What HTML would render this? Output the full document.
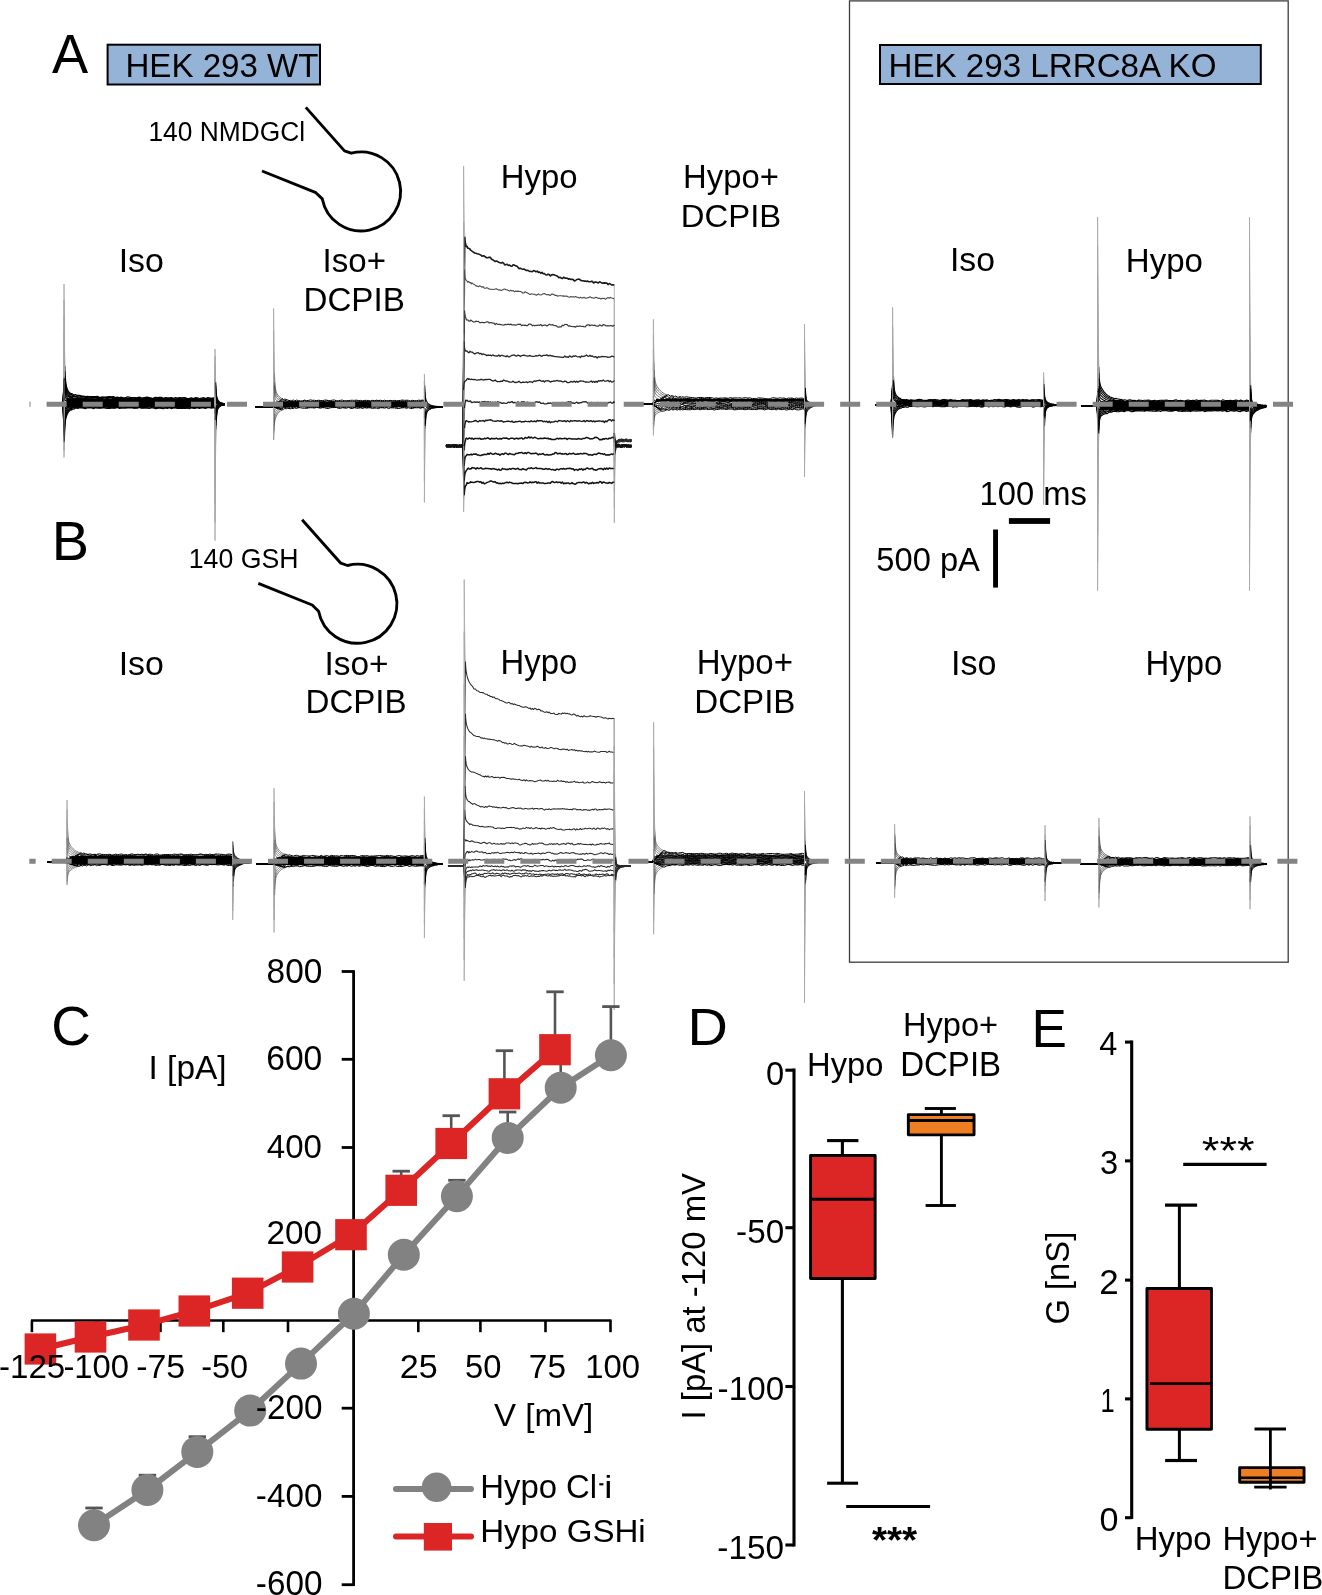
<!DOCTYPE html>
<html><head><meta charset="utf-8"><style>html,body{margin:0;padding:0;background:#fff;overflow:hidden}svg{display:block;will-change:transform}</style></head>
<body><svg width="1322" height="1595" viewBox="0 0 1322 1595" font-family="Liberation Sans, sans-serif">
<rect width="1322" height="1595" fill="#fff"/>
<rect x="849.5" y="0.9" width="438.7" height="961.3" fill="none" stroke="#3c3c3c" stroke-width="1.3"/>
<g fill="none" stroke-linejoin="round">
<rect x="66.5" y="398.5" width="148" height="9.0" fill="#000"/>
<polyline points="47.0,404.3 49.0,404.3 51.0,404.6 53.0,404.3 55.0,404.3 57.0,404.4 59.0,404.1 61.0,404.3 63.0,404.4 64.9,366.4 65.2,374.6 65.5,379.6 65.8,382.7 66.1,384.8 66.8,387.8 67.5,389.5 68.2,390.8 68.9,391.8 69.6,392.6 70.3,393.2 71.0,393.9 71.7,393.7 72.4,393.9 73.8,395.0 75.2,394.7 76.6,395.1 78.0,395.4 79.4,395.3 81.4,395.9 83.4,396.0 85.4,396.6 87.4,396.3 89.4,396.5 91.4,396.5 93.4,396.7 95.4,396.6 97.4,396.4 99.4,397.3 101.4,397.4 103.4,397.3 105.4,397.2 107.4,396.8 109.4,396.7 111.4,396.8 113.4,396.6 115.4,397.5 117.4,397.1 119.4,397.7 121.4,397.2 123.4,397.9 125.4,397.8 127.4,396.8 129.4,397.1 131.4,398.0 133.4,397.5 135.4,398.1 137.4,397.5 139.4,397.1 141.4,397.8 143.4,398.0 145.4,397.4 147.4,397.2 149.4,397.5 151.4,398.3 153.4,398.1 155.4,397.3 157.4,397.5 159.4,397.3 161.4,397.3 163.4,398.2 165.4,397.5 167.4,397.9 169.4,397.8 171.4,397.5 173.4,398.2 175.4,397.5 177.4,398.1 179.4,397.5 181.4,397.9 183.4,397.6 185.4,397.7 187.4,398.6 189.4,398.4 191.4,397.8 193.4,398.5 195.4,397.7 197.4,397.9 199.4,398.5 201.4,398.2 203.4,397.6 205.4,398.6 207.4,397.7 209.4,397.8 211.4,398.4 213.4,397.9 215.0,398.1" stroke="#000" stroke-width="1.2"/>
<polyline points="216.2,422.9 216.5,417.1 216.8,413.7 217.1,411.5 217.8,409.0 218.5,407.8 219.2,407.0 219.9,406.4 220.6,405.8 221.3,405.4 222.0,405.1 222.7,405.2 223.4,404.8 224.8,404.8" stroke="#000" stroke-width="1.2"/>
<polyline points="64.0,404.3 64.0,284.0 64.0,284.0 64.3,327.7 64.6,352.3 64.9,366.4" stroke="#a6a6a6" stroke-width="0.8"/>
<polyline points="215.0,398.1 215.0,540.6 215.0,540.6 215.3,482.9 215.6,450.9 215.9,433.0 216.2,422.9" stroke="#a6a6a6" stroke-width="0.8"/>
<polyline points="47.0,404.2 49.0,404.3 51.0,404.6 53.0,404.3 55.0,404.3 57.0,404.5 59.0,404.1 61.0,404.1 63.0,404.5 64.9,371.1 65.2,378.2 65.5,382.5 65.8,385.2 66.1,387.1 66.8,389.6 67.5,391.2 68.2,392.3 68.9,393.1 69.6,393.8 70.3,394.3 71.0,394.3 71.7,394.6 72.4,396.0 73.8,395.5 75.2,396.4 76.6,396.1 78.0,396.9 79.4,396.8 81.4,396.5 83.4,396.5 85.4,397.2 87.4,396.6 89.4,396.8 91.4,397.3 93.4,397.7 95.4,397.5 97.4,397.2 99.4,398.0 101.4,397.2 103.4,397.0 105.4,397.4 107.4,397.6 109.4,397.2 111.4,397.4 113.4,397.7 115.4,398.0 117.4,397.5 119.4,397.8 121.4,398.5 123.4,398.6 125.4,398.3 127.4,398.4 129.4,398.3 131.4,397.8 133.4,397.7 135.4,397.7 137.4,398.8 139.4,398.5 141.4,398.9 143.4,397.8 145.4,398.5 147.4,398.4 149.4,398.7 151.4,398.2 153.4,399.0 155.4,398.0 157.4,398.5 159.4,398.8 161.4,399.0 163.4,398.8 165.4,398.8 167.4,398.9 169.4,399.1 171.4,398.4 173.4,398.8 175.4,399.1 177.4,399.1 179.4,398.5 181.4,399.0 183.4,399.1 185.4,398.7 187.4,398.8 189.4,398.5 191.4,398.8 193.4,398.8 195.4,398.2 197.4,398.9 199.4,399.3 201.4,399.2 203.4,399.0 205.4,398.6 207.4,399.0 209.4,398.8 211.4,398.7 213.4,399.2 215.0,398.7" stroke="#000" stroke-width="1.2"/>
<polyline points="215.9,429.2 216.2,420.4 216.5,415.4 216.8,412.4 217.1,410.6 217.8,408.4 218.5,407.3 219.2,406.6 219.9,405.9 220.6,405.9 221.3,405.2 222.0,405.3 222.7,405.0 223.4,404.7 224.8,404.8" stroke="#000" stroke-width="1.2"/>
<polyline points="64.0,404.3 64.0,300.0 64.0,300.0 64.3,337.7 64.6,359.0 64.9,371.1" stroke="#a6a6a6" stroke-width="0.8"/>
<polyline points="215.0,398.7 215.0,522.4 215.0,522.4 215.3,472.5 215.6,444.7 215.9,429.2" stroke="#a6a6a6" stroke-width="0.8"/>
<polyline points="47.0,404.3 49.0,404.4 51.0,404.6 53.0,404.2 55.0,404.0 57.0,404.2 59.0,404.4 61.0,404.1 63.0,404.1 64.9,375.9 65.2,381.8 65.5,385.5 65.8,387.8 66.1,389.3 66.8,391.5 67.5,392.8 68.2,393.7 68.9,394.4 69.6,395.0 70.3,396.0 71.0,396.3 71.7,396.0 72.4,396.5 73.8,396.6 75.2,396.6 76.6,397.2 78.0,397.8 79.4,397.9 81.4,397.8 83.4,398.2 85.4,397.5 87.4,397.5 89.4,397.9 91.4,397.7 93.4,397.7 95.4,398.0 97.4,398.3 99.4,398.2 101.4,398.1 103.4,398.8 105.4,399.0 107.4,398.4 109.4,398.0 111.4,398.0 113.4,399.0 115.4,398.1 117.4,398.9 119.4,398.8 121.4,398.5 123.4,399.1 125.4,398.2 127.4,398.4 129.4,398.8 131.4,398.3 133.4,399.3 135.4,398.6 137.4,398.5 139.4,398.4 141.4,399.2 143.4,399.0 145.4,399.2 147.4,399.3 149.4,399.5 151.4,399.7 153.4,399.3 155.4,398.8 157.4,399.1 159.4,398.8 161.4,398.6 163.4,399.2 165.4,399.5 167.4,398.8 169.4,399.0 171.4,399.1 173.4,399.5 175.4,399.3 177.4,399.4 179.4,399.6 181.4,399.2 183.4,399.7 185.4,399.8 187.4,398.8 189.4,399.9 191.4,399.6 193.4,398.9 195.4,399.3 197.4,399.5 199.4,399.9 201.4,399.2 203.4,399.5 205.4,399.8 207.4,399.7 209.4,399.9 211.4,399.4 213.4,399.6 215.0,399.4" stroke="#000" stroke-width="1.2"/>
<polyline points="215.9,425.4 216.2,418.0 216.5,413.7 216.8,411.2 217.1,409.6 217.8,407.8 218.5,406.9 219.2,406.1 219.9,406.0 220.6,405.7 221.3,405.4 222.0,405.2 222.7,404.7 223.4,405.0 224.8,404.9" stroke="#000" stroke-width="1.2"/>
<polyline points="64.0,404.3 64.0,316.1 64.0,316.1 64.3,347.8 64.6,365.6 64.9,375.9" stroke="#a6a6a6" stroke-width="0.8"/>
<polyline points="215.0,399.4 215.0,504.3 215.0,504.3 215.3,462.0 215.6,438.5 215.9,425.4" stroke="#a6a6a6" stroke-width="0.8"/>
<polyline points="47.0,404.6 49.0,404.3 51.0,404.5 53.0,404.2 55.0,404.5 57.0,404.5 59.0,404.2 61.0,404.0 63.0,404.3 64.6,372.3 64.9,380.6 65.2,385.5 65.5,388.4 65.8,390.3 66.1,391.5 66.8,393.3 67.5,394.4 68.2,395.2 68.9,395.8 69.6,396.6 70.3,396.2 71.0,396.5 71.7,397.2 72.4,397.6 73.8,398.1 75.2,398.1 76.6,398.6 78.0,398.2 79.4,398.8 81.4,397.9 83.4,398.1 85.4,398.6 87.4,398.4 89.4,399.0 91.4,398.9 93.4,398.9 95.4,399.3 97.4,399.0 99.4,398.8 101.4,398.9 103.4,399.5 105.4,399.6 107.4,398.8 109.4,399.6 111.4,399.8 113.4,399.3 115.4,399.4 117.4,399.0 119.4,399.5 121.4,399.4 123.4,399.6 125.4,398.9 127.4,400.1 129.4,399.6 131.4,399.5 133.4,400.0 135.4,399.7 137.4,399.6 139.4,399.9 141.4,399.2 143.4,399.8 145.4,399.6 147.4,400.3 149.4,400.3 151.4,399.5 153.4,399.8 155.4,399.4 157.4,399.8 159.4,400.2 161.4,400.3 163.4,399.9 165.4,399.7 167.4,399.5 169.4,400.1 171.4,400.4 173.4,399.5 175.4,400.3 177.4,399.4 179.4,399.6 181.4,399.6 183.4,400.2 185.4,399.8 187.4,399.8 189.4,400.1 191.4,399.5 193.4,400.3 195.4,399.6 197.4,400.0 199.4,399.7 201.4,399.7 203.4,400.1 205.4,400.0 207.4,399.9 209.4,400.0 211.4,400.1 213.4,399.7 215.0,400.1" stroke="#000" stroke-width="1.2"/>
<polyline points="215.9,421.5 216.2,415.5 216.5,412.0 216.8,409.9 217.1,408.6 217.8,407.1 218.5,406.4 219.2,405.7 219.9,405.6 220.6,405.4 221.3,405.1 222.0,405.1 222.7,404.9 223.4,404.9 224.8,404.4" stroke="#000" stroke-width="1.2"/>
<polyline points="64.0,404.3 64.0,332.1 64.0,332.1 64.3,357.8 64.6,372.3" stroke="#a6a6a6" stroke-width="0.8"/>
<polyline points="215.0,400.1 215.0,486.1 215.0,486.1 215.3,451.5 215.6,432.3 215.9,421.5" stroke="#a6a6a6" stroke-width="0.8"/>
<polyline points="47.0,404.4 49.0,404.5 51.0,404.5 53.0,404.2 55.0,404.2 57.0,404.6 59.0,404.1 61.0,404.6 63.0,404.5 64.6,379.0 64.9,385.4 65.2,389.1 65.5,391.4 65.8,392.8 66.1,393.8 66.8,395.2 67.5,396.0 68.2,396.6 68.9,396.6 69.6,397.3 70.3,398.0 71.0,397.4 71.7,397.8 72.4,398.6 73.8,399.1 75.2,399.3 76.6,398.5 78.0,399.0 79.4,399.4 81.4,399.2 83.4,399.5 85.4,399.0 87.4,398.9 89.4,399.0 91.4,399.0 93.4,399.7 95.4,399.7 97.4,399.8 99.4,399.3 101.4,399.4 103.4,399.5 105.4,400.3 107.4,400.5 109.4,400.5 111.4,399.5 113.4,399.5 115.4,400.6 117.4,400.1 119.4,400.4 121.4,400.0 123.4,400.1 125.4,400.2 127.4,400.2 129.4,400.4 131.4,399.7 133.4,400.6 135.4,400.7 137.4,400.0 139.4,400.3 141.4,400.7 143.4,400.3 145.4,400.1 147.4,400.0 149.4,400.5 151.4,399.9 153.4,401.0 155.4,400.9 157.4,400.8 159.4,401.0 161.4,400.7 163.4,400.4 165.4,400.7 167.4,400.6 169.4,401.2 171.4,401.0 173.4,400.3 175.4,401.1 177.4,400.9 179.4,401.0 181.4,401.0 183.4,400.5 185.4,401.1 187.4,401.1 189.4,400.9 191.4,401.0 193.4,401.0 195.4,400.6 197.4,401.0 199.4,400.2 201.4,400.5 203.4,400.7 205.4,400.1 207.4,400.5 209.4,400.9 211.4,400.9 213.4,400.4 215.0,400.7" stroke="#000" stroke-width="1.2"/>
<polyline points="215.6,426.1 215.9,417.7 216.2,413.0 216.5,410.3 216.8,408.7 217.1,407.7 217.8,406.5 218.5,406.2 219.2,405.7 219.9,405.2 220.6,405.2 221.3,405.0 222.0,404.8 222.7,404.6 223.4,404.9 224.8,404.6" stroke="#000" stroke-width="1.2"/>
<polyline points="64.0,404.3 64.0,348.2 64.0,348.2 64.3,367.9 64.6,379.0" stroke="#a6a6a6" stroke-width="0.8"/>
<polyline points="215.0,400.7 215.0,467.9 215.0,467.9 215.3,441.0 215.6,426.1" stroke="#a6a6a6" stroke-width="0.8"/>
<polyline points="47.0,404.4 49.0,404.5 51.0,404.6 53.0,404.0 55.0,404.4 57.0,404.4 59.0,404.2 61.0,404.2 63.0,404.0 64.3,377.9 64.6,385.7 64.9,390.1 65.2,392.7 65.5,394.3 65.8,395.3 66.1,396.0 66.8,397.0 67.5,398.2 68.2,398.1 68.9,399.0 69.6,398.8 70.3,399.2 71.0,398.6 71.7,399.3 72.4,399.6 73.8,399.0 75.2,400.2 76.6,399.4 78.0,399.8 79.4,399.5 81.4,400.0 83.4,400.2 85.4,399.6 87.4,400.7 89.4,400.2 91.4,400.3 93.4,400.5 95.4,400.2 97.4,400.2 99.4,400.7 101.4,400.6 103.4,400.3 105.4,400.9 107.4,400.4 109.4,400.1 111.4,400.4 113.4,400.2 115.4,400.4 117.4,401.1 119.4,400.7 121.4,401.3 123.4,401.2 125.4,400.4 127.4,401.5 129.4,401.5 131.4,400.5 133.4,401.5 135.4,400.9 137.4,401.0 139.4,401.6 141.4,400.8 143.4,401.1 145.4,401.6 147.4,401.4 149.4,401.1 151.4,401.7 153.4,401.6 155.4,401.3 157.4,400.7 159.4,401.4 161.4,401.2 163.4,400.9 165.4,400.7 167.4,401.3 169.4,400.8 171.4,401.2 173.4,401.5 175.4,401.2 177.4,401.0 179.4,401.4 181.4,401.2 183.4,401.7 185.4,401.4 187.4,401.9 189.4,401.9 191.4,401.6 193.4,401.0 195.4,400.9 197.4,401.8 199.4,401.7 201.4,401.5 203.4,401.2 205.4,401.1 207.4,401.6 209.4,401.5 211.4,401.5 213.4,401.5 215.0,401.4" stroke="#000" stroke-width="1.2"/>
<polyline points="215.6,419.8 215.9,413.9 216.2,410.5 216.5,408.6 216.8,407.4 217.1,406.7 217.8,406.0 218.5,405.3 219.2,405.0 219.9,405.3 220.6,405.1 221.3,405.0 222.0,404.4 222.7,404.3 223.4,404.4 224.8,404.4" stroke="#000" stroke-width="1.2"/>
<polyline points="64.0,404.3 64.0,364.2 64.0,364.2 64.3,377.9" stroke="#a6a6a6" stroke-width="0.8"/>
<polyline points="215.0,401.4 215.0,449.7 215.0,449.7 215.3,430.5 215.6,419.8" stroke="#a6a6a6" stroke-width="0.8"/>
<polyline points="47.0,404.4 49.0,404.1 51.0,404.3 53.0,404.0 55.0,404.1 57.0,404.4 59.0,404.3 61.0,404.4 63.0,404.2 64.0,380.2 64.3,388.0 64.6,392.4 64.9,394.9 65.2,396.4 65.5,397.3 65.8,397.9 66.1,398.3 66.8,399.2 67.5,399.4 68.2,399.8 68.9,399.3 69.6,399.8 70.3,399.7 71.0,400.5 71.7,400.1 72.4,400.5 73.8,401.0 75.2,400.3 76.6,400.7 78.0,401.0 79.4,401.2 81.4,400.7 83.4,400.7 85.4,400.4 87.4,401.4 89.4,400.5 91.4,400.6 93.4,401.2 95.4,401.1 97.4,401.4 99.4,401.0 101.4,401.6 103.4,400.8 105.4,401.0 107.4,401.6 109.4,400.9 111.4,401.2 113.4,401.7 115.4,401.7 117.4,401.3 119.4,401.1 121.4,401.4 123.4,401.9 125.4,401.5 127.4,401.2 129.4,401.9 131.4,401.8 133.4,402.2 135.4,402.3 137.4,402.2 139.4,401.7 141.4,402.1 143.4,401.6 145.4,401.6 147.4,401.7 149.4,402.4 151.4,402.3 153.4,401.6 155.4,401.7 157.4,401.7 159.4,401.7 161.4,401.8 163.4,401.8 165.4,401.6 167.4,402.0 169.4,402.3 171.4,402.0 173.4,402.4 175.4,402.0 177.4,401.6 179.4,402.3 181.4,402.4 183.4,401.7 185.4,401.4 187.4,402.0 189.4,402.1 191.4,402.1 193.4,402.6 195.4,402.2 197.4,402.4 199.4,401.5 201.4,402.1 203.4,402.4 205.4,401.5 207.4,401.5 209.4,402.3 211.4,402.5 213.4,401.6 215.0,402.1" stroke="#000" stroke-width="1.2"/>
<polyline points="215.3,420.0 215.6,413.6 215.9,410.0 216.2,408.0 216.5,406.9 216.8,406.3 217.1,405.5 217.8,405.4 218.5,405.1 219.2,404.7 219.9,404.6 220.6,404.8 221.3,404.6 222.0,404.7 222.7,404.4 223.4,404.3 224.8,404.7" stroke="#000" stroke-width="1.2"/>
<polyline points="64.0,404.3 64.0,380.2 64.0,380.2" stroke="#a6a6a6" stroke-width="0.8"/>
<polyline points="215.0,402.1 215.0,431.6 215.0,431.6 215.3,420.0" stroke="#a6a6a6" stroke-width="0.8"/>
<polyline points="47.0,404.4 49.0,404.3 51.0,404.3 53.0,404.4 55.0,404.4 57.0,404.5 59.0,404.2 61.0,404.5 63.0,404.4 64.0,396.3 64.0,396.3 64.3,398.0 64.6,399.0 64.9,400.1 65.2,400.5 65.5,400.4 65.8,400.4 66.1,400.7 66.8,401.0 67.5,400.7 68.2,400.8 68.9,400.6 69.6,401.4 70.3,401.7 71.0,401.0 71.7,400.8 72.4,400.9 73.8,401.3 75.2,401.2 76.6,402.0 78.0,401.0 79.4,401.3 81.4,401.1 83.4,401.8 85.4,402.0 87.4,401.4 89.4,401.3 91.4,401.8 93.4,402.0 95.4,402.4 97.4,401.4 99.4,401.5 101.4,401.7 103.4,401.7 105.4,401.8 107.4,402.4 109.4,402.3 111.4,401.8 113.4,401.8 115.4,402.0 117.4,401.9 119.4,402.6 121.4,402.1 123.4,402.4 125.4,402.7 127.4,402.3 129.4,402.1 131.4,402.9 133.4,402.9 135.4,402.2 137.4,402.5 139.4,403.0 141.4,402.4 143.4,402.1 145.4,402.0 147.4,403.0 149.4,402.9 151.4,402.4 153.4,402.6 155.4,402.6 157.4,402.3 159.4,403.2 161.4,402.8 163.4,402.3 165.4,402.0 167.4,402.6 169.4,402.5 171.4,403.0 173.4,402.9 175.4,402.8 177.4,402.2 179.4,402.2 181.4,402.4 183.4,402.4 185.4,403.1 187.4,402.7 189.4,402.8 191.4,403.3 193.4,402.4 195.4,402.7 197.4,402.3 199.4,403.0 201.4,402.1 203.4,403.1 205.4,403.1 207.4,403.1 209.4,402.2 211.4,402.4 213.4,403.0 215.0,402.7" stroke="#000" stroke-width="1.2"/>
<polyline points="215.0,413.4 215.0,413.4 215.3,409.5 215.6,407.4 215.9,406.0 216.2,405.5 216.5,405.1 216.8,405.2 217.1,404.8 217.8,404.8 218.5,404.4 219.2,404.7 219.9,404.4 220.6,404.7 221.3,404.1 222.0,404.6 222.7,404.2 223.4,404.4 224.8,404.3" stroke="#000" stroke-width="1.2"/>
<polyline points="64.0,404.3 64.0,396.3" stroke="#a6a6a6" stroke-width="0.8"/>
<polyline points="215.0,402.7 215.0,413.4" stroke="#a6a6a6" stroke-width="0.8"/>
<polyline points="47.0,404.1 49.0,404.5 51.0,404.2 53.0,404.2 55.0,404.0 57.0,404.2 59.0,404.3 61.0,404.4 63.0,404.2 64.0,407.8 64.0,407.8 64.3,405.6 64.6,404.4 64.9,403.6 65.2,403.8 65.5,403.3 65.8,403.0 66.1,402.1 66.8,402.4 67.5,402.7 68.2,402.0 68.9,402.4 69.6,402.2 70.3,401.7 71.0,402.9 71.7,402.6 72.4,401.9 73.8,402.4 75.2,402.0 76.6,402.2 78.0,402.4 79.4,402.1 81.4,402.2 83.4,402.3 85.4,402.7 87.4,402.2 89.4,402.2 91.4,402.9 93.4,402.4 95.4,403.2 97.4,402.8 99.4,403.0 101.4,402.6 103.4,403.2 105.4,402.3 107.4,402.4 109.4,402.4 111.4,403.1 113.4,403.2 115.4,402.6 117.4,402.9 119.4,403.4 121.4,403.1 123.4,402.5 125.4,402.7 127.4,402.7 129.4,402.6 131.4,403.0 133.4,402.6 135.4,403.6 137.4,403.0 139.4,403.2 141.4,403.3 143.4,403.5 145.4,403.6 147.4,403.1 149.4,403.0 151.4,403.1 153.4,402.6 155.4,403.1 157.4,403.5 159.4,403.8 161.4,403.6 163.4,403.5 165.4,403.4 167.4,402.7 169.4,403.1 171.4,403.1 173.4,403.5 175.4,402.8 177.4,403.2 179.4,403.3 181.4,403.7 183.4,403.7 185.4,403.5 187.4,402.9 189.4,403.7 191.4,403.8 193.4,403.4 195.4,403.2 197.4,403.4 199.4,402.9 201.4,403.6 203.4,403.9 205.4,403.4 207.4,403.6 209.4,403.8 211.4,403.0 213.4,403.9 215.0,403.4" stroke="#000" stroke-width="1.2"/>
<polyline points="215.0,400.6 215.0,400.6 215.3,402.0 215.6,402.9 215.9,403.1 216.2,403.3 216.5,403.6 216.8,403.9 217.1,404.0 217.8,403.9 218.5,404.3 219.2,404.0 219.9,404.1 220.6,404.0 221.3,404.5 222.0,404.0 222.7,404.5 223.4,404.3 224.8,404.3" stroke="#000" stroke-width="1.2"/>
<polyline points="64.0,404.3 64.0,407.8" stroke="#a6a6a6" stroke-width="0.8"/>
<polyline points="215.0,403.4 215.0,400.6" stroke="#a6a6a6" stroke-width="0.8"/>
<polyline points="47.0,404.3 49.0,404.2 51.0,404.5 53.0,404.6 55.0,404.5 57.0,404.4 59.0,404.1 61.0,404.5 63.0,404.2 64.0,414.9 64.0,414.9 64.3,410.8 64.6,408.3 64.9,406.9 65.2,406.0 65.5,405.5 65.8,405.1 66.1,404.2 66.8,403.9 67.5,404.6 68.2,404.3 68.9,403.8 69.6,403.3 70.3,403.6 71.0,403.6 71.7,403.1 72.4,403.3 73.8,403.6 75.2,402.6 76.6,402.8 78.0,403.1 79.4,402.8 81.4,403.1 83.4,403.3 85.4,402.9 87.4,403.3 89.4,403.1 91.4,403.5 93.4,403.2 95.4,403.6 97.4,402.9 99.4,403.7 101.4,403.1 103.4,404.1 105.4,403.7 107.4,403.6 109.4,403.5 111.4,403.8 113.4,403.9 115.4,404.0 117.4,404.0 119.4,403.7 121.4,404.3 123.4,404.1 125.4,404.2 127.4,403.7 129.4,403.7 131.4,403.9 133.4,404.3 135.4,403.8 137.4,403.9 139.4,403.8 141.4,404.3 143.4,403.6 145.4,403.3 147.4,404.2 149.4,404.4 151.4,404.2 153.4,404.0 155.4,404.2 157.4,403.7 159.4,404.0 161.4,403.4 163.4,403.5 165.4,403.9 167.4,404.0 169.4,403.8 171.4,403.4 173.4,404.2 175.4,404.0 177.4,403.7 179.4,403.7 181.4,403.9 183.4,403.7 185.4,403.5 187.4,404.5 189.4,404.6 191.4,404.2 193.4,404.4 195.4,403.9 197.4,404.4 199.4,403.7 201.4,404.3 203.4,404.1 205.4,404.5 207.4,403.5 209.4,404.4 211.4,403.6 213.4,404.1 215.0,404.0" stroke="#000" stroke-width="1.2"/>
<polyline points="215.0,393.2 215.0,393.2 215.3,397.5 215.6,399.9 215.9,401.2 216.2,402.0 216.5,402.8 216.8,402.6 217.1,402.9 217.8,403.3 218.5,403.5 219.2,403.5 219.9,404.1 220.6,404.2 221.3,404.0 222.0,404.0 222.7,404.2 223.4,403.9 224.8,403.9" stroke="#000" stroke-width="1.2"/>
<polyline points="64.0,404.3 64.0,414.9" stroke="#a6a6a6" stroke-width="0.8"/>
<polyline points="215.0,404.0 215.0,393.2" stroke="#a6a6a6" stroke-width="0.8"/>
<polyline points="47.0,404.5 49.0,404.2 51.0,404.3 53.0,404.6 55.0,404.6 57.0,404.3 59.0,404.1 61.0,404.2 63.0,404.6 64.0,422.0 64.3,415.9 64.6,412.3 64.9,410.2 65.2,408.8 65.5,408.0 65.8,407.3 66.1,406.9 66.8,406.1 67.5,405.3 68.2,405.4 68.9,404.6 69.6,405.2 70.3,404.0 71.0,403.9 71.7,404.6 72.4,404.0 73.8,404.6 75.2,404.5 76.6,404.3 78.0,403.6 79.4,404.2 81.4,404.6 83.4,404.0 85.4,403.6 87.4,403.8 89.4,403.9 91.4,404.4 93.4,403.8 95.4,403.8 97.4,403.9 99.4,404.4 101.4,404.6 103.4,404.1 105.4,404.5 107.4,404.8 109.4,404.5 111.4,404.0 113.4,404.1 115.4,404.9 117.4,404.6 119.4,404.2 121.4,404.6 123.4,404.0 125.4,405.0 127.4,404.4 129.4,404.5 131.4,404.5 133.4,404.0 135.4,404.6 137.4,404.3 139.4,404.2 141.4,404.9 143.4,404.1 145.4,404.3 147.4,404.9 149.4,404.3 151.4,404.3 153.4,404.6 155.4,404.2 157.4,405.1 159.4,405.2 161.4,404.1 163.4,404.6 165.4,404.9 167.4,404.5 169.4,405.1 171.4,404.6 173.4,404.3 175.4,404.7 177.4,404.8 179.4,404.5 181.4,404.8 183.4,405.0 185.4,404.7 187.4,404.7 189.4,405.1 191.4,404.9 193.4,404.7 195.4,405.2 197.4,404.3 199.4,405.0 201.4,404.3 203.4,404.8 205.4,404.4 207.4,404.6 209.4,405.0 211.4,405.0 213.4,405.0 215.0,404.7" stroke="#000" stroke-width="1.2"/>
<polyline points="215.0,385.9 215.3,392.9 215.6,396.9 215.9,399.2 216.2,400.5 216.5,401.4 216.8,401.9 217.1,402.3 217.8,402.7 218.5,403.2 219.2,403.2 219.9,403.6 220.6,403.7 221.3,403.6 222.0,404.0 222.7,404.2 223.4,404.1 224.8,404.4" stroke="#000" stroke-width="1.2"/>
<polyline points="64.0,404.3 64.0,422.0 64.0,422.0" stroke="#a6a6a6" stroke-width="0.8"/>
<polyline points="215.0,404.7 215.0,385.9 215.0,385.9" stroke="#a6a6a6" stroke-width="0.8"/>
<polyline points="47.0,404.1 49.0,404.1 51.0,404.0 53.0,404.3 55.0,404.3 57.0,404.3 59.0,404.2 61.0,404.5 63.0,404.0 64.0,429.1 64.3,421.0 64.6,416.3 64.9,413.4 65.2,411.7 65.5,410.5 65.8,409.6 66.1,409.0 66.8,407.9 67.5,407.2 68.2,406.7 68.9,406.3 69.6,405.7 70.3,405.8 71.0,405.0 71.7,405.7 72.4,404.8 73.8,404.7 75.2,404.5 76.6,405.1 78.0,405.2 79.4,405.2 81.4,404.3 83.4,404.7 85.4,404.7 87.4,404.5 89.4,405.5 91.4,404.4 93.4,404.9 95.4,405.3 97.4,405.6 99.4,404.6 101.4,405.0 103.4,405.3 105.4,404.5 107.4,404.8 109.4,405.5 111.4,404.7 113.4,405.0 115.4,404.9 117.4,405.0 119.4,404.6 121.4,404.6 123.4,405.8 125.4,405.5 127.4,405.5 129.4,404.9 131.4,404.9 133.4,405.3 135.4,404.9 137.4,405.2 139.4,405.7 141.4,405.1 143.4,405.0 145.4,405.8 147.4,405.4 149.4,404.7 151.4,405.1 153.4,405.4 155.4,404.7 157.4,405.1 159.4,405.5 161.4,405.7 163.4,405.4 165.4,405.8 167.4,405.3 169.4,405.2 171.4,405.7 173.4,405.2 175.4,405.7 177.4,405.0 179.4,405.1 181.4,404.9 183.4,405.4 185.4,404.9 187.4,405.0 189.4,405.0 191.4,405.3 193.4,405.1 195.4,405.3 197.4,405.9 199.4,405.6 201.4,405.8 203.4,405.0 205.4,405.2 207.4,404.8 209.4,405.6 211.4,405.2 213.4,405.1 215.0,405.4" stroke="#000" stroke-width="1.2"/>
<polyline points="215.3,388.3 215.6,393.9 215.9,397.1 216.2,399.0 216.5,400.2 216.8,401.0 217.1,401.5 217.8,402.2 218.5,402.4 219.2,402.9 219.9,403.2 220.6,403.5 221.3,403.9 222.0,403.9 222.7,403.8 223.4,403.9 224.8,403.9" stroke="#000" stroke-width="1.2"/>
<polyline points="64.0,404.3 64.0,429.1 64.0,429.1" stroke="#a6a6a6" stroke-width="0.8"/>
<polyline points="215.0,405.4 215.0,378.5 215.0,378.5 215.3,388.3" stroke="#a6a6a6" stroke-width="0.8"/>
<polyline points="47.0,404.6 49.0,404.2 51.0,404.5 53.0,404.4 55.0,404.5 57.0,404.0 59.0,404.2 61.0,404.2 63.0,404.0 64.3,426.2 64.6,420.3 64.9,416.7 65.2,414.5 65.5,413.0 65.8,411.9 66.1,411.1 66.8,409.8 67.5,408.8 68.2,408.1 68.9,407.6 69.6,406.6 70.3,406.6 71.0,406.4 71.7,406.4 72.4,405.7 73.8,406.2 75.2,405.5 76.6,406.0 78.0,405.9 79.4,405.2 81.4,405.3 83.4,405.4 85.4,405.9 87.4,405.6 89.4,405.5 91.4,406.1 93.4,405.4 95.4,405.5 97.4,405.5 99.4,405.4 101.4,405.2 103.4,405.2 105.4,405.9 107.4,405.9 109.4,406.2 111.4,406.4 113.4,405.6 115.4,406.0 117.4,406.3 119.4,405.5 121.4,406.1 123.4,406.1 125.4,406.4 127.4,406.3 129.4,405.6 131.4,406.1 133.4,405.4 135.4,405.8 137.4,405.8 139.4,405.4 141.4,405.8 143.4,405.7 145.4,405.9 147.4,405.7 149.4,405.5 151.4,405.8 153.4,405.9 155.4,405.6 157.4,406.2 159.4,405.7 161.4,405.5 163.4,405.8 165.4,405.9 167.4,405.6 169.4,406.1 171.4,406.2 173.4,406.0 175.4,406.2 177.4,405.4 179.4,405.9 181.4,405.8 183.4,405.5 185.4,405.9 187.4,405.5 189.4,406.0 191.4,406.1 193.4,406.0 195.4,405.8 197.4,405.7 199.4,405.4 201.4,405.8 203.4,406.5 205.4,406.1 207.4,405.7 209.4,406.2 211.4,405.6 213.4,406.0 215.0,406.0" stroke="#000" stroke-width="1.2"/>
<polyline points="215.3,383.8 215.6,391.0 215.9,395.1 216.2,397.5 216.5,399.0 216.8,400.0 217.1,400.7 217.8,401.7 218.5,402.3 219.2,402.8 219.9,403.3 220.6,403.2 221.3,403.6 222.0,403.9 222.7,404.0 223.4,404.0 224.8,404.1" stroke="#000" stroke-width="1.2"/>
<polyline points="64.0,404.3 64.0,436.2 64.0,436.2 64.3,426.2" stroke="#a6a6a6" stroke-width="0.8"/>
<polyline points="215.0,406.0 215.0,371.1 215.0,371.1 215.3,383.8" stroke="#a6a6a6" stroke-width="0.8"/>
<polyline points="47.0,404.2 49.0,404.2 51.0,404.2 53.0,404.5 55.0,404.5 57.0,404.2 59.0,404.5 61.0,404.0 63.0,404.1 64.3,431.3 64.6,424.3 64.9,420.0 65.2,417.3 65.5,415.5 65.8,414.2 66.1,413.2 66.8,411.6 67.5,410.4 68.2,409.6 68.9,408.9 69.6,408.4 70.3,407.8 71.0,407.3 71.7,407.3 72.4,407.3 73.8,406.9 75.2,406.8 76.6,406.6 78.0,406.9 79.4,407.0 81.4,406.2 83.4,406.3 85.4,406.9 87.4,406.2 89.4,406.7 91.4,406.7 93.4,406.7 95.4,407.0 97.4,406.9 99.4,406.1 101.4,406.7 103.4,406.5 105.4,406.6 107.4,406.4 109.4,406.3 111.4,406.8 113.4,406.6 115.4,406.2 117.4,406.3 119.4,406.4 121.4,406.2 123.4,406.6 125.4,406.1 127.4,406.1 129.4,406.1 131.4,406.1 133.4,406.8 135.4,406.1 137.4,406.6 139.4,406.9 141.4,406.6 143.4,406.2 145.4,407.1 147.4,407.1 149.4,406.1 151.4,406.3 153.4,406.6 155.4,407.0 157.4,406.5 159.4,406.9 161.4,406.3 163.4,406.9 165.4,406.4 167.4,406.5 169.4,407.0 171.4,407.1 173.4,407.1 175.4,406.7 177.4,406.6 179.4,406.9 181.4,406.8 183.4,407.1 185.4,407.0 187.4,406.2 189.4,406.5 191.4,406.9 193.4,406.3 195.4,406.3 197.4,406.1 199.4,406.8 201.4,407.2 203.4,407.2 205.4,406.2 207.4,406.9 209.4,406.6 211.4,406.8 213.4,406.6 215.0,406.7" stroke="#000" stroke-width="1.2"/>
<polyline points="215.3,379.2 215.6,388.0 215.9,393.0 216.2,396.0 216.5,397.9 216.8,399.1 217.1,399.9 217.8,401.1 218.5,401.8 219.2,402.6 219.9,403.0 220.6,402.8 221.3,403.5 222.0,403.3 222.7,403.4 223.4,403.7 224.8,404.1" stroke="#000" stroke-width="1.2"/>
<polyline points="64.0,404.3 64.0,443.3 64.0,443.3 64.3,431.3" stroke="#a6a6a6" stroke-width="0.8"/>
<polyline points="215.0,406.7 215.0,363.7 215.0,363.7 215.3,379.2" stroke="#a6a6a6" stroke-width="0.8"/>
<polyline points="47.0,404.6 49.0,404.1 51.0,404.2 53.0,404.0 55.0,404.3 57.0,404.3 59.0,404.2 61.0,404.2 63.0,404.5 64.3,436.4 64.6,428.2 64.9,423.3 65.2,420.1 65.5,418.0 65.8,416.5 66.1,415.3 66.8,413.4 67.5,412.0 68.2,411.0 68.9,410.2 69.6,409.6 70.3,408.7 71.0,408.2 71.7,408.9 72.4,407.8 73.8,407.8 75.2,407.1 76.6,407.2 78.0,406.8 79.4,407.4 81.4,406.8 83.4,407.4 85.4,407.0 87.4,406.9 89.4,407.2 91.4,407.1 93.4,406.9 95.4,406.7 97.4,406.7 99.4,407.7 101.4,407.0 103.4,406.8 105.4,406.9 107.4,407.2 109.4,407.9 111.4,406.9 113.4,407.7 115.4,407.3 117.4,407.2 119.4,407.7 121.4,407.2 123.4,406.8 125.4,407.4 127.4,407.5 129.4,407.4 131.4,407.0 133.4,407.8 135.4,407.7 137.4,407.9 139.4,407.2 141.4,407.7 143.4,407.6 145.4,406.9 147.4,406.7 149.4,406.9 151.4,406.9 153.4,406.8 155.4,407.1 157.4,407.6 159.4,407.1 161.4,407.3 163.4,406.7 165.4,407.0 167.4,407.9 169.4,406.7 171.4,407.4 173.4,407.7 175.4,407.7 177.4,407.6 179.4,407.2 181.4,407.7 183.4,407.7 185.4,407.7 187.4,407.9 189.4,406.9 191.4,407.9 193.4,407.2 195.4,407.6 197.4,407.0 199.4,407.8 201.4,406.8 203.4,407.4 205.4,407.0 207.4,407.2 209.4,407.2 211.4,407.5 213.4,407.7 215.0,407.3" stroke="#000" stroke-width="1.2"/>
<polyline points="215.6,385.0 215.9,391.0 216.2,394.5 216.5,396.7 216.8,398.1 217.1,399.1 217.8,400.5 218.5,401.4 219.2,402.0 219.9,402.4 220.6,402.9 221.3,403.1 222.0,403.3 222.7,403.8 223.4,403.6 224.8,403.7" stroke="#000" stroke-width="1.2"/>
<polyline points="64.0,404.3 64.0,450.4 64.0,450.4 64.3,436.4" stroke="#a6a6a6" stroke-width="0.8"/>
<polyline points="215.0,407.3 215.0,356.4 215.0,356.4 215.3,374.7 215.6,385.0" stroke="#a6a6a6" stroke-width="0.8"/>
<polyline points="47.0,404.2 49.0,404.4 51.0,404.1 53.0,404.4 55.0,404.3 57.0,404.4 59.0,404.1 61.0,404.1 63.0,404.1 64.3,441.6 64.6,432.2 64.9,426.5 65.2,422.9 65.5,420.5 65.8,418.7 66.1,417.4 66.8,415.2 67.5,413.6 68.2,412.4 68.9,411.5 69.6,410.8 70.3,410.2 71.0,409.3 71.7,410.0 72.4,409.0 73.8,409.2 75.2,408.1 76.6,408.2 78.0,408.4 79.4,407.7 81.4,407.8 83.4,408.2 85.4,408.6 87.4,407.8 89.4,407.6 91.4,407.8 93.4,408.6 95.4,407.6 97.4,408.2 99.4,407.9 101.4,408.2 103.4,407.7 105.4,408.1 107.4,408.5 109.4,408.4 111.4,408.2 113.4,408.0 115.4,408.1 117.4,407.5 119.4,408.4 121.4,408.2 123.4,407.9 125.4,408.2 127.4,407.9 129.4,407.9 131.4,407.7 133.4,408.1 135.4,408.1 137.4,408.0 139.4,407.4 141.4,408.2 143.4,407.9 145.4,408.1 147.4,408.1 149.4,408.5 151.4,407.6 153.4,408.0 155.4,408.6 157.4,408.3 159.4,407.8 161.4,408.3 163.4,408.6 165.4,407.9 167.4,408.4 169.4,407.6 171.4,408.6 173.4,408.0 175.4,407.7 177.4,408.4 179.4,408.2 181.4,408.5 183.4,408.4 185.4,408.4 187.4,408.0 189.4,408.6 191.4,407.5 193.4,408.4 195.4,408.3 197.4,407.7 199.4,408.4 201.4,407.9 203.4,408.0 205.4,408.4 207.4,407.6 209.4,407.7 211.4,408.2 213.4,407.5 215.0,408.0" stroke="#000" stroke-width="1.2"/>
<polyline points="215.6,382.1 215.9,388.9 216.2,393.0 216.5,395.5 216.8,397.2 217.1,398.3 217.8,399.9 218.5,400.9 219.2,401.6 219.9,402.2 220.6,402.7 221.3,403.1 222.0,403.2 222.7,403.3 223.4,403.8 224.8,404.1" stroke="#000" stroke-width="1.2"/>
<polyline points="64.0,404.3 64.0,457.5 64.0,457.5 64.3,441.6" stroke="#a6a6a6" stroke-width="0.8"/>
<polyline points="215.0,408.0 215.0,349.0 215.0,349.0 215.3,370.1 215.6,382.1" stroke="#a6a6a6" stroke-width="0.8"/>
<rect x="276.1" y="401.5" width="147.79999999999995" height="5.5" fill="#000"/>
<polyline points="255.5,407.2 257.5,407.0 259.5,407.2 261.5,407.2 263.5,406.8 265.5,406.9 267.5,406.8 269.5,406.7 271.5,406.9 273.5,407.2 282.0,398.5 283.4,399.5 284.8,399.1 286.2,399.4 287.6,399.9 289.0,400.6 290.4,400.4 291.8,400.8 293.2,399.9 294.6,401.0 296.6,400.1 298.6,400.6 300.6,400.9 302.6,400.8 304.6,400.1 306.6,400.7 308.6,400.4 310.6,399.9 312.6,400.3 314.6,400.3 316.6,400.7 318.6,400.2 320.6,400.6 322.6,400.7 324.6,400.1 326.6,400.1 328.6,400.7 330.6,400.5 332.6,400.1 334.6,400.0 336.6,401.0 338.6,400.6 340.6,400.3 342.6,400.1 344.6,401.1 346.6,400.7 348.6,400.8 350.6,400.3 352.6,400.3 354.6,400.4 356.6,400.1 358.6,400.7 360.6,400.4 362.6,400.9 364.6,400.4 366.6,400.4 368.6,400.5 370.6,401.0 372.6,400.3 374.6,400.7 376.6,400.2 378.6,400.6 380.6,400.2 382.6,400.9 384.6,400.2 386.6,400.9 388.6,400.7 390.6,400.4 392.6,401.0 394.6,400.4 396.6,400.8 398.6,400.6 400.6,400.4 402.6,400.0 404.6,400.4 406.6,400.2 408.6,400.4 410.6,401.0 412.6,400.3 414.6,400.7 416.6,400.7 418.6,400.2 420.6,400.4 422.6,400.1 424.4,400.5" stroke="#000" stroke-width="1.0"/>
<polyline points="274.5,375.2 274.8,381.8 275.1,385.7 275.4,388.2 275.7,389.9 276.4,392.3 277.1,393.8 277.8,394.9 278.5,395.8 279.2,396.6 279.9,397.2 280.6,397.7 281.3,398.2 282.0,398.5" stroke="#333" stroke-width="0.7"/>
<polyline points="425.3,428.9 425.6,421.9 425.9,417.9 426.2,415.5 426.5,414.0 427.2,412.1 427.9,411.1 428.6,410.4 429.3,409.8 430.0,409.4 430.7,409.2 431.4,408.5 432.1,408.4 432.8,408.1 434.2,408.0 435.6,407.8 437.0,407.5 438.4,407.3 439.8,407.0 441.2,407.4 442.6,406.9" stroke="#000" stroke-width="1.0"/>
<polyline points="273.6,407.0 273.6,308.5 273.6,308.5 273.9,343.9 274.2,363.8 274.5,375.2" stroke="#a6a6a6" stroke-width="0.8"/>
<polyline points="424.4,400.5 424.4,502.5 424.4,502.5 424.7,463.0 425.0,441.1 425.3,428.9" stroke="#a6a6a6" stroke-width="0.8"/>
<polyline points="255.5,406.9 257.5,406.9 259.5,407.1 261.5,407.1 263.5,406.9 265.5,407.2 267.5,407.3 269.5,406.7 271.5,407.1 273.5,407.0 282.0,399.8 283.4,400.1 284.8,400.5 286.2,400.6 287.6,401.2 289.0,401.2 290.4,401.7 291.8,401.8 293.2,401.8 294.6,401.1 296.6,401.7 298.6,401.5 300.6,401.6 302.6,401.9 304.6,400.8 306.6,401.3 308.6,401.2 310.6,401.5 312.6,401.0 314.6,401.9 316.6,401.0 318.6,401.2 320.6,400.9 322.6,401.2 324.6,401.6 326.6,400.8 328.6,400.9 330.6,401.5 332.6,401.5 334.6,401.6 336.6,401.0 338.6,401.7 340.6,401.6 342.6,401.7 344.6,400.9 346.6,401.3 348.6,400.8 350.6,401.8 352.6,401.9 354.6,401.8 356.6,400.8 358.6,401.2 360.6,401.4 362.6,401.4 364.6,400.9 366.6,401.7 368.6,401.1 370.6,401.3 372.6,400.9 374.6,401.4 376.6,400.9 378.6,400.8 380.6,401.3 382.6,401.1 384.6,401.7 386.6,401.0 388.6,401.2 390.6,400.8 392.6,401.0 394.6,401.3 396.6,401.4 398.6,401.3 400.6,401.8 402.6,400.9 404.6,401.8 406.6,400.9 408.6,401.9 410.6,401.4 412.6,401.2 414.6,401.5 416.6,401.8 418.6,401.9 420.6,401.2 422.6,400.7 424.4,401.3" stroke="#000" stroke-width="1.0"/>
<polyline points="274.2,373.0 274.5,381.7 274.8,386.8 275.1,389.9 275.4,391.8 275.7,393.1 276.4,394.9 277.1,396.1 277.8,397.0 278.5,397.7 279.2,398.3 279.9,398.8 280.6,399.2 281.3,399.5 282.0,399.8" stroke="#333" stroke-width="0.7"/>
<polyline points="425.3,424.0 425.6,418.6 425.9,415.5 426.2,413.6 426.5,412.4 427.2,411.0 427.9,410.2 428.6,409.6 429.3,409.2 430.0,408.6 430.7,408.7 431.4,408.4 432.1,408.2 432.8,407.7 434.2,407.7 435.6,407.2 437.0,407.1 438.4,407.1 439.8,407.4 441.2,407.2 442.6,407.3" stroke="#000" stroke-width="1.0"/>
<polyline points="273.6,407.0 273.6,330.4 273.6,330.4 273.9,357.7 274.2,373.0" stroke="#a6a6a6" stroke-width="0.8"/>
<polyline points="424.4,401.3 424.4,481.3 424.4,481.3 424.7,450.6 425.0,433.5 425.3,424.0" stroke="#a6a6a6" stroke-width="0.8"/>
<polyline points="255.5,406.7 257.5,406.9 259.5,406.7 261.5,406.9 263.5,406.8 265.5,407.3 267.5,406.9 269.5,407.0 271.5,407.1 273.5,407.2 280.6,400.6 281.3,401.4 282.0,401.2 283.4,401.4 284.8,402.1 286.2,401.7 287.6,401.7 289.0,402.3 290.4,401.7 291.8,401.9 293.2,402.0 294.6,402.1 296.6,402.0 298.6,402.1 300.6,402.1 302.6,401.6 304.6,402.6 306.6,401.6 308.6,402.2 310.6,402.2 312.6,402.0 314.6,401.8 316.6,401.7 318.6,402.0 320.6,401.9 322.6,402.1 324.6,401.8 326.6,402.5 328.6,402.2 330.6,401.6 332.6,402.1 334.6,402.7 336.6,401.6 338.6,402.3 340.6,402.7 342.6,402.0 344.6,402.3 346.6,402.0 348.6,401.9 350.6,402.3 352.6,402.3 354.6,401.9 356.6,402.2 358.6,402.2 360.6,402.5 362.6,401.6 364.6,401.7 366.6,401.9 368.6,401.9 370.6,402.5 372.6,402.1 374.6,402.6 376.6,402.0 378.6,401.9 380.6,402.4 382.6,401.7 384.6,402.7 386.6,402.6 388.6,402.0 390.6,401.9 392.6,402.5 394.6,402.5 396.6,402.3 398.6,401.6 400.6,402.5 402.6,401.6 404.6,402.3 406.6,402.2 408.6,402.7 410.6,402.3 412.6,401.6 414.6,402.7 416.6,402.5 418.6,402.3 420.6,401.6 422.6,402.5 424.4,402.2" stroke="#000" stroke-width="1.0"/>
<polyline points="274.2,382.2 274.5,388.3 274.8,391.9 275.1,394.0 275.4,395.4 275.7,396.3 276.4,397.6 277.1,398.4 277.8,399.0 278.5,399.6 279.2,400.0 279.9,400.3 280.6,400.6" stroke="#333" stroke-width="0.7"/>
<polyline points="425.0,426.0 425.3,419.1 425.6,415.3 425.9,413.0 426.2,411.7 426.5,410.9 427.2,409.8 427.9,409.3 428.6,408.8 429.3,408.7 430.0,408.6 430.7,408.4 431.4,407.7 432.1,407.9 432.8,407.6 434.2,407.6 435.6,407.3 437.0,407.2 438.4,407.1 439.8,406.9 441.2,407.0 442.6,407.2" stroke="#000" stroke-width="1.0"/>
<polyline points="273.6,407.0 273.6,352.3 273.6,352.3 273.9,371.4 274.2,382.2" stroke="#a6a6a6" stroke-width="0.8"/>
<polyline points="424.4,402.2 424.4,460.1 424.4,460.1 424.7,438.1 425.0,426.0" stroke="#a6a6a6" stroke-width="0.8"/>
<polyline points="255.5,406.7 257.5,406.8 259.5,407.2 261.5,407.1 263.5,407.0 265.5,406.8 267.5,406.8 269.5,406.9 271.5,407.3 273.5,407.0 278.5,401.4 279.2,402.2 279.9,401.5 280.6,402.0 281.3,402.3 282.0,402.8 283.4,402.1 284.8,403.1 286.2,402.7 287.6,402.3 289.0,402.8 290.4,402.8 291.8,403.2 293.2,403.5 294.6,403.0 296.6,403.2 298.6,402.9 300.6,403.3 302.6,402.5 304.6,403.3 306.6,402.6 308.6,403.1 310.6,402.6 312.6,402.8 314.6,402.6 316.6,402.8 318.6,403.1 320.6,403.0 322.6,402.9 324.6,403.1 326.6,403.4 328.6,402.8 330.6,403.1 332.6,403.0 334.6,403.6 336.6,402.8 338.6,403.2 340.6,402.7 342.6,402.7 344.6,403.3 346.6,403.1 348.6,402.7 350.6,402.5 352.6,403.4 354.6,402.9 356.6,403.3 358.6,402.9 360.6,403.1 362.6,403.1 364.6,403.6 366.6,403.5 368.6,402.9 370.6,403.0 372.6,402.7 374.6,403.3 376.6,402.5 378.6,402.8 380.6,403.4 382.6,402.4 384.6,403.2 386.6,403.1 388.6,403.1 390.6,402.8 392.6,402.6 394.6,403.5 396.6,403.3 398.6,403.4 400.6,402.5 402.6,403.3 404.6,402.7 406.6,402.6 408.6,403.0 410.6,403.1 412.6,402.5 414.6,403.3 416.6,403.1 418.6,403.5 420.6,403.5 422.6,403.2 424.4,403.0" stroke="#000" stroke-width="1.0"/>
<polyline points="273.9,385.2 274.2,391.3 274.5,394.9 274.8,396.9 275.1,398.2 275.4,399.0 275.7,399.5 276.4,400.3 277.1,400.8 277.8,401.1 278.5,401.4" stroke="#333" stroke-width="0.7"/>
<polyline points="424.7,425.7 425.0,418.4 425.3,414.3 425.6,412.0 425.9,410.6 426.2,409.8 426.5,409.3 427.2,408.6 427.9,408.6 428.6,408.3 429.3,407.8 430.0,408.0 430.7,407.8 431.4,407.4 432.1,407.3 432.8,407.1 434.2,407.3 435.6,407.0 437.0,407.0 438.4,406.9 439.8,406.8 441.2,407.0 442.6,406.9" stroke="#000" stroke-width="1.0"/>
<polyline points="273.6,407.0 273.6,374.2 273.6,374.2 273.9,385.2" stroke="#a6a6a6" stroke-width="0.8"/>
<polyline points="424.4,403.0 424.4,438.8 424.4,438.8 424.7,425.7" stroke="#a6a6a6" stroke-width="0.8"/>
<polyline points="255.5,406.9 257.5,406.9 259.5,407.0 261.5,407.2 263.5,406.8 265.5,407.2 267.5,407.2 269.5,407.1 271.5,407.0 273.5,407.1 275.1,402.3 275.4,402.6 275.7,402.9 276.4,403.4 277.1,403.4 277.8,402.9 278.5,402.8 279.2,403.9 279.9,403.3 280.6,403.9 281.3,403.3 282.0,403.6 283.4,403.5 284.8,404.0 286.2,404.3 287.6,403.8 289.0,403.9 290.4,403.6 291.8,403.5 293.2,404.4 294.6,403.4 296.6,404.4 298.6,404.0 300.6,403.3 302.6,404.3 304.6,403.4 306.6,403.9 308.6,403.4 310.6,404.4 312.6,403.6 314.6,404.3 316.6,403.3 318.6,404.0 320.6,403.3 322.6,403.3 324.6,403.9 326.6,404.4 328.6,404.1 330.6,404.3 332.6,404.2 334.6,403.9 336.6,403.3 338.6,403.9 340.6,403.5 342.6,403.9 344.6,403.7 346.6,403.8 348.6,403.5 350.6,404.1 352.6,403.7 354.6,403.8 356.6,403.3 358.6,403.8 360.6,403.9 362.6,404.4 364.6,403.9 366.6,403.4 368.6,403.6 370.6,403.6 372.6,404.1 374.6,404.4 376.6,404.4 378.6,404.4 380.6,404.3 382.6,404.3 384.6,404.4 386.6,403.3 388.6,403.8 390.6,403.9 392.6,404.1 394.6,404.0 396.6,404.0 398.6,404.4 400.6,403.3 402.6,403.9 404.6,404.4 406.6,403.3 408.6,403.4 410.6,404.3 412.6,404.4 414.6,403.3 416.6,403.3 418.6,404.2 420.6,404.1 422.6,403.9 424.4,403.8" stroke="#000" stroke-width="1.0"/>
<polyline points="273.6,396.1 273.6,396.1 273.9,398.9 274.2,400.5 274.5,401.4 274.8,402.0 275.1,402.3" stroke="#333" stroke-width="0.7"/>
<polyline points="424.4,417.6 424.4,417.6 424.7,413.2 425.0,410.8 425.3,409.4 425.6,408.7 425.9,408.4 426.2,408.1 426.5,407.5 427.2,407.3 427.9,407.6 428.6,407.7 429.3,407.5 430.0,407.2 430.7,407.1 431.4,407.1 432.1,406.9 432.8,407.3 434.2,406.9 435.6,407.1 437.0,407.1 438.4,406.9 439.8,407.1 441.2,407.0 442.6,406.9" stroke="#000" stroke-width="1.0"/>
<polyline points="273.6,407.0 273.6,396.1" stroke="#a6a6a6" stroke-width="0.8"/>
<polyline points="424.4,403.8 424.4,417.6" stroke="#a6a6a6" stroke-width="0.8"/>
<polyline points="255.5,407.2 257.5,406.8 259.5,406.8 261.5,406.9 263.5,407.0 265.5,407.2 267.5,406.9 269.5,406.8 271.5,407.1 273.5,406.9 274.8,406.4 275.1,406.1 275.4,405.6 275.7,406.2 276.4,405.2 277.1,405.1 277.8,405.1 278.5,405.0 279.2,405.4 279.9,405.2 280.6,405.3 281.3,405.0 282.0,404.4 283.4,405.1 284.8,404.5 286.2,404.4 287.6,404.6 289.0,405.3 290.4,404.5 291.8,404.5 293.2,405.2 294.6,405.3 296.6,404.5 298.6,404.2 300.6,405.0 302.6,405.0 304.6,404.5 306.6,405.0 308.6,404.5 310.6,404.4 312.6,404.8 314.6,405.0 316.6,404.6 318.6,405.0 320.6,404.1 322.6,404.7 324.6,404.5 326.6,404.1 328.6,405.2 330.6,404.2 332.6,404.3 334.6,405.1 336.6,405.2 338.6,405.2 340.6,404.5 342.6,405.2 344.6,404.2 346.6,404.9 348.6,405.2 350.6,404.3 352.6,404.2 354.6,404.9 356.6,405.1 358.6,404.9 360.6,405.2 362.6,404.6 364.6,404.5 366.6,404.2 368.6,404.4 370.6,405.2 372.6,404.2 374.6,404.3 376.6,404.5 378.6,404.1 380.6,404.4 382.6,404.3 384.6,404.2 386.6,404.7 388.6,404.7 390.6,404.7 392.6,405.0 394.6,404.7 396.6,405.2 398.6,404.2 400.6,404.3 402.6,404.2 404.6,404.4 406.6,405.0 408.6,405.2 410.6,404.7 412.6,404.3 414.6,404.5 416.6,404.7 418.6,404.4 420.6,405.0 422.6,405.2 424.4,404.7" stroke="#000" stroke-width="1.0"/>
<polyline points="273.6,410.7 273.6,410.7 273.9,408.6 274.2,407.5 274.5,406.8 274.8,406.4" stroke="#333" stroke-width="0.7"/>
<polyline points="424.4,403.3 424.4,403.3 424.7,404.6 425.0,405.3 425.3,405.8 425.6,406.2 425.9,406.1 426.2,406.1 426.5,406.6 427.2,406.7 427.9,406.3 428.6,406.8 429.3,406.6 430.0,406.5 430.7,406.6 431.4,406.6 432.1,407.0 432.8,406.7 434.2,406.6 435.6,406.8 437.0,407.1 438.4,407.0 439.8,407.1 441.2,407.0 442.6,406.8" stroke="#000" stroke-width="1.0"/>
<polyline points="273.6,407.0 273.6,410.7" stroke="#a6a6a6" stroke-width="0.8"/>
<polyline points="424.4,404.7 424.4,403.3" stroke="#a6a6a6" stroke-width="0.8"/>
<polyline points="255.5,406.7 257.5,406.9 259.5,406.7 261.5,406.9 263.5,407.1 265.5,406.9 267.5,407.0 269.5,407.1 271.5,406.9 273.5,406.9 278.5,407.1 279.2,407.3 279.9,406.7 280.6,406.3 281.3,406.3 282.0,406.1 283.4,405.8 284.8,406.3 286.2,405.4 287.6,406.2 289.0,406.0 290.4,406.0 291.8,405.2 293.2,405.6 294.6,406.1 296.6,405.3 298.6,405.1 300.6,405.8 302.6,405.2 304.6,405.6 306.6,405.1 308.6,406.0 310.6,405.2 312.6,405.0 314.6,405.7 316.6,405.3 318.6,405.6 320.6,405.5 322.6,406.0 324.6,405.5 326.6,405.4 328.6,404.9 330.6,405.5 332.6,405.2 334.6,405.6 336.6,405.7 338.6,405.5 340.6,405.0 342.6,405.5 344.6,405.5 346.6,405.7 348.6,406.1 350.6,405.2 352.6,405.4 354.6,405.0 356.6,405.9 358.6,405.2 360.6,405.9 362.6,405.9 364.6,405.2 366.6,406.0 368.6,405.5 370.6,405.4 372.6,405.6 374.6,406.0 376.6,405.5 378.6,405.5 380.6,405.2 382.6,405.9 384.6,405.5 386.6,405.3 388.6,405.1 390.6,405.2 392.6,405.9 394.6,405.9 396.6,406.1 398.6,406.0 400.6,405.7 402.6,405.9 404.6,405.8 406.6,405.9 408.6,405.9 410.6,405.1 412.6,405.9 414.6,405.3 416.6,405.2 418.6,406.0 420.6,404.9 422.6,405.5 424.4,405.5" stroke="#000" stroke-width="1.0"/>
<polyline points="273.6,418.0 273.6,418.0 273.9,414.4 274.2,412.2 274.5,410.9 274.8,410.1 275.1,409.5 275.4,409.1 275.7,408.8 276.4,408.2 277.1,407.7 277.8,407.4 278.5,407.1" stroke="#333" stroke-width="0.7"/>
<polyline points="424.4,396.0 424.4,396.0 424.7,399.8 425.0,401.9 425.3,403.2 425.6,403.9 425.9,404.4 426.2,404.7 426.5,405.0 427.2,405.3 427.9,405.8 428.6,405.9 429.3,406.3 430.0,406.5 430.7,406.4 431.4,406.2 432.1,406.6 432.8,406.4 434.2,407.0 435.6,407.0 437.0,406.7 438.4,406.7 439.8,407.0 441.2,407.1 442.6,407.3" stroke="#000" stroke-width="1.0"/>
<polyline points="273.6,407.0 273.6,418.0" stroke="#a6a6a6" stroke-width="0.8"/>
<polyline points="424.4,405.5 424.4,396.0" stroke="#a6a6a6" stroke-width="0.8"/>
<polyline points="255.5,407.1 257.5,406.8 259.5,407.1 261.5,406.7 263.5,407.2 265.5,407.2 267.5,407.2 269.5,407.2 271.5,407.0 273.5,407.3 280.6,407.9 281.3,407.8 282.0,407.4 283.4,407.0 284.8,406.7 286.2,406.1 287.6,406.2 289.0,406.9 290.4,406.1 291.8,406.6 293.2,406.7 294.6,406.6 296.6,406.4 298.6,406.1 300.6,406.1 302.6,406.0 304.6,406.5 306.6,406.6 308.6,406.9 310.6,406.1 312.6,406.8 314.6,406.8 316.6,406.1 318.6,406.9 320.6,406.5 322.6,406.9 324.6,406.7 326.6,406.1 328.6,406.1 330.6,406.4 332.6,406.3 334.6,405.8 336.6,406.8 338.6,406.4 340.6,406.3 342.6,406.6 344.6,406.0 346.6,406.0 348.6,406.4 350.6,406.0 352.6,406.1 354.6,405.8 356.6,405.8 358.6,406.2 360.6,406.4 362.6,406.9 364.6,406.5 366.6,406.2 368.6,406.2 370.6,406.0 372.6,406.3 374.6,406.9 376.6,405.9 378.6,406.3 380.6,406.6 382.6,406.6 384.6,406.4 386.6,406.5 388.6,406.9 390.6,406.8 392.6,406.0 394.6,406.4 396.6,406.9 398.6,406.4 400.6,406.0 402.6,406.7 404.6,405.8 406.6,405.9 408.6,406.4 410.6,406.1 412.6,406.6 414.6,406.6 416.6,406.1 418.6,406.7 420.6,406.5 422.6,406.6 424.4,406.3" stroke="#000" stroke-width="1.0"/>
<polyline points="273.6,425.3 273.9,420.1 274.2,417.0 274.5,415.1 274.8,413.8 275.1,412.9 275.4,412.3 275.7,411.7 276.4,410.8 277.1,410.0 277.8,409.4 278.5,408.9 279.2,408.5 279.9,408.2 280.6,407.9" stroke="#333" stroke-width="0.7"/>
<polyline points="424.4,388.7 424.7,394.9 425.0,398.5 425.3,400.6 425.6,401.9 425.9,402.7 426.2,403.2 426.5,403.7 427.2,404.3 427.9,404.8 428.6,405.1 429.3,405.4 430.0,405.4 430.7,405.9 431.4,406.3 432.1,406.5 432.8,406.1 434.2,406.3 435.6,406.5 437.0,406.9 438.4,406.8 439.8,406.7 441.2,406.9 442.6,407.0" stroke="#000" stroke-width="1.0"/>
<polyline points="273.6,407.0 273.6,425.3 273.6,425.3" stroke="#a6a6a6" stroke-width="0.8"/>
<polyline points="424.4,406.3 424.4,388.7 424.4,388.7" stroke="#a6a6a6" stroke-width="0.8"/>
<polyline points="255.5,407.1 257.5,406.9 259.5,407.1 261.5,407.1 263.5,407.1 265.5,406.7 267.5,407.1 269.5,406.8 271.5,406.7 273.5,407.0 282.0,408.7 283.4,407.7 284.8,407.4 286.2,407.6 287.6,407.5 289.0,407.0 290.4,407.9 291.8,407.7 293.2,407.2 294.6,407.3 296.6,407.0 298.6,407.8 300.6,406.7 302.6,406.9 304.6,406.8 306.6,407.6 308.6,407.2 310.6,407.1 312.6,407.0 314.6,407.6 316.6,406.9 318.6,407.5 320.6,407.4 322.6,407.1 324.6,407.0 326.6,407.1 328.6,407.1 330.6,406.9 332.6,407.3 334.6,407.1 336.6,406.9 338.6,407.5 340.6,407.1 342.6,407.1 344.6,407.6 346.6,407.1 348.6,407.0 350.6,407.6 352.6,407.7 354.6,407.5 356.6,407.0 358.6,407.4 360.6,407.5 362.6,406.9 364.6,407.4 366.6,407.7 368.6,407.4 370.6,407.4 372.6,407.1 374.6,407.4 376.6,406.8 378.6,407.5 380.6,407.2 382.6,407.7 384.6,407.0 386.6,407.4 388.6,406.6 390.6,407.1 392.6,407.5 394.6,406.9 396.6,407.3 398.6,406.8 400.6,407.0 402.6,407.8 404.6,406.8 406.6,407.7 408.6,406.6 410.6,407.3 412.6,407.6 414.6,407.6 416.6,407.0 418.6,407.3 420.6,407.4 422.6,407.5 424.4,407.2" stroke="#000" stroke-width="1.0"/>
<polyline points="273.6,432.7 273.9,425.9 274.2,421.8 274.5,419.3 274.8,417.6 275.1,416.4 275.4,415.5 275.7,414.7 276.4,413.4 277.1,412.4 277.8,411.5 278.5,410.8 279.2,410.2 279.9,409.7 280.6,409.3 281.3,409.0 282.0,408.7" stroke="#333" stroke-width="0.7"/>
<polyline points="424.4,381.3 424.7,390.1 425.0,395.1 425.3,398.0 425.6,399.8 425.9,401.0 426.2,401.7 426.5,402.3 427.2,403.2 427.9,403.9 428.6,404.4 429.3,404.8 430.0,405.3 430.7,405.5 431.4,405.6 432.1,406.0 432.8,406.1 434.2,406.4 435.6,406.8 437.0,406.5 438.4,406.9 439.8,406.7 441.2,407.0 442.6,407.2" stroke="#000" stroke-width="1.0"/>
<polyline points="273.6,407.0 273.6,432.7 273.6,432.7" stroke="#a6a6a6" stroke-width="0.8"/>
<polyline points="424.4,407.2 424.4,381.3 424.4,381.3" stroke="#a6a6a6" stroke-width="0.8"/>
<polyline points="255.5,406.9 257.5,407.0 259.5,407.0 261.5,407.0 263.5,406.8 265.5,407.1 267.5,407.2 269.5,407.1 271.5,406.9 273.5,407.2 282.0,410.0 283.4,409.3 284.8,408.5 286.2,408.8 287.6,408.4 289.0,408.4 290.4,408.8 291.8,408.3 293.2,408.7 294.6,407.9 296.6,408.4 298.6,407.5 300.6,407.8 302.6,408.2 304.6,408.2 306.6,408.4 308.6,407.9 310.6,407.7 312.6,407.8 314.6,408.0 316.6,407.4 318.6,407.8 320.6,408.2 322.6,407.6 324.6,407.8 326.6,408.4 328.6,408.5 330.6,407.7 332.6,407.6 334.6,407.5 336.6,407.5 338.6,408.4 340.6,408.3 342.6,407.7 344.6,408.0 346.6,408.2 348.6,407.4 350.6,408.4 352.6,408.4 354.6,407.7 356.6,408.2 358.6,408.2 360.6,407.8 362.6,408.5 364.6,407.7 366.6,408.0 368.6,407.8 370.6,407.9 372.6,408.4 374.6,408.1 376.6,408.1 378.6,408.6 380.6,407.7 382.6,407.7 384.6,408.1 386.6,407.6 388.6,408.6 390.6,407.8 392.6,407.9 394.6,407.9 396.6,408.4 398.6,408.5 400.6,408.2 402.6,407.6 404.6,407.8 406.6,408.2 408.6,407.7 410.6,408.5 412.6,408.4 414.6,407.7 416.6,407.8 418.6,407.7 420.6,408.3 422.6,407.5 424.4,408.0" stroke="#000" stroke-width="1.0"/>
<polyline points="273.6,440.0 273.9,431.6 274.2,426.6 274.5,423.4 274.8,421.3 275.1,419.8 275.4,418.6 275.7,417.7 276.4,416.0 277.1,414.7 277.8,413.6 278.5,412.7 279.2,411.9 279.9,411.3 280.6,410.8 281.3,410.3 282.0,410.0" stroke="#333" stroke-width="0.7"/>
<polyline points="424.7,385.3 425.0,391.7 425.3,395.5 425.6,397.8 425.9,399.2 426.2,400.2 426.5,401.0 427.2,402.1 427.9,403.0 428.6,403.6 429.3,404.2 430.0,404.6 430.7,405.1 431.4,405.1 432.1,405.8 432.8,405.9 434.2,406.2 435.6,406.2 437.0,406.3 438.4,406.6 439.8,407.1 441.2,406.9 442.6,407.1" stroke="#000" stroke-width="1.0"/>
<polyline points="273.6,407.0 273.6,440.0 273.6,440.0" stroke="#a6a6a6" stroke-width="0.8"/>
<polyline points="424.4,408.0 424.4,374.0 424.4,374.0 424.7,385.3" stroke="#a6a6a6" stroke-width="0.8"/>
<polyline points="446.0,444.9 447.2,445.0 448.4,444.8 449.6,446.5 450.8,445.2 452.0,445.4 453.2,446.4 454.4,446.5 455.6,445.5 456.8,445.9 458.0,445.5 459.2,446.2 460.4,445.6 461.6,445.6 462.8,445.3 464.8,237.0 465.1,240.8 465.4,243.1 465.7,244.6 466.4,246.6 467.1,246.4 467.8,248.3 468.5,248.2 469.2,248.7 469.9,248.8 470.6,250.3 471.3,250.5 472.0,251.1 473.4,252.2 474.8,253.0 476.0,253.2 477.2,253.7 478.4,254.0 479.6,254.4 480.8,255.0 482.0,256.2 483.2,255.8 484.4,256.1 485.6,257.0 486.8,257.8 488.0,257.6 489.2,257.2 490.4,257.4 491.6,259.2 492.8,259.8 494.0,260.7 495.2,261.5 496.4,261.1 497.6,261.6 498.8,262.3 500.0,262.7 501.2,263.1 502.4,262.4 503.6,263.2 504.8,264.9 506.0,264.5 507.2,264.4 508.4,265.5 509.6,265.1 510.8,266.0 512.0,266.2 513.2,264.8 514.4,265.1 515.6,265.9 516.8,266.0 518.0,267.4 519.2,268.6 520.4,268.3 521.6,268.9 522.8,269.3 524.0,269.0 525.2,269.8 526.4,270.5 527.6,270.2 528.8,270.9 530.0,271.4 531.2,271.5 532.4,271.6 533.6,270.6 534.8,271.0 536.0,271.8 537.2,271.1 538.4,272.4 539.6,272.0 540.8,273.3 542.0,272.4 543.2,273.7 544.4,273.5 545.6,274.7 546.8,275.0 548.0,274.2 549.2,274.5 550.4,275.9 551.6,274.9 552.8,274.6 554.0,274.7 555.2,275.3 556.4,275.7 557.6,276.2 558.8,277.7 560.0,277.3 561.2,278.0 562.4,278.6 563.6,277.2 564.8,278.1 566.0,278.1 567.2,278.2 568.4,279.2 569.6,278.7 570.8,279.4 572.0,279.3 573.2,279.6 574.4,280.9 575.6,280.5 576.8,279.5 578.0,279.3 579.2,279.1 580.4,280.0 581.6,280.7 582.8,280.7 584.0,281.1 585.2,281.1 586.4,281.5 587.6,281.0 588.8,281.8 590.0,281.8 591.2,281.4 592.4,281.4 593.6,283.0 594.8,282.1 596.0,282.0 597.2,282.4 598.4,282.9 599.6,281.7 600.8,282.4 602.0,283.1 603.2,283.1 604.4,282.9 605.6,283.1 606.8,283.1 608.0,284.6 609.2,283.6 610.4,284.0 611.6,285.0 612.8,284.7 614.0,284.9 614.3,284.5" stroke="#1a1a1a" stroke-width="1.6"/>
<polyline points="615.5,450.2 615.8,446.6 616.1,444.6 616.4,443.3 617.1,442.6 617.8,442.0 618.5,439.9 619.2,441.8 619.9,439.9 620.6,439.8 621.3,439.4 622.0,439.4 622.7,441.6 624.1,440.2 625.5,439.4 626.7,439.3 627.9,441.4 629.1,440.8 630.3,441.6 631.5,439.3" stroke="#1a1a1a" stroke-width="1.6"/>
<polyline points="463.6,446.0 463.6,166.0 463.6,166.0 463.9,200.4 464.2,219.7 464.5,230.7 464.8,237.0" stroke="#a6a6a6" stroke-width="0.8"/>
<polyline points="614.3,284.5 614.3,522.8 614.3,522.8 614.6,487.2 614.9,467.4 615.2,456.4 615.5,450.2" stroke="#a6a6a6" stroke-width="0.8"/>
<polyline points="446.0,445.0 447.2,445.4 448.4,445.2 449.6,445.0 450.8,445.2 452.0,446.4 453.2,445.1 454.4,445.1 455.6,446.1 456.8,445.7 458.0,445.1 459.2,446.2 460.4,446.0 461.6,445.7 462.8,445.9 464.5,269.4 464.8,274.1 465.1,276.9 465.4,278.6 465.7,279.7 466.4,280.2 467.1,281.2 467.8,282.3 468.5,281.4 469.2,282.0 469.9,282.8 470.6,282.6 471.3,283.9 472.0,282.9 473.4,284.1 474.8,284.8 476.0,285.9 477.2,286.1 478.4,286.7 479.6,285.8 480.8,286.4 482.0,287.3 483.2,286.5 484.4,288.2 485.6,288.1 486.8,287.7 488.0,288.3 489.2,289.1 490.4,289.2 491.6,289.2 492.8,289.5 494.0,289.3 495.2,289.1 496.4,288.7 497.6,289.5 498.8,290.1 500.0,289.8 501.2,290.6 502.4,290.1 503.6,289.3 504.8,289.1 506.0,289.7 507.2,289.7 508.4,290.6 509.6,291.0 510.8,290.1 512.0,291.0 513.2,290.5 514.4,291.8 515.6,291.0 516.8,291.4 518.0,291.1 519.2,291.4 520.4,291.5 521.6,292.0 522.8,293.2 524.0,292.7 525.2,291.8 526.4,292.4 527.6,293.1 528.8,293.8 530.0,294.4 531.2,293.9 532.4,294.0 533.6,294.3 534.8,294.4 536.0,295.1 537.2,294.9 538.4,293.9 539.6,294.8 540.8,295.0 542.0,294.5 543.2,293.7 544.4,293.5 545.6,294.2 546.8,294.8 548.0,294.6 549.2,294.9 550.4,295.4 551.6,294.1 552.8,294.0 554.0,294.7 555.2,295.4 556.4,295.3 557.6,296.2 558.8,295.8 560.0,295.8 561.2,295.7 562.4,296.1 563.6,295.9 564.8,296.2 566.0,296.0 567.2,296.2 568.4,297.0 569.6,297.3 570.8,296.5 572.0,296.9 573.2,296.9 574.4,297.0 575.6,296.6 576.8,297.3 578.0,297.3 579.2,298.1 580.4,297.3 581.6,298.0 582.8,297.9 584.0,297.3 585.2,298.1 586.4,298.2 587.6,297.8 588.8,297.6 590.0,296.7 591.2,297.6 592.4,297.7 593.6,298.2 594.8,297.9 596.0,297.3 597.2,297.8 598.4,298.5 599.6,298.1 600.8,299.0 602.0,298.3 603.2,298.5 604.4,298.3 605.6,299.3 606.8,298.2 608.0,297.5 609.2,298.3 610.4,297.4 611.6,297.9 612.8,298.3 614.0,298.7 614.3,299.0" stroke="#4a4a4a" stroke-width="1.1"/>
<polyline points="615.2,453.4 615.5,448.3 615.8,445.5 616.1,443.8 616.4,442.8 617.1,441.5 617.8,440.7 618.5,440.6 619.2,441.8 619.9,440.0 620.6,439.4 621.3,441.6 622.0,440.5 622.7,439.6 624.1,439.6 625.5,441.5 626.7,441.2 627.9,439.4 629.1,441.0 630.3,439.8 631.5,440.4" stroke="#4a4a4a" stroke-width="1.1"/>
<polyline points="463.6,446.0 463.6,222.0 463.6,222.0 463.9,247.2 464.2,261.4 464.5,269.4" stroke="#a6a6a6" stroke-width="0.8"/>
<polyline points="614.3,299.0 614.3,507.4 614.3,507.4 614.6,478.4 614.9,462.4 615.2,453.4" stroke="#a6a6a6" stroke-width="0.8"/>
<polyline points="446.0,446.3 447.2,444.8 448.4,447.1 449.6,445.6 450.8,445.1 452.0,446.7 453.2,445.0 454.4,444.8 455.6,446.4 456.8,445.9 458.0,447.0 459.2,446.8 460.4,445.2 461.6,444.8 462.8,446.3 464.5,310.4 464.8,313.6 465.1,315.5 465.4,316.7 465.7,317.5 466.4,320.0 467.1,320.0 467.8,319.8 468.5,320.7 469.2,321.2 469.9,321.1 470.6,320.1 471.3,320.4 472.0,321.1 473.4,321.9 474.8,322.0 476.0,321.2 477.2,321.5 478.4,321.4 479.6,322.6 480.8,322.7 482.0,322.2 483.2,322.7 484.4,322.7 485.6,322.3 486.8,321.8 488.0,321.9 489.2,323.0 490.4,322.6 491.6,322.7 492.8,323.1 494.0,323.1 495.2,324.7 496.4,323.4 497.6,324.4 498.8,324.3 500.0,324.4 501.2,324.7 502.4,325.0 503.6,325.2 504.8,324.4 506.0,324.7 507.2,324.3 508.4,324.2 509.6,324.6 510.8,324.1 512.0,325.0 513.2,324.9 514.4,324.8 515.6,325.1 516.8,324.8 518.0,324.3 519.2,324.4 520.4,324.2 521.6,325.7 522.8,325.0 524.0,325.3 525.2,325.1 526.4,325.6 527.6,325.7 528.8,324.2 530.0,324.2 531.2,324.4 532.4,325.8 533.6,325.3 534.8,325.8 536.0,325.3 537.2,325.4 538.4,325.0 539.6,325.5 540.8,324.4 542.0,325.9 543.2,325.3 544.4,325.2 545.6,325.1 546.8,325.9 548.0,325.4 549.2,324.2 550.4,324.8 551.6,324.8 552.8,324.7 554.0,325.5 555.2,325.7 556.4,325.9 557.6,327.0 558.8,327.1 560.0,326.8 561.2,326.8 562.4,325.2 563.6,325.6 564.8,324.4 566.0,324.5 567.2,324.7 568.4,326.2 569.6,325.7 570.8,326.4 572.0,326.5 573.2,326.6 574.4,326.6 575.6,327.1 576.8,326.0 578.0,326.5 579.2,326.2 580.4,326.2 581.6,326.5 582.8,326.4 584.0,326.7 585.2,326.8 586.4,325.4 587.6,324.9 588.8,324.8 590.0,325.8 591.2,325.1 592.4,325.2 593.6,325.5 594.8,325.2 596.0,326.0 597.2,326.1 598.4,326.1 599.6,324.8 600.8,325.6 602.0,326.0 603.2,324.6 604.4,324.8 605.6,325.7 606.8,325.8 608.0,325.6 609.2,326.0 610.4,325.6 611.6,325.7 612.8,326.3 614.0,325.3 614.3,326.0" stroke="#3a3a3a" stroke-width="1.2"/>
<polyline points="615.2,450.4 615.5,446.5 615.8,444.3 616.1,443.0 616.4,441.3 617.1,440.6 617.8,441.1 618.5,441.1 619.2,439.5 619.9,441.9 620.6,441.5 621.3,440.3 622.0,439.7 622.7,441.4 624.1,441.8 625.5,439.7 626.7,441.2 627.9,441.3 629.1,441.6 630.3,439.7 631.5,439.5" stroke="#3a3a3a" stroke-width="1.2"/>
<polyline points="463.6,446.0 463.6,278.0 463.6,278.0 463.9,295.2 464.2,304.9 464.5,310.4" stroke="#a6a6a6" stroke-width="0.8"/>
<polyline points="614.3,326.0 614.3,492.1 614.3,492.1 614.6,469.7 614.9,457.3 615.2,450.4" stroke="#a6a6a6" stroke-width="0.8"/>
<polyline points="446.0,445.1 447.2,445.3 448.4,447.0 449.6,447.1 450.8,445.9 452.0,445.0 453.2,445.6 454.4,445.3 455.6,446.4 456.8,446.6 458.0,446.7 459.2,445.8 460.4,445.9 461.6,445.9 462.8,445.7 463.9,341.2 464.2,345.3 464.5,347.7 464.8,349.1 465.1,350.0 465.4,350.7 465.7,351.0 466.4,350.9 467.1,351.2 467.8,351.9 468.5,352.7 469.2,352.6 469.9,351.2 470.6,351.9 471.3,352.1 472.0,352.0 473.4,353.1 474.8,353.9 476.0,353.2 477.2,352.8 478.4,352.7 479.6,353.9 480.8,353.3 482.0,354.6 483.2,353.8 484.4,354.4 485.6,354.8 486.8,355.6 488.0,355.0 489.2,355.3 490.4,355.2 491.6,355.8 492.8,354.9 494.0,355.7 495.2,355.9 496.4,356.0 497.6,356.1 498.8,355.0 500.0,356.4 501.2,355.3 502.4,355.3 503.6,355.8 504.8,356.1 506.0,356.8 507.2,355.7 508.4,356.8 509.6,356.8 510.8,356.0 512.0,355.4 513.2,355.1 514.4,355.0 515.6,355.9 516.8,356.0 518.0,355.1 519.2,355.6 520.4,356.6 521.6,355.6 522.8,355.3 524.0,355.2 525.2,355.7 526.4,355.8 527.6,356.2 528.8,355.8 530.0,355.5 531.2,356.1 532.4,356.4 533.6,356.3 534.8,356.2 536.0,355.7 537.2,356.0 538.4,355.5 539.6,355.2 540.8,355.8 542.0,356.3 543.2,355.3 544.4,355.3 545.6,355.4 546.8,354.7 548.0,355.8 549.2,355.5 550.4,355.4 551.6,356.0 552.8,355.8 554.0,356.4 555.2,356.7 556.4,356.7 557.6,356.9 558.8,356.9 560.0,357.2 561.2,357.1 562.4,357.4 563.6,357.3 564.8,355.9 566.0,357.0 567.2,356.8 568.4,357.3 569.6,355.9 570.8,356.6 572.0,357.2 573.2,355.8 574.4,356.4 575.6,355.7 576.8,356.5 578.0,357.0 579.2,356.5 580.4,357.5 581.6,356.0 582.8,356.5 584.0,356.4 585.2,355.9 586.4,355.0 587.6,356.1 588.8,356.3 590.0,355.3 591.2,356.4 592.4,355.9 593.6,356.9 594.8,357.0 596.0,356.7 597.2,358.0 598.4,356.7 599.6,357.2 600.8,356.8 602.0,356.5 603.2,356.7 604.4,356.7 605.6,356.7 606.8,356.8 608.0,357.3 609.2,357.1 610.4,357.1 611.6,356.2 612.8,356.4 614.0,356.9 614.3,356.5" stroke="#262626" stroke-width="1.3"/>
<polyline points="614.9,452.3 615.2,447.4 615.5,444.7 615.8,443.1 616.1,442.6 616.4,442.0 617.1,440.7 617.8,442.1 618.5,440.3 619.2,439.4 619.9,439.6 620.6,439.8 621.3,441.2 622.0,441.4 622.7,439.3 624.1,439.8 625.5,439.8 626.7,441.2 627.9,441.5 629.1,439.9 630.3,439.5 631.5,441.7" stroke="#262626" stroke-width="1.3"/>
<polyline points="463.6,446.0 463.6,334.0 463.6,334.0 463.9,341.2" stroke="#a6a6a6" stroke-width="0.8"/>
<polyline points="614.3,356.5 614.3,476.7 614.3,476.7 614.6,461.0 614.9,452.3" stroke="#a6a6a6" stroke-width="0.8"/>
<polyline points="446.0,447.2 447.2,446.6 448.4,445.9 449.6,446.6 450.8,446.7 452.0,446.0 453.2,445.4 454.4,446.1 455.6,446.4 456.8,445.5 458.0,446.4 459.2,445.1 460.4,447.2 461.6,445.2 462.8,445.3 463.6,390.0 463.9,385.4 464.2,382.8 464.5,381.4 464.8,381.9 465.1,381.0 465.4,380.9 465.7,380.7 466.4,380.3 467.1,378.8 467.8,378.5 468.5,379.4 469.2,378.8 469.9,379.3 470.6,379.5 471.3,379.2 472.0,379.3 473.4,379.7 474.8,379.5 476.0,379.9 477.2,380.2 478.4,379.9 479.6,379.9 480.8,379.4 482.0,379.5 483.2,380.0 484.4,379.9 485.6,379.3 486.8,379.7 488.0,379.4 489.2,379.3 490.4,379.4 491.6,380.4 492.8,381.0 494.0,380.8 495.2,380.0 496.4,381.2 497.6,381.6 498.8,381.7 500.0,381.5 501.2,381.2 502.4,381.3 503.6,380.0 504.8,380.6 506.0,381.2 507.2,381.0 508.4,381.6 509.6,382.2 510.8,382.2 512.0,381.8 513.2,381.2 514.4,382.4 515.6,382.5 516.8,382.4 518.0,381.9 519.2,381.3 520.4,382.5 521.6,382.7 522.8,382.0 524.0,382.3 525.2,382.1 526.4,381.8 527.6,382.6 528.8,382.0 530.0,381.6 531.2,381.8 532.4,382.5 533.6,381.3 534.8,380.8 536.0,381.3 537.2,380.6 538.4,380.6 539.6,380.1 540.8,380.9 542.0,381.4 543.2,380.8 544.4,382.0 545.6,380.8 546.8,380.9 548.0,380.7 549.2,381.2 550.4,382.1 551.6,381.4 552.8,381.3 554.0,380.8 555.2,381.1 556.4,380.7 557.6,380.5 558.8,381.2 560.0,381.0 561.2,381.1 562.4,381.8 563.6,381.9 564.8,381.1 566.0,381.3 567.2,382.5 568.4,382.7 569.6,382.4 570.8,381.4 572.0,382.0 573.2,381.9 574.4,381.1 575.6,382.4 576.8,381.2 578.0,382.3 579.2,381.3 580.4,380.8 581.6,381.2 582.8,381.2 584.0,381.5 585.2,382.0 586.4,381.9 587.6,382.1 588.8,382.1 590.0,381.8 591.2,381.0 592.4,382.2 593.6,381.3 594.8,382.4 596.0,381.3 597.2,382.3 598.4,380.6 599.6,381.2 600.8,380.7 602.0,381.1 603.2,379.9 604.4,381.1 605.6,381.1 606.8,380.8 608.0,380.3 609.2,381.7 610.4,380.8 611.6,382.2 612.8,381.8 614.0,380.9 614.3,381.5" stroke="#222" stroke-width="1.3"/>
<polyline points="614.6,454.7 614.9,451.0 615.2,449.0 615.5,448.4 615.8,447.7 616.1,446.3 616.4,447.3 617.1,446.5 617.8,446.0 618.5,446.2 619.2,445.5 619.9,445.5 620.6,447.1 621.3,445.6 622.0,446.7 622.7,445.7 624.1,445.2 625.5,444.7 626.7,447.2 627.9,446.7 629.1,447.3 630.3,446.2 631.5,444.9" stroke="#222" stroke-width="1.3"/>
<polyline points="463.6,446.0 463.6,390.0 463.6,390.0" stroke="#a6a6a6" stroke-width="0.8"/>
<polyline points="614.3,381.5 614.3,461.4 614.3,461.4 614.6,454.7" stroke="#a6a6a6" stroke-width="0.8"/>
<polyline points="446.0,445.1 447.2,444.8 448.4,446.3 449.6,446.3 450.8,447.2 452.0,445.5 453.2,445.3 454.4,445.3 455.6,445.1 456.8,444.8 458.0,446.0 459.2,445.8 460.4,445.7 461.6,447.2 462.8,445.5 464.5,408.1 464.8,404.8 465.1,403.0 465.4,401.8 465.7,400.1 466.4,400.8 467.1,400.1 467.8,401.1 468.5,401.5 469.2,401.5 469.9,401.0 470.6,401.0 471.3,402.4 472.0,402.5 473.4,402.2 474.8,401.8 476.0,402.4 477.2,401.9 478.4,402.3 479.6,402.0 480.8,403.2 482.0,401.7 483.2,401.9 484.4,401.5 485.6,401.8 486.8,402.4 488.0,401.6 489.2,402.5 490.4,401.8 491.6,403.0 492.8,402.1 494.0,402.9 495.2,402.0 496.4,402.8 497.6,401.6 498.8,402.5 500.0,402.4 501.2,403.0 502.4,403.3 503.6,402.8 504.8,403.1 506.0,403.3 507.2,403.1 508.4,402.1 509.6,402.7 510.8,402.1 512.0,401.5 513.2,402.8 514.4,402.5 515.6,402.6 516.8,402.9 518.0,401.8 519.2,402.9 520.4,403.3 521.6,401.7 522.8,401.8 524.0,401.7 525.2,402.8 526.4,402.5 527.6,402.1 528.8,403.2 530.0,402.5 531.2,403.1 532.4,402.9 533.6,402.9 534.8,402.8 536.0,401.7 537.2,401.8 538.4,402.4 539.6,401.8 540.8,403.3 542.0,403.4 543.2,403.0 544.4,403.9 545.6,403.9 546.8,403.9 548.0,403.0 549.2,403.3 550.4,402.9 551.6,403.5 552.8,404.3 554.0,403.2 555.2,403.4 556.4,404.3 557.6,404.0 558.8,404.3 560.0,404.4 561.2,403.6 562.4,402.4 563.6,403.1 564.8,403.3 566.0,402.5 567.2,402.5 568.4,401.7 569.6,402.2 570.8,401.7 572.0,403.0 573.2,403.0 574.4,403.3 575.6,402.8 576.8,402.1 578.0,403.3 579.2,403.0 580.4,402.7 581.6,402.6 582.8,401.8 584.0,401.8 585.2,401.6 586.4,401.9 587.6,403.1 588.8,402.9 590.0,403.4 591.2,402.4 592.4,402.6 593.6,403.6 594.8,403.2 596.0,403.4 597.2,402.5 598.4,402.7 599.6,403.1 600.8,403.9 602.0,403.7 603.2,403.3 604.4,403.1 605.6,403.9 606.8,404.2 608.0,402.8 609.2,402.5 610.4,402.0 611.6,403.1 612.8,403.0 614.0,401.7 614.3,403.0" stroke="#222" stroke-width="1.3"/>
<polyline points="614.3,446.0 614.3,444.7 614.6,446.2 614.9,445.3 615.2,446.3 615.5,447.1 615.8,446.6 616.1,445.4 616.4,446.3 617.1,445.5 617.8,446.7 618.5,445.4 619.2,447.0 619.9,446.5 620.6,447.0 621.3,445.6 622.0,447.2 622.7,446.2 624.1,445.4 625.5,446.4 626.7,445.5 627.9,445.0 629.1,444.8 630.3,446.3 631.5,445.3" stroke="#222" stroke-width="1.3"/>
<polyline points="463.6,446.0 463.6,446.0 463.6,446.0 463.9,425.5 464.2,414.3 464.5,408.1" stroke="#a6a6a6" stroke-width="0.8"/>
<polyline points="614.3,403.0 614.3,446.0" stroke="#a6a6a6" stroke-width="0.8"/>
<polyline points="446.0,445.0 447.2,446.7 448.4,445.1 449.6,446.7 450.8,445.4 452.0,445.6 453.2,447.1 454.4,446.9 455.6,446.9 456.8,447.2 458.0,446.3 459.2,447.1 460.4,446.3 461.6,446.2 462.8,445.5 464.5,428.1 464.8,425.2 465.1,423.6 465.4,422.6 465.7,421.3 466.4,420.6 467.1,421.1 467.8,421.3 468.5,422.1 469.2,421.7 469.9,421.8 470.6,421.9 471.3,421.9 472.0,421.6 473.4,421.4 474.8,420.7 476.0,420.5 477.2,421.6 478.4,421.7 479.6,420.6 480.8,421.0 482.0,420.9 483.2,420.5 484.4,421.5 485.6,420.3 486.8,420.5 488.0,420.2 489.2,420.1 490.4,419.8 491.6,420.1 492.8,421.0 494.0,421.1 495.2,421.2 496.4,421.2 497.6,420.7 498.8,420.9 500.0,421.3 501.2,420.6 502.4,421.3 503.6,422.1 504.8,421.6 506.0,421.6 507.2,421.2 508.4,421.3 509.6,421.4 510.8,421.9 512.0,421.0 513.2,422.2 514.4,422.2 515.6,421.5 516.8,421.8 518.0,421.6 519.2,421.2 520.4,421.2 521.6,422.1 522.8,421.7 524.0,421.8 525.2,421.1 526.4,421.4 527.6,421.6 528.8,421.5 530.0,421.8 531.2,420.7 532.4,421.6 533.6,421.5 534.8,421.0 536.0,421.8 537.2,420.5 538.4,421.0 539.6,420.7 540.8,420.6 542.0,420.8 543.2,421.8 544.4,421.2 545.6,421.8 546.8,421.2 548.0,422.5 549.2,421.2 550.4,422.7 551.6,421.9 552.8,422.1 554.0,421.8 555.2,421.2 556.4,421.4 557.6,421.8 558.8,420.4 560.0,420.8 561.2,420.9 562.4,421.3 563.6,421.0 564.8,420.7 566.0,421.7 567.2,420.7 568.4,421.2 569.6,421.8 570.8,420.5 572.0,421.2 573.2,420.9 574.4,420.7 575.6,420.8 576.8,421.0 578.0,421.2 579.2,420.6 580.4,421.1 581.6,421.4 582.8,421.4 584.0,420.5 585.2,421.7 586.4,420.7 587.6,420.6 588.8,421.4 590.0,421.0 591.2,420.8 592.4,421.8 593.6,420.9 594.8,421.9 596.0,421.2 597.2,421.2 598.4,421.0 599.6,420.9 600.8,421.1 602.0,421.6 603.2,420.9 604.4,422.5 605.6,420.9 606.8,421.8 608.0,420.5 609.2,419.6 610.4,419.7 611.6,420.9 612.8,419.8 614.0,420.3 614.3,421.0" stroke="#1a1a1a" stroke-width="1.4"/>
<polyline points="614.3,443.4 614.3,443.4 614.6,443.0 614.9,443.6 615.2,444.6 615.5,445.3 615.8,446.7 616.1,446.0 616.4,446.6 617.1,446.0 617.8,446.9 618.5,446.3 619.2,445.2 619.9,445.6 620.6,445.9 621.3,445.0 622.0,447.1 622.7,445.9 624.1,445.2 625.5,446.0 626.7,446.8 627.9,445.4 629.1,446.2 630.3,444.9 631.5,445.3" stroke="#1a1a1a" stroke-width="1.4"/>
<polyline points="463.6,446.0 463.6,459.2 463.6,459.2 463.9,442.5 464.2,433.2 464.5,428.1" stroke="#a6a6a6" stroke-width="0.8"/>
<polyline points="614.3,421.0 614.3,443.4" stroke="#a6a6a6" stroke-width="0.8"/>
<polyline points="446.0,445.2 447.2,446.0 448.4,446.5 449.6,445.3 450.8,446.5 452.0,446.2 453.2,446.7 454.4,447.3 455.6,445.6 456.8,447.3 458.0,445.9 459.2,446.0 460.4,445.2 461.6,444.9 462.8,446.4 464.2,450.1 464.5,445.6 464.8,443.0 465.1,441.5 465.4,440.6 465.7,439.2 466.4,438.1 467.1,438.7 467.8,439.1 468.5,438.4 469.2,438.1 469.9,438.2 470.6,438.6 471.3,438.9 472.0,438.1 473.4,439.3 474.8,438.5 476.0,438.5 477.2,438.4 478.4,438.8 479.6,438.2 480.8,439.2 482.0,439.0 483.2,439.1 484.4,438.3 485.6,438.8 486.8,438.2 488.0,437.8 489.2,438.7 490.4,439.2 491.6,438.3 492.8,438.7 494.0,438.6 495.2,438.7 496.4,438.1 497.6,438.9 498.8,439.0 500.0,438.5 501.2,439.2 502.4,438.4 503.6,437.9 504.8,438.2 506.0,438.1 507.2,438.3 508.4,439.0 509.6,438.9 510.8,438.2 512.0,438.3 513.2,438.3 514.4,439.2 515.6,438.5 516.8,438.1 518.0,439.0 519.2,438.3 520.4,438.4 521.6,437.8 522.8,438.9 524.0,438.7 525.2,437.5 526.4,438.1 527.6,437.9 528.8,436.9 530.0,438.0 531.2,437.1 532.4,438.0 533.6,438.0 534.8,437.2 536.0,437.9 537.2,438.4 538.4,438.7 539.6,438.5 540.8,438.2 542.0,438.6 543.2,438.5 544.4,438.0 545.6,438.2 546.8,438.4 548.0,438.2 549.2,439.1 550.4,438.7 551.6,439.6 552.8,439.5 554.0,439.6 555.2,439.5 556.4,438.7 557.6,438.3 558.8,439.0 560.0,438.2 561.2,438.7 562.4,438.8 563.6,438.6 564.8,438.3 566.0,438.4 567.2,439.4 568.4,438.5 569.6,438.6 570.8,438.7 572.0,438.9 573.2,439.0 574.4,438.9 575.6,438.9 576.8,439.3 578.0,438.6 579.2,438.8 580.4,439.1 581.6,439.2 582.8,438.4 584.0,438.4 585.2,438.2 586.4,437.4 587.6,437.8 588.8,438.2 590.0,439.0 591.2,438.8 592.4,438.8 593.6,438.4 594.8,437.4 596.0,437.3 597.2,437.7 598.4,438.5 599.6,439.8 600.8,439.5 602.0,439.7 603.2,438.7 604.4,439.2 605.6,438.4 606.8,438.8 608.0,439.1 609.2,438.1 610.4,438.5 611.6,437.7 612.8,437.3 614.0,438.0 614.3,438.5" stroke="#111" stroke-width="1.5"/>
<polyline points="614.3,440.8 614.3,440.8 614.6,442.5 614.9,443.6 615.2,444.5 615.5,445.2 615.8,444.7 616.1,446.3 616.4,445.9 617.1,445.7 617.8,446.6 618.5,444.9 619.2,445.3 619.9,446.0 620.6,446.2 621.3,447.1 622.0,446.4 622.7,444.8 624.1,447.1 625.5,445.9 626.7,445.2 627.9,446.7 629.1,446.3 630.3,446.9 631.5,446.1" stroke="#111" stroke-width="1.5"/>
<polyline points="463.6,446.0 463.6,472.4 463.6,472.4 463.9,458.1 464.2,450.1" stroke="#a6a6a6" stroke-width="0.8"/>
<polyline points="614.3,438.5 614.3,440.8" stroke="#a6a6a6" stroke-width="0.8"/>
<polyline points="446.0,445.4 447.2,445.9 448.4,445.9 449.6,445.6 450.8,446.2 452.0,445.1 453.2,445.4 454.4,445.0 455.6,444.8 456.8,446.1 458.0,446.6 459.2,445.7 460.4,447.0 461.6,446.3 462.8,446.4 464.2,465.6 464.5,461.5 464.8,459.1 465.1,457.6 465.4,456.7 465.7,456.1 466.4,455.7 467.1,454.5 467.8,454.8 468.5,454.8 469.2,454.7 469.9,454.9 470.6,454.4 471.3,454.1 472.0,455.0 473.4,454.0 474.8,454.2 476.0,453.9 477.2,454.9 478.4,454.9 479.6,455.4 480.8,455.6 482.0,454.8 483.2,455.0 484.4,454.2 485.6,454.5 486.8,454.6 488.0,453.3 489.2,454.3 490.4,453.0 491.6,453.7 492.8,454.3 494.0,454.0 495.2,453.3 496.4,453.6 497.6,454.3 498.8,454.1 500.0,455.1 501.2,454.1 502.4,453.7 503.6,454.5 504.8,453.3 506.0,453.2 507.2,454.0 508.4,454.6 509.6,453.4 510.8,453.9 512.0,454.2 513.2,454.6 514.4,454.7 515.6,453.6 516.8,453.4 518.0,453.3 519.2,452.8 520.4,452.8 521.6,452.4 522.8,453.2 524.0,453.6 525.2,452.7 526.4,453.6 527.6,452.5 528.8,452.6 530.0,453.2 531.2,453.7 532.4,453.4 533.6,453.5 534.8,453.4 536.0,453.0 537.2,453.9 538.4,454.8 539.6,453.9 540.8,454.4 542.0,453.9 543.2,453.6 544.4,454.8 545.6,454.9 546.8,454.5 548.0,455.0 549.2,455.0 550.4,454.8 551.6,454.7 552.8,454.0 554.0,454.0 555.2,452.6 556.4,452.8 557.6,453.9 558.8,453.5 560.0,453.2 561.2,453.9 562.4,453.7 563.6,454.1 564.8,453.7 566.0,453.6 567.2,454.6 568.4,454.2 569.6,453.3 570.8,453.9 572.0,453.8 573.2,453.1 574.4,453.9 575.6,454.2 576.8,454.2 578.0,453.7 579.2,454.1 580.4,453.4 581.6,453.8 582.8,454.0 584.0,453.2 585.2,453.6 586.4,453.6 587.6,454.2 588.8,455.1 590.0,454.6 591.2,454.9 592.4,455.2 593.6,454.3 594.8,454.3 596.0,454.6 597.2,453.8 598.4,453.1 599.6,453.3 600.8,453.7 602.0,453.7 603.2,454.4 604.4,453.8 605.6,455.0 606.8,455.0 608.0,454.8 609.2,454.9 610.4,454.6 611.6,453.9 612.8,454.5 614.0,453.7 614.3,454.0" stroke="#111" stroke-width="1.5"/>
<polyline points="614.3,438.2 614.3,438.2 614.6,440.8 614.9,442.4 615.2,443.4 615.5,444.0 615.8,443.2 616.1,445.0 616.4,445.8 617.1,445.7 617.8,444.7 618.5,446.8 619.2,444.9 619.9,445.8 620.6,445.8 621.3,445.0 622.0,445.3 622.7,445.1 624.1,445.1 625.5,444.8 626.7,446.4 627.9,446.4 629.1,445.4 630.3,447.2 631.5,445.8" stroke="#111" stroke-width="1.5"/>
<polyline points="463.6,446.0 463.6,485.6 463.6,485.6 463.9,472.8 464.2,465.6" stroke="#a6a6a6" stroke-width="0.8"/>
<polyline points="614.3,454.0 614.3,438.2" stroke="#a6a6a6" stroke-width="0.8"/>
<polyline points="446.0,445.9 447.2,447.1 448.4,446.4 449.6,445.9 450.8,446.6 452.0,446.6 453.2,445.5 454.4,444.9 455.6,446.6 456.8,446.6 458.0,446.3 459.2,445.0 460.4,446.6 461.6,445.2 462.8,446.8 464.2,480.8 464.5,476.9 464.8,474.6 465.1,473.2 465.4,472.2 465.7,471.6 466.4,470.4 467.1,469.5 467.8,468.5 468.5,468.1 469.2,469.1 469.9,469.0 470.6,468.8 471.3,468.8 472.0,467.6 473.4,467.9 474.8,468.1 476.0,469.1 477.2,467.7 478.4,468.6 479.6,468.5 480.8,467.7 482.0,468.7 483.2,468.9 484.4,468.8 485.6,468.3 486.8,468.5 488.0,468.4 489.2,468.7 490.4,468.7 491.6,469.2 492.8,468.6 494.0,468.8 495.2,469.2 496.4,469.3 497.6,470.0 498.8,469.1 500.0,470.2 501.2,470.0 502.4,468.4 503.6,469.1 504.8,468.9 506.0,469.5 507.2,469.2 508.4,469.4 509.6,468.6 510.8,469.3 512.0,468.6 513.2,468.6 514.4,468.7 515.6,469.3 516.8,468.7 518.0,468.3 519.2,469.5 520.4,469.6 521.6,469.7 522.8,468.7 524.0,469.2 525.2,469.6 526.4,469.9 527.6,468.6 528.8,468.1 530.0,468.5 531.2,467.7 532.4,468.5 533.6,468.4 534.8,468.2 536.0,467.6 537.2,468.6 538.4,468.5 539.6,468.6 540.8,468.5 542.0,468.8 543.2,469.2 544.4,469.3 545.6,468.6 546.8,468.7 548.0,469.5 549.2,468.7 550.4,469.4 551.6,469.8 552.8,469.4 554.0,470.1 555.2,470.3 556.4,469.3 557.6,469.2 558.8,469.8 560.0,469.0 561.2,468.6 562.4,469.2 563.6,468.5 564.8,469.1 566.0,469.0 567.2,468.4 568.4,468.5 569.6,468.3 570.8,468.5 572.0,469.0 573.2,468.7 574.4,470.4 575.6,469.5 576.8,469.6 578.0,470.4 579.2,468.9 580.4,469.5 581.6,468.7 582.8,470.1 584.0,469.1 585.2,469.5 586.4,468.3 587.6,468.0 588.8,468.9 590.0,468.9 591.2,468.6 592.4,468.3 593.6,469.8 594.8,469.8 596.0,470.2 597.2,469.7 598.4,468.9 599.6,468.7 600.8,468.5 602.0,468.8 603.2,469.7 604.4,468.2 605.6,469.2 606.8,468.0 608.0,469.2 609.2,467.9 610.4,468.5 611.6,468.4 612.8,468.5 614.0,468.4 614.3,469.0" stroke="#111" stroke-width="1.5"/>
<polyline points="614.3,435.6 614.6,439.1 614.9,441.2 615.2,442.5 615.5,443.3 615.8,443.9 616.1,444.8 616.4,444.2 617.1,445.3 617.8,446.2 618.5,444.4 619.2,445.5 619.9,445.4 620.6,447.0 621.3,446.2 622.0,445.1 622.7,445.8 624.1,444.7 625.5,446.0 626.7,444.9 627.9,445.1 629.1,446.0 630.3,446.1 631.5,445.3" stroke="#111" stroke-width="1.5"/>
<polyline points="463.6,446.0 463.6,498.8 463.6,498.8 463.9,487.4 464.2,480.8" stroke="#a6a6a6" stroke-width="0.8"/>
<polyline points="614.3,469.0 614.3,435.6 614.3,435.6" stroke="#a6a6a6" stroke-width="0.8"/>
<polyline points="446.0,446.2 447.2,445.5 448.4,446.5 449.6,444.8 450.8,446.9 452.0,445.9 453.2,445.1 454.4,445.5 455.6,446.3 456.8,444.9 458.0,447.1 459.2,445.3 460.4,445.8 461.6,444.9 462.8,445.9 464.2,495.0 464.5,491.2 464.8,488.9 465.1,487.4 465.4,486.4 465.7,485.7 466.4,484.7 467.1,482.6 467.8,483.2 468.5,483.2 469.2,482.9 469.9,482.8 470.6,481.7 471.3,482.3 472.0,482.3 473.4,482.4 474.8,482.3 476.0,481.8 477.2,481.5 478.4,481.4 479.6,482.2 480.8,481.6 482.0,483.3 483.2,482.3 484.4,483.9 485.6,483.3 486.8,482.5 488.0,482.1 489.2,481.6 490.4,481.0 491.6,481.0 492.8,481.8 494.0,482.0 495.2,481.7 496.4,483.1 497.6,482.8 498.8,483.6 500.0,483.2 501.2,483.8 502.4,483.1 503.6,483.6 504.8,482.9 506.0,482.5 507.2,482.2 508.4,483.0 509.6,482.1 510.8,482.6 512.0,482.9 513.2,483.6 514.4,483.5 515.6,483.5 516.8,483.5 518.0,483.8 519.2,483.3 520.4,483.3 521.6,483.0 522.8,483.6 524.0,482.5 525.2,482.2 526.4,482.4 527.6,483.0 528.8,482.8 530.0,481.8 531.2,482.7 532.4,482.2 533.6,482.5 534.8,482.0 536.0,481.6 537.2,483.2 538.4,482.0 539.6,483.1 540.8,483.1 542.0,482.9 543.2,482.9 544.4,483.6 545.6,483.4 546.8,483.2 548.0,482.9 549.2,483.0 550.4,483.2 551.6,481.8 552.8,481.6 554.0,482.4 555.2,482.4 556.4,481.8 557.6,482.5 558.8,482.3 560.0,482.2 561.2,483.1 562.4,482.0 563.6,483.8 564.8,483.0 566.0,483.5 567.2,482.9 568.4,482.9 569.6,483.8 570.8,483.6 572.0,482.6 573.2,483.6 574.4,483.9 575.6,484.2 576.8,483.0 578.0,482.6 579.2,482.6 580.4,482.6 581.6,482.7 582.8,482.3 584.0,482.1 585.2,483.1 586.4,482.3 587.6,483.0 588.8,483.9 590.0,483.0 591.2,483.6 592.4,482.2 593.6,483.4 594.8,483.1 596.0,483.0 597.2,482.5 598.4,483.1 599.6,481.6 600.8,481.7 602.0,483.2 603.2,482.1 604.4,482.3 605.6,482.9 606.8,483.1 608.0,483.3 609.2,482.4 610.4,482.7 611.6,483.4 612.8,482.3 614.0,482.2 614.3,482.6" stroke="#111" stroke-width="1.5"/>
<polyline points="614.3,433.0 614.6,437.4 614.9,440.0 615.2,441.6 615.5,442.6 615.8,443.3 616.1,443.8 616.4,443.7 617.1,444.6 617.8,444.7 618.5,444.6 619.2,444.5 619.9,446.1 620.6,447.0 621.3,446.2 622.0,447.0 622.7,445.0 624.1,446.3 625.5,445.6 626.7,446.9 627.9,446.3 629.1,446.3 630.3,447.1 631.5,447.2" stroke="#111" stroke-width="1.5"/>
<polyline points="463.6,446.0 463.6,512.0 463.6,512.0 463.9,501.2 464.2,495.0" stroke="#a6a6a6" stroke-width="0.8"/>
<polyline points="614.3,482.6 614.3,433.0 614.3,433.0" stroke="#a6a6a6" stroke-width="0.8"/>
<rect x="655.9" y="399" width="148.10000000000002" height="2.5" fill="#000"/>
<polyline points="640.0,403.8 642.0,404.0 644.0,403.8 646.0,404.0 648.0,403.8 650.0,404.1 652.0,403.9 667.4,395.0 668.8,394.8 670.2,396.2 671.6,395.6 673.0,396.0 674.4,396.5 675.8,396.1 677.2,397.1 678.6,397.2 680.0,396.5 681.4,397.2 682.8,396.7 684.2,397.3 686.2,396.8 688.2,397.1 690.2,397.4 692.2,397.6 694.2,397.8 696.2,398.1 698.2,397.5 700.2,397.5 702.2,397.4 704.2,398.1 706.2,397.7 708.2,397.5 710.2,397.5 712.2,397.8 714.2,398.4 716.2,397.9 718.2,398.4 720.2,398.0 722.2,398.2 724.2,397.8 726.2,398.0 728.2,398.4 730.2,397.6 732.2,398.1 734.2,397.9 736.2,397.9 738.2,398.0 740.2,397.9 742.2,398.3 744.2,397.7 746.2,397.9 748.2,398.0 750.2,397.9 752.2,398.7 754.2,398.5 756.2,398.8 758.2,397.9 760.2,398.0 762.2,398.1 764.2,398.4 766.2,398.8 768.2,398.8 770.2,398.8 772.2,397.8 774.2,397.8 776.2,398.2 778.2,398.3 780.2,397.8 782.2,398.2 784.2,398.0 786.2,398.9 788.2,398.1 790.2,398.2 792.2,398.0 794.2,398.8 796.2,398.0 798.2,398.4 800.2,398.1 802.2,398.1 804.2,399.0 804.5,398.4" stroke="#000" stroke-width="1.0"/>
<polyline points="654.0,362.1 654.3,370.9 654.6,376.0 654.9,379.2 655.2,381.2 655.5,382.6 656.2,384.7 656.9,386.1 657.6,387.3 658.3,388.3 659.0,389.2 659.7,390.1 660.4,390.8 661.1,391.4 661.8,392.0 663.2,393.0 664.6,393.8 666.0,394.5 667.4,395.0" stroke="#333" stroke-width="0.7"/>
<polyline points="805.4,423.6 805.7,418.5 806.0,415.5 806.3,413.7 806.6,412.5 807.3,411.0 808.0,410.1 808.7,409.4 809.4,408.8 810.1,408.2 810.8,407.8 811.5,407.4 812.2,407.0 812.9,406.7 814.3,406.1 815.7,405.8 817.1,405.5 818.5,405.0 819.9,405.1 821.3,404.9 822.7,404.6" stroke="#000" stroke-width="1.0"/>
<polyline points="653.4,404.0 653.4,319.4 653.4,319.4 653.7,346.7 654.0,362.1" stroke="#a6a6a6" stroke-width="0.8"/>
<polyline points="804.5,398.4 804.5,477.0 804.5,477.0 804.8,448.4 805.1,432.5 805.4,423.6" stroke="#a6a6a6" stroke-width="0.8"/>
<polyline points="640.0,403.8 642.0,403.7 644.0,404.0 646.0,404.0 648.0,404.2 650.0,404.3 652.0,404.2 666.0,396.0 667.4,396.2 668.8,397.4 670.2,397.2 671.6,396.8 673.0,397.2 674.4,398.3 675.8,398.2 677.2,398.3 678.6,398.3 680.0,397.6 681.4,398.8 682.8,398.1 684.2,398.7 686.2,398.5 688.2,398.5 690.2,398.6 692.2,399.1 694.2,399.1 696.2,398.6 698.2,399.2 700.2,398.4 702.2,398.6 704.2,398.6 706.2,398.3 708.2,398.8 710.2,398.4 712.2,399.5 714.2,399.4 716.2,399.0 718.2,398.5 720.2,398.8 722.2,399.4 724.2,398.9 726.2,398.6 728.2,399.1 730.2,399.3 732.2,398.7 734.2,399.1 736.2,399.3 738.2,399.5 740.2,399.1 742.2,399.8 744.2,399.0 746.2,399.6 748.2,398.8 750.2,399.8 752.2,399.4 754.2,398.9 756.2,399.7 758.2,399.8 760.2,398.9 762.2,399.8 764.2,399.9 766.2,399.2 768.2,399.7 770.2,399.6 772.2,399.5 774.2,399.3 776.2,399.2 778.2,399.8 780.2,399.7 782.2,399.9 784.2,398.9 786.2,399.5 788.2,399.7 790.2,399.1 792.2,398.9 794.2,399.9 796.2,399.8 798.2,399.7 800.2,399.2 802.2,399.4 804.2,399.8 804.5,399.4" stroke="#000" stroke-width="1.0"/>
<polyline points="654.0,369.6 654.3,376.7 654.6,380.9 654.9,383.5 655.2,385.1 655.5,386.2 656.2,388.0 656.9,389.2 657.6,390.1 658.3,391.0 659.0,391.7 659.7,392.4 660.4,393.0 661.1,393.5 661.8,394.0 663.2,394.8 664.6,395.5 666.0,396.0" stroke="#333" stroke-width="0.7"/>
<polyline points="805.1,427.3 805.4,420.0 805.7,415.9 806.0,413.4 806.3,411.9 806.6,411.0 807.3,409.7 808.0,409.0 808.7,408.4 809.4,407.9 810.1,407.5 810.8,407.1 811.5,406.8 812.2,406.4 812.9,406.2 814.3,405.5 815.7,405.5 817.1,405.2 818.5,404.8 819.9,405.0 821.3,404.6 822.7,404.7" stroke="#000" stroke-width="1.0"/>
<polyline points="653.4,404.0 653.4,334.8 653.4,334.8 653.7,357.0 654.0,369.6" stroke="#a6a6a6" stroke-width="0.8"/>
<polyline points="804.5,399.4 804.5,463.7 804.5,463.7 804.8,440.3 805.1,427.3" stroke="#a6a6a6" stroke-width="0.8"/>
<polyline points="640.0,403.8 642.0,403.9 644.0,403.9 646.0,404.0 648.0,404.2 650.0,404.3 652.0,404.2 664.6,397.2 666.0,398.0 667.4,398.5 668.8,398.5 670.2,398.7 671.6,398.2 673.0,398.7 674.4,398.9 675.8,398.6 677.2,399.6 678.6,399.1 680.0,399.0 681.4,398.9 682.8,399.5 684.2,399.3 686.2,400.1 688.2,399.8 690.2,399.6 692.2,399.3 694.2,399.2 696.2,400.0 698.2,400.0 700.2,399.9 702.2,399.9 704.2,399.8 706.2,400.4 708.2,399.4 710.2,399.7 712.2,400.4 714.2,399.8 716.2,399.9 718.2,400.0 720.2,399.9 722.2,400.4 724.2,399.7 726.2,400.2 728.2,400.4 730.2,400.0 732.2,400.5 734.2,400.1 736.2,400.4 738.2,399.8 740.2,400.0 742.2,400.4 744.2,400.4 746.2,400.3 748.2,399.8 750.2,400.4 752.2,400.8 754.2,400.1 756.2,400.0 758.2,400.5 760.2,400.0 762.2,399.9 764.2,399.9 766.2,400.5 768.2,400.8 770.2,400.7 772.2,400.5 774.2,400.8 776.2,400.8 778.2,400.1 780.2,400.3 782.2,401.0 784.2,401.0 786.2,400.6 788.2,400.6 790.2,400.2 792.2,399.9 794.2,400.2 796.2,400.1 798.2,400.6 800.2,400.6 802.2,400.6 804.2,400.9 804.5,400.5" stroke="#000" stroke-width="1.0"/>
<polyline points="654.0,377.0 654.3,382.6 654.6,385.8 654.9,387.8 655.2,389.1 655.5,389.9 656.2,391.3 656.9,392.2 657.6,393.0 658.3,393.6 659.0,394.2 659.7,394.7 660.4,395.2 661.1,395.6 661.8,396.0 663.2,396.7 664.6,397.2" stroke="#333" stroke-width="0.7"/>
<polyline points="805.1,422.1 805.4,416.5 805.7,413.2 806.0,411.3 806.3,410.2 806.6,409.4 807.3,408.5 808.0,407.9 808.7,407.4 809.4,407.0 810.1,406.7 810.8,406.4 811.5,406.1 812.2,405.6 812.9,405.5 814.3,405.1 815.7,405.0 817.1,405.1 818.5,404.6 819.9,404.7 821.3,404.2 822.7,404.2" stroke="#000" stroke-width="1.0"/>
<polyline points="653.4,404.0 653.4,350.2 653.4,350.2 653.7,367.4 654.0,377.0" stroke="#a6a6a6" stroke-width="0.8"/>
<polyline points="804.5,400.5 804.5,450.5 804.5,450.5 804.8,432.3 805.1,422.1" stroke="#a6a6a6" stroke-width="0.8"/>
<polyline points="640.0,404.2 642.0,403.9 644.0,404.1 646.0,404.1 648.0,404.1 650.0,403.7 652.0,403.9 663.2,398.5 664.6,399.4 666.0,399.0 667.4,399.2 668.8,400.2 670.2,399.9 671.6,400.2 673.0,400.1 674.4,400.3 675.8,400.1 677.2,400.1 678.6,400.2 680.0,400.1 681.4,400.8 682.8,400.1 684.2,400.2 686.2,400.7 688.2,401.3 690.2,401.1 692.2,401.0 694.2,401.1 696.2,400.5 698.2,400.9 700.2,400.4 702.2,401.0 704.2,400.4 706.2,400.6 708.2,400.6 710.2,400.9 712.2,401.1 714.2,400.8 716.2,400.6 718.2,400.7 720.2,401.7 722.2,401.8 724.2,401.7 726.2,400.8 728.2,400.9 730.2,401.7 732.2,400.7 734.2,400.8 736.2,401.4 738.2,401.8 740.2,401.8 742.2,401.7 744.2,401.1 746.2,401.6 748.2,401.9 750.2,401.8 752.2,401.9 754.2,401.7 756.2,401.7 758.2,401.6 760.2,401.3 762.2,401.5 764.2,401.9 766.2,401.5 768.2,400.8 770.2,401.3 772.2,401.9 774.2,401.7 776.2,401.4 778.2,401.9 780.2,401.7 782.2,401.1 784.2,401.7 786.2,401.9 788.2,400.8 790.2,402.0 792.2,401.4 794.2,401.9 796.2,400.9 798.2,401.2 800.2,401.2 802.2,401.1 804.2,401.6 804.5,401.5" stroke="#000" stroke-width="1.0"/>
<polyline points="653.7,377.7 654.0,384.5 654.3,388.4 654.6,390.7 654.9,392.1 655.2,393.0 655.5,393.6 656.2,394.6 656.9,395.2 657.6,395.8 658.3,396.3 659.0,396.7 659.7,397.1 660.4,397.4 661.1,397.7 661.8,398.0 663.2,398.5" stroke="#333" stroke-width="0.7"/>
<polyline points="804.8,424.2 805.1,417.0 805.4,412.9 805.7,410.6 806.0,409.2 806.3,408.4 806.6,407.9 807.3,407.2 808.0,406.8 808.7,406.4 809.4,406.2 810.1,406.1 810.8,405.8 811.5,405.8 812.2,405.1 812.9,405.1 814.3,404.9 815.7,404.9 817.1,404.7 818.5,404.8 819.9,404.6 821.3,404.3 822.7,404.4" stroke="#000" stroke-width="1.0"/>
<polyline points="653.4,404.0 653.4,365.5 653.4,365.5 653.7,377.7" stroke="#a6a6a6" stroke-width="0.8"/>
<polyline points="804.5,401.5 804.5,437.2 804.5,437.2 804.8,424.2" stroke="#a6a6a6" stroke-width="0.8"/>
<polyline points="640.0,404.2 642.0,404.0 644.0,404.1 646.0,404.2 648.0,404.2 650.0,403.8 652.0,403.7 660.4,399.6 661.1,400.1 661.8,400.4 663.2,399.9 664.6,401.0 666.0,401.0 667.4,400.5 668.8,400.6 670.2,401.3 671.6,401.4 673.0,400.9 674.4,401.9 675.8,401.1 677.2,401.9 678.6,402.1 680.0,401.2 681.4,401.9 682.8,401.8 684.2,402.2 686.2,401.7 688.2,401.7 690.2,401.5 692.2,402.3 694.2,401.7 696.2,402.4 698.2,401.4 700.2,402.5 702.2,401.5 704.2,402.3 706.2,402.6 708.2,401.9 710.2,402.2 712.2,402.0 714.2,401.6 716.2,402.6 718.2,402.2 720.2,402.6 722.2,401.7 724.2,401.8 726.2,401.9 728.2,402.6 730.2,401.7 732.2,401.7 734.2,402.1 736.2,402.2 738.2,402.7 740.2,402.7 742.2,402.0 744.2,402.6 746.2,402.2 748.2,402.7 750.2,402.6 752.2,401.8 754.2,402.3 756.2,402.3 758.2,402.3 760.2,402.5 762.2,402.6 764.2,402.3 766.2,402.4 768.2,402.8 770.2,402.6 772.2,402.1 774.2,402.0 776.2,402.2 778.2,403.0 780.2,402.3 782.2,402.9 784.2,403.0 786.2,402.7 788.2,402.3 790.2,402.7 792.2,402.5 794.2,403.0 796.2,402.5 798.2,402.6 800.2,402.7 802.2,402.6 804.2,402.1 804.5,402.5" stroke="#000" stroke-width="1.0"/>
<polyline points="653.4,380.9 653.7,388.0 654.0,392.0 654.3,394.2 654.6,395.6 654.9,396.4 655.2,396.9 655.5,397.3 656.2,397.9 656.9,398.3 657.6,398.6 658.3,398.9 659.0,399.2 659.7,399.4 660.4,399.6" stroke="#333" stroke-width="0.7"/>
<polyline points="804.5,423.9 804.8,416.1 805.1,411.8 805.4,409.3 805.7,408.0 806.0,407.1 806.3,406.6 806.6,406.3 807.3,406.0 808.0,405.6 808.7,405.6 809.4,405.5 810.1,405.0 810.8,405.0 811.5,404.8 812.2,405.1 812.9,404.7 814.3,404.5 815.7,404.7 817.1,404.5 818.5,404.5 819.9,404.2 821.3,404.0 822.7,404.1" stroke="#000" stroke-width="1.0"/>
<polyline points="653.4,404.0 653.4,380.9 653.4,380.9" stroke="#a6a6a6" stroke-width="0.8"/>
<polyline points="804.5,402.5 804.5,423.9 804.5,423.9" stroke="#a6a6a6" stroke-width="0.8"/>
<polyline points="640.0,403.8 642.0,403.9 644.0,404.0 646.0,404.0 648.0,404.3 650.0,404.0 652.0,403.8 654.6,400.5 654.9,400.3 655.2,401.1 655.5,401.0 656.2,401.1 656.9,401.3 657.6,401.4 658.3,401.8 659.0,401.8 659.7,401.2 660.4,401.8 661.1,401.6 661.8,402.1 663.2,402.1 664.6,402.5 666.0,402.9 667.4,402.7 668.8,402.6 670.2,402.5 671.6,402.1 673.0,402.9 674.4,402.3 675.8,402.5 677.2,402.8 678.6,402.5 680.0,403.2 681.4,402.9 682.8,403.4 684.2,402.3 686.2,402.8 688.2,402.7 690.2,403.0 692.2,403.2 694.2,403.1 696.2,403.6 698.2,403.0 700.2,402.9 702.2,403.4 704.2,403.2 706.2,402.9 708.2,403.7 710.2,402.8 712.2,402.7 714.2,403.2 716.2,403.7 718.2,403.7 720.2,403.6 722.2,403.4 724.2,403.3 726.2,403.0 728.2,402.9 730.2,403.2 732.2,403.7 734.2,403.4 736.2,403.9 738.2,403.7 740.2,403.4 742.2,403.5 744.2,403.3 746.2,403.9 748.2,403.8 750.2,403.0 752.2,403.9 754.2,403.6 756.2,403.2 758.2,403.7 760.2,403.3 762.2,403.6 764.2,403.4 766.2,403.6 768.2,403.9 770.2,403.9 772.2,403.4 774.2,403.3 776.2,403.7 778.2,403.6 780.2,403.0 782.2,403.5 784.2,403.2 786.2,403.6 788.2,403.1 790.2,403.2 792.2,403.2 794.2,403.2 796.2,403.5 798.2,403.9 800.2,403.6 802.2,403.6 804.2,403.8 804.5,403.5" stroke="#000" stroke-width="1.0"/>
<polyline points="653.4,396.3 653.4,396.3 653.7,398.3 654.0,399.4 654.3,400.1 654.6,400.5" stroke="#333" stroke-width="0.7"/>
<polyline points="804.5,410.6 804.5,410.6 804.8,408.0 805.1,406.6 805.4,405.7 805.7,405.3 806.0,405.1 806.3,404.7 806.6,404.9 807.3,404.9 808.0,404.8 808.7,404.2 809.4,404.7 810.1,404.2 810.8,404.1 811.5,404.4 812.2,404.2 812.9,404.0 814.3,404.3 815.7,404.2 817.1,404.1 818.5,404.1 819.9,404.1 821.3,404.2 822.7,404.2" stroke="#000" stroke-width="1.0"/>
<polyline points="653.4,404.0 653.4,396.3" stroke="#a6a6a6" stroke-width="0.8"/>
<polyline points="804.5,403.5 804.5,410.6" stroke="#a6a6a6" stroke-width="0.8"/>
<polyline points="640.0,404.1 642.0,404.2 644.0,404.0 646.0,404.1 648.0,403.8 650.0,403.7 652.0,404.0 653.7,405.5 654.0,405.0 654.3,404.1 654.6,404.7 654.9,403.8 655.2,404.0 655.5,403.9 656.2,404.4 656.9,403.4 657.6,403.5 658.3,403.9 659.0,403.6 659.7,403.6 660.4,403.3 661.1,404.2 661.8,403.7 663.2,403.8 664.6,403.4 666.0,404.3 667.4,403.3 668.8,404.0 670.2,403.3 671.6,403.8 673.0,403.6 674.4,404.4 675.8,403.8 677.2,404.3 678.6,403.3 680.0,403.6 681.4,404.5 682.8,403.8 684.2,403.4 686.2,403.7 688.2,403.9 690.2,404.1 692.2,403.9 694.2,403.9 696.2,404.1 698.2,404.1 700.2,403.8 702.2,404.2 704.2,404.3 706.2,404.3 708.2,404.5 710.2,404.2 712.2,403.9 714.2,404.8 716.2,403.8 718.2,404.0 720.2,404.2 722.2,404.2 724.2,404.0 726.2,404.7 728.2,404.1 730.2,404.4 732.2,404.5 734.2,403.9 736.2,404.3 738.2,403.9 740.2,404.4 742.2,404.7 744.2,404.8 746.2,404.9 748.2,403.9 750.2,404.3 752.2,404.6 754.2,404.3 756.2,404.9 758.2,404.4 760.2,404.9 762.2,403.9 764.2,404.3 766.2,404.7 768.2,404.8 770.2,404.4 772.2,404.9 774.2,404.8 776.2,404.3 778.2,404.7 780.2,404.5 782.2,404.0 784.2,404.9 786.2,404.9 788.2,404.9 790.2,404.1 792.2,404.8 794.2,403.9 796.2,404.5 798.2,404.2 800.2,404.5 802.2,404.3 804.2,404.5 804.5,404.5" stroke="#000" stroke-width="1.0"/>
<polyline points="653.4,406.9 653.4,406.9 653.7,405.5" stroke="#333" stroke-width="0.7"/>
<polyline points="804.5,396.7 804.5,396.7 804.8,399.9 805.1,401.6 805.4,402.5 805.7,403.2 806.0,403.5 806.3,403.4 806.6,403.4 807.3,403.6 808.0,403.7 808.7,403.8 809.4,403.8 810.1,404.0 810.8,404.2 811.5,403.7 812.2,403.8 812.9,403.9 814.3,403.6 815.7,404.0 817.1,403.7 818.5,404.0 819.9,404.0 821.3,403.9 822.7,404.3" stroke="#000" stroke-width="1.0"/>
<polyline points="653.4,404.0 653.4,406.9" stroke="#a6a6a6" stroke-width="0.8"/>
<polyline points="804.5,404.5 804.5,396.7" stroke="#a6a6a6" stroke-width="0.8"/>
<polyline points="640.0,403.9 642.0,403.7 644.0,403.8 646.0,403.8 648.0,404.1 650.0,404.1 652.0,403.9 655.2,406.2 655.5,406.5 656.2,405.5 656.9,405.4 657.6,405.7 658.3,405.6 659.0,405.8 659.7,405.2 660.4,405.8 661.1,405.4 661.8,405.5 663.2,405.3 664.6,404.8 666.0,405.1 667.4,405.6 668.8,404.4 670.2,404.8 671.6,404.8 673.0,404.7 674.4,405.3 675.8,405.2 677.2,404.6 678.6,405.3 680.0,405.5 681.4,404.5 682.8,404.5 684.2,405.2 686.2,405.6 688.2,405.2 690.2,405.1 692.2,405.0 694.2,405.3 696.2,405.7 698.2,405.3 700.2,405.5 702.2,405.2 704.2,405.7 706.2,405.6 708.2,405.3 710.2,405.0 712.2,405.1 714.2,405.9 716.2,405.5 718.2,404.8 720.2,405.4 722.2,405.3 724.2,405.5 726.2,405.1 728.2,405.8 730.2,405.3 732.2,405.8 734.2,405.1 736.2,405.9 738.2,405.4 740.2,405.5 742.2,405.3 744.2,405.9 746.2,405.5 748.2,405.5 750.2,405.3 752.2,405.4 754.2,405.2 756.2,405.4 758.2,405.2 760.2,404.9 762.2,405.3 764.2,404.9 766.2,405.6 768.2,405.0 770.2,405.9 772.2,405.2 774.2,405.2 776.2,405.5 778.2,405.2 780.2,405.7 782.2,405.2 784.2,406.0 786.2,404.9 788.2,404.9 790.2,405.9 792.2,405.7 794.2,405.2 796.2,405.6 798.2,405.3 800.2,405.5 802.2,405.2 804.2,405.5 804.5,405.5" stroke="#000" stroke-width="1.0"/>
<polyline points="653.4,412.6 653.4,412.6 653.7,409.7 654.0,408.2 654.3,407.3 654.6,406.7 654.9,406.4 655.2,406.2" stroke="#333" stroke-width="0.7"/>
<polyline points="804.8,391.6 805.1,396.7 805.4,399.6 805.7,401.2 806.0,402.2 806.3,402.8 806.6,402.7 807.3,403.2 808.0,403.4 808.7,403.7 809.4,403.5 810.1,403.8 810.8,403.9 811.5,403.6 812.2,403.6 812.9,404.0 814.3,403.8 815.7,403.8 817.1,404.0 818.5,404.0 819.9,403.9 821.3,404.0 822.7,403.8" stroke="#000" stroke-width="1.0"/>
<polyline points="653.4,404.0 653.4,412.6" stroke="#a6a6a6" stroke-width="0.8"/>
<polyline points="804.5,405.5 804.5,382.2 804.5,382.2 804.8,391.6" stroke="#a6a6a6" stroke-width="0.8"/>
<polyline points="640.0,403.9 642.0,403.7 644.0,404.1 646.0,404.2 648.0,404.1 650.0,404.3 652.0,404.2 657.6,407.5 658.3,406.8 659.0,406.9 659.7,407.5 660.4,406.4 661.1,407.3 661.8,407.1 663.2,406.2 664.6,406.1 666.0,406.7 667.4,406.5 668.8,405.7 670.2,406.3 671.6,405.8 673.0,406.6 674.4,406.2 675.8,405.6 677.2,406.1 678.6,405.6 680.0,406.7 681.4,406.7 682.8,406.5 684.2,405.6 686.2,406.7 688.2,405.9 690.2,406.4 692.2,406.6 694.2,406.3 696.2,405.8 698.2,406.0 700.2,406.6 702.2,405.8 704.2,406.2 706.2,406.8 708.2,406.2 710.2,405.9 712.2,406.5 714.2,406.2 716.2,406.7 718.2,406.2 720.2,406.8 722.2,406.8 724.2,406.0 726.2,406.4 728.2,406.3 730.2,405.9 732.2,406.9 734.2,406.2 736.2,406.5 738.2,405.9 740.2,407.0 742.2,407.0 744.2,406.7 746.2,406.0 748.2,406.6 750.2,406.4 752.2,406.4 754.2,406.1 756.2,406.0 758.2,406.9 760.2,406.6 762.2,406.8 764.2,406.7 766.2,406.3 768.2,406.5 770.2,406.2 772.2,406.7 774.2,406.4 776.2,406.8 778.2,406.2 780.2,406.3 782.2,406.0 784.2,405.9 786.2,406.1 788.2,405.9 790.2,406.4 792.2,406.3 794.2,406.9 796.2,405.9 798.2,407.1 800.2,406.0 802.2,406.9 804.2,406.3 804.5,406.5" stroke="#000" stroke-width="1.0"/>
<polyline points="653.4,418.3 653.4,418.3 653.7,413.9 654.0,411.5 654.3,410.1 654.6,409.3 654.9,408.8 655.2,408.5 655.5,408.2 656.2,407.9 656.9,407.7 657.6,407.5" stroke="#333" stroke-width="0.7"/>
<polyline points="805.1,391.9 805.4,396.7 805.7,399.3 806.0,400.8 806.3,401.6 806.6,402.0 807.3,402.7 808.0,402.8 808.7,402.8 809.4,402.9 810.1,403.4 810.8,403.5 811.5,403.7 812.2,403.3 812.9,403.7 814.3,403.5 815.7,403.7 817.1,403.6 818.5,403.8 819.9,404.1 821.3,403.7 822.7,403.9" stroke="#000" stroke-width="1.0"/>
<polyline points="653.4,404.0 653.4,418.3" stroke="#a6a6a6" stroke-width="0.8"/>
<polyline points="804.5,406.5 804.5,367.6 804.5,367.6 804.8,383.3 805.1,391.9" stroke="#a6a6a6" stroke-width="0.8"/>
<polyline points="640.0,404.2 642.0,404.0 644.0,404.2 646.0,404.0 648.0,403.9 650.0,404.1 652.0,404.1 659.7,408.7 660.4,408.4 661.1,409.0 661.8,407.7 663.2,408.4 664.6,408.1 666.0,408.0 667.4,407.6 668.8,407.8 670.2,406.9 671.6,407.6 673.0,407.8 674.4,407.3 675.8,407.6 677.2,407.6 678.6,407.3 680.0,407.6 681.4,407.3 682.8,406.9 684.2,407.3 686.2,407.6 688.2,406.9 690.2,407.3 692.2,407.7 694.2,406.8 696.2,407.8 698.2,407.2 700.2,407.2 702.2,407.6 704.2,407.5 706.2,407.1 708.2,407.0 710.2,407.3 712.2,407.9 714.2,408.0 716.2,407.7 718.2,407.6 720.2,407.6 722.2,407.9 724.2,407.0 726.2,407.0 728.2,407.8 730.2,406.9 732.2,407.5 734.2,407.3 736.2,407.9 738.2,407.6 740.2,407.1 742.2,406.9 744.2,407.4 746.2,407.5 748.2,407.4 750.2,407.6 752.2,406.9 754.2,407.3 756.2,407.9 758.2,407.2 760.2,407.1 762.2,407.1 764.2,408.0 766.2,407.9 768.2,407.4 770.2,407.3 772.2,407.3 774.2,407.9 776.2,408.0 778.2,408.0 780.2,407.9 782.2,407.7 784.2,407.0 786.2,408.0 788.2,407.1 790.2,407.8 792.2,407.3 794.2,406.9 796.2,407.7 798.2,407.2 800.2,408.0 802.2,407.1 804.2,407.7 804.5,407.5" stroke="#000" stroke-width="1.0"/>
<polyline points="653.4,424.0 653.7,418.1 654.0,414.8 654.3,413.0 654.6,411.8 654.9,411.2 655.2,410.7 655.5,410.4 656.2,409.9 656.9,409.6 657.6,409.3 658.3,409.1 659.0,408.9 659.7,408.7" stroke="#333" stroke-width="0.7"/>
<polyline points="805.1,387.1 805.4,393.7 805.7,397.4 806.0,399.5 806.3,400.7 806.6,401.4 807.3,402.1 808.0,402.2 808.7,402.5 809.4,402.7 810.1,403.1 810.8,403.2 811.5,403.4 812.2,403.1 812.9,403.2 814.3,403.4 815.7,403.5 817.1,403.5 818.5,403.9 819.9,403.5 821.3,403.9 822.7,403.7" stroke="#000" stroke-width="1.0"/>
<polyline points="653.4,404.0 653.4,424.0 653.4,424.0" stroke="#a6a6a6" stroke-width="0.8"/>
<polyline points="804.5,407.5 804.5,353.1 804.5,353.1 804.8,375.0 805.1,387.1" stroke="#a6a6a6" stroke-width="0.8"/>
<polyline points="640.0,403.9 642.0,403.9 644.0,404.0 646.0,404.3 648.0,404.1 650.0,404.0 652.0,404.3 661.1,409.9 661.8,409.4 663.2,409.1 664.6,409.4 666.0,409.4 667.4,409.2 668.8,408.8 670.2,409.0 671.6,408.4 673.0,409.1 674.4,408.8 675.8,408.9 677.2,408.5 678.6,409.0 680.0,408.4 681.4,409.0 682.8,408.4 684.2,409.0 686.2,408.2 688.2,408.4 690.2,408.5 692.2,408.5 694.2,408.8 696.2,408.8 698.2,408.0 700.2,408.7 702.2,408.5 704.2,408.3 706.2,408.0 708.2,408.9 710.2,409.0 712.2,408.7 714.2,408.5 716.2,408.0 718.2,408.2 720.2,408.3 722.2,408.0 724.2,408.3 726.2,408.3 728.2,408.4 730.2,407.9 732.2,408.0 734.2,409.0 736.2,408.5 738.2,408.2 740.2,408.4 742.2,408.3 744.2,408.5 746.2,408.1 748.2,408.8 750.2,409.0 752.2,408.6 754.2,409.0 756.2,408.9 758.2,408.5 760.2,408.5 762.2,408.7 764.2,408.3 766.2,408.0 768.2,408.4 770.2,408.9 772.2,408.7 774.2,407.9 776.2,408.9 778.2,407.9 780.2,408.5 782.2,408.1 784.2,408.3 786.2,408.2 788.2,408.6 790.2,408.7 792.2,409.0 794.2,408.5 796.2,408.0 798.2,407.9 800.2,408.0 802.2,408.0 804.2,408.1 804.5,408.5" stroke="#000" stroke-width="1.0"/>
<polyline points="653.4,429.7 653.7,422.3 654.0,418.2 654.3,415.8 654.6,414.4 654.9,413.5 655.2,413.0 655.5,412.6 656.2,411.9 656.9,411.5 657.6,411.1 658.3,410.8 659.0,410.6 659.7,410.3 660.4,410.1 661.1,409.9" stroke="#333" stroke-width="0.7"/>
<polyline points="805.4,390.8 805.7,395.6 806.0,398.2 806.3,399.8 806.6,400.6 807.3,401.6 808.0,401.9 808.7,402.1 809.4,402.7 810.1,402.6 810.8,402.8 811.5,403.1 812.2,402.9 812.9,403.2 814.3,403.1 815.7,403.5 817.1,403.8 818.5,403.7 819.9,403.6 821.3,403.9 822.7,403.8" stroke="#000" stroke-width="1.0"/>
<polyline points="653.4,404.0 653.4,429.7 653.4,429.7" stroke="#a6a6a6" stroke-width="0.8"/>
<polyline points="804.5,408.5 804.5,338.5 804.5,338.5 804.8,366.7 805.1,382.2 805.4,390.8" stroke="#a6a6a6" stroke-width="0.8"/>
<polyline points="640.0,404.0 642.0,404.1 644.0,404.1 646.0,404.2 648.0,404.3 650.0,404.3 652.0,404.2 661.8,411.2 663.2,411.1 664.6,410.9 666.0,410.0 667.4,409.8 668.8,410.4 670.2,409.8 671.6,409.3 673.0,410.1 674.4,409.3 675.8,409.4 677.2,410.1 678.6,409.2 680.0,410.0 681.4,409.3 682.8,409.9 684.2,409.4 686.2,409.6 688.2,409.7 690.2,409.8 692.2,409.2 694.2,409.7 696.2,409.1 698.2,409.2 700.2,409.8 702.2,409.1 704.2,409.4 706.2,409.0 708.2,409.6 710.2,409.1 712.2,409.3 714.2,410.1 716.2,409.4 718.2,409.5 720.2,408.9 722.2,409.2 724.2,409.0 726.2,409.6 728.2,409.1 730.2,409.1 732.2,409.1 734.2,409.8 736.2,409.7 738.2,409.3 740.2,409.3 742.2,409.2 744.2,409.6 746.2,409.6 748.2,409.1 750.2,409.1 752.2,409.7 754.2,409.2 756.2,409.7 758.2,409.1 760.2,409.0 762.2,409.0 764.2,409.9 766.2,409.5 768.2,408.9 770.2,409.3 772.2,409.7 774.2,409.2 776.2,409.9 778.2,408.9 780.2,409.5 782.2,409.6 784.2,409.1 786.2,410.1 788.2,409.6 790.2,409.1 792.2,409.8 794.2,408.9 796.2,409.7 798.2,409.9 800.2,409.7 802.2,408.9 804.2,409.0 804.5,409.5" stroke="#000" stroke-width="1.0"/>
<polyline points="653.7,426.5 654.0,421.5 654.3,418.6 654.6,416.9 654.9,415.9 655.2,415.2 655.5,414.7 656.2,414.0 656.9,413.4 657.6,413.0 658.3,412.6 659.0,412.3 659.7,411.9 660.4,411.7 661.1,411.4 661.8,411.2" stroke="#333" stroke-width="0.7"/>
<polyline points="805.4,387.9 805.7,393.7 806.0,397.0 806.3,398.8 806.6,399.9 807.3,401.1 808.0,401.6 808.7,401.9 809.4,402.3 810.1,402.6 810.8,402.4 811.5,402.9 812.2,403.0 812.9,402.7 814.3,403.4 815.7,403.1 817.1,403.4 818.5,403.4 819.9,403.5 821.3,403.7 822.7,403.5" stroke="#000" stroke-width="1.0"/>
<polyline points="653.4,404.0 653.4,435.4 653.4,435.4 653.7,426.5" stroke="#a6a6a6" stroke-width="0.8"/>
<polyline points="804.5,409.5 804.5,324.0 804.5,324.0 804.8,358.4 805.1,377.4 805.4,387.9" stroke="#a6a6a6" stroke-width="0.8"/>
<rect x="895.1" y="400.5" width="147.9999999999999" height="4.0" fill="#000"/>
<polyline points="875.0,405.3 877.0,404.8 879.0,405.1 881.0,404.9 883.0,405.3 885.0,405.0 887.0,405.0 889.0,405.2 891.0,405.0 893.5,376.2 893.8,382.9 894.1,387.0 894.4,389.5 894.7,391.1 895.4,393.4 896.1,394.8 896.8,395.8 897.5,396.5 898.2,397.2 898.9,397.7 899.6,398.3 900.3,398.2 901.0,399.3 902.4,399.7 903.8,399.6 905.2,399.9 906.6,399.5 908.0,400.2 909.4,400.3 910.8,399.9 912.8,400.0 914.8,400.2 916.8,399.7 918.8,399.4 920.8,399.6 922.8,400.0 924.8,400.2 926.8,400.4 928.8,399.7 930.8,399.6 932.8,399.9 934.8,399.6 936.8,399.7 938.8,400.0 940.8,400.2 942.8,399.5 944.8,399.6 946.8,400.0 948.8,400.0 950.8,399.6 952.8,400.2 954.8,400.1 956.8,400.6 958.8,400.5 960.8,400.2 962.8,399.5 964.8,400.0 966.8,399.7 968.8,399.7 970.8,399.5 972.8,400.2 974.8,400.2 976.8,399.7 978.8,399.7 980.8,400.6 982.8,400.1 984.8,400.2 986.8,399.7 988.8,400.5 990.8,400.3 992.8,400.0 994.8,399.5 996.8,399.9 998.8,399.4 1000.8,399.7 1002.8,400.3 1004.8,399.5 1006.8,399.6 1008.8,399.8 1010.8,400.6 1012.8,399.6 1014.8,399.9 1016.8,400.0 1018.8,399.5 1020.8,400.1 1022.8,399.5 1024.8,399.8 1026.8,399.8 1028.8,400.6 1030.8,399.9 1032.8,399.8 1034.8,399.8 1036.8,399.8 1038.8,399.6 1040.8,399.8 1042.8,400.2 1043.6,400.0" stroke="#000" stroke-width="1.1"/>
<polyline points="1044.5,426.6 1044.8,419.2 1045.1,415.0 1045.4,412.5 1045.7,411.0 1046.4,409.1 1047.1,408.2 1047.8,407.6 1048.5,407.1 1049.2,406.6 1049.9,406.2 1050.6,405.9 1051.3,406.1 1052.0,405.6 1053.4,405.4 1054.8,405.6 1056.2,405.5 1057.6,405.2 1059.0,404.8 1060.4,405.3 1061.8,405.2" stroke="#000" stroke-width="1.1"/>
<polyline points="892.6,405.0 892.6,307.3 892.6,307.3 892.9,344.0 893.2,364.5 893.5,376.2" stroke="#a6a6a6" stroke-width="0.8"/>
<polyline points="1043.6,400.0 1043.6,504.7 1043.6,504.7 1043.9,462.8 1044.2,439.6 1044.5,426.6" stroke="#a6a6a6" stroke-width="0.8"/>
<polyline points="875.0,404.7 877.0,404.9 879.0,405.2 881.0,405.0 883.0,404.8 885.0,405.3 887.0,404.8 889.0,404.8 891.0,405.1 893.5,381.6 893.8,387.0 894.1,390.2 894.4,392.2 894.7,393.6 895.4,395.4 896.1,396.5 896.8,397.3 897.5,397.9 898.2,398.4 898.9,399.0 899.6,398.6 900.3,399.9 901.0,399.4 902.4,399.8 903.8,400.5 905.2,400.4 906.6,400.6 908.0,400.0 909.4,400.7 910.8,400.2 912.8,401.0 914.8,401.0 916.8,400.8 918.8,400.8 920.8,401.2 922.8,401.0 924.8,400.9 926.8,400.5 928.8,400.1 930.8,401.2 932.8,400.1 934.8,400.1 936.8,400.8 938.8,401.2 940.8,400.6 942.8,400.3 944.8,400.1 946.8,400.2 948.8,400.5 950.8,400.5 952.8,400.4 954.8,401.1 956.8,401.2 958.8,401.2 960.8,400.3 962.8,400.9 964.8,400.2 966.8,400.6 968.8,400.7 970.8,400.4 972.8,401.0 974.8,400.3 976.8,401.0 978.8,401.0 980.8,400.8 982.8,400.1 984.8,400.2 986.8,401.0 988.8,401.2 990.8,400.3 992.8,400.8 994.8,401.0 996.8,401.1 998.8,400.2 1000.8,400.3 1002.8,400.1 1004.8,400.9 1006.8,400.5 1008.8,400.9 1010.8,400.2 1012.8,400.8 1014.8,400.4 1016.8,400.6 1018.8,400.8 1020.8,401.2 1022.8,400.3 1024.8,401.0 1026.8,400.1 1028.8,400.3 1030.8,400.9 1032.8,400.1 1034.8,401.1 1036.8,401.1 1038.8,400.3 1040.8,400.9 1042.8,400.8 1043.6,400.6" stroke="#000" stroke-width="1.1"/>
<polyline points="1044.5,422.3 1044.8,416.4 1045.1,413.0 1045.4,411.0 1045.7,409.8 1046.4,408.3 1047.1,407.5 1047.8,407.0 1048.5,406.9 1049.2,406.4 1049.9,406.0 1050.6,406.1 1051.3,405.6 1052.0,405.9 1053.4,405.3 1054.8,405.2 1056.2,405.4 1057.6,405.3 1059.0,404.9 1060.4,405.2 1061.8,405.3" stroke="#000" stroke-width="1.1"/>
<polyline points="892.6,405.0 892.6,326.8 892.6,326.8 892.9,356.0 893.2,372.4 893.5,381.6" stroke="#a6a6a6" stroke-width="0.8"/>
<polyline points="1043.6,400.6 1043.6,484.8 1043.6,484.8 1043.9,451.3 1044.2,432.7 1044.5,422.3" stroke="#a6a6a6" stroke-width="0.8"/>
<polyline points="875.0,404.9 877.0,405.0 879.0,405.1 881.0,405.1 883.0,404.9 885.0,404.9 887.0,404.8 889.0,405.1 891.0,404.9 893.2,380.2 893.5,387.1 893.8,391.1 894.1,393.5 894.4,395.0 894.7,396.0 895.4,397.4 896.1,398.2 896.8,398.8 897.5,399.2 898.2,399.3 898.9,400.5 899.6,400.5 900.3,399.8 901.0,399.9 902.4,400.9 903.8,400.9 905.2,401.1 906.6,401.6 908.0,401.6 909.4,400.8 910.8,401.8 912.8,401.2 914.8,401.2 916.8,400.9 918.8,401.0 920.8,400.9 922.8,401.0 924.8,401.4 926.8,401.0 928.8,401.0 930.8,400.8 932.8,400.8 934.8,401.8 936.8,401.2 938.8,401.2 940.8,400.9 942.8,401.9 944.8,400.7 946.8,401.6 948.8,400.8 950.8,401.0 952.8,401.3 954.8,401.2 956.8,401.5 958.8,401.4 960.8,401.5 962.8,400.8 964.8,401.1 966.8,401.0 968.8,401.3 970.8,401.2 972.8,400.8 974.8,400.9 976.8,400.8 978.8,400.8 980.8,401.5 982.8,401.9 984.8,401.4 986.8,400.9 988.8,401.4 990.8,401.3 992.8,401.0 994.8,401.7 996.8,401.0 998.8,401.1 1000.8,400.8 1002.8,401.0 1004.8,401.8 1006.8,401.3 1008.8,401.6 1010.8,401.3 1012.8,401.0 1014.8,401.1 1016.8,401.3 1018.8,401.1 1020.8,401.3 1022.8,400.7 1024.8,401.2 1026.8,400.8 1028.8,401.3 1030.8,401.3 1032.8,401.8 1034.8,401.7 1036.8,401.8 1038.8,401.2 1040.8,401.1 1042.8,401.7 1043.6,401.3" stroke="#000" stroke-width="1.1"/>
<polyline points="1044.2,425.7 1044.5,418.0 1044.8,413.5 1045.1,411.0 1045.4,409.5 1045.7,408.6 1046.4,407.5 1047.1,406.7 1047.8,406.5 1048.5,406.0 1049.2,406.2 1049.9,406.0 1050.6,405.9 1051.3,405.4 1052.0,405.7 1053.4,405.4 1054.8,405.2 1056.2,405.1 1057.6,405.3 1059.0,405.0 1060.4,405.3 1061.8,405.3" stroke="#000" stroke-width="1.1"/>
<polyline points="892.6,405.0 892.6,346.4 892.6,346.4 892.9,368.1 893.2,380.2" stroke="#a6a6a6" stroke-width="0.8"/>
<polyline points="1043.6,401.3 1043.6,464.8 1043.6,464.8 1043.9,439.7 1044.2,425.7" stroke="#a6a6a6" stroke-width="0.8"/>
<polyline points="875.0,404.9 877.0,405.0 879.0,405.0 881.0,405.2 883.0,405.2 885.0,404.9 887.0,404.9 889.0,404.9 891.0,405.1 892.9,380.1 893.2,388.1 893.5,392.6 893.8,395.2 894.1,396.8 894.4,397.8 894.7,398.4 895.4,399.3 896.1,399.9 896.8,400.6 897.5,400.2 898.2,401.3 898.9,401.6 899.6,401.3 900.3,401.7 901.0,401.1 902.4,401.2 903.8,401.4 905.2,401.8 906.6,402.3 908.0,401.7 909.4,402.4 910.8,402.3 912.8,401.4 914.8,401.4 916.8,402.5 918.8,401.9 920.8,402.3 922.8,402.4 924.8,401.7 926.8,401.4 928.8,402.4 930.8,402.5 932.8,401.8 934.8,402.1 936.8,401.4 938.8,402.5 940.8,402.1 942.8,402.5 944.8,402.2 946.8,401.8 948.8,401.6 950.8,402.0 952.8,402.4 954.8,402.0 956.8,402.0 958.8,401.6 960.8,401.5 962.8,401.6 964.8,401.7 966.8,401.9 968.8,402.5 970.8,401.7 972.8,401.6 974.8,402.2 976.8,402.5 978.8,401.6 980.8,401.7 982.8,401.8 984.8,401.4 986.8,401.5 988.8,402.0 990.8,401.6 992.8,401.6 994.8,402.3 996.8,401.9 998.8,402.0 1000.8,402.1 1002.8,402.2 1004.8,402.5 1006.8,402.5 1008.8,401.5 1010.8,402.2 1012.8,401.4 1014.8,401.5 1016.8,401.7 1018.8,401.5 1020.8,401.5 1022.8,401.6 1024.8,402.3 1026.8,402.3 1028.8,402.0 1030.8,402.0 1032.8,402.2 1034.8,402.1 1036.8,401.4 1038.8,401.9 1040.8,401.6 1042.8,401.9 1043.6,401.9" stroke="#000" stroke-width="1.1"/>
<polyline points="1044.2,418.8 1044.5,413.6 1044.8,410.7 1045.1,409.0 1045.4,408.0 1045.7,407.4 1046.4,406.9 1047.1,406.1 1047.8,405.9 1048.5,405.9 1049.2,405.8 1049.9,405.4 1050.6,405.4 1051.3,405.4 1052.0,405.6 1053.4,404.9 1054.8,405.4 1056.2,405.1 1057.6,405.3 1059.0,405.0 1060.4,405.1 1061.8,404.7" stroke="#000" stroke-width="1.1"/>
<polyline points="892.6,405.0 892.6,365.9 892.6,365.9 892.9,380.1" stroke="#a6a6a6" stroke-width="0.8"/>
<polyline points="1043.6,401.9 1043.6,444.9 1043.6,444.9 1043.9,428.1 1044.2,418.8" stroke="#a6a6a6" stroke-width="0.8"/>
<polyline points="875.0,404.8 877.0,405.1 879.0,404.9 881.0,405.0 883.0,405.3 885.0,405.0 887.0,405.1 889.0,405.0 891.0,404.9 892.6,385.5 892.9,392.2 893.2,395.9 893.5,398.1 893.8,399.3 894.1,400.1 894.4,400.5 894.7,400.8 895.4,400.8 896.1,402.1 896.8,401.8 897.5,401.7 898.2,402.1 898.9,402.2 899.6,402.1 900.3,402.7 901.0,402.3 902.4,402.9 903.8,402.8 905.2,402.8 906.6,402.1 908.0,402.8 909.4,403.2 910.8,403.0 912.8,402.0 914.8,402.3 916.8,402.0 918.8,402.8 920.8,403.1 922.8,402.8 924.8,402.8 926.8,402.7 928.8,402.9 930.8,402.7 932.8,403.0 934.8,402.2 936.8,402.6 938.8,402.8 940.8,402.1 942.8,402.7 944.8,403.1 946.8,402.1 948.8,402.9 950.8,402.9 952.8,403.1 954.8,403.2 956.8,402.8 958.8,402.7 960.8,402.6 962.8,402.5 964.8,402.7 966.8,402.4 968.8,403.0 970.8,402.7 972.8,402.5 974.8,402.6 976.8,402.9 978.8,403.0 980.8,403.0 982.8,402.9 984.8,402.3 986.8,402.0 988.8,402.1 990.8,402.1 992.8,402.6 994.8,402.1 996.8,402.6 998.8,402.9 1000.8,402.5 1002.8,403.0 1004.8,402.4 1006.8,402.6 1008.8,402.3 1010.8,402.2 1012.8,402.7 1014.8,402.1 1016.8,402.2 1018.8,402.3 1020.8,402.9 1022.8,403.2 1024.8,402.3 1026.8,402.3 1028.8,403.2 1030.8,402.7 1032.8,403.0 1034.8,403.2 1036.8,402.8 1038.8,402.3 1040.8,403.2 1042.8,403.1 1043.6,402.6" stroke="#000" stroke-width="1.1"/>
<polyline points="1043.9,416.6 1044.2,411.9 1044.5,409.3 1044.8,407.8 1045.1,407.0 1045.4,406.2 1045.7,406.5 1046.4,405.9 1047.1,405.5 1047.8,405.5 1048.5,405.3 1049.2,405.5 1049.9,405.2 1050.6,405.0 1051.3,405.4 1052.0,405.1 1053.4,404.9 1054.8,405.2 1056.2,404.8 1057.6,405.1 1059.0,405.0 1060.4,404.8 1061.8,405.3" stroke="#000" stroke-width="1.1"/>
<polyline points="892.6,405.0 892.6,385.5 892.6,385.5" stroke="#a6a6a6" stroke-width="0.8"/>
<polyline points="1043.6,402.6 1043.6,424.9 1043.6,424.9 1043.9,416.6" stroke="#a6a6a6" stroke-width="0.8"/>
<polyline points="875.0,405.1 877.0,404.7 879.0,405.2 881.0,405.1 883.0,405.2 885.0,405.2 887.0,404.8 889.0,404.9 891.0,404.8 892.6,405.0 892.6,405.4 892.9,404.8 893.2,403.9 893.5,403.7 893.8,404.0 894.1,403.4 894.4,403.2 894.7,403.0 895.4,403.8 896.1,402.8 896.8,402.9 897.5,403.7 898.2,402.7 898.9,402.9 899.6,403.3 900.3,402.9 901.0,403.1 902.4,402.7 903.8,403.5 905.2,402.7 906.6,403.0 908.0,402.8 909.4,403.5 910.8,402.9 912.8,403.3 914.8,402.7 916.8,403.3 918.8,403.1 920.8,403.7 922.8,402.9 924.8,403.0 926.8,403.7 928.8,402.7 930.8,403.2 932.8,403.2 934.8,403.0 936.8,402.9 938.8,403.2 940.8,402.7 942.8,402.7 944.8,403.0 946.8,403.1 948.8,403.0 950.8,403.5 952.8,403.1 954.8,403.4 956.8,403.4 958.8,403.5 960.8,403.8 962.8,403.3 964.8,403.5 966.8,403.3 968.8,402.7 970.8,403.7 972.8,403.3 974.8,402.7 976.8,403.5 978.8,403.3 980.8,403.8 982.8,403.2 984.8,403.2 986.8,403.7 988.8,403.8 990.8,403.6 992.8,403.2 994.8,403.2 996.8,403.5 998.8,403.7 1000.8,403.2 1002.8,403.5 1004.8,403.3 1006.8,403.3 1008.8,402.9 1010.8,403.0 1012.8,403.0 1014.8,403.8 1016.8,402.7 1018.8,402.9 1020.8,402.9 1022.8,403.6 1024.8,403.5 1026.8,403.0 1028.8,402.8 1030.8,403.5 1032.8,403.5 1034.8,403.4 1036.8,403.5 1038.8,403.4 1040.8,402.7 1042.8,403.6 1043.6,403.2" stroke="#000" stroke-width="1.1"/>
<polyline points="1043.6,405.0 1043.6,405.2 1043.9,404.8 1044.2,404.9 1044.5,405.3 1044.8,405.3 1045.1,405.2 1045.4,405.2 1045.7,404.8 1046.4,405.2 1047.1,405.2 1047.8,404.8 1048.5,405.2 1049.2,405.2 1049.9,405.2 1050.6,405.2 1051.3,404.8 1052.0,404.8 1053.4,405.2 1054.8,404.8 1056.2,404.9 1057.6,405.2 1059.0,405.2 1060.4,404.9 1061.8,404.9" stroke="#000" stroke-width="1.1"/>
<polyline points="892.6,405.0 892.6,405.0" stroke="#a6a6a6" stroke-width="0.8"/>
<polyline points="1043.6,403.2 1043.6,405.0" stroke="#a6a6a6" stroke-width="0.8"/>
<polyline points="875.0,405.1 877.0,405.3 879.0,405.1 881.0,404.9 883.0,404.8 885.0,404.8 887.0,405.1 889.0,405.1 891.0,404.8 892.6,411.4 892.6,411.4 892.9,409.0 893.2,407.7 893.5,406.8 893.8,406.3 894.1,406.0 894.4,405.7 894.7,405.7 895.4,405.6 896.1,405.5 896.8,404.9 897.5,404.2 898.2,404.9 898.9,404.3 899.6,404.8 900.3,404.7 901.0,403.7 902.4,403.5 903.8,403.5 905.2,404.2 906.6,403.9 908.0,404.1 909.4,403.7 910.8,404.0 912.8,403.4 914.8,403.6 916.8,404.2 918.8,403.6 920.8,403.4 922.8,404.1 924.8,404.5 926.8,404.4 928.8,404.4 930.8,404.2 932.8,403.3 934.8,403.5 936.8,404.0 938.8,403.9 940.8,404.3 942.8,403.3 944.8,404.1 946.8,403.4 948.8,404.2 950.8,403.4 952.8,403.9 954.8,404.2 956.8,404.5 958.8,404.3 960.8,404.2 962.8,403.7 964.8,404.1 966.8,403.9 968.8,403.9 970.8,404.0 972.8,403.8 974.8,403.8 976.8,404.2 978.8,404.1 980.8,404.5 982.8,404.4 984.8,404.3 986.8,403.4 988.8,403.9 990.8,403.9 992.8,404.2 994.8,404.4 996.8,403.5 998.8,403.3 1000.8,404.3 1002.8,404.5 1004.8,403.7 1006.8,404.0 1008.8,403.8 1010.8,403.8 1012.8,404.1 1014.8,404.1 1016.8,404.4 1018.8,403.7 1020.8,403.9 1022.8,403.8 1024.8,404.5 1026.8,403.9 1028.8,404.4 1030.8,404.5 1032.8,403.3 1034.8,404.2 1036.8,403.4 1038.8,403.9 1040.8,404.1 1042.8,403.4 1043.6,403.9" stroke="#000" stroke-width="1.1"/>
<polyline points="1043.6,398.5 1043.6,398.5 1043.9,400.8 1044.2,402.1 1044.5,402.9 1044.8,403.4 1045.1,403.8 1045.4,403.8 1045.7,404.0 1046.4,404.2 1047.1,404.2 1047.8,404.3 1048.5,404.9 1049.2,404.7 1049.9,404.7 1050.6,405.0 1051.3,405.0 1052.0,405.0 1053.4,404.8 1054.8,405.0 1056.2,404.8 1057.6,404.7 1059.0,405.2 1060.4,404.7 1061.8,404.9" stroke="#000" stroke-width="1.1"/>
<polyline points="892.6,405.0 892.6,411.4" stroke="#a6a6a6" stroke-width="0.8"/>
<polyline points="1043.6,403.9 1043.6,398.5" stroke="#a6a6a6" stroke-width="0.8"/>
<polyline points="875.0,405.2 877.0,404.9 879.0,405.2 881.0,404.7 883.0,404.8 885.0,405.0 887.0,405.1 889.0,405.2 891.0,405.2 892.6,417.8 892.6,417.8 892.9,413.9 893.2,411.6 893.5,410.1 893.8,409.2 894.1,408.6 894.4,408.1 894.7,407.7 895.4,407.1 896.1,406.6 896.8,406.1 897.5,406.5 898.2,406.0 898.9,404.9 899.6,405.4 900.3,404.8 901.0,404.8 902.4,405.2 903.8,404.4 905.2,404.5 906.6,404.1 908.0,404.4 909.4,404.4 910.8,404.1 912.8,404.1 914.8,404.4 916.8,404.1 918.8,405.1 920.8,404.3 922.8,404.4 924.8,404.0 926.8,404.9 928.8,404.2 930.8,404.0 932.8,404.4 934.8,405.0 936.8,405.1 938.8,404.5 940.8,404.6 942.8,404.0 944.8,405.0 946.8,404.9 948.8,404.2 950.8,405.0 952.8,404.1 954.8,404.5 956.8,404.3 958.8,404.6 960.8,404.3 962.8,404.6 964.8,404.3 966.8,404.0 968.8,404.1 970.8,404.9 972.8,404.5 974.8,404.6 976.8,404.7 978.8,404.3 980.8,404.2 982.8,404.4 984.8,404.9 986.8,404.8 988.8,404.5 990.8,404.7 992.8,404.3 994.8,405.1 996.8,404.7 998.8,404.9 1000.8,404.4 1002.8,404.6 1004.8,404.8 1006.8,404.6 1008.8,404.9 1010.8,404.3 1012.8,404.9 1014.8,404.3 1016.8,404.6 1018.8,404.1 1020.8,404.4 1022.8,405.0 1024.8,404.0 1026.8,404.2 1028.8,404.6 1030.8,404.7 1032.8,404.8 1034.8,404.8 1036.8,404.8 1038.8,404.7 1040.8,404.1 1042.8,404.6 1043.6,404.6" stroke="#000" stroke-width="1.1"/>
<polyline points="1043.6,392.0 1043.6,392.0 1043.9,396.6 1044.2,399.3 1044.5,400.8 1044.8,401.7 1045.1,402.3 1045.4,402.7 1045.7,402.9 1046.4,403.2 1047.1,403.8 1047.8,404.3 1048.5,404.2 1049.2,404.5 1049.9,404.5 1050.6,404.3 1051.3,404.7 1052.0,405.0 1053.4,404.9 1054.8,404.7 1056.2,405.2 1057.6,405.0 1059.0,405.2 1060.4,405.2 1061.8,405.0" stroke="#000" stroke-width="1.1"/>
<polyline points="892.6,405.0 892.6,417.8" stroke="#a6a6a6" stroke-width="0.8"/>
<polyline points="1043.6,404.6 1043.6,392.0" stroke="#a6a6a6" stroke-width="0.8"/>
<polyline points="875.0,405.0 877.0,405.0 879.0,404.9 881.0,405.2 883.0,404.8 885.0,405.3 887.0,404.9 889.0,405.0 891.0,405.1 892.6,424.2 892.9,418.7 893.2,415.5 893.5,413.4 893.8,412.1 894.1,411.2 894.4,410.5 894.7,410.0 895.4,409.0 896.1,408.3 896.8,407.7 897.5,407.3 898.2,406.4 898.9,406.9 899.6,406.7 900.3,405.8 901.0,405.9 902.4,405.2 903.8,405.7 905.2,405.7 906.6,404.8 908.0,405.4 909.4,405.7 910.8,404.9 912.8,405.7 914.8,404.9 916.8,404.6 918.8,404.7 920.8,405.5 922.8,404.8 924.8,405.6 926.8,405.1 928.8,404.7 930.8,405.6 932.8,405.0 934.8,404.8 936.8,404.6 938.8,405.0 940.8,405.2 942.8,405.2 944.8,405.3 946.8,404.7 948.8,404.6 950.8,405.7 952.8,405.1 954.8,405.5 956.8,405.7 958.8,405.3 960.8,405.5 962.8,404.9 964.8,404.9 966.8,405.2 968.8,405.8 970.8,405.8 972.8,404.9 974.8,405.4 976.8,404.9 978.8,405.0 980.8,404.9 982.8,405.8 984.8,405.1 986.8,405.2 988.8,404.7 990.8,405.6 992.8,404.7 994.8,405.6 996.8,404.9 998.8,404.9 1000.8,404.7 1002.8,405.0 1004.8,405.7 1006.8,405.0 1008.8,405.0 1010.8,405.5 1012.8,404.9 1014.8,405.5 1016.8,405.8 1018.8,405.6 1020.8,404.6 1022.8,405.5 1024.8,405.5 1026.8,405.6 1028.8,405.3 1030.8,404.7 1032.8,405.4 1034.8,405.3 1036.8,405.2 1038.8,405.5 1040.8,404.8 1042.8,405.1 1043.6,405.2" stroke="#000" stroke-width="1.1"/>
<polyline points="1043.6,385.5 1043.9,392.4 1044.2,396.4 1044.5,398.7 1044.8,400.1 1045.1,401.0 1045.4,401.6 1045.7,402.0 1046.4,402.7 1047.1,403.2 1047.8,403.7 1048.5,404.1 1049.2,404.2 1049.9,404.0 1050.6,404.3 1051.3,404.5 1052.0,404.5 1053.4,404.4 1054.8,404.7 1056.2,405.1 1057.6,404.8 1059.0,405.2 1060.4,405.2 1061.8,405.0" stroke="#000" stroke-width="1.1"/>
<polyline points="892.6,405.0 892.6,424.2 892.6,424.2" stroke="#a6a6a6" stroke-width="0.8"/>
<polyline points="1043.6,405.2 1043.6,385.5 1043.6,385.5" stroke="#a6a6a6" stroke-width="0.8"/>
<polyline points="875.0,405.3 877.0,405.3 879.0,404.7 881.0,405.1 883.0,405.3 885.0,404.9 887.0,404.9 889.0,404.8 891.0,405.2 892.6,430.6 892.9,423.6 893.2,419.4 893.5,416.8 893.8,415.0 894.1,413.8 894.4,412.9 894.7,412.2 895.4,410.9 896.1,410.0 896.8,409.2 897.5,408.6 898.2,408.1 898.9,407.9 899.6,406.8 900.3,407.1 901.0,406.5 902.4,406.4 903.8,406.0 905.2,405.8 906.6,406.0 908.0,405.5 909.4,405.6 910.8,406.2 912.8,405.4 914.8,406.3 916.8,405.8 918.8,405.5 920.8,406.2 922.8,405.7 924.8,405.7 926.8,405.3 928.8,405.5 930.8,406.4 932.8,405.8 934.8,405.8 936.8,406.0 938.8,405.4 940.8,405.4 942.8,406.3 944.8,406.0 946.8,405.6 948.8,406.3 950.8,405.6 952.8,405.8 954.8,406.2 956.8,406.3 958.8,405.6 960.8,406.4 962.8,405.5 964.8,405.6 966.8,405.9 968.8,405.9 970.8,405.9 972.8,405.8 974.8,406.2 976.8,405.6 978.8,405.8 980.8,406.1 982.8,406.3 984.8,405.6 986.8,405.7 988.8,405.8 990.8,405.6 992.8,405.9 994.8,406.4 996.8,405.5 998.8,406.2 1000.8,406.3 1002.8,405.8 1004.8,405.7 1006.8,405.4 1008.8,405.9 1010.8,406.3 1012.8,405.7 1014.8,405.6 1016.8,406.2 1018.8,405.4 1020.8,405.9 1022.8,406.2 1024.8,405.9 1026.8,405.6 1028.8,406.0 1030.8,405.7 1032.8,406.1 1034.8,406.2 1036.8,406.2 1038.8,406.2 1040.8,405.4 1042.8,405.6 1043.6,405.9" stroke="#000" stroke-width="1.1"/>
<polyline points="1043.9,388.3 1044.2,393.5 1044.5,396.6 1044.8,398.5 1045.1,399.7 1045.4,400.5 1045.7,401.0 1046.4,401.9 1047.1,402.5 1047.8,403.0 1048.5,403.4 1049.2,403.7 1049.9,404.1 1050.6,404.1 1051.3,404.0 1052.0,404.1 1053.4,404.3 1054.8,404.7 1056.2,404.7 1057.6,404.6 1059.0,405.2 1060.4,404.7 1061.8,404.9" stroke="#000" stroke-width="1.1"/>
<polyline points="892.6,405.0 892.6,430.6 892.6,430.6" stroke="#a6a6a6" stroke-width="0.8"/>
<polyline points="1043.6,405.9 1043.6,379.0 1043.6,379.0 1043.9,388.3" stroke="#a6a6a6" stroke-width="0.8"/>
<polyline points="875.0,405.2 877.0,405.1 879.0,404.8 881.0,405.3 883.0,405.0 885.0,405.2 887.0,405.0 889.0,405.1 891.0,405.3 892.6,437.0 892.9,428.4 893.2,423.3 893.5,420.1 893.8,417.9 894.1,416.4 894.4,415.3 894.7,414.4 895.4,412.9 896.1,411.7 896.8,410.7 897.5,410.0 898.2,409.3 898.9,408.8 899.6,408.6 900.3,408.1 901.0,408.3 902.4,407.1 903.8,407.4 905.2,406.8 906.6,407.3 908.0,407.2 909.4,406.2 910.8,406.4 912.8,406.5 914.8,406.5 916.8,406.6 918.8,406.7 920.8,406.1 922.8,406.7 924.8,406.9 926.8,406.4 928.8,406.2 930.8,406.2 932.8,406.6 934.8,406.0 936.8,406.2 938.8,406.3 940.8,406.7 942.8,406.8 944.8,406.6 946.8,406.1 948.8,406.3 950.8,406.0 952.8,407.1 954.8,406.5 956.8,406.9 958.8,406.2 960.8,406.2 962.8,406.1 964.8,406.4 966.8,406.7 968.8,406.6 970.8,406.3 972.8,406.1 974.8,406.2 976.8,406.8 978.8,406.1 980.8,407.1 982.8,406.9 984.8,406.1 986.8,405.9 988.8,406.9 990.8,406.0 992.8,406.7 994.8,406.5 996.8,406.4 998.8,406.6 1000.8,405.9 1002.8,406.8 1004.8,406.9 1006.8,405.9 1008.8,406.2 1010.8,406.9 1012.8,406.1 1014.8,406.1 1016.8,406.9 1018.8,407.1 1020.8,407.1 1022.8,406.1 1024.8,406.1 1026.8,405.9 1028.8,406.0 1030.8,406.3 1032.8,407.1 1034.8,406.8 1036.8,406.1 1038.8,406.4 1040.8,406.6 1042.8,406.1 1043.6,406.5" stroke="#000" stroke-width="1.1"/>
<polyline points="1043.9,384.1 1044.2,390.7 1044.5,394.5 1044.8,396.9 1045.1,398.3 1045.4,399.3 1045.7,400.0 1046.4,401.1 1047.1,401.9 1047.8,402.5 1048.5,402.9 1049.2,403.0 1049.9,403.4 1050.6,403.7 1051.3,403.8 1052.0,404.5 1053.4,404.8 1054.8,404.6 1056.2,404.7 1057.6,404.9 1059.0,405.1 1060.4,404.9 1061.8,405.2" stroke="#000" stroke-width="1.1"/>
<polyline points="892.6,405.0 892.6,437.0 892.6,437.0" stroke="#a6a6a6" stroke-width="0.8"/>
<polyline points="1043.6,406.5 1043.6,372.5 1043.6,372.5 1043.9,384.1" stroke="#a6a6a6" stroke-width="0.8"/>
<rect x="1100.1" y="401.2" width="148.9000000000001" height="8.800000000000011" fill="#000"/>
<polyline points="1081.0,406.3 1083.0,405.9 1085.0,406.0 1087.0,406.3 1089.0,405.9 1091.0,406.3 1093.0,406.0 1095.0,406.1 1097.0,405.8 1098.8,367.3 1099.1,374.7 1099.4,379.1 1099.7,381.8 1100.4,385.2 1101.1,387.0 1101.8,388.4 1102.5,389.6 1103.2,390.6 1103.9,391.6 1104.6,392.4 1105.3,393.2 1106.0,393.9 1107.4,395.1 1108.8,396.1 1110.2,396.9 1111.6,397.5 1113.0,398.1 1114.4,398.8 1115.8,398.4 1117.2,398.8 1118.6,399.0 1120.0,399.6 1121.4,399.4 1122.8,400.4 1124.2,399.7 1125.6,400.0 1127.0,400.5 1128.4,400.0 1129.8,399.8 1131.2,400.0 1132.6,400.6 1134.6,400.2 1136.6,401.0 1138.6,400.0 1140.6,400.2 1142.6,400.5 1144.6,400.3 1146.6,400.2 1148.6,400.0 1150.6,400.5 1152.6,400.8 1154.6,400.3 1156.6,401.1 1158.6,400.6 1160.6,400.3 1162.6,400.3 1164.6,400.2 1166.6,400.0 1168.6,400.5 1170.6,400.5 1172.6,400.9 1174.6,400.0 1176.6,399.9 1178.6,401.0 1180.6,400.3 1182.6,400.8 1184.6,401.0 1186.6,400.2 1188.6,400.1 1190.6,400.8 1192.6,400.3 1194.6,400.5 1196.6,399.9 1198.6,400.6 1200.6,400.4 1202.6,400.2 1204.6,400.1 1206.6,401.0 1208.6,401.0 1210.6,400.3 1212.6,400.3 1214.6,400.3 1216.6,400.3 1218.6,400.4 1220.6,401.1 1222.6,399.9 1224.6,400.3 1226.6,400.6 1228.6,400.6 1230.6,400.3 1232.6,400.8 1234.6,400.4 1236.6,400.1 1238.6,401.0 1240.6,400.1 1242.6,400.7 1244.6,401.0 1246.6,400.1 1248.6,400.8 1249.5,400.5" stroke="#000" stroke-width="1.1"/>
<polyline points="1250.7,432.7 1251.0,425.2 1251.3,420.9 1251.6,418.4 1252.3,415.5 1253.0,414.2 1253.7,413.3 1254.4,412.6 1255.1,411.9 1255.8,411.4 1256.5,410.9 1257.2,410.4 1257.9,410.0 1259.3,409.3 1260.7,408.7 1262.1,408.2 1263.5,408.0 1264.9,407.4 1266.3,407.4" stroke="#000" stroke-width="1.1"/>
<polyline points="1097.6,406.0 1097.6,217.0 1097.6,217.0 1097.9,290.8 1098.2,331.7 1098.5,354.5 1098.8,367.3" stroke="#a6a6a6" stroke-width="0.8"/>
<polyline points="1249.5,400.5 1249.5,590.7 1249.5,590.7 1249.8,512.8 1250.1,469.8 1250.4,446.0 1250.7,432.7" stroke="#a6a6a6" stroke-width="0.8"/>
<polyline points="1081.0,405.8 1083.0,406.0 1085.0,406.3 1087.0,406.0 1089.0,406.2 1091.0,405.9 1093.0,406.1 1095.0,406.0 1097.0,406.1 1098.8,373.2 1099.1,379.5 1099.4,383.2 1099.7,385.5 1100.4,388.3 1101.1,389.9 1101.8,391.1 1102.5,392.1 1103.2,392.9 1103.9,393.7 1104.6,394.5 1105.3,395.1 1106.0,395.7 1107.4,396.7 1108.8,397.5 1110.2,398.2 1111.6,398.8 1113.0,399.2 1114.4,400.0 1115.8,400.5 1117.2,400.4 1118.6,400.4 1120.0,400.6 1121.4,400.3 1122.8,400.2 1124.2,401.4 1125.6,401.5 1127.0,401.4 1128.4,400.7 1129.8,401.3 1131.2,400.8 1132.6,401.0 1134.6,401.6 1136.6,401.8 1138.6,400.7 1140.6,401.6 1142.6,401.5 1144.6,401.5 1146.6,400.9 1148.6,401.1 1150.6,401.6 1152.6,400.9 1154.6,400.9 1156.6,401.3 1158.6,400.9 1160.6,401.0 1162.6,400.9 1164.6,401.0 1166.6,400.8 1168.6,401.2 1170.6,401.1 1172.6,400.9 1174.6,400.9 1176.6,401.2 1178.6,400.8 1180.6,401.1 1182.6,400.8 1184.6,401.6 1186.6,400.9 1188.6,401.3 1190.6,400.9 1192.6,401.5 1194.6,401.9 1196.6,401.6 1198.6,400.8 1200.6,400.9 1202.6,400.9 1204.6,401.8 1206.6,400.8 1208.6,401.6 1210.6,401.6 1212.6,401.7 1214.6,401.2 1216.6,401.2 1218.6,401.1 1220.6,401.5 1222.6,401.3 1224.6,401.6 1226.6,401.2 1228.6,401.7 1230.6,401.4 1232.6,401.0 1234.6,401.2 1236.6,401.0 1238.6,401.8 1240.6,400.8 1242.6,401.2 1244.6,401.2 1246.6,401.4 1248.6,400.8 1249.5,401.3" stroke="#000" stroke-width="1.1"/>
<polyline points="1250.7,428.6 1251.0,422.2 1251.3,418.6 1251.6,416.5 1252.3,414.0 1253.0,412.9 1253.7,412.2 1254.4,411.6 1255.1,411.0 1255.8,410.5 1256.5,410.1 1257.2,409.7 1257.9,409.4 1259.3,408.8 1260.7,408.3 1262.1,407.9 1263.5,407.3 1264.9,407.1 1266.3,406.9" stroke="#000" stroke-width="1.1"/>
<polyline points="1097.6,406.0 1097.6,246.1 1097.6,246.1 1097.9,308.5 1098.2,343.1 1098.5,362.4 1098.8,373.2" stroke="#a6a6a6" stroke-width="0.8"/>
<polyline points="1249.5,401.3 1249.5,562.3 1249.5,562.3 1249.8,496.3 1250.1,460.0 1250.4,439.8 1250.7,428.6" stroke="#a6a6a6" stroke-width="0.8"/>
<polyline points="1081.0,405.7 1083.0,406.3 1085.0,405.7 1087.0,406.2 1089.0,406.1 1091.0,406.3 1093.0,406.1 1095.0,406.0 1097.0,406.0 1098.8,379.1 1099.1,384.3 1099.4,387.3 1099.7,389.2 1100.4,391.5 1101.1,392.8 1101.8,393.7 1102.5,394.5 1103.2,395.3 1103.9,395.9 1104.6,396.5 1105.3,397.0 1106.0,397.5 1107.4,398.4 1108.8,399.0 1110.2,399.6 1111.6,400.1 1113.0,400.4 1114.4,400.2 1115.8,401.2 1117.2,401.1 1118.6,400.9 1120.0,401.9 1121.4,401.3 1122.8,401.3 1124.2,401.8 1125.6,401.5 1127.0,401.7 1128.4,401.9 1129.8,402.5 1131.2,402.1 1132.6,401.9 1134.6,402.4 1136.6,402.6 1138.6,402.6 1140.6,401.5 1142.6,402.5 1144.6,402.4 1146.6,402.4 1148.6,402.4 1150.6,402.3 1152.6,401.8 1154.6,402.6 1156.6,402.5 1158.6,401.8 1160.6,402.2 1162.6,401.7 1164.6,401.8 1166.6,402.3 1168.6,401.7 1170.6,401.5 1172.6,402.3 1174.6,402.3 1176.6,402.6 1178.6,401.5 1180.6,401.9 1182.6,401.7 1184.6,402.6 1186.6,402.5 1188.6,401.7 1190.6,402.1 1192.6,402.3 1194.6,402.3 1196.6,402.1 1198.6,402.2 1200.6,401.8 1202.6,401.6 1204.6,401.7 1206.6,402.1 1208.6,401.7 1210.6,402.6 1212.6,401.9 1214.6,401.5 1216.6,402.3 1218.6,402.3 1220.6,402.4 1222.6,402.1 1224.6,402.6 1226.6,402.3 1228.6,402.6 1230.6,402.5 1232.6,401.8 1234.6,402.0 1236.6,401.8 1238.6,402.3 1240.6,402.0 1242.6,402.1 1244.6,402.0 1246.6,401.7 1248.6,402.2 1249.5,402.1" stroke="#000" stroke-width="1.1"/>
<polyline points="1250.7,424.5 1251.0,419.3 1251.3,416.3 1251.6,414.6 1252.3,412.6 1253.0,411.7 1253.7,411.0 1254.4,410.5 1255.1,410.1 1255.8,409.7 1256.5,409.4 1257.2,409.0 1257.9,408.8 1259.3,408.3 1260.7,408.0 1262.1,407.4 1263.5,407.0 1264.9,407.1 1266.3,406.9" stroke="#000" stroke-width="1.1"/>
<polyline points="1097.6,406.0 1097.6,275.2 1097.6,275.2 1097.9,326.2 1098.2,354.5 1098.5,370.3 1098.8,379.1" stroke="#a6a6a6" stroke-width="0.8"/>
<polyline points="1249.5,402.1 1249.5,533.9 1249.5,533.9 1249.8,479.9 1250.1,450.1 1250.4,433.7 1250.7,424.5" stroke="#a6a6a6" stroke-width="0.8"/>
<polyline points="1081.0,406.0 1083.0,406.2 1085.0,406.3 1087.0,406.2 1089.0,406.1 1091.0,406.3 1093.0,406.0 1095.0,406.0 1097.0,405.8 1098.5,378.2 1098.8,385.1 1099.1,389.0 1099.4,391.4 1099.7,392.8 1100.4,394.7 1101.1,395.7 1101.8,396.4 1102.5,397.0 1103.2,397.6 1103.9,398.1 1104.6,398.6 1105.3,399.0 1106.0,399.4 1107.4,400.0 1108.8,400.5 1110.2,400.5 1111.6,400.9 1113.0,401.0 1114.4,401.5 1115.8,402.6 1117.2,402.7 1118.6,401.9 1120.0,401.8 1121.4,402.1 1122.8,403.0 1124.2,402.4 1125.6,402.8 1127.0,402.6 1128.4,402.7 1129.8,403.0 1131.2,403.4 1132.6,402.3 1134.6,402.8 1136.6,403.1 1138.6,403.2 1140.6,403.1 1142.6,402.6 1144.6,402.3 1146.6,402.6 1148.6,403.0 1150.6,403.4 1152.6,403.0 1154.6,403.0 1156.6,402.8 1158.6,403.2 1160.6,403.5 1162.6,402.9 1164.6,403.1 1166.6,403.0 1168.6,402.6 1170.6,403.4 1172.6,402.4 1174.6,402.8 1176.6,403.4 1178.6,403.0 1180.6,402.8 1182.6,402.6 1184.6,402.8 1186.6,403.2 1188.6,403.1 1190.6,403.1 1192.6,403.5 1194.6,402.8 1196.6,402.7 1198.6,403.1 1200.6,403.4 1202.6,403.2 1204.6,403.4 1206.6,403.3 1208.6,402.3 1210.6,403.1 1212.6,402.6 1214.6,403.1 1216.6,403.3 1218.6,403.3 1220.6,402.6 1222.6,402.8 1224.6,402.5 1226.6,403.3 1228.6,403.2 1230.6,403.0 1232.6,403.0 1234.6,403.2 1236.6,402.9 1238.6,402.5 1240.6,403.5 1242.6,403.3 1244.6,402.9 1246.6,403.0 1248.6,402.6 1249.5,402.9" stroke="#000" stroke-width="1.1"/>
<polyline points="1250.4,427.5 1250.7,420.4 1251.0,416.3 1251.3,414.0 1251.6,412.7 1252.3,411.1 1253.0,410.4 1253.7,409.9 1254.4,409.5 1255.1,409.2 1255.8,408.9 1256.5,408.6 1257.2,408.4 1257.9,408.1 1259.3,407.6 1260.7,407.2 1262.1,407.3 1263.5,407.1 1264.9,406.6 1266.3,406.5" stroke="#000" stroke-width="1.1"/>
<polyline points="1097.6,406.0 1097.6,304.2 1097.6,304.2 1097.9,343.9 1098.2,365.9 1098.5,378.2" stroke="#a6a6a6" stroke-width="0.8"/>
<polyline points="1249.5,402.9 1249.5,505.5 1249.5,505.5 1249.8,463.5 1250.1,440.3 1250.4,427.5" stroke="#a6a6a6" stroke-width="0.8"/>
<polyline points="1081.0,406.0 1083.0,405.9 1085.0,406.2 1087.0,405.8 1089.0,405.9 1091.0,405.9 1093.0,406.2 1095.0,406.1 1097.0,405.8 1098.5,386.0 1098.8,391.0 1099.1,393.8 1099.4,395.5 1099.7,396.5 1100.4,397.8 1101.1,398.5 1101.8,399.1 1102.5,399.5 1103.2,399.9 1103.9,400.3 1104.6,400.6 1105.3,400.9 1106.0,401.2 1107.4,401.6 1108.8,402.1 1110.2,402.5 1111.6,402.7 1113.0,403.3 1114.4,403.5 1115.8,403.3 1117.2,403.2 1118.6,402.9 1120.0,403.4 1121.4,403.4 1122.8,403.7 1124.2,403.5 1125.6,403.3 1127.0,403.2 1128.4,403.9 1129.8,403.7 1131.2,404.0 1132.6,403.3 1134.6,403.6 1136.6,403.2 1138.6,403.3 1140.6,403.5 1142.6,403.4 1144.6,404.3 1146.6,403.2 1148.6,403.7 1150.6,403.2 1152.6,404.2 1154.6,403.3 1156.6,404.2 1158.6,403.5 1160.6,403.6 1162.6,403.2 1164.6,403.9 1166.6,403.2 1168.6,403.9 1170.6,403.8 1172.6,403.5 1174.6,403.9 1176.6,404.0 1178.6,403.2 1180.6,404.2 1182.6,404.2 1184.6,404.1 1186.6,404.2 1188.6,403.5 1190.6,403.3 1192.6,403.6 1194.6,404.2 1196.6,403.9 1198.6,403.3 1200.6,404.0 1202.6,404.1 1204.6,403.7 1206.6,403.9 1208.6,404.2 1210.6,403.6 1212.6,404.1 1214.6,403.8 1216.6,404.1 1218.6,404.1 1220.6,403.3 1222.6,403.4 1224.6,403.8 1226.6,403.5 1228.6,403.5 1230.6,403.1 1232.6,403.7 1234.6,404.3 1236.6,403.6 1238.6,403.4 1240.6,403.6 1242.6,403.9 1244.6,403.2 1246.6,403.3 1248.6,403.8 1249.5,403.7" stroke="#000" stroke-width="1.1"/>
<polyline points="1250.4,421.4 1250.7,416.3 1251.0,413.4 1251.3,411.7 1251.6,410.8 1252.3,409.6 1253.0,409.1 1253.7,408.8 1254.4,408.5 1255.1,408.3 1255.8,408.1 1256.5,407.8 1257.2,407.8 1257.9,407.3 1259.3,407.0 1260.7,407.3 1262.1,407.0 1263.5,406.8 1264.9,406.6 1266.3,406.3" stroke="#000" stroke-width="1.1"/>
<polyline points="1097.6,406.0 1097.6,333.3 1097.6,333.3 1097.9,361.6 1098.2,377.3 1098.5,386.0" stroke="#a6a6a6" stroke-width="0.8"/>
<polyline points="1249.5,403.7 1249.5,477.0 1249.5,477.0 1249.8,447.1 1250.1,430.5 1250.4,421.4" stroke="#a6a6a6" stroke-width="0.8"/>
<polyline points="1081.0,405.8 1083.0,406.0 1085.0,406.1 1087.0,406.0 1089.0,406.0 1091.0,405.7 1093.0,406.3 1095.0,405.8 1097.0,405.9 1098.2,388.7 1098.5,393.9 1098.8,396.9 1099.1,398.6 1099.4,399.6 1099.7,400.2 1100.4,401.0 1101.1,401.4 1101.8,401.7 1102.5,402.0 1103.2,402.3 1103.9,402.5 1104.6,403.1 1105.3,403.2 1106.0,403.4 1107.4,403.1 1108.8,403.3 1110.2,404.2 1111.6,403.3 1113.0,403.9 1114.4,403.9 1115.8,404.5 1117.2,404.5 1118.6,404.9 1120.0,404.9 1121.4,404.5 1122.8,404.9 1124.2,404.5 1125.6,404.1 1127.0,404.5 1128.4,404.2 1129.8,405.0 1131.2,404.9 1132.6,404.0 1134.6,404.7 1136.6,404.7 1138.6,404.8 1140.6,404.1 1142.6,404.6 1144.6,404.1 1146.6,404.4 1148.6,404.4 1150.6,404.4 1152.6,404.4 1154.6,404.6 1156.6,404.1 1158.6,404.6 1160.6,404.0 1162.6,404.8 1164.6,404.0 1166.6,404.5 1168.6,403.9 1170.6,404.9 1172.6,405.1 1174.6,404.8 1176.6,404.5 1178.6,404.5 1180.6,404.8 1182.6,404.0 1184.6,404.4 1186.6,404.5 1188.6,404.1 1190.6,404.5 1192.6,404.4 1194.6,404.1 1196.6,404.6 1198.6,404.5 1200.6,404.1 1202.6,404.6 1204.6,404.2 1206.6,404.6 1208.6,404.3 1210.6,404.8 1212.6,404.7 1214.6,403.9 1216.6,404.3 1218.6,404.8 1220.6,404.3 1222.6,404.9 1224.6,405.0 1226.6,405.0 1228.6,404.8 1230.6,404.4 1232.6,404.5 1234.6,404.0 1236.6,404.3 1238.6,404.3 1240.6,404.9 1242.6,404.9 1244.6,404.7 1246.6,404.9 1248.6,404.5 1249.5,404.5" stroke="#000" stroke-width="1.1"/>
<polyline points="1250.1,420.7 1250.4,415.2 1250.7,412.2 1251.0,410.4 1251.3,409.4 1251.6,408.9 1252.3,408.2 1253.0,408.0 1253.7,407.6 1254.4,407.2 1255.1,407.4 1255.8,407.5 1256.5,407.1 1257.2,407.3 1257.9,406.8 1259.3,406.6 1260.7,406.4 1262.1,406.5 1263.5,406.3 1264.9,406.1 1266.3,406.2" stroke="#000" stroke-width="1.1"/>
<polyline points="1097.6,406.0 1097.6,362.4 1097.6,362.4 1097.9,379.3 1098.2,388.7" stroke="#a6a6a6" stroke-width="0.8"/>
<polyline points="1249.5,404.5 1249.5,448.6 1249.5,448.6 1249.8,430.6 1250.1,420.7" stroke="#a6a6a6" stroke-width="0.8"/>
<polyline points="1081.0,406.3 1083.0,406.2 1085.0,406.0 1087.0,405.8 1089.0,406.0 1091.0,405.9 1093.0,406.1 1095.0,405.9 1097.0,406.1 1097.6,391.5 1097.9,397.0 1098.2,400.1 1098.5,401.8 1098.8,402.8 1099.1,403.5 1099.4,404.2 1099.7,404.3 1100.4,404.1 1101.1,404.3 1101.8,404.8 1102.5,404.6 1103.2,404.1 1103.9,404.5 1104.6,404.3 1105.3,405.0 1106.0,405.2 1107.4,405.1 1108.8,404.5 1110.2,405.0 1111.6,404.5 1113.0,405.4 1114.4,405.5 1115.8,404.9 1117.2,405.5 1118.6,404.7 1120.0,404.9 1121.4,405.8 1122.8,405.0 1124.2,405.5 1125.6,405.8 1127.0,405.6 1128.4,405.3 1129.8,405.2 1131.2,405.2 1132.6,404.9 1134.6,405.7 1136.6,405.4 1138.6,405.7 1140.6,405.3 1142.6,405.0 1144.6,405.1 1146.6,404.9 1148.6,405.6 1150.6,405.3 1152.6,405.2 1154.6,405.9 1156.6,405.2 1158.6,405.2 1160.6,405.0 1162.6,405.1 1164.6,405.0 1166.6,405.4 1168.6,405.2 1170.6,405.3 1172.6,405.7 1174.6,405.2 1176.6,405.5 1178.6,405.4 1180.6,405.9 1182.6,405.5 1184.6,405.9 1186.6,405.2 1188.6,405.0 1190.6,405.0 1192.6,405.7 1194.6,404.9 1196.6,405.1 1198.6,405.8 1200.6,404.8 1202.6,405.6 1204.6,405.2 1206.6,405.0 1208.6,405.9 1210.6,405.8 1212.6,405.0 1214.6,404.9 1216.6,405.4 1218.6,404.8 1220.6,405.9 1222.6,405.1 1224.6,405.1 1226.6,404.8 1228.6,405.3 1230.6,405.4 1232.6,404.9 1234.6,405.6 1236.6,405.4 1238.6,405.7 1240.6,405.8 1242.6,405.8 1244.6,405.3 1246.6,405.2 1248.6,405.5 1249.5,405.3" stroke="#000" stroke-width="1.1"/>
<polyline points="1249.5,420.2 1249.8,414.2 1250.1,410.9 1250.4,409.1 1250.7,408.1 1251.0,407.4 1251.3,407.1 1251.6,406.8 1252.3,406.5 1253.0,406.4 1253.7,406.6 1254.4,406.8 1255.1,406.7 1255.8,406.3 1256.5,406.2 1257.2,406.1 1257.9,406.1 1259.3,406.4 1260.7,406.1 1262.1,406.1 1263.5,406.0 1264.9,406.2 1266.3,405.9" stroke="#000" stroke-width="1.1"/>
<polyline points="1097.6,406.0 1097.6,391.5 1097.6,391.5" stroke="#a6a6a6" stroke-width="0.8"/>
<polyline points="1249.5,405.3 1249.5,420.2 1249.5,420.2" stroke="#a6a6a6" stroke-width="0.8"/>
<polyline points="1081.0,406.3 1083.0,405.7 1085.0,406.3 1087.0,405.9 1089.0,406.0 1091.0,406.0 1093.0,405.8 1095.0,406.2 1097.0,406.0 1097.6,420.2 1097.9,414.1 1098.2,410.8 1098.5,408.9 1098.8,408.3 1099.1,406.9 1099.4,406.8 1099.7,406.5 1100.4,406.6 1101.1,406.3 1101.8,407.0 1102.5,406.1 1103.2,406.3 1103.9,406.3 1104.6,406.2 1105.3,406.6 1106.0,406.3 1107.4,406.7 1108.8,406.1 1110.2,406.7 1111.6,406.6 1113.0,406.1 1114.4,406.7 1115.8,406.7 1117.2,405.9 1118.6,406.2 1120.0,406.6 1121.4,405.8 1122.8,406.6 1124.2,405.9 1125.6,406.5 1127.0,406.0 1128.4,406.7 1129.8,406.6 1131.2,406.0 1132.6,405.6 1134.6,406.3 1136.6,406.2 1138.6,405.9 1140.6,406.7 1142.6,406.1 1144.6,406.2 1146.6,405.8 1148.6,406.4 1150.6,406.2 1152.6,405.7 1154.6,406.7 1156.6,405.9 1158.6,405.7 1160.6,406.4 1162.6,406.1 1164.6,406.5 1166.6,406.1 1168.6,406.2 1170.6,406.4 1172.6,406.6 1174.6,405.8 1176.6,405.7 1178.6,406.1 1180.6,405.7 1182.6,406.5 1184.6,406.0 1186.6,406.0 1188.6,405.7 1190.6,405.9 1192.6,406.0 1194.6,405.9 1196.6,405.8 1198.6,405.9 1200.6,406.4 1202.6,405.7 1204.6,406.2 1206.6,406.3 1208.6,405.6 1210.6,406.5 1212.6,406.5 1214.6,405.8 1216.6,405.6 1218.6,405.6 1220.6,406.6 1222.6,405.6 1224.6,406.3 1226.6,406.3 1228.6,406.3 1230.6,406.1 1232.6,406.1 1234.6,406.1 1236.6,406.5 1238.6,405.7 1240.6,405.9 1242.6,406.1 1244.6,406.1 1246.6,406.3 1248.6,406.0 1249.5,406.2" stroke="#000" stroke-width="1.1"/>
<polyline points="1249.5,391.5 1249.8,397.9 1250.1,401.4 1250.4,403.3 1250.7,404.7 1251.0,404.8 1251.3,405.6 1251.6,405.2 1252.3,405.9 1253.0,405.5 1253.7,405.7 1254.4,405.8 1255.1,406.1 1255.8,405.6 1256.5,405.9 1257.2,406.1 1257.9,405.9 1259.3,406.0 1260.7,406.2 1262.1,406.1 1263.5,405.8 1264.9,405.9 1266.3,406.0" stroke="#000" stroke-width="1.1"/>
<polyline points="1097.6,406.0 1097.6,420.2 1097.6,420.2" stroke="#a6a6a6" stroke-width="0.8"/>
<polyline points="1249.5,406.2 1249.5,391.5 1249.5,391.5" stroke="#a6a6a6" stroke-width="0.8"/>
<polyline points="1081.0,406.2 1083.0,406.3 1085.0,406.2 1087.0,406.2 1089.0,406.1 1091.0,406.1 1093.0,406.2 1095.0,406.2 1097.0,405.8 1098.2,420.6 1098.5,415.2 1098.8,412.1 1099.1,410.4 1099.4,409.5 1099.7,409.3 1100.4,408.1 1101.1,408.4 1101.8,408.4 1102.5,408.5 1103.2,407.9 1103.9,407.8 1104.6,407.2 1105.3,408.0 1106.0,407.2 1107.4,407.0 1108.8,407.8 1110.2,407.3 1111.6,407.2 1113.0,406.8 1114.4,407.6 1115.8,407.3 1117.2,407.5 1118.6,406.9 1120.0,407.0 1121.4,407.0 1122.8,406.5 1124.2,406.4 1125.6,407.1 1127.0,406.8 1128.4,407.4 1129.8,407.3 1131.2,407.2 1132.6,407.1 1134.6,406.7 1136.6,407.1 1138.6,407.2 1140.6,406.7 1142.6,406.9 1144.6,406.4 1146.6,407.2 1148.6,406.9 1150.6,406.6 1152.6,407.2 1154.6,407.3 1156.6,406.6 1158.6,406.4 1160.6,407.1 1162.6,407.5 1164.6,406.5 1166.6,407.3 1168.6,407.1 1170.6,407.2 1172.6,406.4 1174.6,406.8 1176.6,406.4 1178.6,407.5 1180.6,407.5 1182.6,407.2 1184.6,407.1 1186.6,407.3 1188.6,406.5 1190.6,407.5 1192.6,406.8 1194.6,406.9 1196.6,406.4 1198.6,406.5 1200.6,407.5 1202.6,406.6 1204.6,407.0 1206.6,407.2 1208.6,407.2 1210.6,406.9 1212.6,407.2 1214.6,407.4 1216.6,406.6 1218.6,406.8 1220.6,407.1 1222.6,407.2 1224.6,407.0 1226.6,406.4 1228.6,406.7 1230.6,406.8 1232.6,407.4 1234.6,407.1 1236.6,406.7 1238.6,407.0 1240.6,406.7 1242.6,407.5 1244.6,407.2 1246.6,407.4 1248.6,406.8 1249.5,407.0" stroke="#000" stroke-width="1.1"/>
<polyline points="1250.1,392.2 1250.4,398.0 1250.7,401.2 1251.0,403.0 1251.3,404.0 1251.6,404.3 1252.3,405.3 1253.0,405.1 1253.7,405.6 1254.4,405.6 1255.1,405.7 1255.8,405.6 1256.5,405.7 1257.2,405.3 1257.9,405.5 1259.3,405.5 1260.7,405.5 1262.1,405.8 1263.5,405.6 1264.9,405.9 1266.3,405.7" stroke="#000" stroke-width="1.1"/>
<polyline points="1097.6,406.0 1097.6,448.6 1097.6,448.6 1097.9,430.6 1098.2,420.6" stroke="#a6a6a6" stroke-width="0.8"/>
<polyline points="1249.5,407.0 1249.5,362.4 1249.5,362.4 1249.8,381.6 1250.1,392.2" stroke="#a6a6a6" stroke-width="0.8"/>
<polyline points="1081.0,405.8 1083.0,406.2 1085.0,406.3 1087.0,406.1 1089.0,406.1 1091.0,405.8 1093.0,406.0 1095.0,406.2 1097.0,405.7 1098.5,421.4 1098.8,416.4 1099.1,413.5 1099.4,412.0 1099.7,411.0 1100.4,410.1 1101.1,409.5 1101.8,410.1 1102.5,409.1 1103.2,409.4 1103.9,408.9 1104.6,409.2 1105.3,408.3 1106.0,409.3 1107.4,408.2 1108.8,408.7 1110.2,408.1 1111.6,407.6 1113.0,408.2 1114.4,407.6 1115.8,408.3 1117.2,407.6 1118.6,407.4 1120.0,407.9 1121.4,408.0 1122.8,408.0 1124.2,408.1 1125.6,407.3 1127.0,408.3 1128.4,408.2 1129.8,408.1 1131.2,407.2 1132.6,407.5 1134.6,407.4 1136.6,408.2 1138.6,407.5 1140.6,407.7 1142.6,407.4 1144.6,408.1 1146.6,407.3 1148.6,407.7 1150.6,408.1 1152.6,407.6 1154.6,407.4 1156.6,407.8 1158.6,407.4 1160.6,408.0 1162.6,408.1 1164.6,407.5 1166.6,407.2 1168.6,407.6 1170.6,407.2 1172.6,408.2 1174.6,408.3 1176.6,407.9 1178.6,407.8 1180.6,407.9 1182.6,407.6 1184.6,407.8 1186.6,407.9 1188.6,408.2 1190.6,407.5 1192.6,407.3 1194.6,407.7 1196.6,407.2 1198.6,407.5 1200.6,407.8 1202.6,408.2 1204.6,407.9 1206.6,408.4 1208.6,408.1 1210.6,408.4 1212.6,408.2 1214.6,407.6 1216.6,407.4 1218.6,408.0 1220.6,408.1 1222.6,407.7 1224.6,408.2 1226.6,407.9 1228.6,408.2 1230.6,407.2 1232.6,408.2 1234.6,408.2 1236.6,407.4 1238.6,408.2 1240.6,407.5 1242.6,408.2 1244.6,408.2 1246.6,408.2 1248.6,407.3 1249.5,407.8" stroke="#000" stroke-width="1.1"/>
<polyline points="1250.4,392.7 1250.7,398.0 1251.0,401.0 1251.3,402.6 1251.6,403.6 1252.3,404.3 1253.0,404.8 1253.7,404.8 1254.4,405.0 1255.1,405.4 1255.8,405.5 1256.5,405.1 1257.2,405.2 1257.9,405.6 1259.3,405.6 1260.7,405.3 1262.1,406.0 1263.5,405.6 1264.9,405.5 1266.3,406.1" stroke="#000" stroke-width="1.1"/>
<polyline points="1097.6,406.0 1097.6,477.0 1097.6,477.0 1097.9,447.0 1098.2,430.5 1098.5,421.4" stroke="#a6a6a6" stroke-width="0.8"/>
<polyline points="1249.5,407.8 1249.5,333.3 1249.5,333.3 1249.8,365.4 1250.1,383.0 1250.4,392.7" stroke="#a6a6a6" stroke-width="0.8"/>
<polyline points="1081.0,406.2 1083.0,405.8 1085.0,406.0 1087.0,406.3 1089.0,406.3 1091.0,406.2 1093.0,406.2 1095.0,406.3 1097.0,405.9 1098.5,427.7 1098.8,420.6 1099.1,416.7 1099.4,414.4 1099.7,413.2 1100.4,411.8 1101.1,411.3 1101.8,411.0 1102.5,410.7 1103.2,411.0 1103.9,410.0 1104.6,410.0 1105.3,410.0 1106.0,409.3 1107.4,409.4 1108.8,409.9 1110.2,409.9 1111.6,409.1 1113.0,409.1 1114.4,408.5 1115.8,408.9 1117.2,409.4 1118.6,408.6 1120.0,408.9 1121.4,409.1 1122.8,408.6 1124.2,408.6 1125.6,408.9 1127.0,408.3 1128.4,408.4 1129.8,408.3 1131.2,408.1 1132.6,408.3 1134.6,409.0 1136.6,408.9 1138.6,408.5 1140.6,408.1 1142.6,408.6 1144.6,408.3 1146.6,408.7 1148.6,409.0 1150.6,408.4 1152.6,408.4 1154.6,409.0 1156.6,409.0 1158.6,408.8 1160.6,408.4 1162.6,409.1 1164.6,408.1 1166.6,409.2 1168.6,408.8 1170.6,408.1 1172.6,408.2 1174.6,408.9 1176.6,409.1 1178.6,408.1 1180.6,408.7 1182.6,409.0 1184.6,408.8 1186.6,409.1 1188.6,409.0 1190.6,408.2 1192.6,408.1 1194.6,409.0 1196.6,408.3 1198.6,409.0 1200.6,409.1 1202.6,408.4 1204.6,408.9 1206.6,408.2 1208.6,408.6 1210.6,408.1 1212.6,408.7 1214.6,408.1 1216.6,408.5 1218.6,408.0 1220.6,409.2 1222.6,408.7 1224.6,408.4 1226.6,408.2 1228.6,408.9 1230.6,408.6 1232.6,408.7 1234.6,408.0 1236.6,408.4 1238.6,408.5 1240.6,409.0 1242.6,408.2 1244.6,408.0 1246.6,408.6 1248.6,408.2 1249.5,408.6" stroke="#000" stroke-width="1.1"/>
<polyline points="1250.4,387.3 1250.7,394.8 1251.0,399.0 1251.3,401.3 1251.6,402.6 1252.3,403.9 1253.0,404.1 1253.7,404.3 1254.4,404.7 1255.1,404.8 1255.8,404.8 1256.5,405.2 1257.2,404.9 1257.9,405.1 1259.3,405.4 1260.7,405.3 1262.1,405.9 1263.5,405.6 1264.9,405.7 1266.3,406.0" stroke="#000" stroke-width="1.1"/>
<polyline points="1097.6,406.0 1097.6,505.5 1097.6,505.5 1097.9,463.5 1098.2,440.4 1098.5,427.7" stroke="#a6a6a6" stroke-width="0.8"/>
<polyline points="1249.5,408.6 1249.5,304.2 1249.5,304.2 1249.8,349.1 1250.1,373.8 1250.4,387.3" stroke="#a6a6a6" stroke-width="0.8"/>
<polyline points="1081.0,406.0 1083.0,405.8 1085.0,406.0 1087.0,406.3 1089.0,406.2 1091.0,405.9 1093.0,405.7 1095.0,406.3 1097.0,405.9 1098.8,424.8 1099.1,419.8 1099.4,416.9 1099.7,415.3 1100.4,413.5 1101.1,412.9 1101.8,412.5 1102.5,412.1 1103.2,411.9 1103.9,411.6 1104.6,411.4 1105.3,411.4 1106.0,410.8 1107.4,411.1 1108.8,411.0 1110.2,410.3 1111.6,410.4 1113.0,409.5 1114.4,410.0 1115.8,410.0 1117.2,410.2 1118.6,409.1 1120.0,409.2 1121.4,409.9 1122.8,409.7 1124.2,409.4 1125.6,410.1 1127.0,409.0 1128.4,409.9 1129.8,409.0 1131.2,409.1 1132.6,409.6 1134.6,408.9 1136.6,409.7 1138.6,409.2 1140.6,409.8 1142.6,409.5 1144.6,409.1 1146.6,409.7 1148.6,409.9 1150.6,409.7 1152.6,408.9 1154.6,409.3 1156.6,408.9 1158.6,409.3 1160.6,409.1 1162.6,409.4 1164.6,409.8 1166.6,409.7 1168.6,409.7 1170.6,408.9 1172.6,409.4 1174.6,409.3 1176.6,409.7 1178.6,409.8 1180.6,408.8 1182.6,409.8 1184.6,409.2 1186.6,408.8 1188.6,409.5 1190.6,409.4 1192.6,409.9 1194.6,409.7 1196.6,409.3 1198.6,409.7 1200.6,409.9 1202.6,409.4 1204.6,409.2 1206.6,409.6 1208.6,409.8 1210.6,409.6 1212.6,409.5 1214.6,409.0 1216.6,409.7 1218.6,409.5 1220.6,409.7 1222.6,409.3 1224.6,408.8 1226.6,409.1 1228.6,409.5 1230.6,409.0 1232.6,409.2 1234.6,409.3 1236.6,409.0 1238.6,409.1 1240.6,409.3 1242.6,409.9 1244.6,409.6 1246.6,408.9 1248.6,409.3 1249.5,409.4" stroke="#000" stroke-width="1.1"/>
<polyline points="1250.7,391.6 1251.0,397.0 1251.3,399.9 1251.6,401.6 1252.3,403.3 1253.0,403.9 1253.7,404.3 1254.4,404.0 1255.1,404.6 1255.8,404.8 1256.5,404.6 1257.2,404.6 1257.9,404.9 1259.3,405.1 1260.7,405.4 1262.1,405.2 1263.5,405.4 1264.9,405.8 1266.3,405.4" stroke="#000" stroke-width="1.1"/>
<polyline points="1097.6,406.0 1097.6,533.9 1097.6,533.9 1097.9,480.0 1098.2,450.3 1098.5,433.9 1098.8,424.8" stroke="#a6a6a6" stroke-width="0.8"/>
<polyline points="1249.5,409.4 1249.5,275.2 1249.5,275.2 1249.8,332.8 1250.1,364.5 1250.4,382.0 1250.7,391.6" stroke="#a6a6a6" stroke-width="0.8"/>
<polyline points="1081.0,406.1 1083.0,405.9 1085.0,405.9 1087.0,405.9 1089.0,405.9 1091.0,406.2 1093.0,406.2 1095.0,406.0 1097.0,406.1 1098.8,429.1 1099.1,422.9 1099.4,419.4 1099.7,417.4 1100.4,415.3 1101.1,414.4 1101.8,413.9 1102.5,413.6 1103.2,413.2 1103.9,412.9 1104.6,412.7 1105.3,412.4 1106.0,412.2 1107.4,411.7 1108.8,411.7 1110.2,411.8 1111.6,410.6 1113.0,411.0 1114.4,410.8 1115.8,410.6 1117.2,410.2 1118.6,410.5 1120.0,410.0 1121.4,410.6 1122.8,410.1 1124.2,410.8 1125.6,410.0 1127.0,409.9 1128.4,409.9 1129.8,410.5 1131.2,410.7 1132.6,410.7 1134.6,410.2 1136.6,410.4 1138.6,410.0 1140.6,410.2 1142.6,409.7 1144.6,410.6 1146.6,410.1 1148.6,410.2 1150.6,409.7 1152.6,410.2 1154.6,409.8 1156.6,410.8 1158.6,409.7 1160.6,410.0 1162.6,409.7 1164.6,409.8 1166.6,410.2 1168.6,409.7 1170.6,410.4 1172.6,410.3 1174.6,410.5 1176.6,410.0 1178.6,410.4 1180.6,410.0 1182.6,410.4 1184.6,410.8 1186.6,409.8 1188.6,410.4 1190.6,410.5 1192.6,409.9 1194.6,409.7 1196.6,410.2 1198.6,410.2 1200.6,410.3 1202.6,410.5 1204.6,410.0 1206.6,410.6 1208.6,410.4 1210.6,409.9 1212.6,409.9 1214.6,410.1 1216.6,410.6 1218.6,410.6 1220.6,410.2 1222.6,410.2 1224.6,410.2 1226.6,410.5 1228.6,409.6 1230.6,410.4 1232.6,410.2 1234.6,410.3 1236.6,410.6 1238.6,409.7 1240.6,410.2 1242.6,410.7 1244.6,409.9 1246.6,410.3 1248.6,409.9 1249.5,410.2" stroke="#000" stroke-width="1.1"/>
<polyline points="1250.7,388.4 1251.0,395.0 1251.3,398.6 1251.6,400.7 1252.3,402.7 1253.0,403.4 1253.7,403.7 1254.4,404.0 1255.1,404.3 1255.8,404.4 1256.5,404.3 1257.2,404.4 1257.9,404.7 1259.3,405.0 1260.7,405.4 1262.1,405.6 1263.5,405.5 1264.9,405.3 1266.3,405.6" stroke="#000" stroke-width="1.1"/>
<polyline points="1097.6,406.0 1097.6,562.3 1097.6,562.3 1097.9,496.4 1098.2,460.2 1098.5,440.2 1098.8,429.1" stroke="#a6a6a6" stroke-width="0.8"/>
<polyline points="1249.5,410.2 1249.5,246.1 1249.5,246.1 1249.8,316.6 1250.1,355.3 1250.4,376.7 1250.7,388.4" stroke="#a6a6a6" stroke-width="0.8"/>
<polyline points="1081.0,406.3 1083.0,405.7 1085.0,406.0 1087.0,405.9 1089.0,406.1 1091.0,405.8 1093.0,405.7 1095.0,405.8 1097.0,406.0 1098.8,433.3 1099.1,426.0 1099.4,421.9 1099.7,419.5 1100.4,417.0 1101.1,416.0 1101.8,415.4 1102.5,415.0 1103.2,414.6 1103.9,414.3 1104.6,413.9 1105.3,413.7 1106.0,413.4 1107.4,413.6 1108.8,412.3 1110.2,412.1 1111.6,412.2 1113.0,411.4 1114.4,411.3 1115.8,411.4 1117.2,411.7 1118.6,411.8 1120.0,411.4 1121.4,411.0 1122.8,411.3 1124.2,411.8 1125.6,411.0 1127.0,410.7 1128.4,410.5 1129.8,411.0 1131.2,411.6 1132.6,411.6 1134.6,411.3 1136.6,410.7 1138.6,410.9 1140.6,410.7 1142.6,410.9 1144.6,411.3 1146.6,410.4 1148.6,411.0 1150.6,410.7 1152.6,411.1 1154.6,411.3 1156.6,411.3 1158.6,410.8 1160.6,411.5 1162.6,410.4 1164.6,410.8 1166.6,410.6 1168.6,411.2 1170.6,411.0 1172.6,411.1 1174.6,410.5 1176.6,410.5 1178.6,411.3 1180.6,411.2 1182.6,411.5 1184.6,410.9 1186.6,411.1 1188.6,410.9 1190.6,411.5 1192.6,410.8 1194.6,411.0 1196.6,411.3 1198.6,410.8 1200.6,410.9 1202.6,410.5 1204.6,411.6 1206.6,411.0 1208.6,411.0 1210.6,410.6 1212.6,410.9 1214.6,410.8 1216.6,410.6 1218.6,410.8 1220.6,410.8 1222.6,411.2 1224.6,410.5 1226.6,411.6 1228.6,411.4 1230.6,410.4 1232.6,410.9 1234.6,411.3 1236.6,410.4 1238.6,411.5 1240.6,411.6 1242.6,410.5 1244.6,410.8 1246.6,411.6 1248.6,410.7 1249.5,411.0" stroke="#000" stroke-width="1.1"/>
<polyline points="1250.7,385.2 1251.0,393.0 1251.3,397.3 1251.6,399.7 1252.3,402.1 1253.0,402.9 1253.7,403.3 1254.4,403.6 1255.1,403.8 1255.8,404.2 1256.5,404.4 1257.2,404.1 1257.9,404.5 1259.3,404.7 1260.7,405.2 1262.1,405.0 1263.5,405.5 1264.9,405.2 1266.3,405.6" stroke="#000" stroke-width="1.1"/>
<polyline points="1097.6,406.0 1097.6,590.7 1097.6,590.7 1097.9,512.9 1098.2,470.1 1098.5,446.4 1098.8,433.3" stroke="#a6a6a6" stroke-width="0.8"/>
<polyline points="1249.5,411.0 1249.5,217.0 1249.5,217.0 1249.8,300.3 1250.1,346.1 1250.4,371.3 1250.7,385.2" stroke="#a6a6a6" stroke-width="0.8"/>
<rect x="69.5" y="856" width="162.7" height="8.5" fill="#000"/>
<polyline points="47.0,862.3 49.0,862.6 51.0,862.6 53.0,862.5 55.0,862.4 57.0,862.2 59.0,862.4 61.0,862.3 63.0,862.4 65.0,862.6 81.0,852.9 82.4,853.5 83.8,853.1 85.2,853.8 86.6,853.9 88.0,854.5 89.4,853.9 90.8,854.1 92.2,854.5 93.6,854.4 95.0,854.3 96.4,854.5 97.8,854.1 99.8,853.9 101.8,854.4 103.8,854.5 105.8,854.8 107.8,854.4 109.8,854.3 111.8,855.0 113.8,855.0 115.8,854.1 117.8,854.9 119.8,854.3 121.8,854.0 123.8,854.9 125.8,854.5 127.8,855.0 129.8,854.4 131.8,853.9 133.8,854.4 135.8,854.7 137.8,854.2 139.8,854.7 141.8,854.2 143.8,854.7 145.8,853.9 147.8,854.7 149.8,854.1 151.8,854.4 153.8,855.1 155.8,854.0 157.8,854.0 159.8,855.1 161.8,854.9 163.8,854.6 165.8,854.5 167.8,854.5 169.8,854.7 171.8,854.9 173.8,854.1 175.8,854.3 177.8,854.5 179.8,854.1 181.8,854.0 183.8,854.7 185.8,855.1 187.8,854.9 189.8,854.3 191.8,854.3 193.8,855.1 195.8,854.9 197.8,854.6 199.8,854.0 201.8,854.1 203.8,854.8 205.8,854.3 207.8,854.7 209.8,854.1 211.8,854.7 213.8,854.5 215.8,854.0 217.8,854.1 219.8,854.2 221.8,854.4 223.8,854.5 225.8,855.0 227.8,854.1 229.8,854.1 231.8,854.5 232.7,854.5" stroke="#000" stroke-width="1.0"/>
<polyline points="67.6,828.4 67.9,834.4 68.2,837.9 68.5,840.1 68.8,841.6 69.1,842.6 69.8,844.3 70.5,845.5 71.2,846.5 71.9,847.4 72.6,848.2 73.3,848.9 74.0,849.5 74.7,850.1 75.4,850.6 76.8,851.4 78.2,852.0 79.6,852.5 81.0,852.9" stroke="#555" stroke-width="0.7"/>
<polyline points="233.3,885.4 233.6,878.5 233.9,874.5 234.2,872.2 234.5,870.7 234.8,869.8 235.5,868.5 236.2,867.7 236.9,867.1 237.6,866.5 238.3,866.1 239.0,865.7 239.7,865.3 240.4,865.0 241.1,864.7 242.5,864.0 243.9,863.5 245.3,863.5 246.7,863.2 248.1,863.1 249.5,862.9 250.9,862.5" stroke="#000" stroke-width="1.0"/>
<polyline points="67.0,862.3 67.0,800.0 67.0,800.0 67.3,818.2 67.6,828.4" stroke="#a6a6a6" stroke-width="0.8"/>
<polyline points="232.7,854.5 232.7,919.8 232.7,919.8 233.0,897.7 233.3,885.4" stroke="#a6a6a6" stroke-width="0.8"/>
<polyline points="47.0,862.3 49.0,862.1 51.0,862.0 53.0,862.5 55.0,862.5 57.0,862.6 59.0,862.4 61.0,862.4 63.0,862.3 65.0,862.3 79.6,853.6 81.0,853.8 82.4,854.7 83.8,854.4 85.2,855.2 86.6,854.6 88.0,854.6 89.4,855.1 90.8,855.3 92.2,855.1 93.6,854.8 95.0,854.7 96.4,855.4 97.8,854.8 99.8,855.7 101.8,855.2 103.8,855.5 105.8,855.0 107.8,855.8 109.8,855.0 111.8,855.9 113.8,854.8 115.8,855.6 117.8,855.1 119.8,855.8 121.8,855.4 123.8,855.6 125.8,855.4 127.8,855.6 129.8,855.0 131.8,855.2 133.8,855.5 135.8,854.8 137.8,855.1 139.8,854.9 141.8,854.9 143.8,855.0 145.8,854.7 147.8,855.4 149.8,855.2 151.8,855.6 153.8,855.9 155.8,855.4 157.8,855.5 159.8,855.8 161.8,855.9 163.8,855.2 165.8,855.7 167.8,855.2 169.8,855.3 171.8,855.0 173.8,855.6 175.8,855.0 177.8,855.1 179.8,855.2 181.8,854.7 183.8,855.7 185.8,854.7 187.8,854.9 189.8,855.8 191.8,855.6 193.8,854.7 195.8,855.0 197.8,855.2 199.8,854.7 201.8,855.0 203.8,855.1 205.8,855.9 207.8,854.8 209.8,855.5 211.8,855.0 213.8,855.5 215.8,854.7 217.8,855.6 219.8,855.8 221.8,854.8 223.8,855.9 225.8,855.7 227.8,855.1 229.8,855.3 231.8,854.7 232.7,855.3" stroke="#000" stroke-width="1.0"/>
<polyline points="67.3,824.8 67.6,833.4 67.9,838.3 68.2,841.3 68.5,843.2 68.8,844.4 69.1,845.3 69.8,846.7 70.5,847.7 71.2,848.6 71.9,849.3 72.6,850.0 73.3,850.6 74.0,851.1 74.7,851.6 75.4,852.0 76.8,852.7 78.2,853.2 79.6,853.6" stroke="#555" stroke-width="0.7"/>
<polyline points="233.3,881.9 233.6,876.0 233.9,872.6 234.2,870.6 234.5,869.4 234.8,868.6 235.5,867.5 236.2,866.9 236.9,866.3 237.6,865.9 238.3,865.5 239.0,865.1 239.7,864.8 240.4,864.6 241.1,864.3 242.5,863.7 243.9,863.3 245.3,863.2 246.7,862.9 248.1,862.7 249.5,862.5 250.9,862.5" stroke="#000" stroke-width="1.0"/>
<polyline points="67.0,862.3 67.0,809.6 67.0,809.6 67.3,824.8" stroke="#a6a6a6" stroke-width="0.8"/>
<polyline points="232.7,855.3 232.7,911.0 232.7,911.0 233.0,892.3 233.3,881.9" stroke="#a6a6a6" stroke-width="0.8"/>
<polyline points="47.0,862.0 49.0,862.1 51.0,862.5 53.0,862.3 55.0,862.1 57.0,862.5 59.0,862.1 61.0,862.1 63.0,862.0 65.0,862.5 78.2,854.4 79.6,854.7 81.0,855.1 82.4,855.3 83.8,855.9 85.2,856.1 86.6,856.1 88.0,855.8 89.4,856.1 90.8,855.6 92.2,856.4 93.6,856.0 95.0,855.4 96.4,855.8 97.8,856.6 99.8,855.8 101.8,855.6 103.8,856.7 105.8,856.0 107.8,856.2 109.8,855.9 111.8,855.8 113.8,855.9 115.8,856.6 117.8,856.1 119.8,856.4 121.8,856.3 123.8,855.8 125.8,856.6 127.8,856.6 129.8,855.7 131.8,855.6 133.8,856.4 135.8,855.7 137.8,856.6 139.8,856.1 141.8,856.1 143.8,855.8 145.8,856.2 147.8,855.9 149.8,855.5 151.8,856.2 153.8,856.6 155.8,856.3 157.8,856.1 159.8,856.5 161.8,855.6 163.8,855.8 165.8,856.0 167.8,855.5 169.8,855.6 171.8,856.5 173.8,856.1 175.8,856.3 177.8,855.7 179.8,856.6 181.8,856.6 183.8,855.9 185.8,855.8 187.8,855.9 189.8,855.9 191.8,856.0 193.8,856.3 195.8,856.4 197.8,856.6 199.8,856.3 201.8,856.5 203.8,856.3 205.8,855.6 207.8,855.7 209.8,855.8 211.8,855.6 213.8,855.8 215.8,856.3 217.8,856.4 219.8,856.1 221.8,856.2 223.8,856.3 225.8,856.3 227.8,856.0 229.8,856.0 231.8,856.1 232.7,856.1" stroke="#000" stroke-width="1.0"/>
<polyline points="67.3,831.4 67.6,838.3 67.9,842.3 68.2,844.7 68.5,846.2 68.8,847.2 69.1,847.9 69.8,849.1 70.5,849.9 71.2,850.6 71.9,851.2 72.6,851.8 73.3,852.2 74.0,852.7 74.7,853.0 75.4,853.4 76.8,854.0 78.2,854.4" stroke="#555" stroke-width="0.7"/>
<polyline points="233.0,886.8 233.3,878.3 233.6,873.5 233.9,870.7 234.2,869.1 234.5,868.1 234.8,867.5 235.5,866.6 236.2,866.0 236.9,865.6 237.6,865.2 238.3,864.9 239.0,864.6 239.7,864.4 240.4,864.2 241.1,863.7 242.5,863.6 243.9,863.3 245.3,863.3 246.7,862.8 248.1,863.1 249.5,862.8 250.9,862.7" stroke="#000" stroke-width="1.0"/>
<polyline points="67.0,862.3 67.0,819.2 67.0,819.2 67.3,831.4" stroke="#a6a6a6" stroke-width="0.8"/>
<polyline points="232.7,856.1 232.7,902.1 232.7,902.1 233.0,886.8" stroke="#a6a6a6" stroke-width="0.8"/>
<polyline points="47.0,862.3 49.0,862.1 51.0,862.2 53.0,862.2 55.0,862.3 57.0,862.0 59.0,862.0 61.0,862.6 63.0,862.0 65.0,862.2 76.8,855.2 78.2,855.5 79.6,856.5 81.0,855.9 82.4,856.0 83.8,856.4 85.2,856.7 86.6,857.0 88.0,856.9 89.4,856.2 90.8,857.2 92.2,857.3 93.6,856.3 95.0,857.2 96.4,857.4 97.8,857.3 99.8,857.4 101.8,856.7 103.8,857.1 105.8,857.2 107.8,857.3 109.8,857.0 111.8,857.4 113.8,857.1 115.8,856.8 117.8,857.5 119.8,856.8 121.8,856.4 123.8,857.4 125.8,856.8 127.8,857.3 129.8,857.4 131.8,857.3 133.8,857.2 135.8,856.7 137.8,856.9 139.8,856.8 141.8,857.3 143.8,856.7 145.8,856.9 147.8,857.3 149.8,856.5 151.8,857.3 153.8,857.0 155.8,857.1 157.8,857.1 159.8,856.6 161.8,857.4 163.8,857.1 165.8,856.8 167.8,856.5 169.8,856.6 171.8,856.4 173.8,856.7 175.8,856.5 177.8,856.4 179.8,856.4 181.8,856.4 183.8,856.6 185.8,856.4 187.8,856.7 189.8,856.5 191.8,856.5 193.8,857.0 195.8,856.8 197.8,857.1 199.8,856.6 201.8,857.1 203.8,856.7 205.8,856.8 207.8,856.6 209.8,856.4 211.8,857.5 213.8,856.6 215.8,856.3 217.8,857.1 219.8,856.4 221.8,856.4 223.8,856.6 225.8,856.6 227.8,856.8 229.8,856.7 231.8,856.7 232.7,856.9" stroke="#000" stroke-width="1.0"/>
<polyline points="67.3,838.0 67.6,843.2 67.9,846.3 68.2,848.1 68.5,849.2 68.8,850.0 69.1,850.6 69.8,851.4 70.5,852.1 71.2,852.6 71.9,853.1 72.6,853.5 73.3,853.9 74.0,854.2 74.7,854.5 75.4,854.8 76.8,855.2" stroke="#555" stroke-width="0.7"/>
<polyline points="233.0,881.4 233.3,874.7 233.6,871.0 233.9,868.9 234.2,867.6 234.5,866.8 234.8,866.3 235.5,865.6 236.2,865.2 236.9,864.9 237.6,864.6 238.3,864.3 239.0,864.3 239.7,863.8 240.4,864.0 241.1,863.7 242.5,863.5 243.9,863.1 245.3,862.8 246.7,862.8 248.1,863.0 249.5,862.4 250.9,862.7" stroke="#000" stroke-width="1.0"/>
<polyline points="67.0,862.3 67.0,828.8 67.0,828.8 67.3,838.0" stroke="#a6a6a6" stroke-width="0.8"/>
<polyline points="232.7,856.9 232.7,893.3 232.7,893.3 233.0,881.4" stroke="#a6a6a6" stroke-width="0.8"/>
<polyline points="47.0,862.5 49.0,862.3 51.0,862.1 53.0,862.6 55.0,862.2 57.0,862.6 59.0,862.3 61.0,862.1 63.0,862.3 65.0,862.2 75.4,856.2 76.8,856.3 78.2,857.2 79.6,857.5 81.0,857.2 82.4,857.4 83.8,857.6 85.2,857.4 86.6,857.8 88.0,857.7 89.4,858.2 90.8,858.0 92.2,858.1 93.6,857.1 95.0,857.6 96.4,857.3 97.8,857.5 99.8,857.2 101.8,858.2 103.8,857.7 105.8,857.8 107.8,858.1 109.8,858.0 111.8,858.2 113.8,857.2 115.8,857.3 117.8,857.7 119.8,857.8 121.8,858.3 123.8,857.6 125.8,857.3 127.8,857.4 129.8,857.3 131.8,858.0 133.8,857.8 135.8,857.4 137.8,858.0 139.8,857.6 141.8,857.4 143.8,857.2 145.8,858.1 147.8,858.1 149.8,858.0 151.8,858.3 153.8,858.3 155.8,857.1 157.8,857.3 159.8,857.7 161.8,857.8 163.8,857.6 165.8,857.4 167.8,857.4 169.8,858.3 171.8,857.7 173.8,857.6 175.8,858.0 177.8,858.0 179.8,858.1 181.8,858.1 183.8,857.5 185.8,857.4 187.8,857.7 189.8,858.0 191.8,857.5 193.8,858.2 195.8,857.3 197.8,857.4 199.8,857.6 201.8,857.3 203.8,857.3 205.8,857.5 207.8,857.1 209.8,857.9 211.8,857.8 213.8,857.3 215.8,858.0 217.8,857.6 219.8,857.8 221.8,858.2 223.8,857.7 225.8,857.3 227.8,857.5 229.8,857.3 231.8,858.2 232.7,857.7" stroke="#000" stroke-width="1.0"/>
<polyline points="67.0,838.3 67.3,844.6 67.6,848.2 67.9,850.2 68.2,851.5 68.5,852.3 68.8,852.8 69.1,853.2 69.8,853.8 70.5,854.3 71.2,854.7 71.9,855.0 72.6,855.3 73.3,855.6 74.0,855.8 74.7,856.0 75.4,856.2" stroke="#555" stroke-width="0.7"/>
<polyline points="233.0,875.9 233.3,871.2 233.6,868.5 233.9,867.0 234.2,866.1 234.5,865.5 234.8,865.2 235.5,864.7 236.2,864.4 236.9,864.0 237.6,863.7 238.3,863.7 239.0,863.5 239.7,863.6 240.4,863.0 241.1,863.0 242.5,862.9 243.9,862.6 245.3,862.8 246.7,862.9 248.1,862.8 249.5,862.6 250.9,862.2" stroke="#000" stroke-width="1.0"/>
<polyline points="67.0,862.3 67.0,838.3 67.0,838.3" stroke="#a6a6a6" stroke-width="0.8"/>
<polyline points="232.7,857.7 232.7,884.4 232.7,884.4 233.0,875.9" stroke="#a6a6a6" stroke-width="0.8"/>
<polyline points="47.0,862.4 49.0,862.1 51.0,862.3 53.0,862.4 55.0,862.6 57.0,862.3 59.0,862.2 61.0,862.1 63.0,862.5 65.0,862.2 71.9,856.9 72.6,856.9 73.3,857.3 74.0,857.6 74.7,857.6 75.4,857.0 76.8,858.2 78.2,858.2 79.6,858.5 81.0,858.4 82.4,858.4 83.8,858.0 85.2,858.2 86.6,858.9 88.0,858.2 89.4,858.9 90.8,858.2 92.2,858.4 93.6,859.1 95.0,858.7 96.4,858.5 97.8,857.9 99.8,858.4 101.8,858.1 103.8,858.6 105.8,859.1 107.8,858.2 109.8,859.1 111.8,859.0 113.8,858.1 115.8,859.0 117.8,858.8 119.8,858.1 121.8,858.1 123.8,858.7 125.8,859.0 127.8,858.3 129.8,858.9 131.8,858.7 133.8,858.1 135.8,858.8 137.8,858.3 139.8,858.1 141.8,858.5 143.8,858.0 145.8,859.0 147.8,858.0 149.8,859.1 151.8,859.1 153.8,859.0 155.8,858.7 157.8,859.1 159.8,858.0 161.8,858.4 163.8,858.5 165.8,858.1 167.8,858.8 169.8,858.9 171.8,858.5 173.8,858.0 175.8,858.3 177.8,859.0 179.8,859.1 181.8,858.4 183.8,858.0 185.8,859.0 187.8,858.8 189.8,858.0 191.8,858.5 193.8,858.4 195.8,859.1 197.8,858.6 199.8,859.1 201.8,858.4 203.8,858.4 205.8,858.6 207.8,858.0 209.8,858.4 211.8,858.3 213.8,858.2 215.8,858.9 217.8,858.6 219.8,858.8 221.8,858.7 223.8,858.2 225.8,858.3 227.8,858.2 229.8,858.7 231.8,858.3 232.7,858.5" stroke="#000" stroke-width="1.0"/>
<polyline points="67.0,847.9 67.0,847.9 67.3,851.2 67.6,853.1 67.9,854.2 68.2,854.9 68.5,855.3 68.8,855.6 69.1,855.8 69.8,856.2 70.5,856.5 71.2,856.7 71.9,856.9" stroke="#555" stroke-width="0.7"/>
<polyline points="232.7,875.6 233.0,870.5 233.3,867.6 233.6,866.0 233.9,865.1 234.2,864.6 234.5,864.0 234.8,864.2 235.5,863.5 236.2,863.8 236.9,863.3 237.6,863.4 238.3,863.5 239.0,862.9 239.7,863.2 240.4,862.8 241.1,862.9 242.5,862.7 243.9,862.7 245.3,862.7 246.7,862.7 248.1,862.4 249.5,862.6 250.9,862.6" stroke="#000" stroke-width="1.0"/>
<polyline points="67.0,862.3 67.0,847.9" stroke="#a6a6a6" stroke-width="0.8"/>
<polyline points="232.7,858.5 232.7,875.6 232.7,875.6" stroke="#a6a6a6" stroke-width="0.8"/>
<polyline points="47.0,862.3 49.0,862.3 51.0,862.3 53.0,862.1 55.0,862.4 57.0,862.2 59.0,862.2 61.0,862.6 63.0,862.2 65.0,862.2 67.0,857.5 67.3,858.2 67.6,858.4 67.9,858.8 68.2,858.1 68.5,858.3 68.8,858.3 69.1,858.3 69.8,858.6 70.5,859.2 71.2,859.3 71.9,858.6 72.6,859.2 73.3,858.7 74.0,859.0 74.7,858.6 75.4,858.8 76.8,859.5 78.2,859.5 79.6,859.2 81.0,859.7 82.4,858.8 83.8,859.0 85.2,859.5 86.6,858.9 88.0,859.3 89.4,859.2 90.8,858.9 92.2,859.1 93.6,859.0 95.0,859.4 96.4,859.1 97.8,859.4 99.8,859.1 101.8,859.6 103.8,859.8 105.8,859.5 107.8,859.7 109.8,859.3 111.8,858.8 113.8,859.8 115.8,859.0 117.8,858.8 119.8,859.6 121.8,858.9 123.8,859.4 125.8,859.3 127.8,858.8 129.8,859.3 131.8,858.9 133.8,859.6 135.8,859.8 137.8,859.2 139.8,859.4 141.8,859.2 143.8,859.5 145.8,859.9 147.8,859.0 149.8,859.5 151.8,858.8 153.8,859.8 155.8,858.8 157.8,859.3 159.8,859.2 161.8,859.4 163.8,859.0 165.8,859.0 167.8,859.4 169.8,859.7 171.8,859.9 173.8,859.2 175.8,859.0 177.8,859.1 179.8,858.9 181.8,859.8 183.8,859.7 185.8,858.9 187.8,859.8 189.8,859.3 191.8,859.5 193.8,859.5 195.8,859.6 197.8,859.0 199.8,859.2 201.8,859.4 203.8,859.5 205.8,859.6 207.8,859.0 209.8,859.0 211.8,859.6 213.8,859.3 215.8,859.9 217.8,859.9 219.8,859.9 221.8,859.9 223.8,859.8 225.8,859.7 227.8,858.8 229.8,859.7 231.8,859.8 232.7,859.3" stroke="#000" stroke-width="1.0"/>
<polyline points="67.0,857.5 67.0,857.5" stroke="#555" stroke-width="0.7"/>
<polyline points="232.7,866.7 232.7,866.7 233.0,865.0 233.3,863.9 233.6,863.3 233.9,863.5 234.2,862.9 234.5,862.7 234.8,862.8 235.5,862.7 236.2,862.6 236.9,862.5 237.6,862.6 238.3,862.8 239.0,862.3 239.7,862.5 240.4,862.8 241.1,862.7 242.5,862.2 243.9,862.5 245.3,862.2 246.7,862.2 248.1,862.6 249.5,862.6 250.9,862.6" stroke="#000" stroke-width="1.0"/>
<polyline points="67.0,862.3 67.0,857.5" stroke="#a6a6a6" stroke-width="0.8"/>
<polyline points="232.7,859.3 232.7,866.7" stroke="#a6a6a6" stroke-width="0.8"/>
<polyline points="47.0,862.0 49.0,862.0 51.0,862.2 53.0,862.2 55.0,862.1 57.0,862.5 59.0,862.3 61.0,862.6 63.0,862.0 65.0,862.3 67.6,862.1 67.9,861.2 68.2,862.0 68.5,861.7 68.8,860.7 69.1,860.9 69.8,861.5 70.5,861.0 71.2,860.6 71.9,860.8 72.6,860.6 73.3,861.0 74.0,860.0 74.7,860.6 75.4,861.0 76.8,859.8 78.2,860.1 79.6,860.2 81.0,860.4 82.4,860.6 83.8,860.3 85.2,859.7 86.6,860.7 88.0,859.8 89.4,860.6 90.8,859.7 92.2,859.7 93.6,860.4 95.0,860.0 96.4,860.6 97.8,859.6 99.8,859.7 101.8,859.7 103.8,860.1 105.8,859.8 107.8,859.8 109.8,860.1 111.8,860.5 113.8,860.5 115.8,860.0 117.8,860.0 119.8,859.9 121.8,860.4 123.8,860.0 125.8,860.4 127.8,859.7 129.8,859.8 131.8,860.2 133.8,859.6 135.8,860.6 137.8,860.6 139.8,860.1 141.8,859.7 143.8,860.0 145.8,860.0 147.8,860.0 149.8,860.1 151.8,859.7 153.8,859.6 155.8,859.6 157.8,859.7 159.8,859.8 161.8,860.1 163.8,859.7 165.8,859.7 167.8,860.3 169.8,860.2 171.8,859.9 173.8,860.4 175.8,860.2 177.8,859.8 179.8,860.6 181.8,860.2 183.8,859.7 185.8,860.2 187.8,859.6 189.8,859.9 191.8,860.6 193.8,860.0 195.8,860.2 197.8,859.6 199.8,860.1 201.8,860.6 203.8,860.6 205.8,860.1 207.8,860.7 209.8,860.7 211.8,859.7 213.8,860.5 215.8,859.9 217.8,860.3 219.8,860.1 221.8,859.8 223.8,859.8 225.8,860.7 227.8,860.6 229.8,860.0 231.8,860.5 232.7,860.2" stroke="#000" stroke-width="1.0"/>
<polyline points="67.0,864.0 67.0,864.0 67.3,862.8 67.6,862.1" stroke="#555" stroke-width="0.7"/>
<polyline points="232.7,860.7 232.7,860.8 233.0,861.1 233.3,861.6 233.6,861.7 233.9,861.5 234.2,861.9 234.5,861.6 234.8,861.6 235.5,862.1 236.2,862.1 236.9,861.8 237.6,862.0 238.3,861.8 239.0,862.2 239.7,861.8 240.4,862.4 241.1,862.4 242.5,862.1 243.9,862.4 245.3,862.2 246.7,862.3 248.1,862.5 249.5,862.0 250.9,862.0" stroke="#000" stroke-width="1.0"/>
<polyline points="67.0,862.3 67.0,864.0" stroke="#a6a6a6" stroke-width="0.8"/>
<polyline points="232.7,860.2 232.7,860.7" stroke="#a6a6a6" stroke-width="0.8"/>
<polyline points="47.0,862.2 49.0,862.3 51.0,862.4 53.0,862.1 55.0,862.0 57.0,862.0 59.0,862.0 61.0,862.1 63.0,862.6 65.0,862.3 71.2,862.6 71.9,862.1 72.6,861.9 73.3,862.0 74.0,861.7 74.7,861.5 75.4,861.7 76.8,861.5 78.2,862.0 79.6,861.3 81.0,860.7 82.4,860.7 83.8,861.4 85.2,861.2 86.6,861.2 88.0,861.6 89.4,860.8 90.8,860.6 92.2,860.9 93.6,861.5 95.0,861.5 96.4,861.1 97.8,861.3 99.8,860.7 101.8,860.9 103.8,860.6 105.8,861.1 107.8,861.3 109.8,861.0 111.8,861.4 113.8,860.7 115.8,861.3 117.8,861.2 119.8,861.4 121.8,861.0 123.8,860.7 125.8,860.8 127.8,861.2 129.8,860.7 131.8,861.5 133.8,861.2 135.8,861.6 137.8,860.9 139.8,861.0 141.8,861.3 143.8,861.5 145.8,860.5 147.8,861.4 149.8,861.5 151.8,860.8 153.8,860.8 155.8,860.5 157.8,861.2 159.8,860.9 161.8,860.8 163.8,860.6 165.8,861.4 167.8,860.4 169.8,861.5 171.8,860.5 173.8,860.9 175.8,860.7 177.8,860.4 179.8,860.4 181.8,860.5 183.8,860.4 185.8,860.7 187.8,860.7 189.8,861.0 191.8,861.5 193.8,861.0 195.8,861.4 197.8,860.9 199.8,861.4 201.8,860.6 203.8,860.8 205.8,860.6 207.8,860.8 209.8,861.0 211.8,861.5 213.8,861.3 215.8,860.8 217.8,860.7 219.8,861.2 221.8,861.1 223.8,861.5 225.8,861.5 227.8,860.4 229.8,861.4 231.8,860.5 232.7,861.0" stroke="#000" stroke-width="1.0"/>
<polyline points="67.0,867.5 67.0,867.5 67.3,865.9 67.6,864.9 67.9,864.3 68.2,863.9 68.5,863.7 68.8,863.5 69.1,863.3 69.8,863.0 70.5,862.8 71.2,862.6" stroke="#555" stroke-width="0.7"/>
<polyline points="232.7,857.5 232.7,857.5 233.0,858.8 233.3,859.5 233.6,860.0 233.9,860.3 234.2,860.3 234.5,860.5 234.8,860.5 235.5,860.8 236.2,860.9 236.9,861.2 237.6,861.2 238.3,861.4 239.0,861.8 239.7,861.3 240.4,861.4 241.1,861.5 242.5,861.7 243.9,862.2 245.3,862.2 246.7,862.1 248.1,862.4 249.5,861.9 250.9,861.9" stroke="#000" stroke-width="1.0"/>
<polyline points="67.0,862.3 67.0,867.5" stroke="#a6a6a6" stroke-width="0.8"/>
<polyline points="232.7,861.0 232.7,857.5" stroke="#a6a6a6" stroke-width="0.8"/>
<polyline points="47.0,862.1 49.0,862.5 51.0,862.5 53.0,862.2 55.0,862.5 57.0,862.2 59.0,862.4 61.0,862.5 63.0,862.5 65.0,862.3 73.3,863.4 74.0,863.0 74.7,862.6 75.4,862.8 76.8,863.2 78.2,863.1 79.6,862.8 81.0,862.5 82.4,861.5 83.8,862.0 85.2,862.6 86.6,862.0 88.0,862.1 89.4,862.0 90.8,861.9 92.2,862.0 93.6,861.8 95.0,861.7 96.4,862.3 97.8,861.7 99.8,861.9 101.8,862.3 103.8,861.5 105.8,861.3 107.8,861.2 109.8,861.3 111.8,861.4 113.8,861.8 115.8,861.2 117.8,862.3 119.8,861.9 121.8,861.9 123.8,862.3 125.8,861.5 127.8,861.7 129.8,862.3 131.8,862.3 133.8,862.1 135.8,861.5 137.8,862.2 139.8,861.2 141.8,861.3 143.8,861.8 145.8,861.2 147.8,861.3 149.8,862.3 151.8,861.6 153.8,861.3 155.8,862.2 157.8,861.4 159.8,862.2 161.8,861.6 163.8,861.5 165.8,862.2 167.8,861.4 169.8,862.3 171.8,861.3 173.8,861.2 175.8,861.3 177.8,862.3 179.8,861.5 181.8,861.5 183.8,861.6 185.8,861.2 187.8,861.9 189.8,861.7 191.8,862.2 193.8,862.2 195.8,861.8 197.8,861.9 199.8,862.3 201.8,861.6 203.8,862.3 205.8,861.8 207.8,861.3 209.8,861.4 211.8,862.1 213.8,862.4 215.8,861.2 217.8,861.3 219.8,862.1 221.8,862.2 223.8,861.3 225.8,861.6 227.8,861.9 229.8,861.9 231.8,861.7 232.7,861.8" stroke="#000" stroke-width="1.0"/>
<polyline points="67.0,871.0 67.0,871.0 67.3,868.7 67.6,867.3 67.9,866.5 68.2,865.9 68.5,865.6 68.8,865.3 69.1,865.1 69.8,864.7 70.5,864.3 71.2,864.1 71.9,863.8 72.6,863.6 73.3,863.4" stroke="#555" stroke-width="0.7"/>
<polyline points="232.7,854.3 232.7,854.3 233.0,856.4 233.3,857.7 233.6,858.4 233.9,858.9 234.2,859.2 234.5,859.4 234.8,859.6 235.5,860.0 236.2,860.2 236.9,860.5 237.6,860.9 238.3,861.1 239.0,860.9 239.7,861.4 240.4,861.1 241.1,861.3 242.5,861.5 243.9,861.9 245.3,861.6 246.7,862.2 248.1,862.2 249.5,862.1 250.9,862.1" stroke="#000" stroke-width="1.0"/>
<polyline points="67.0,862.3 67.0,871.0" stroke="#a6a6a6" stroke-width="0.8"/>
<polyline points="232.7,861.8 232.7,854.3" stroke="#a6a6a6" stroke-width="0.8"/>
<polyline points="47.0,862.5 49.0,862.5 51.0,862.4 53.0,862.0 55.0,862.3 57.0,862.2 59.0,862.3 61.0,862.5 63.0,862.1 65.0,862.6 74.7,864.2 75.4,863.9 76.8,864.0 78.2,863.7 79.6,863.6 81.0,863.5 82.4,862.7 83.8,863.1 85.2,862.7 86.6,863.4 88.0,862.3 89.4,862.2 90.8,862.2 92.2,862.1 93.6,862.2 95.0,862.5 96.4,862.7 97.8,862.6 99.8,862.1 101.8,862.1 103.8,862.0 105.8,862.7 107.8,862.3 109.8,862.6 111.8,862.4 113.8,863.0 115.8,862.5 117.8,862.2 119.8,862.9 121.8,862.6 123.8,862.7 125.8,863.1 127.8,862.1 129.8,862.4 131.8,862.4 133.8,862.3 135.8,862.0 137.8,862.4 139.8,862.9 141.8,863.2 143.8,863.0 145.8,863.0 147.8,862.2 149.8,862.0 151.8,862.7 153.8,863.1 155.8,862.0 157.8,862.5 159.8,862.4 161.8,862.9 163.8,862.9 165.8,862.9 167.8,862.9 169.8,862.0 171.8,862.8 173.8,863.0 175.8,862.4 177.8,862.0 179.8,863.0 181.8,863.1 183.8,862.0 185.8,862.6 187.8,862.3 189.8,862.8 191.8,862.6 193.8,863.0 195.8,863.0 197.8,862.2 199.8,862.7 201.8,862.2 203.8,862.1 205.8,862.8 207.8,862.5 209.8,863.1 211.8,863.1 213.8,863.0 215.8,862.5 217.8,862.1 219.8,862.4 221.8,862.0 223.8,862.6 225.8,862.9 227.8,862.0 229.8,863.1 231.8,862.0 232.7,862.6" stroke="#000" stroke-width="1.0"/>
<polyline points="67.0,874.4 67.0,874.4 67.3,871.5 67.6,869.7 67.9,868.7 68.2,868.0 68.5,867.5 68.8,867.1 69.1,866.8 69.8,866.3 70.5,865.9 71.2,865.5 71.9,865.2 72.6,864.9 73.3,864.6 74.0,864.4 74.7,864.2" stroke="#555" stroke-width="0.7"/>
<polyline points="232.7,851.2 232.7,851.2 233.0,854.1 233.3,855.8 233.6,856.9 233.9,857.5 234.2,858.0 234.5,858.3 234.8,858.6 235.5,859.0 236.2,859.4 236.9,859.7 237.6,860.0 238.3,860.3 239.0,860.8 239.7,860.6 240.4,860.7 241.1,861.3 242.5,861.3 243.9,861.5 245.3,861.9 246.7,862.1 248.1,861.6 249.5,862.1 250.9,861.8" stroke="#000" stroke-width="1.0"/>
<polyline points="67.0,862.3 67.0,874.4" stroke="#a6a6a6" stroke-width="0.8"/>
<polyline points="232.7,862.6 232.7,851.2" stroke="#a6a6a6" stroke-width="0.8"/>
<polyline points="47.0,862.3 49.0,862.2 51.0,862.5 53.0,862.4 55.0,862.4 57.0,862.5 59.0,862.3 61.0,862.2 63.0,862.0 65.0,862.2 75.4,865.2 76.8,865.1 78.2,863.9 79.6,864.0 81.0,864.7 82.4,863.8 83.8,864.4 85.2,864.0 86.6,863.3 88.0,863.3 89.4,863.9 90.8,863.8 92.2,863.2 93.6,863.5 95.0,863.7 96.4,863.6 97.8,863.8 99.8,863.3 101.8,863.9 103.8,863.6 105.8,863.5 107.8,864.0 109.8,863.5 111.8,863.4 113.8,862.8 115.8,862.9 117.8,863.9 119.8,863.4 121.8,863.2 123.8,863.0 125.8,863.0 127.8,863.3 129.8,863.4 131.8,863.6 133.8,863.0 135.8,863.0 137.8,863.2 139.8,862.9 141.8,863.5 143.8,863.8 145.8,863.9 147.8,863.5 149.8,863.1 151.8,863.9 153.8,863.5 155.8,863.8 157.8,863.0 159.8,862.9 161.8,862.9 163.8,862.8 165.8,863.4 167.8,863.4 169.8,863.8 171.8,863.6 173.8,863.4 175.8,862.8 177.8,863.9 179.8,863.3 181.8,862.8 183.8,863.5 185.8,863.9 187.8,862.9 189.8,863.6 191.8,863.5 193.8,862.8 195.8,863.1 197.8,862.9 199.8,863.3 201.8,863.4 203.8,863.1 205.8,863.6 207.8,863.8 209.8,862.8 211.8,863.2 213.8,863.1 215.8,863.4 217.8,863.2 219.8,863.6 221.8,863.3 223.8,863.0 225.8,863.7 227.8,863.1 229.8,863.3 231.8,863.7 232.7,863.4" stroke="#000" stroke-width="1.0"/>
<polyline points="67.0,877.9 67.0,877.9 67.3,874.3 67.6,872.1 67.9,870.8 68.2,870.0 68.5,869.4 68.8,869.0 69.1,868.6 69.8,868.0 70.5,867.4 71.2,867.0 71.9,866.6 72.6,866.2 73.3,865.9 74.0,865.6 74.7,865.4 75.4,865.2" stroke="#555" stroke-width="0.7"/>
<polyline points="232.7,848.0 232.7,848.0 233.0,851.8 233.3,854.0 233.6,855.3 233.9,856.2 234.2,856.7 234.5,857.2 234.8,857.5 235.5,858.1 236.2,858.6 236.9,859.0 237.6,859.4 238.3,859.7 239.0,860.0 239.7,860.2 240.4,860.4 241.1,860.4 242.5,861.0 243.9,861.0 245.3,861.5 246.7,861.4 248.1,861.6 249.5,862.1 250.9,862.0" stroke="#000" stroke-width="1.0"/>
<polyline points="67.0,862.3 67.0,877.9" stroke="#a6a6a6" stroke-width="0.8"/>
<polyline points="232.7,863.4 232.7,848.0" stroke="#a6a6a6" stroke-width="0.8"/>
<polyline points="47.0,862.3 49.0,862.5 51.0,862.1 53.0,862.2 55.0,862.2 57.0,862.5 59.0,862.2 61.0,862.0 63.0,862.2 65.0,862.0 76.8,865.9 78.2,865.1 79.6,865.1 81.0,865.5 82.4,864.7 83.8,864.8 85.2,864.6 86.6,864.5 88.0,864.8 89.4,864.0 90.8,863.9 92.2,864.0 93.6,864.1 95.0,864.0 96.4,863.9 97.8,863.9 99.8,864.4 101.8,864.1 103.8,864.4 105.8,863.8 107.8,864.0 109.8,863.8 111.8,864.6 113.8,863.9 115.8,864.0 117.8,863.7 119.8,864.3 121.8,863.9 123.8,864.4 125.8,864.1 127.8,864.3 129.8,864.2 131.8,864.7 133.8,863.9 135.8,864.6 137.8,863.8 139.8,864.3 141.8,864.4 143.8,863.6 145.8,864.0 147.8,864.1 149.8,863.8 151.8,864.5 153.8,863.7 155.8,864.1 157.8,863.8 159.8,864.4 161.8,864.4 163.8,864.5 165.8,864.2 167.8,864.3 169.8,864.7 171.8,864.1 173.8,864.7 175.8,863.9 177.8,864.1 179.8,864.7 181.8,863.7 183.8,864.1 185.8,864.5 187.8,864.3 189.8,863.6 191.8,864.0 193.8,864.6 195.8,864.1 197.8,864.0 199.8,863.9 201.8,864.5 203.8,863.6 205.8,864.5 207.8,863.9 209.8,864.2 211.8,864.6 213.8,864.6 215.8,864.5 217.8,863.8 219.8,863.8 221.8,864.6 223.8,864.3 225.8,863.9 227.8,864.1 229.8,864.1 231.8,864.6 232.7,864.2" stroke="#000" stroke-width="1.0"/>
<polyline points="67.0,881.3 67.0,881.3 67.3,877.1 67.6,874.5 67.9,873.0 68.2,872.0 68.5,871.3 68.8,870.8 69.1,870.4 69.8,869.6 70.5,869.0 71.2,868.5 71.9,868.0 72.6,867.6 73.3,867.2 74.0,866.9 74.7,866.6 75.4,866.3 76.8,865.9" stroke="#555" stroke-width="0.7"/>
<polyline points="232.7,844.8 232.7,844.8 233.0,849.4 233.3,852.1 233.6,853.8 233.9,854.8 234.2,855.5 234.5,856.0 234.8,856.4 235.5,857.2 236.2,857.8 236.9,858.3 237.6,858.7 238.3,859.1 239.0,859.5 239.7,859.8 240.4,860.0 241.1,860.3 242.5,860.9 243.9,861.0 245.3,861.5 246.7,861.7 248.1,861.5 249.5,861.6 250.9,861.9" stroke="#000" stroke-width="1.0"/>
<polyline points="67.0,862.3 67.0,881.3" stroke="#a6a6a6" stroke-width="0.8"/>
<polyline points="232.7,864.2 232.7,844.8" stroke="#a6a6a6" stroke-width="0.8"/>
<polyline points="47.0,862.0 49.0,862.4 51.0,862.2 53.0,862.2 55.0,862.5 57.0,862.1 59.0,862.1 61.0,862.5 63.0,862.0 65.0,862.5 78.2,866.5 79.6,866.3 81.0,865.4 82.4,866.1 83.8,865.3 85.2,865.3 86.6,865.9 88.0,864.8 89.4,865.0 90.8,865.7 92.2,865.1 93.6,865.2 95.0,864.5 96.4,865.7 97.8,865.2 99.8,865.5 101.8,864.6 103.8,864.6 105.8,864.7 107.8,865.3 109.8,864.5 111.8,865.5 113.8,865.5 115.8,864.8 117.8,864.9 119.8,865.1 121.8,865.1 123.8,864.6 125.8,864.9 127.8,864.5 129.8,865.6 131.8,864.7 133.8,865.4 135.8,865.0 137.8,865.0 139.8,864.9 141.8,865.4 143.8,864.9 145.8,864.6 147.8,864.9 149.8,864.5 151.8,864.8 153.8,864.7 155.8,865.5 157.8,865.0 159.8,865.3 161.8,864.4 163.8,864.8 165.8,865.4 167.8,865.1 169.8,865.6 171.8,864.9 173.8,865.4 175.8,864.6 177.8,865.1 179.8,865.0 181.8,864.9 183.8,865.5 185.8,865.5 187.8,865.1 189.8,865.5 191.8,864.8 193.8,864.8 195.8,865.6 197.8,864.8 199.8,865.6 201.8,864.5 203.8,864.8 205.8,865.2 207.8,865.4 209.8,864.4 211.8,864.6 213.8,864.4 215.8,864.6 217.8,865.0 219.8,864.7 221.8,864.5 223.8,865.2 225.8,864.6 227.8,865.6 229.8,865.4 231.8,865.5 232.7,865.0" stroke="#000" stroke-width="1.0"/>
<polyline points="67.0,884.8 67.0,884.8 67.3,879.9 67.6,876.9 67.9,875.2 68.2,874.0 68.5,873.2 68.8,872.6 69.1,872.1 69.8,871.2 70.5,870.5 71.2,869.9 71.9,869.4 72.6,868.9 73.3,868.5 74.0,868.1 74.7,867.7 75.4,867.4 76.8,866.9 78.2,866.5" stroke="#555" stroke-width="0.7"/>
<polyline points="232.7,841.6 233.0,847.1 233.3,850.3 233.6,852.2 233.9,853.4 234.2,854.3 234.5,854.9 234.8,855.4 235.5,856.2 236.2,856.9 236.9,857.5 237.6,858.1 238.3,858.5 239.0,858.9 239.7,859.3 240.4,859.6 241.1,859.9 242.5,860.7 243.9,861.1 245.3,861.4 246.7,861.2 248.1,861.3 249.5,861.5 250.9,861.5" stroke="#000" stroke-width="1.0"/>
<polyline points="67.0,862.3 67.0,884.8" stroke="#a6a6a6" stroke-width="0.8"/>
<polyline points="232.7,865.0 232.7,841.6 232.7,841.6" stroke="#a6a6a6" stroke-width="0.8"/>
<rect x="276.5" y="857" width="147.39999999999998" height="8" fill="#000"/>
<polyline points="256.0,863.9 258.0,864.0 260.0,864.1 262.0,863.9 264.0,863.8 266.0,863.9 268.0,864.1 270.0,864.1 272.0,863.7 285.2,854.3 286.6,854.6 288.0,855.3 289.4,854.9 290.8,855.3 292.2,855.9 293.6,856.1 295.0,855.5 296.4,855.3 297.8,855.5 299.2,856.2 301.2,856.2 303.2,855.5 305.2,855.8 307.2,855.9 309.2,856.0 311.2,855.8 313.2,855.4 315.2,855.9 317.2,856.1 319.2,856.5 321.2,855.4 323.2,856.4 325.2,855.9 327.2,855.6 329.2,856.4 331.2,855.4 333.2,855.7 335.2,855.9 337.2,855.8 339.2,856.3 341.2,855.4 343.2,856.0 345.2,855.5 347.2,855.4 349.2,855.7 351.2,855.5 353.2,855.5 355.2,855.8 357.2,856.6 359.2,856.6 361.2,855.7 363.2,855.7 365.2,855.9 367.2,855.6 369.2,856.3 371.2,856.0 373.2,856.1 375.2,855.9 377.2,855.7 379.2,855.6 381.2,855.6 383.2,855.9 385.2,856.0 387.2,855.4 389.2,855.9 391.2,855.7 393.2,856.2 395.2,856.5 397.2,855.9 399.2,855.5 401.2,856.1 403.2,856.1 405.2,855.9 407.2,856.1 409.2,856.4 411.2,855.7 413.2,855.8 415.2,856.3 417.2,855.5 419.2,856.2 421.2,855.6 423.2,855.7 424.4,856.0" stroke="#000" stroke-width="1.0"/>
<polyline points="274.6,826.2 274.9,834.1 275.2,838.7 275.5,841.6 275.8,843.4 276.1,844.7 276.8,846.7 277.5,848.0 278.2,849.1 278.9,850.0 279.6,850.8 280.3,851.5 281.0,852.1 281.7,852.6 282.4,853.0 283.8,853.7 285.2,854.3" stroke="#555" stroke-width="0.7"/>
<polyline points="425.3,882.7 425.6,877.4 425.9,874.3 426.2,872.5 426.5,871.3 427.2,869.7 427.9,868.8 428.6,868.2 429.3,867.6 430.0,867.1 430.7,866.7 431.4,866.4 432.1,866.1 432.8,866.0 434.2,865.5 435.6,865.0 437.0,864.9 438.4,864.4 439.8,864.5 441.2,864.4 442.6,864.5" stroke="#000" stroke-width="1.0"/>
<polyline points="274.0,864.0 274.0,788.3 274.0,788.3 274.3,812.6 274.6,826.2" stroke="#a6a6a6" stroke-width="0.8"/>
<polyline points="424.4,856.0 424.4,938.0 424.4,938.0 424.7,908.4 425.0,891.9 425.3,882.7" stroke="#a6a6a6" stroke-width="0.8"/>
<polyline points="256.0,864.2 258.0,864.0 260.0,863.8 262.0,863.8 264.0,864.3 266.0,863.8 268.0,863.9 270.0,864.0 272.0,863.7 283.8,855.1 285.2,856.0 286.6,856.1 288.0,856.5 289.4,856.3 290.8,856.7 292.2,856.0 293.6,857.0 295.0,857.1 296.4,856.8 297.8,857.0 299.2,856.5 301.2,856.6 303.2,856.7 305.2,857.2 307.2,857.4 309.2,856.5 311.2,857.4 313.2,857.1 315.2,856.5 317.2,857.3 319.2,856.7 321.2,856.3 323.2,856.8 325.2,856.4 327.2,857.4 329.2,856.5 331.2,856.6 333.2,856.4 335.2,856.9 337.2,856.9 339.2,856.6 341.2,857.2 343.2,857.4 345.2,856.5 347.2,856.6 349.2,856.5 351.2,856.8 353.2,856.8 355.2,856.7 357.2,857.0 359.2,857.4 361.2,857.0 363.2,856.5 365.2,856.9 367.2,857.0 369.2,856.9 371.2,856.6 373.2,856.8 375.2,856.7 377.2,857.0 379.2,857.5 381.2,856.8 383.2,856.7 385.2,856.4 387.2,856.5 389.2,856.6 391.2,857.0 393.2,857.1 395.2,856.8 397.2,857.3 399.2,857.5 401.2,856.7 403.2,857.3 405.2,856.9 407.2,856.6 409.2,856.5 411.2,856.9 413.2,857.1 415.2,856.8 417.2,857.1 419.2,857.2 421.2,856.4 423.2,856.8 424.4,856.9" stroke="#000" stroke-width="1.0"/>
<polyline points="274.6,832.7 274.9,839.1 275.2,842.8 275.5,845.1 275.8,846.6 276.1,847.7 276.8,849.3 277.5,850.4 278.2,851.2 278.9,852.0 279.6,852.6 280.3,853.2 281.0,853.7 281.7,854.1 282.4,854.5 283.8,855.1" stroke="#555" stroke-width="0.7"/>
<polyline points="425.0,886.8 425.3,879.3 425.6,875.0 425.9,872.4 426.2,870.9 426.5,870.0 427.2,868.7 427.9,867.9 428.6,867.4 429.3,867.0 430.0,866.6 430.7,866.2 431.4,866.0 432.1,865.9 432.8,865.2 434.2,865.2 435.6,864.7 437.0,864.9 438.4,864.5 439.8,864.6 441.2,864.5 442.6,864.2" stroke="#000" stroke-width="1.0"/>
<polyline points="274.0,864.0 274.0,802.1 274.0,802.1 274.3,821.7 274.6,832.7" stroke="#a6a6a6" stroke-width="0.8"/>
<polyline points="424.4,856.9 424.4,924.5 424.4,924.5 424.7,900.3 425.0,886.8" stroke="#a6a6a6" stroke-width="0.8"/>
<polyline points="256.0,863.9 258.0,863.9 260.0,863.9 262.0,863.8 264.0,864.3 266.0,864.2 268.0,864.1 270.0,863.8 272.0,864.3 282.4,855.9 283.8,856.4 285.2,856.9 286.6,856.7 288.0,857.7 289.4,856.8 290.8,857.4 292.2,857.5 293.6,858.2 295.0,857.7 296.4,857.8 297.8,857.7 299.2,858.0 301.2,857.2 303.2,858.2 305.2,858.3 307.2,857.8 309.2,857.8 311.2,857.8 313.2,857.9 315.2,858.2 317.2,858.1 319.2,857.6 321.2,857.5 323.2,858.3 325.2,857.4 327.2,858.1 329.2,857.9 331.2,857.5 333.2,857.5 335.2,857.4 337.2,857.9 339.2,857.9 341.2,857.3 343.2,857.9 345.2,857.4 347.2,858.4 349.2,858.2 351.2,857.5 353.2,858.0 355.2,857.7 357.2,857.4 359.2,858.0 361.2,858.4 363.2,858.1 365.2,858.4 367.2,858.0 369.2,858.2 371.2,857.4 373.2,857.3 375.2,857.4 377.2,858.1 379.2,858.3 381.2,857.4 383.2,857.8 385.2,858.3 387.2,858.0 389.2,857.7 391.2,858.3 393.2,858.2 395.2,857.3 397.2,857.9 399.2,857.8 401.2,857.9 403.2,857.9 405.2,858.2 407.2,858.2 409.2,857.3 411.2,858.3 413.2,857.8 415.2,858.1 417.2,857.5 419.2,857.7 421.2,857.7 423.2,858.4 424.4,857.8" stroke="#000" stroke-width="1.0"/>
<polyline points="274.3,830.8 274.6,839.2 274.9,844.1 275.2,846.9 275.5,848.7 275.8,849.8 276.1,850.7 276.8,851.9 277.5,852.7 278.2,853.4 278.9,854.0 279.6,854.5 280.3,854.9 281.0,855.3 281.7,855.6 282.4,855.9" stroke="#555" stroke-width="0.7"/>
<polyline points="425.0,881.8 425.3,875.9 425.6,872.5 425.9,870.6 426.2,869.4 426.5,868.6 427.2,867.6 427.9,867.1 428.6,866.6 429.3,866.3 430.0,866.3 430.7,865.9 431.4,865.4 432.1,865.3 432.8,865.0 434.2,865.0 435.6,864.7 437.0,864.6 438.4,864.3 439.8,864.0 441.2,864.1 442.6,864.0" stroke="#000" stroke-width="1.0"/>
<polyline points="274.0,864.0 274.0,815.8 274.0,815.8 274.3,830.8" stroke="#a6a6a6" stroke-width="0.8"/>
<polyline points="424.4,857.8 424.4,911.1 424.4,911.1 424.7,892.2 425.0,881.8" stroke="#a6a6a6" stroke-width="0.8"/>
<polyline points="256.0,863.9 258.0,863.9 260.0,863.9 262.0,864.2 264.0,863.7 266.0,863.9 268.0,864.0 270.0,863.9 272.0,864.1 281.7,857.2 282.4,857.7 283.8,857.5 285.2,858.2 286.6,857.9 288.0,858.2 289.4,858.8 290.8,858.0 292.2,858.6 293.6,858.6 295.0,858.9 296.4,858.3 297.8,858.9 299.2,858.7 301.2,859.1 303.2,859.2 305.2,859.1 307.2,858.8 309.2,858.5 311.2,859.1 313.2,858.6 315.2,858.5 317.2,858.5 319.2,859.2 321.2,858.3 323.2,859.2 325.2,858.9 327.2,859.0 329.2,858.9 331.2,859.1 333.2,858.2 335.2,858.7 337.2,859.0 339.2,858.5 341.2,859.2 343.2,858.3 345.2,858.6 347.2,858.3 349.2,858.9 351.2,859.1 353.2,858.3 355.2,859.2 357.2,858.7 359.2,859.2 361.2,858.8 363.2,859.0 365.2,858.5 367.2,858.6 369.2,858.6 371.2,859.2 373.2,858.4 375.2,859.0 377.2,859.0 379.2,859.2 381.2,859.1 383.2,858.8 385.2,858.2 387.2,859.3 389.2,859.2 391.2,858.9 393.2,858.5 395.2,858.2 397.2,858.8 399.2,859.2 401.2,858.4 403.2,858.3 405.2,858.5 407.2,859.2 409.2,859.1 411.2,859.3 413.2,858.9 415.2,858.8 417.2,858.8 419.2,858.8 421.2,858.7 423.2,859.2 424.4,858.7" stroke="#000" stroke-width="1.0"/>
<polyline points="274.3,839.9 274.6,845.7 274.9,849.0 275.2,851.0 275.5,852.3 275.8,853.1 276.1,853.6 276.8,854.5 277.5,855.1 278.2,855.6 278.9,856.0 279.6,856.4 280.3,856.7 281.0,856.9 281.7,857.2" stroke="#555" stroke-width="0.7"/>
<polyline points="424.7,884.2 425.0,876.7 425.3,872.5 425.6,870.1 425.9,868.7 426.2,867.8 426.5,867.3 427.2,866.6 427.9,866.2 428.6,865.7 429.3,865.8 430.0,865.4 430.7,865.4 431.4,865.3 432.1,864.8 432.8,864.5 434.2,864.8 435.6,864.2 437.0,864.4 438.4,864.1 439.8,864.1 441.2,864.2 442.6,864.3" stroke="#000" stroke-width="1.0"/>
<polyline points="274.0,864.0 274.0,829.6 274.0,829.6 274.3,839.9" stroke="#a6a6a6" stroke-width="0.8"/>
<polyline points="424.4,858.7 424.4,897.6 424.4,897.6 424.7,884.2" stroke="#a6a6a6" stroke-width="0.8"/>
<polyline points="256.0,864.2 258.0,863.9 260.0,864.2 262.0,864.1 264.0,864.2 266.0,864.1 268.0,863.7 270.0,864.2 272.0,864.0 278.9,858.0 279.6,858.3 280.3,858.7 281.0,859.1 281.7,858.6 282.4,858.8 283.8,859.1 285.2,859.0 286.6,858.8 288.0,859.8 289.4,859.1 290.8,859.0 292.2,859.0 293.6,859.8 295.0,859.5 296.4,859.8 297.8,859.7 299.2,859.8 301.2,860.0 303.2,859.0 305.2,859.4 307.2,859.3 309.2,859.5 311.2,859.1 313.2,860.1 315.2,859.4 317.2,859.8 319.2,859.1 321.2,859.8 323.2,859.8 325.2,859.1 327.2,859.1 329.2,859.6 331.2,859.9 333.2,859.2 335.2,859.6 337.2,859.1 339.2,859.7 341.2,860.2 343.2,859.2 345.2,859.7 347.2,859.6 349.2,859.1 351.2,859.2 353.2,859.8 355.2,859.5 357.2,859.7 359.2,859.3 361.2,859.4 363.2,859.2 365.2,859.9 367.2,860.1 369.2,860.1 371.2,859.4 373.2,859.2 375.2,860.2 377.2,860.2 379.2,859.5 381.2,859.9 383.2,859.8 385.2,860.2 387.2,859.9 389.2,859.1 391.2,859.6 393.2,859.1 395.2,860.0 397.2,859.9 399.2,859.2 401.2,859.6 403.2,860.0 405.2,859.5 407.2,859.7 409.2,859.1 411.2,859.7 413.2,859.1 415.2,860.2 417.2,860.1 419.2,859.6 421.2,860.2 423.2,859.3 424.4,859.6" stroke="#000" stroke-width="1.0"/>
<polyline points="274.0,843.4 274.3,849.0 274.6,852.2 274.9,854.0 275.2,855.1 275.5,855.8 275.8,856.3 276.1,856.6 276.8,857.1 277.5,857.5 278.2,857.7 278.9,858.0" stroke="#555" stroke-width="0.7"/>
<polyline points="424.4,884.2 424.7,876.1 425.0,871.6 425.3,869.1 425.6,867.7 425.9,866.8 426.2,866.3 426.5,866.3 427.2,865.7 427.9,865.3 428.6,865.4 429.3,865.2 430.0,865.0 430.7,864.6 431.4,864.4 432.1,864.8 432.8,864.5 434.2,864.4 435.6,864.2 437.0,864.3 438.4,864.0 439.8,864.3 441.2,864.2 442.6,864.3" stroke="#000" stroke-width="1.0"/>
<polyline points="274.0,864.0 274.0,843.4 274.0,843.4" stroke="#a6a6a6" stroke-width="0.8"/>
<polyline points="424.4,859.6 424.4,884.2 424.4,884.2" stroke="#a6a6a6" stroke-width="0.8"/>
<polyline points="256.0,864.0 258.0,864.1 260.0,863.9 262.0,863.7 264.0,863.9 266.0,863.9 268.0,863.8 270.0,864.0 272.0,864.0 274.9,859.0 275.2,858.7 275.5,858.8 275.8,859.4 276.1,859.7 276.8,859.2 277.5,859.5 278.2,859.7 278.9,860.0 279.6,859.6 280.3,860.6 281.0,859.9 281.7,860.6 282.4,860.5 283.8,860.7 285.2,860.5 286.6,860.4 288.0,860.5 289.4,860.1 290.8,860.9 292.2,860.0 293.6,860.6 295.0,860.5 296.4,860.9 297.8,860.5 299.2,860.6 301.2,860.8 303.2,860.3 305.2,861.1 307.2,860.9 309.2,860.2 311.2,860.7 313.2,860.2 315.2,860.2 317.2,861.1 319.2,861.0 321.2,860.2 323.2,860.2 325.2,861.1 327.2,860.7 329.2,860.5 331.2,860.7 333.2,860.2 335.2,860.6 337.2,861.1 339.2,860.3 341.2,860.3 343.2,860.7 345.2,860.8 347.2,860.8 349.2,860.7 351.2,860.5 353.2,861.0 355.2,861.0 357.2,860.1 359.2,860.1 361.2,860.2 363.2,861.1 365.2,860.3 367.2,861.0 369.2,860.2 371.2,860.2 373.2,860.3 375.2,860.0 377.2,860.9 379.2,860.7 381.2,860.2 383.2,860.4 385.2,860.7 387.2,861.0 389.2,860.7 391.2,860.6 393.2,860.1 395.2,860.7 397.2,861.0 399.2,861.0 401.2,860.3 403.2,860.1 405.2,860.2 407.2,861.1 409.2,860.8 411.2,861.1 413.2,860.7 415.2,860.2 417.2,860.6 419.2,860.8 421.2,860.6 423.2,861.1 424.4,860.5" stroke="#000" stroke-width="1.0"/>
<polyline points="274.0,857.1 274.0,857.1 274.3,858.1 274.6,858.7 274.9,859.0" stroke="#555" stroke-width="0.7"/>
<polyline points="424.4,870.7 424.4,870.7 424.7,868.0 425.0,866.5 425.3,865.5 425.6,865.2 425.9,865.2 426.2,864.7 426.5,864.6 427.2,864.7 427.9,864.3 428.6,864.5 429.3,864.4 430.0,864.5 430.7,864.3 431.4,864.1 432.1,864.5 432.8,864.2 434.2,863.8 435.6,864.0 437.0,864.3 438.4,863.8 439.8,863.8 441.2,864.1 442.6,864.1" stroke="#000" stroke-width="1.0"/>
<polyline points="274.0,864.0 274.0,857.1" stroke="#a6a6a6" stroke-width="0.8"/>
<polyline points="424.4,860.5 424.4,870.7" stroke="#a6a6a6" stroke-width="0.8"/>
<polyline points="256.0,864.1 258.0,863.8 260.0,864.1 262.0,864.3 264.0,863.9 266.0,864.3 268.0,863.8 270.0,863.9 272.0,863.9 275.2,863.3 275.5,863.2 275.8,862.8 276.1,862.1 276.8,862.8 277.5,861.6 278.2,862.5 278.9,862.0 279.6,862.2 280.3,861.9 281.0,862.3 281.7,862.3 282.4,861.3 283.8,862.0 285.2,861.7 286.6,861.0 288.0,861.3 289.4,861.1 290.8,861.0 292.2,861.2 293.6,861.0 295.0,861.2 296.4,861.4 297.8,861.4 299.2,861.7 301.2,861.5 303.2,862.0 305.2,861.0 307.2,861.4 309.2,862.0 311.2,861.2 313.2,861.0 315.2,861.5 317.2,861.6 319.2,861.5 321.2,861.1 323.2,861.9 325.2,861.6 327.2,861.6 329.2,861.0 331.2,861.8 333.2,861.7 335.2,861.9 337.2,861.2 339.2,861.0 341.2,861.8 343.2,861.7 345.2,861.1 347.2,861.6 349.2,861.2 351.2,861.1 353.2,861.9 355.2,861.6 357.2,861.7 359.2,861.1 361.2,860.9 363.2,861.8 365.2,861.6 367.2,862.0 369.2,861.2 371.2,862.0 373.2,861.1 375.2,861.3 377.2,861.8 379.2,861.7 381.2,861.1 383.2,861.5 385.2,861.6 387.2,861.0 389.2,861.8 391.2,861.9 393.2,861.2 395.2,861.1 397.2,860.9 399.2,861.6 401.2,861.1 403.2,861.8 405.2,861.3 407.2,861.7 409.2,861.4 411.2,861.6 413.2,861.2 415.2,861.0 417.2,861.1 419.2,861.4 421.2,861.1 423.2,861.9 424.4,861.5" stroke="#000" stroke-width="1.0"/>
<polyline points="274.0,870.2 274.0,870.2 274.3,866.8 274.6,864.9 274.9,863.9 275.2,863.3" stroke="#555" stroke-width="0.7"/>
<polyline points="424.4,857.9 424.4,857.9 424.7,860.3 425.0,861.6 425.3,862.7 425.6,863.0 425.9,863.2 426.2,863.0 426.5,863.4 427.2,863.2 427.9,863.4 428.6,863.6 429.3,863.9 430.0,863.8 430.7,863.5 431.4,863.8 432.1,863.9 432.8,863.9 434.2,864.1 435.6,864.2 437.0,864.2 438.4,863.7 439.8,864.2 441.2,864.2 442.6,864.2" stroke="#000" stroke-width="1.0"/>
<polyline points="274.0,864.0 274.0,870.2" stroke="#a6a6a6" stroke-width="0.8"/>
<polyline points="424.4,861.5 424.4,857.9" stroke="#a6a6a6" stroke-width="0.8"/>
<polyline points="256.0,863.7 258.0,864.1 260.0,863.9 262.0,864.2 264.0,863.8 266.0,864.0 268.0,864.0 270.0,864.0 272.0,864.3 278.9,864.0 279.6,863.4 280.3,863.6 281.0,863.9 281.7,863.6 282.4,862.6 283.8,863.4 285.2,862.4 286.6,863.1 288.0,863.1 289.4,862.4 290.8,862.3 292.2,862.1 293.6,862.8 295.0,862.9 296.4,862.7 297.8,862.9 299.2,862.2 301.2,861.9 303.2,862.7 305.2,862.4 307.2,862.2 309.2,862.7 311.2,862.4 313.2,862.4 315.2,862.6 317.2,862.0 319.2,862.6 321.2,861.8 323.2,861.9 325.2,862.1 327.2,862.5 329.2,862.3 331.2,862.6 333.2,861.9 335.2,862.7 337.2,862.5 339.2,862.4 341.2,862.2 343.2,862.1 345.2,862.9 347.2,861.9 349.2,863.0 351.2,862.2 353.2,862.1 355.2,862.7 357.2,862.2 359.2,861.9 361.2,862.2 363.2,862.1 365.2,862.2 367.2,862.2 369.2,862.4 371.2,861.8 373.2,861.8 375.2,862.9 377.2,862.9 379.2,862.3 381.2,862.1 383.2,862.1 385.2,861.9 387.2,862.2 389.2,862.8 391.2,862.9 393.2,862.1 395.2,862.3 397.2,862.0 399.2,862.5 401.2,862.3 403.2,862.3 405.2,862.6 407.2,862.7 409.2,861.8 411.2,862.8 413.2,862.9 415.2,862.7 417.2,862.6 419.2,862.0 421.2,862.9 423.2,862.5 424.4,862.4" stroke="#000" stroke-width="1.0"/>
<polyline points="274.0,882.7 274.3,875.2 274.6,871.0 274.9,868.6 275.2,867.2 275.5,866.4 275.8,865.8 276.1,865.5 276.8,864.9 277.5,864.5 278.2,864.3 278.9,864.0" stroke="#555" stroke-width="0.7"/>
<polyline points="424.4,845.6 424.7,852.9 425.0,856.9 425.3,859.2 425.6,860.5 425.9,861.3 426.2,861.7 426.5,862.1 427.2,862.3 427.9,862.8 428.6,862.7 429.3,863.3 430.0,863.4 430.7,863.4 431.4,863.5 432.1,863.7 432.8,863.6 434.2,863.4 435.6,863.9 437.0,863.6 438.4,864.0 439.8,863.8 441.2,864.2 442.6,864.1" stroke="#000" stroke-width="1.0"/>
<polyline points="274.0,864.0 274.0,882.7 274.0,882.7" stroke="#a6a6a6" stroke-width="0.8"/>
<polyline points="424.4,862.4 424.4,845.6 424.4,845.6" stroke="#a6a6a6" stroke-width="0.8"/>
<polyline points="256.0,864.2 258.0,864.2 260.0,863.8 262.0,864.2 264.0,864.2 266.0,864.2 268.0,864.2 270.0,864.2 272.0,864.2 281.7,864.8 282.4,864.6 283.8,864.8 285.2,863.9 286.6,864.2 288.0,864.0 289.4,863.2 290.8,863.1 292.2,863.9 293.6,863.6 295.0,863.1 296.4,863.7 297.8,863.3 299.2,863.5 301.2,863.3 303.2,863.8 305.2,863.7 307.2,862.8 309.2,863.6 311.2,863.3 313.2,862.7 315.2,863.1 317.2,863.7 319.2,863.2 321.2,862.9 323.2,863.3 325.2,862.8 327.2,862.8 329.2,863.0 331.2,862.7 333.2,863.2 335.2,863.6 337.2,863.6 339.2,863.5 341.2,863.7 343.2,863.9 345.2,863.1 347.2,863.4 349.2,863.5 351.2,862.9 353.2,863.5 355.2,863.2 357.2,862.9 359.2,863.1 361.2,863.8 363.2,863.2 365.2,863.4 367.2,863.5 369.2,863.0 371.2,862.9 373.2,863.8 375.2,862.7 377.2,863.1 379.2,863.8 381.2,863.3 383.2,863.5 385.2,863.3 387.2,863.4 389.2,862.8 391.2,863.6 393.2,863.0 395.2,863.5 397.2,863.8 399.2,862.8 401.2,863.6 403.2,862.7 405.2,862.8 407.2,863.4 409.2,863.6 411.2,863.4 413.2,862.9 415.2,863.7 417.2,863.0 419.2,863.2 421.2,863.8 423.2,863.2 424.4,863.3" stroke="#000" stroke-width="1.0"/>
<polyline points="274.3,883.6 274.6,877.1 274.9,873.4 275.2,871.2 275.5,869.9 275.8,869.0 276.1,868.4 276.8,867.5 277.5,866.9 278.2,866.4 278.9,866.0 279.6,865.6 280.3,865.3 281.0,865.1 281.7,864.8" stroke="#555" stroke-width="0.7"/>
<polyline points="424.7,845.5 425.0,852.2 425.3,856.0 425.6,858.2 425.9,859.5 426.2,860.2 426.5,860.7 427.2,861.4 427.9,861.8 428.6,862.0 429.3,862.2 430.0,862.4 430.7,863.0 431.4,862.8 432.1,862.8 432.8,862.9 434.2,863.5 435.6,863.6 437.0,863.7 438.4,863.6 439.8,863.9 441.2,864.1 442.6,864.2" stroke="#000" stroke-width="1.0"/>
<polyline points="274.0,864.0 274.0,895.1 274.0,895.1 274.3,883.6" stroke="#a6a6a6" stroke-width="0.8"/>
<polyline points="424.4,863.3 424.4,833.4 424.4,833.4 424.7,845.5" stroke="#a6a6a6" stroke-width="0.8"/>
<polyline points="256.0,863.9 258.0,864.1 260.0,863.9 262.0,864.0 264.0,863.9 266.0,863.8 268.0,864.2 270.0,863.8 272.0,863.7 282.4,866.1 283.8,865.3 285.2,865.0 286.6,864.5 288.0,864.9 289.4,864.4 290.8,864.4 292.2,864.5 293.6,864.9 295.0,863.9 296.4,864.1 297.8,864.1 299.2,864.3 301.2,864.3 303.2,863.7 305.2,864.5 307.2,863.7 309.2,864.7 311.2,864.1 313.2,864.0 315.2,864.1 317.2,864.2 319.2,864.2 321.2,864.2 323.2,863.9 325.2,864.2 327.2,864.5 329.2,864.2 331.2,864.5 333.2,864.5 335.2,864.1 337.2,864.3 339.2,864.5 341.2,864.0 343.2,864.5 345.2,864.6 347.2,864.1 349.2,863.6 351.2,863.9 353.2,864.4 355.2,864.6 357.2,864.4 359.2,864.4 361.2,864.3 363.2,864.1 365.2,864.5 367.2,864.6 369.2,864.7 371.2,864.6 373.2,864.3 375.2,864.3 377.2,864.0 379.2,864.4 381.2,864.4 383.2,864.7 385.2,864.1 387.2,864.0 389.2,864.2 391.2,864.2 393.2,863.7 395.2,864.4 397.2,864.1 399.2,864.3 401.2,864.5 403.2,863.7 405.2,864.7 407.2,864.7 409.2,864.7 411.2,863.9 413.2,864.4 415.2,864.5 417.2,863.7 419.2,863.7 421.2,864.7 423.2,864.6 424.4,864.2" stroke="#000" stroke-width="1.0"/>
<polyline points="274.3,892.0 274.6,883.2 274.9,878.2 275.2,875.2 275.5,873.4 275.8,872.2 276.1,871.4 276.8,870.1 277.5,869.3 278.2,868.6 278.9,868.0 279.6,867.5 280.3,867.1 281.0,866.7 281.7,866.4 282.4,866.1" stroke="#555" stroke-width="0.7"/>
<polyline points="425.0,847.5 425.3,852.8 425.6,855.9 425.9,857.6 426.2,858.7 426.5,859.4 427.2,860.4 427.9,860.9 428.6,861.4 429.3,861.7 430.0,862.3 430.7,862.3 431.4,862.5 432.1,862.7 432.8,863.1 434.2,863.0 435.6,863.1 437.0,863.7 438.4,863.3 439.8,863.8 441.2,863.7 442.6,864.0" stroke="#000" stroke-width="1.0"/>
<polyline points="274.0,864.0 274.0,907.5 274.0,907.5 274.3,892.0" stroke="#a6a6a6" stroke-width="0.8"/>
<polyline points="424.4,864.2 424.4,821.1 424.4,821.1 424.7,838.1 425.0,847.5" stroke="#a6a6a6" stroke-width="0.8"/>
<polyline points="256.0,864.2 258.0,863.8 260.0,864.0 262.0,864.0 264.0,863.7 266.0,864.2 268.0,864.0 270.0,863.9 272.0,863.9 283.8,866.9 285.2,866.1 286.6,866.6 288.0,866.4 289.4,866.1 290.8,865.1 292.2,865.9 293.6,864.9 295.0,865.1 296.4,865.6 297.8,865.4 299.2,864.7 301.2,864.7 303.2,865.2 305.2,865.6 307.2,865.2 309.2,864.9 311.2,864.8 313.2,865.3 315.2,865.2 317.2,865.2 319.2,865.1 321.2,865.2 323.2,865.4 325.2,864.9 327.2,865.0 329.2,865.1 331.2,865.0 333.2,865.3 335.2,865.0 337.2,865.1 339.2,865.1 341.2,865.7 343.2,864.7 345.2,865.0 347.2,865.4 349.2,865.4 351.2,864.5 353.2,865.1 355.2,865.3 357.2,864.5 359.2,865.5 361.2,864.8 363.2,865.5 365.2,865.6 367.2,865.1 369.2,865.2 371.2,865.2 373.2,865.3 375.2,864.8 377.2,865.5 379.2,865.0 381.2,865.5 383.2,865.4 385.2,865.0 387.2,865.5 389.2,865.1 391.2,865.0 393.2,864.5 395.2,864.7 397.2,864.6 399.2,865.2 401.2,865.4 403.2,864.5 405.2,865.7 407.2,865.2 409.2,864.6 411.2,865.1 413.2,865.0 415.2,864.8 417.2,865.6 419.2,865.7 421.2,865.5 423.2,865.6 424.4,865.1" stroke="#000" stroke-width="1.0"/>
<polyline points="274.6,889.3 274.9,882.9 275.2,879.2 275.5,876.9 275.8,875.4 276.1,874.3 276.8,872.7 277.5,871.6 278.2,870.8 278.9,870.0 279.6,869.4 280.3,868.8 281.0,868.3 281.7,867.9 282.4,867.5 283.8,866.9" stroke="#555" stroke-width="0.7"/>
<polyline points="425.0,842.8 425.3,849.6 425.6,853.5 425.9,855.8 426.2,857.2 426.5,858.1 427.2,859.3 427.9,860.1 428.6,860.6 429.3,861.0 430.0,861.4 430.7,861.8 431.4,862.2 432.1,862.1 432.8,862.3 434.2,862.7 435.6,863.2 437.0,863.6 438.4,863.7 439.8,863.5 441.2,863.7 442.6,863.5" stroke="#000" stroke-width="1.0"/>
<polyline points="274.0,864.0 274.0,920.0 274.0,920.0 274.3,900.3 274.6,889.3" stroke="#a6a6a6" stroke-width="0.8"/>
<polyline points="424.4,865.1 424.4,808.9 424.4,808.9 424.7,830.6 425.0,842.8" stroke="#a6a6a6" stroke-width="0.8"/>
<polyline points="256.0,863.9 258.0,864.1 260.0,863.8 262.0,863.8 264.0,863.9 266.0,864.1 268.0,863.7 270.0,864.0 272.0,863.9 285.2,867.7 286.6,866.8 288.0,866.5 289.4,866.9 290.8,866.4 292.2,866.3 293.6,866.6 295.0,865.9 296.4,866.0 297.8,865.9 299.2,866.7 301.2,866.5 303.2,866.0 305.2,865.6 307.2,866.3 309.2,866.2 311.2,866.5 313.2,866.3 315.2,866.0 317.2,865.5 319.2,865.8 321.2,865.7 323.2,866.2 325.2,866.3 327.2,866.5 329.2,865.4 331.2,865.9 333.2,866.1 335.2,866.3 337.2,866.3 339.2,865.6 341.2,865.6 343.2,866.4 345.2,865.9 347.2,866.1 349.2,865.4 351.2,866.4 353.2,865.8 355.2,866.2 357.2,865.5 359.2,866.3 361.2,865.7 363.2,865.6 365.2,865.9 367.2,866.6 369.2,866.1 371.2,865.4 373.2,865.5 375.2,866.4 377.2,866.0 379.2,865.9 381.2,866.5 383.2,866.5 385.2,866.6 387.2,865.5 389.2,865.8 391.2,866.5 393.2,866.3 395.2,865.7 397.2,866.4 399.2,866.5 401.2,866.5 403.2,866.3 405.2,865.5 407.2,865.5 409.2,866.5 411.2,865.9 413.2,865.8 415.2,866.3 417.2,866.1 419.2,865.8 421.2,865.9 423.2,865.9 424.4,866.0" stroke="#000" stroke-width="1.0"/>
<polyline points="274.6,895.4 274.9,887.7 275.2,883.2 275.5,880.4 275.8,878.5 276.1,877.3 276.8,875.3 277.5,874.0 278.2,872.9 278.9,872.0 279.6,871.2 280.3,870.5 281.0,869.9 281.7,869.4 282.4,869.0 283.8,868.3 285.2,867.7" stroke="#555" stroke-width="0.7"/>
<polyline points="425.0,838.1 425.3,846.4 425.6,851.2 425.9,854.0 426.2,855.7 426.5,856.8 427.2,858.3 427.9,859.2 428.6,859.8 429.3,860.4 430.0,860.9 430.7,861.3 431.4,861.6 432.1,861.9 432.8,862.5 434.2,862.4 435.6,863.0 437.0,863.2 438.4,863.6 439.8,863.7 441.2,863.8 442.6,863.7" stroke="#000" stroke-width="1.0"/>
<polyline points="274.0,864.0 274.0,932.4 274.0,932.4 274.3,908.7 274.6,895.4" stroke="#a6a6a6" stroke-width="0.8"/>
<polyline points="424.4,866.0 424.4,796.6 424.4,796.6 424.7,823.2 425.0,838.1" stroke="#a6a6a6" stroke-width="0.8"/>
<polyline points="448.0,865.9 449.2,865.8 450.4,866.3 451.6,865.7 452.8,866.2 454.0,865.7 455.2,865.8 456.4,865.8 457.6,866.3 458.8,866.1 460.0,866.0 461.2,866.3 462.4,865.7 463.6,866.2 465.4,661.6 465.7,666.6 466.0,669.8 466.3,672.2 467.0,675.8 467.7,678.3 468.4,680.2 469.1,681.7 469.8,683.0 470.5,684.1 471.2,685.1 471.9,685.7 472.6,686.6 474.0,688.9 475.4,689.0 476.8,690.8 478.2,690.9 479.6,692.2 480.8,692.4 482.0,692.6 483.2,692.6 484.4,693.6 485.6,694.2 486.8,694.2 488.0,695.4 489.2,695.5 490.4,696.5 491.6,696.5 492.8,697.5 494.0,696.9 495.2,698.2 496.4,698.7 497.6,698.8 498.8,699.4 500.0,700.2 501.2,700.6 502.4,701.1 503.6,701.4 504.8,702.3 506.0,702.9 507.2,703.1 508.4,702.4 509.6,702.6 510.8,704.0 512.0,703.5 513.2,704.4 514.4,704.0 515.6,704.5 516.8,705.1 518.0,705.4 519.2,705.4 520.4,706.2 521.6,706.8 522.8,707.3 524.0,707.3 525.2,706.7 526.4,707.1 527.6,707.6 528.8,708.4 530.0,707.9 531.2,709.4 532.4,708.5 533.6,709.5 534.8,708.3 536.0,708.8 537.2,709.8 538.4,709.3 539.6,709.4 540.8,710.9 542.0,710.7 543.2,711.4 544.4,712.3 545.6,712.2 546.8,711.7 548.0,712.7 549.2,712.0 550.4,713.4 551.6,713.4 552.8,713.5 554.0,713.1 555.2,714.3 556.4,714.5 557.6,714.5 558.8,713.4 560.0,713.8 561.2,714.1 562.4,713.0 563.6,713.5 564.8,712.9 566.0,713.8 567.2,713.3 568.4,713.9 569.6,713.8 570.8,714.7 572.0,715.0 573.2,714.1 574.4,714.3 575.6,715.0 576.8,716.1 578.0,715.3 579.2,716.3 580.4,716.8 581.6,716.3 582.8,717.0 584.0,715.7 585.2,716.5 586.4,716.8 587.6,716.7 588.8,716.5 590.0,715.8 591.2,716.1 592.4,716.3 593.6,716.4 594.8,716.5 596.0,717.2 597.2,716.5 598.4,716.5 599.6,716.8 600.8,717.0 602.0,717.2 603.2,718.2 604.4,717.9 605.6,717.7 606.8,718.4 608.0,719.0 609.2,718.3 610.4,718.5 611.6,718.8 612.8,718.2 614.0,718.9 614.2,718.2" stroke="#2a2a2a" stroke-width="1.05"/>
<polyline points="615.7,880.5 616.0,876.8 616.3,874.5 617.0,871.7 617.7,870.2 618.4,869.3 619.1,868.6 619.8,868.0 620.5,867.4 621.2,867.3 621.9,867.1 622.6,867.1 624.0,866.7 625.4,866.3 626.8,866.4 628.2,866.2 629.6,865.9 630.8,865.7" stroke="#2a2a2a" stroke-width="1.05"/>
<polyline points="464.2,866.0 464.2,579.6 464.2,579.6 464.5,618.6 464.8,640.9 465.1,653.8 465.4,661.6" stroke="#a6a6a6" stroke-width="0.8"/>
<polyline points="614.2,718.2 614.2,1010.0 614.2,1010.0 614.5,949.7 614.8,916.2 615.1,897.4 615.4,886.7 615.7,880.5" stroke="#a6a6a6" stroke-width="0.8"/>
<polyline points="448.0,866.3 449.2,865.9 450.4,866.0 451.6,865.8 452.8,866.3 454.0,866.3 455.2,865.7 456.4,866.0 457.6,865.7 458.8,865.9 460.0,865.9 461.2,866.3 462.4,866.3 463.6,865.8 465.4,713.7 465.7,718.4 466.0,721.4 466.3,723.5 467.0,726.5 467.7,728.4 468.4,729.8 469.1,731.0 469.8,731.9 470.5,732.7 471.2,732.8 471.9,733.5 472.6,734.4 474.0,735.5 475.4,735.9 476.8,736.6 478.2,736.5 479.6,736.8 480.8,737.9 482.0,737.8 483.2,738.6 484.4,738.1 485.6,738.7 486.8,738.7 488.0,739.2 489.2,739.0 490.4,739.5 491.6,739.5 492.8,739.7 494.0,739.8 495.2,740.3 496.4,740.6 497.6,741.2 498.8,740.4 500.0,740.8 501.2,741.4 502.4,742.6 503.6,742.5 504.8,743.2 506.0,742.8 507.2,743.9 508.4,743.9 509.6,743.3 510.8,743.7 512.0,744.4 513.2,744.2 514.4,743.4 515.6,744.2 516.8,744.8 518.0,745.3 519.2,745.7 520.4,746.0 521.6,745.8 522.8,745.9 524.0,745.3 525.2,745.6 526.4,745.9 527.6,746.1 528.8,746.4 530.0,747.3 531.2,746.2 532.4,747.0 533.6,747.1 534.8,747.1 536.0,747.0 537.2,746.3 538.4,746.8 539.6,747.6 540.8,747.6 542.0,747.0 543.2,748.1 544.4,748.2 545.6,747.5 546.8,748.4 548.0,748.5 549.2,748.2 550.4,747.6 551.6,747.5 552.8,748.1 554.0,748.9 555.2,748.3 556.4,748.2 557.6,748.5 558.8,749.3 560.0,749.5 561.2,749.8 562.4,749.1 563.6,749.1 564.8,749.3 566.0,749.8 567.2,749.2 568.4,750.5 569.6,750.0 570.8,749.8 572.0,749.4 573.2,750.3 574.4,749.6 575.6,750.8 576.8,750.3 578.0,751.1 579.2,750.6 580.4,751.0 581.6,750.7 582.8,751.2 584.0,751.4 585.2,751.8 586.4,751.3 587.6,752.0 588.8,751.4 590.0,752.1 591.2,751.8 592.4,751.9 593.6,751.4 594.8,751.1 596.0,751.7 597.2,752.1 598.4,752.2 599.6,752.2 600.8,751.4 602.0,751.4 603.2,751.6 604.4,751.4 605.6,751.4 606.8,752.4 608.0,752.0 609.2,751.3 610.4,752.1 611.6,751.9 612.8,752.2 614.0,752.6 614.2,752.4" stroke="#2a2a2a" stroke-width="1.05"/>
<polyline points="615.4,882.9 615.7,877.9 616.0,874.9 616.3,873.0 617.0,870.6 617.7,869.5 618.4,868.7 619.1,868.1 619.8,867.4 620.5,867.5 621.2,867.0 621.9,866.5 622.6,866.6 624.0,866.6 625.4,866.1 626.8,866.3 628.2,865.8 629.6,866.2 630.8,866.1" stroke="#2a2a2a" stroke-width="1.05"/>
<polyline points="464.2,866.0 464.2,631.7 464.2,631.7 464.5,671.1 464.8,693.4 465.1,706.2 465.4,713.7" stroke="#a6a6a6" stroke-width="0.8"/>
<polyline points="614.2,752.4 614.2,983.8 614.2,983.8 614.5,934.5 614.8,907.1 615.1,891.7 615.4,882.9" stroke="#a6a6a6" stroke-width="0.8"/>
<polyline points="448.0,865.7 449.2,865.8 450.4,865.7 451.6,866.2 452.8,866.1 454.0,866.1 455.2,865.7 456.4,865.8 457.6,866.3 458.8,865.7 460.0,865.8 461.2,866.1 462.4,866.0 463.6,866.0 465.4,756.1 465.7,760.1 466.0,762.7 466.3,764.4 467.0,766.8 467.7,768.3 468.4,769.4 469.1,770.3 469.8,771.0 470.5,771.4 471.2,771.9 471.9,772.0 472.6,771.9 474.0,772.2 475.4,772.9 476.8,773.4 478.2,774.2 479.6,774.7 480.8,775.3 482.0,776.2 483.2,776.2 484.4,777.0 485.6,776.0 486.8,777.0 488.0,775.9 489.2,777.3 490.4,777.0 491.6,776.6 492.8,776.8 494.0,777.8 495.2,777.3 496.4,777.5 497.6,777.3 498.8,777.3 500.0,778.3 501.2,777.2 502.4,777.5 503.6,777.2 504.8,777.5 506.0,778.2 507.2,778.5 508.4,778.5 509.6,778.8 510.8,779.1 512.0,779.1 513.2,778.8 514.4,779.3 515.6,779.2 516.8,779.6 518.0,779.8 519.2,779.1 520.4,780.1 521.6,780.2 522.8,780.6 524.0,779.6 525.2,781.0 526.4,779.9 527.6,780.7 528.8,780.9 530.0,780.4 531.2,780.7 532.4,780.8 533.6,781.3 534.8,781.7 536.0,781.4 537.2,781.1 538.4,780.4 539.6,780.3 540.8,780.1 542.0,781.0 543.2,780.9 544.4,781.0 545.6,780.3 546.8,781.2 548.0,780.2 549.2,781.3 550.4,781.2 551.6,781.2 552.8,781.5 554.0,781.0 555.2,781.3 556.4,781.5 557.6,780.2 558.8,781.0 560.0,781.2 561.2,780.7 562.4,781.5 563.6,781.2 564.8,781.5 566.0,782.3 567.2,781.6 568.4,782.5 569.6,782.3 570.8,782.1 572.0,782.1 573.2,781.9 574.4,781.2 575.6,782.3 576.8,782.1 578.0,782.2 579.2,782.8 580.4,782.6 581.6,782.3 582.8,781.9 584.0,783.0 585.2,783.0 586.4,782.7 587.6,781.8 588.8,782.8 590.0,782.9 591.2,782.1 592.4,781.6 593.6,782.1 594.8,782.5 596.0,782.4 597.2,782.7 598.4,782.3 599.6,781.7 600.8,782.2 602.0,782.7 603.2,782.2 604.4,782.4 605.6,783.1 606.8,782.3 608.0,782.2 609.2,782.0 610.4,783.0 611.6,783.0 612.8,783.0 614.0,782.2 614.2,782.5" stroke="#2a2a2a" stroke-width="1.05"/>
<polyline points="615.4,879.2 615.7,875.2 616.0,872.9 616.3,871.4 617.0,869.6 617.7,868.7 618.4,868.1 619.1,867.3 619.8,867.4 620.5,867.1 621.2,867.0 621.9,866.8 622.6,866.5 624.0,866.4 625.4,866.5 626.8,865.8 628.2,866.2 629.6,866.1 630.8,866.0" stroke="#2a2a2a" stroke-width="1.05"/>
<polyline points="464.2,866.0 464.2,683.7 464.2,683.7 464.5,718.6 464.8,738.3 465.1,749.6 465.4,756.1" stroke="#a6a6a6" stroke-width="0.8"/>
<polyline points="614.2,782.5 614.2,957.6 614.2,957.6 614.5,919.3 614.8,897.9 615.1,886.0 615.4,879.2" stroke="#a6a6a6" stroke-width="0.8"/>
<polyline points="448.0,866.1 449.2,865.9 450.4,865.7 451.6,866.2 452.8,866.3 454.0,866.0 455.2,866.3 456.4,866.2 457.6,866.0 458.8,866.3 460.0,865.9 461.2,865.9 462.4,866.0 463.6,866.0 465.1,786.3 465.4,791.4 465.7,794.4 466.0,796.3 466.3,797.6 467.0,799.4 467.7,800.5 468.4,801.4 469.1,801.4 469.8,802.2 470.5,802.4 471.2,803.5 471.9,803.5 472.6,804.4 474.0,803.6 475.4,804.1 476.8,805.0 478.2,805.4 479.6,806.3 480.8,807.0 482.0,806.4 483.2,807.1 484.4,807.4 485.6,806.5 486.8,807.2 488.0,806.5 489.2,805.9 490.4,806.3 491.6,806.4 492.8,807.2 494.0,806.8 495.2,807.4 496.4,807.0 497.6,807.8 498.8,807.4 500.0,807.7 501.2,807.9 502.4,807.4 503.6,807.3 504.8,807.8 506.0,807.4 507.2,808.3 508.4,808.7 509.6,808.6 510.8,808.1 512.0,807.8 513.2,807.6 514.4,808.0 515.6,808.4 516.8,808.6 518.0,808.1 519.2,808.2 520.4,808.1 521.6,808.5 522.8,809.1 524.0,809.0 525.2,808.4 526.4,808.6 527.6,809.0 528.8,809.0 530.0,808.7 531.2,808.8 532.4,808.1 533.6,809.3 534.8,808.5 536.0,808.4 537.2,808.6 538.4,809.1 539.6,808.9 540.8,808.4 542.0,808.4 543.2,809.4 544.4,810.1 545.6,809.2 546.8,809.3 548.0,809.6 549.2,808.8 550.4,809.7 551.6,809.2 552.8,808.9 554.0,808.8 555.2,809.1 556.4,809.0 557.6,808.8 558.8,809.1 560.0,808.8 561.2,809.0 562.4,808.6 563.6,808.9 564.8,808.8 566.0,809.4 567.2,809.1 568.4,809.4 569.6,809.6 570.8,809.2 572.0,809.9 573.2,808.7 574.4,809.1 575.6,808.9 576.8,809.9 578.0,809.6 579.2,809.8 580.4,809.4 581.6,809.9 582.8,810.3 584.0,809.5 585.2,809.7 586.4,809.6 587.6,810.2 588.8,809.9 590.0,810.4 591.2,809.7 592.4,809.3 593.6,810.0 594.8,809.0 596.0,809.0 597.2,810.4 598.4,809.7 599.6,809.6 600.8,809.8 602.0,809.6 603.2,809.6 604.4,809.1 605.6,809.1 606.8,809.4 608.0,809.0 609.2,808.9 610.4,809.2 611.6,809.5 612.8,810.1 614.0,809.2 614.2,809.5" stroke="#2a2a2a" stroke-width="1.05"/>
<polyline points="615.1,880.3 615.4,875.4 615.7,872.6 616.0,870.9 616.3,869.9 617.0,868.6 617.7,868.0 618.4,867.3 619.1,867.4 619.8,867.1 620.5,866.7 621.2,866.4 621.9,866.2 622.6,866.3 624.0,866.0 625.4,866.4 626.8,866.0 628.2,866.4 629.6,866.3 630.8,866.1" stroke="#2a2a2a" stroke-width="1.05"/>
<polyline points="464.2,866.0 464.2,735.8 464.2,735.8 464.5,762.6 464.8,777.7 465.1,786.3" stroke="#a6a6a6" stroke-width="0.8"/>
<polyline points="614.2,809.5 614.2,931.5 614.2,931.5 614.5,904.1 614.8,888.8 615.1,880.3" stroke="#a6a6a6" stroke-width="0.8"/>
<polyline points="448.0,865.7 449.2,866.2 450.4,865.9 451.6,866.3 452.8,866.1 454.0,866.1 455.2,866.0 456.4,865.7 457.6,865.7 458.8,865.9 460.0,865.8 461.2,865.7 462.4,866.2 463.6,866.0 464.8,809.9 465.1,814.4 465.4,817.1 465.7,818.8 466.0,819.9 466.3,820.6 467.0,821.7 467.7,822.4 468.4,823.2 469.1,823.6 469.8,824.6 470.5,824.0 471.2,824.3 471.9,824.3 472.6,825.3 474.0,825.3 475.4,825.5 476.8,825.7 478.2,825.7 479.6,826.6 480.8,826.8 482.0,826.3 483.2,826.7 484.4,827.1 485.6,826.9 486.8,827.1 488.0,826.4 489.2,826.8 490.4,826.7 491.6,827.0 492.8,826.9 494.0,828.0 495.2,828.4 496.4,828.4 497.6,827.9 498.8,828.1 500.0,828.0 501.2,828.6 502.4,828.1 503.6,828.5 504.8,828.4 506.0,827.8 507.2,827.4 508.4,827.6 509.6,827.4 510.8,827.2 512.0,827.7 513.2,827.5 514.4,827.6 515.6,828.4 516.8,828.0 518.0,828.3 519.2,829.2 520.4,828.8 521.6,828.9 522.8,828.1 524.0,828.3 525.2,828.4 526.4,827.4 527.6,828.1 528.8,827.7 530.0,828.5 531.2,827.6 532.4,828.4 533.6,828.7 534.8,828.2 536.0,827.5 537.2,827.9 538.4,828.6 539.6,828.2 540.8,829.0 542.0,828.0 543.2,828.6 544.4,828.4 545.6,829.2 546.8,828.9 548.0,828.1 549.2,828.8 550.4,827.6 551.6,828.4 552.8,827.7 554.0,827.6 555.2,828.6 556.4,828.9 557.6,829.3 558.8,829.5 560.0,829.3 561.2,829.1 562.4,830.0 563.6,830.0 564.8,830.1 566.0,829.4 567.2,829.6 568.4,829.4 569.6,829.2 570.8,829.7 572.0,829.8 573.2,829.0 574.4,828.8 575.6,830.1 576.8,828.9 578.0,829.7 579.2,829.6 580.4,828.5 581.6,829.6 582.8,829.0 584.0,829.1 585.2,828.1 586.4,828.7 587.6,828.7 588.8,828.3 590.0,828.3 591.2,828.8 592.4,829.2 593.6,828.0 594.8,828.9 596.0,829.4 597.2,828.1 598.4,828.2 599.6,829.0 600.8,828.9 602.0,828.0 603.2,828.6 604.4,827.9 605.6,828.6 606.8,829.3 608.0,828.5 609.2,829.7 610.4,829.1 611.6,829.0 612.8,828.7 614.0,829.0 614.2,829.0" stroke="#2a2a2a" stroke-width="1.05"/>
<polyline points="614.8,879.7 615.1,874.6 615.4,871.6 615.7,870.0 616.0,869.0 616.3,868.3 617.0,867.2 617.7,867.2 618.4,867.1 619.1,866.6 619.8,866.7 620.5,866.1 621.2,866.3 621.9,866.5 622.6,866.3 624.0,866.0 625.4,865.9 626.8,866.2 628.2,866.3 629.6,866.0 630.8,866.3" stroke="#2a2a2a" stroke-width="1.05"/>
<polyline points="464.2,866.0 464.2,787.9 464.2,787.9 464.5,801.9 464.8,809.9" stroke="#a6a6a6" stroke-width="0.8"/>
<polyline points="614.2,829.0 614.2,905.3 614.2,905.3 614.5,888.8 614.8,879.7" stroke="#a6a6a6" stroke-width="0.8"/>
<polyline points="448.0,865.9 449.2,865.7 450.4,865.8 451.6,866.1 452.8,866.1 454.0,866.2 455.2,865.8 456.4,866.3 457.6,866.1 458.8,866.2 460.0,866.2 461.2,865.8 462.4,865.7 463.6,866.0 464.2,840.0 464.2,839.8 464.5,840.8 464.8,840.8 465.1,840.8 465.4,840.0 465.7,839.8 466.0,841.0 466.3,840.1 467.0,840.6 467.7,840.6 468.4,841.1 469.1,841.4 469.8,841.8 470.5,841.5 471.2,840.8 471.9,841.2 472.6,841.0 474.0,842.1 475.4,842.3 476.8,842.3 478.2,842.4 479.6,843.0 480.8,843.5 482.0,843.0 483.2,842.6 484.4,842.3 485.6,843.0 486.8,843.8 488.0,843.1 489.2,842.8 490.4,842.8 491.6,843.9 492.8,843.9 494.0,843.3 495.2,843.9 496.4,843.9 497.6,843.8 498.8,844.3 500.0,844.0 501.2,843.5 502.4,844.3 503.6,843.7 504.8,844.2 506.0,843.0 507.2,842.9 508.4,842.9 509.6,843.1 510.8,843.7 512.0,842.8 513.2,843.6 514.4,843.0 515.6,843.0 516.8,843.3 518.0,843.6 519.2,844.7 520.4,844.9 521.6,844.5 522.8,843.9 524.0,843.8 525.2,843.2 526.4,843.4 527.6,844.3 528.8,844.6 530.0,845.1 531.2,844.5 532.4,843.3 533.6,844.4 534.8,843.8 536.0,844.0 537.2,843.9 538.4,843.5 539.6,842.9 540.8,843.2 542.0,843.1 543.2,843.5 544.4,844.6 545.6,844.8 546.8,844.7 548.0,844.7 549.2,843.8 550.4,844.2 551.6,843.6 552.8,844.5 554.0,843.7 555.2,844.2 556.4,843.7 557.6,843.6 558.8,844.7 560.0,844.7 561.2,843.8 562.4,843.9 563.6,843.4 564.8,843.9 566.0,844.4 567.2,843.2 568.4,843.0 569.6,843.5 570.8,844.2 572.0,843.2 573.2,844.8 574.4,844.8 575.6,844.5 576.8,844.3 578.0,843.4 579.2,844.2 580.4,843.4 581.6,843.9 582.8,844.2 584.0,844.5 585.2,844.3 586.4,844.5 587.6,844.7 588.8,844.5 590.0,844.2 591.2,845.0 592.4,844.0 593.6,844.7 594.8,844.9 596.0,845.0 597.2,844.2 598.4,844.4 599.6,844.0 600.8,843.6 602.0,844.1 603.2,844.0 604.4,844.3 605.6,843.5 606.8,843.7 608.0,843.6 609.2,842.9 610.4,844.3 611.6,844.3 612.8,844.5 614.0,844.1 614.2,844.0" stroke="#2a2a2a" stroke-width="1.05"/>
<polyline points="614.5,873.6 614.8,870.6 615.1,868.9 615.4,867.7 615.7,867.0 616.0,866.8 616.3,866.6 617.0,866.5 617.7,866.4 618.4,866.6 619.1,866.5 619.8,866.3 620.5,866.1 621.2,866.4 621.9,866.4 622.6,866.2 624.0,866.1 625.4,865.8 626.8,865.8 628.2,866.3 629.6,866.1 630.8,865.9" stroke="#2a2a2a" stroke-width="1.05"/>
<polyline points="464.2,866.0 464.2,840.0" stroke="#a6a6a6" stroke-width="0.8"/>
<polyline points="614.2,844.0 614.2,879.1 614.2,879.1 614.5,873.6" stroke="#a6a6a6" stroke-width="0.8"/>
<polyline points="448.0,866.2 449.2,865.7 450.4,865.7 451.6,866.0 452.8,866.3 454.0,866.0 455.2,866.3 456.4,865.8 457.6,865.8 458.8,865.8 460.0,865.9 461.2,866.3 462.4,866.0 463.6,865.8 464.8,858.9 465.1,855.5 465.4,853.7 465.7,853.6 466.0,853.3 466.3,852.6 467.0,851.5 467.7,851.6 468.4,852.9 469.1,851.6 469.8,852.4 470.5,852.4 471.2,851.9 471.9,851.4 472.6,851.9 474.0,852.2 475.4,851.2 476.8,851.0 478.2,851.7 479.6,852.3 480.8,851.9 482.0,851.7 483.2,852.9 484.4,852.4 485.6,852.6 486.8,853.7 488.0,853.5 489.2,853.2 490.4,853.8 491.6,852.8 492.8,852.7 494.0,853.2 495.2,852.5 496.4,852.9 497.6,852.1 498.8,852.9 500.0,853.5 501.2,853.5 502.4,852.9 503.6,852.9 504.8,852.9 506.0,852.6 507.2,852.2 508.4,852.4 509.6,853.0 510.8,852.6 512.0,852.3 513.2,852.8 514.4,851.8 515.6,852.4 516.8,852.5 518.0,852.8 519.2,852.4 520.4,853.5 521.6,852.6 522.8,853.3 524.0,853.5 525.2,852.4 526.4,852.8 527.6,853.4 528.8,853.8 530.0,853.7 531.2,853.0 532.4,854.2 533.6,853.7 534.8,853.4 536.0,853.4 537.2,853.2 538.4,852.9 539.6,853.4 540.8,854.0 542.0,853.2 543.2,853.1 544.4,853.4 545.6,853.3 546.8,852.4 548.0,852.3 549.2,852.3 550.4,852.6 551.6,853.4 552.8,853.1 554.0,854.1 555.2,853.8 556.4,854.2 557.6,853.9 558.8,853.6 560.0,852.7 561.2,852.5 562.4,853.3 563.6,853.2 564.8,852.9 566.0,852.4 567.2,853.0 568.4,853.0 569.6,853.6 570.8,853.1 572.0,852.8 573.2,852.6 574.4,853.0 575.6,853.7 576.8,853.8 578.0,854.0 579.2,854.2 580.4,853.9 581.6,854.2 582.8,853.5 584.0,854.1 585.2,854.1 586.4,853.3 587.6,854.0 588.8,853.7 590.0,853.3 591.2,853.5 592.4,853.8 593.6,854.2 594.8,854.7 596.0,854.4 597.2,854.0 598.4,853.8 599.6,853.4 600.8,852.8 602.0,853.1 603.2,853.8 604.4,852.8 605.6,852.9 606.8,853.2 608.0,853.8 609.2,854.5 610.4,853.7 611.6,854.4 612.8,854.2 614.0,854.6 614.2,853.4" stroke="#2a2a2a" stroke-width="1.05"/>
<polyline points="614.5,858.6 614.8,861.9 615.1,863.7 615.4,864.8 615.7,865.3 616.0,865.4 616.3,865.8 617.0,865.7 617.7,866.1 618.4,866.1 619.1,865.9 619.8,865.9 620.5,866.1 621.2,865.9 621.9,865.9 622.6,865.9 624.0,866.2 625.4,866.3 626.8,865.7 628.2,866.1 629.6,865.9 630.8,865.8" stroke="#2a2a2a" stroke-width="1.05"/>
<polyline points="464.2,866.0 464.2,876.4 464.2,876.4 464.5,865.1 464.8,858.9" stroke="#a6a6a6" stroke-width="0.8"/>
<polyline points="614.2,853.4 614.2,852.6 614.2,852.6 614.5,858.6" stroke="#a6a6a6" stroke-width="0.8"/>
<polyline points="448.0,865.8 449.2,866.3 450.4,866.2 451.6,866.3 452.8,865.7 454.0,865.7 455.2,866.0 456.4,866.3 457.6,865.7 458.8,865.8 460.0,866.1 461.2,865.8 462.4,865.9 463.6,865.8 464.8,871.8 465.1,866.8 465.4,864.0 465.7,862.5 466.0,861.5 466.3,861.7 467.0,860.3 467.7,860.8 468.4,860.8 469.1,859.6 469.8,860.8 470.5,860.2 471.2,860.1 471.9,860.0 472.6,859.7 474.0,860.1 475.4,859.1 476.8,859.9 478.2,859.6 479.6,859.5 480.8,860.1 482.0,860.0 483.2,859.9 484.4,859.4 485.6,859.5 486.8,859.3 488.0,859.6 489.2,860.0 490.4,859.8 491.6,859.4 492.8,859.2 494.0,859.6 495.2,859.2 496.4,860.0 497.6,859.8 498.8,859.1 500.0,859.9 501.2,860.1 502.4,858.9 503.6,858.9 504.8,859.3 506.0,859.0 507.2,859.4 508.4,860.3 509.6,860.0 510.8,860.7 512.0,860.5 513.2,860.0 514.4,859.5 515.6,860.2 516.8,859.8 518.0,858.8 519.2,859.6 520.4,858.7 521.6,858.7 522.8,859.8 524.0,859.4 525.2,859.5 526.4,860.0 527.6,859.5 528.8,859.6 530.0,860.7 531.2,859.6 532.4,859.9 533.6,860.2 534.8,859.3 536.0,859.6 537.2,859.5 538.4,859.5 539.6,859.9 540.8,859.6 542.0,860.0 543.2,859.2 544.4,859.9 545.6,859.6 546.8,859.3 548.0,859.5 549.2,860.3 550.4,861.1 551.6,861.2 552.8,860.1 554.0,861.1 555.2,859.8 556.4,860.7 557.6,860.0 558.8,859.8 560.0,860.8 561.2,860.5 562.4,860.9 563.6,859.9 564.8,859.7 566.0,860.7 567.2,859.5 568.4,860.2 569.6,859.4 570.8,859.2 572.0,859.9 573.2,859.4 574.4,860.6 575.6,859.4 576.8,860.1 578.0,859.0 579.2,859.4 580.4,859.1 581.6,859.1 582.8,859.5 584.0,860.6 585.2,860.5 586.4,860.4 587.6,859.7 588.8,860.0 590.0,860.3 591.2,859.9 592.4,859.2 593.6,859.3 594.8,859.6 596.0,860.3 597.2,860.4 598.4,859.7 599.6,861.1 600.8,860.3 602.0,860.1 603.2,860.8 604.4,860.0 605.6,860.8 606.8,859.6 608.0,860.4 609.2,860.4 610.4,860.6 611.6,860.5 612.8,859.9 614.0,860.8 614.2,860.0" stroke="#2a2a2a" stroke-width="1.05"/>
<polyline points="615.1,859.0 615.4,862.0 615.7,863.6 616.0,864.4 616.3,864.9 617.0,865.9 617.7,865.4 618.4,865.5 619.1,866.1 619.8,865.9 620.5,866.0 621.2,866.0 621.9,866.0 622.6,865.8 624.0,866.0 625.4,866.2 626.8,865.8 628.2,865.8 629.6,865.7 630.8,866.0" stroke="#2a2a2a" stroke-width="1.05"/>
<polyline points="464.2,866.0 464.2,897.3 464.2,897.3 464.5,880.9 464.8,871.8" stroke="#a6a6a6" stroke-width="0.8"/>
<polyline points="614.2,860.0 614.2,825.9 614.2,825.9 614.5,843.8 614.8,853.6 615.1,859.0" stroke="#a6a6a6" stroke-width="0.8"/>
<polyline points="448.0,865.8 449.2,865.8 450.4,866.3 451.6,866.2 452.8,865.9 454.0,866.3 455.2,866.0 456.4,866.0 457.6,865.8 458.8,865.9 460.0,866.3 461.2,865.7 462.4,865.7 463.6,866.2 465.1,876.0 465.4,872.2 465.7,870.0 466.0,868.8 466.3,868.1 467.0,867.3 467.7,867.1 468.4,867.5 469.1,867.0 469.8,867.1 470.5,867.5 471.2,867.2 471.9,866.9 472.6,867.3 474.0,867.0 475.4,867.0 476.8,867.0 478.2,867.2 479.6,866.1 480.8,866.1 482.0,866.7 483.2,865.4 484.4,866.1 485.6,866.0 486.8,865.5 488.0,866.2 489.2,866.0 490.4,866.5 491.6,865.6 492.8,866.4 494.0,866.6 495.2,866.0 496.4,866.7 497.6,865.9 498.8,866.9 500.0,866.9 501.2,866.0 502.4,866.8 503.6,866.4 504.8,867.3 506.0,866.9 507.2,866.7 508.4,867.2 509.6,866.0 510.8,866.1 512.0,866.1 513.2,865.7 514.4,865.9 515.6,867.0 516.8,866.6 518.0,866.4 519.2,866.7 520.4,867.2 521.6,866.7 522.8,865.9 524.0,865.7 525.2,865.8 526.4,866.3 527.6,865.6 528.8,866.1 530.0,866.6 531.2,866.4 532.4,866.8 533.6,866.1 534.8,865.1 536.0,865.8 537.2,866.2 538.4,865.9 539.6,865.8 540.8,865.4 542.0,865.4 543.2,865.6 544.4,866.6 545.6,866.0 546.8,866.1 548.0,866.3 549.2,866.8 550.4,866.5 551.6,866.3 552.8,866.1 554.0,867.1 555.2,866.2 556.4,866.8 557.6,866.5 558.8,866.5 560.0,867.0 561.2,866.1 562.4,866.5 563.6,866.7 564.8,865.7 566.0,865.6 567.2,866.2 568.4,866.4 569.6,866.0 570.8,865.6 572.0,865.5 573.2,865.6 574.4,866.0 575.6,866.4 576.8,866.6 578.0,866.8 579.2,866.0 580.4,866.5 581.6,866.8 582.8,866.5 584.0,865.6 585.2,866.3 586.4,866.3 587.6,865.6 588.8,866.1 590.0,865.8 591.2,866.7 592.4,867.0 593.6,866.7 594.8,867.4 596.0,867.0 597.2,866.8 598.4,865.9 599.6,866.7 600.8,865.6 602.0,866.1 603.2,866.6 604.4,866.4 605.6,867.1 606.8,867.4 608.0,866.2 609.2,867.1 610.4,866.1 611.6,865.6 612.8,865.5 614.0,865.4 614.2,866.4" stroke="#2a2a2a" stroke-width="1.05"/>
<polyline points="615.1,854.3 615.4,859.3 615.7,862.1 616.0,863.6 616.3,864.5 617.0,865.6 617.7,865.9 618.4,866.1 619.1,865.9 619.8,865.7 620.5,866.1 621.2,865.8 621.9,866.0 622.6,865.7 624.0,866.0 625.4,866.1 626.8,865.6 628.2,866.0 629.6,866.1 630.8,865.7" stroke="#2a2a2a" stroke-width="1.05"/>
<polyline points="464.2,866.0 464.2,918.2 464.2,918.2 464.5,895.5 464.8,882.9 465.1,876.0" stroke="#a6a6a6" stroke-width="0.8"/>
<polyline points="614.2,866.4 614.2,799.2 614.2,799.2 614.5,828.9 614.8,845.3 615.1,854.3" stroke="#a6a6a6" stroke-width="0.8"/>
<polyline points="448.0,866.1 449.2,866.2 450.4,865.8 451.6,865.8 452.8,866.1 454.0,866.3 455.2,865.8 456.4,866.2 457.6,865.7 458.8,866.1 460.0,865.9 461.2,866.3 462.4,866.2 463.6,865.8 465.1,883.3 465.4,878.2 465.7,875.3 466.0,873.7 466.3,872.8 467.0,871.6 467.7,871.4 468.4,870.9 469.1,871.2 469.8,870.6 470.5,870.2 471.2,870.9 471.9,870.3 472.6,869.7 474.0,870.5 475.4,870.1 476.8,869.8 478.2,870.4 479.6,870.2 480.8,870.2 482.0,870.1 483.2,870.0 484.4,870.4 485.6,870.6 486.8,870.7 488.0,871.1 489.2,871.2 490.4,870.5 491.6,869.9 492.8,870.0 494.0,869.6 495.2,870.5 496.4,869.9 497.6,870.2 498.8,870.3 500.0,870.1 501.2,870.7 502.4,870.0 503.6,869.8 504.8,870.5 506.0,870.3 507.2,869.8 508.4,870.7 509.6,870.7 510.8,871.0 512.0,870.2 513.2,871.2 514.4,871.0 515.6,870.1 516.8,870.1 518.0,870.0 519.2,870.0 520.4,870.0 521.6,870.8 522.8,869.5 524.0,870.2 525.2,869.7 526.4,870.9 527.6,870.4 528.8,871.3 530.0,870.5 531.2,871.7 532.4,870.4 533.6,870.4 534.8,871.3 536.0,871.0 537.2,871.2 538.4,871.5 539.6,870.7 540.8,871.0 542.0,870.6 543.2,870.6 544.4,870.8 545.6,870.9 546.8,871.2 548.0,870.8 549.2,870.3 550.4,870.7 551.6,870.7 552.8,870.0 554.0,870.1 555.2,870.6 556.4,870.3 557.6,870.6 558.8,869.9 560.0,869.8 561.2,870.3 562.4,870.2 563.6,870.2 564.8,869.2 566.0,870.3 567.2,870.3 568.4,869.8 569.6,869.9 570.8,870.0 572.0,870.2 573.2,870.9 574.4,871.0 575.6,871.1 576.8,871.4 578.0,871.6 579.2,870.6 580.4,870.6 581.6,871.3 582.8,869.8 584.0,870.0 585.2,869.2 586.4,869.5 587.6,870.1 588.8,871.0 590.0,871.3 591.2,870.9 592.4,871.0 593.6,870.6 594.8,869.8 596.0,870.6 597.2,870.8 598.4,870.5 599.6,870.6 600.8,870.7 602.0,870.8 603.2,871.2 604.4,871.0 605.6,870.7 606.8,871.5 608.0,870.0 609.2,870.7 610.4,869.9 611.6,870.4 612.8,870.5 614.0,871.2 614.2,870.5" stroke="#2a2a2a" stroke-width="1.05"/>
<polyline points="615.4,856.6 615.7,860.5 616.0,862.6 616.3,863.9 617.0,865.4 617.7,865.2 618.4,865.4 619.1,865.6 619.8,865.6 620.5,866.1 621.2,865.6 621.9,866.2 622.6,865.7 624.0,865.6 625.4,865.9 626.8,865.8 628.2,866.3 629.6,865.9 630.8,865.7" stroke="#2a2a2a" stroke-width="1.05"/>
<polyline points="464.2,866.0 464.2,939.1 464.2,939.1 464.5,909.0 464.8,892.5 465.1,883.3" stroke="#a6a6a6" stroke-width="0.8"/>
<polyline points="614.2,870.5 614.2,772.5 614.2,772.5 614.5,814.1 614.8,837.0 615.1,849.7 615.4,856.6" stroke="#a6a6a6" stroke-width="0.8"/>
<polyline points="448.0,865.8 449.2,866.0 450.4,866.1 451.6,866.0 452.8,866.2 454.0,866.2 455.2,865.8 456.4,865.8 457.6,866.3 458.8,866.3 460.0,866.0 461.2,866.2 462.4,865.8 463.6,865.9 465.4,883.7 465.7,880.1 466.0,878.1 466.3,876.9 467.0,876.0 467.7,874.5 468.4,875.2 469.1,874.8 469.8,874.7 470.5,874.4 471.2,874.2 471.9,873.8 472.6,873.7 474.0,873.3 475.4,873.1 476.8,874.4 478.2,874.8 479.6,873.9 480.8,874.9 482.0,874.2 483.2,874.4 484.4,873.3 485.6,873.6 486.8,873.5 488.0,872.9 489.2,873.2 490.4,873.8 491.6,873.5 492.8,872.8 494.0,873.9 495.2,874.0 496.4,873.2 497.6,873.5 498.8,873.8 500.0,874.2 501.2,874.3 502.4,873.0 503.6,873.8 504.8,873.0 506.0,873.3 507.2,874.0 508.4,873.5 509.6,874.4 510.8,874.0 512.0,873.6 513.2,873.2 514.4,872.9 515.6,873.4 516.8,873.5 518.0,873.2 519.2,872.9 520.4,873.5 521.6,874.0 522.8,873.6 524.0,874.0 525.2,873.0 526.4,872.9 527.6,873.9 528.8,874.1 530.0,873.3 531.2,874.2 532.4,874.1 533.6,873.9 534.8,874.7 536.0,874.3 537.2,874.6 538.4,874.7 539.6,874.1 540.8,874.2 542.0,874.7 543.2,874.6 544.4,874.4 545.6,874.3 546.8,874.2 548.0,874.1 549.2,874.0 550.4,874.6 551.6,874.1 552.8,873.8 554.0,874.4 555.2,874.0 556.4,874.5 557.6,873.6 558.8,874.7 560.0,874.0 561.2,873.9 562.4,873.6 563.6,874.6 564.8,874.4 566.0,873.5 567.2,873.6 568.4,873.7 569.6,874.4 570.8,873.7 572.0,873.8 573.2,874.3 574.4,874.1 575.6,875.0 576.8,874.3 578.0,874.2 579.2,873.3 580.4,874.5 581.6,874.4 582.8,874.3 584.0,873.9 585.2,874.4 586.4,874.6 587.6,875.0 588.8,874.1 590.0,874.0 591.2,875.3 592.4,875.0 593.6,875.1 594.8,875.0 596.0,873.9 597.2,874.4 598.4,875.0 599.6,874.2 600.8,874.4 602.0,874.2 603.2,874.1 604.4,874.7 605.6,874.5 606.8,873.7 608.0,874.2 609.2,875.3 610.4,875.4 611.6,874.3 612.8,874.6 614.0,875.4 614.2,874.0" stroke="#2a2a2a" stroke-width="1.05"/>
<polyline points="615.4,854.0 615.7,858.9 616.0,861.7 616.3,863.3 617.0,864.7 617.7,865.2 618.4,865.7 619.1,865.9 619.8,865.5 620.5,865.7 621.2,865.5 621.9,866.0 622.6,866.0 624.0,866.0 625.4,866.2 626.8,865.9 628.2,866.3 629.6,866.1 630.8,865.7" stroke="#2a2a2a" stroke-width="1.05"/>
<polyline points="464.2,866.0 464.2,959.9 464.2,959.9 464.5,922.3 464.8,901.6 465.1,890.1 465.4,883.7" stroke="#a6a6a6" stroke-width="0.8"/>
<polyline points="614.2,874.0 614.2,745.7 614.2,745.7 614.5,799.3 614.8,828.8 615.1,845.0 615.4,854.0" stroke="#a6a6a6" stroke-width="0.8"/>
<polyline points="448.0,865.9 449.2,865.7 450.4,866.0 451.6,865.7 452.8,865.8 454.0,866.1 455.2,866.2 456.4,865.9 457.6,866.3 458.8,865.9 460.0,865.9 461.2,866.0 462.4,866.2 463.6,865.7 465.4,887.8 465.7,883.4 466.0,880.9 466.3,879.5 467.0,877.4 467.7,876.8 468.4,876.9 469.1,877.1 469.8,875.9 470.5,876.2 471.2,876.2 471.9,876.8 472.6,876.5 474.0,876.6 475.4,875.8 476.8,875.5 478.2,875.4 479.6,875.8 480.8,876.5 482.0,876.8 483.2,875.8 484.4,877.2 485.6,877.3 486.8,876.2 488.0,876.0 489.2,875.4 490.4,875.2 491.6,876.0 492.8,875.5 494.0,875.9 495.2,876.1 496.4,875.7 497.6,875.6 498.8,875.4 500.0,875.6 501.2,876.7 502.4,875.3 503.6,875.2 504.8,876.0 506.0,876.1 507.2,876.0 508.4,876.8 509.6,877.2 510.8,876.4 512.0,876.7 513.2,875.6 514.4,875.5 515.6,875.2 516.8,875.9 518.0,875.4 519.2,875.9 520.4,876.7 521.6,876.8 522.8,875.5 524.0,876.4 525.2,875.4 526.4,876.1 527.6,875.6 528.8,876.4 530.0,876.4 531.2,875.7 532.4,876.2 533.6,875.8 534.8,876.3 536.0,876.8 537.2,876.5 538.4,876.3 539.6,876.4 540.8,875.4 542.0,876.2 543.2,875.5 544.4,874.9 545.6,875.2 546.8,875.8 548.0,876.1 549.2,875.3 550.4,876.2 551.6,875.7 552.8,876.4 554.0,876.0 555.2,876.2 556.4,876.2 557.6,875.8 558.8,876.0 560.0,875.5 561.2,875.1 562.4,875.4 563.6,875.5 564.8,874.8 566.0,876.1 567.2,875.4 568.4,876.3 569.6,875.7 570.8,876.4 572.0,876.7 573.2,876.7 574.4,876.6 575.6,877.0 576.8,875.4 578.0,875.5 579.2,875.2 580.4,875.4 581.6,876.1 582.8,875.2 584.0,876.0 585.2,876.7 586.4,875.6 587.6,876.0 588.8,875.5 590.0,875.3 591.2,875.4 592.4,875.7 593.6,876.3 594.8,875.9 596.0,876.1 597.2,876.3 598.4,876.4 599.6,877.0 600.8,876.4 602.0,876.3 603.2,876.1 604.4,875.4 605.6,876.0 606.8,875.9 608.0,875.1 609.2,875.7 610.4,875.5 611.6,875.5 612.8,875.8 614.0,875.4 614.2,876.0" stroke="#2a2a2a" stroke-width="1.05"/>
<polyline points="615.7,857.3 616.0,860.7 616.3,862.6 617.0,864.8 617.7,865.2 618.4,865.2 619.1,865.3 619.8,865.8 620.5,865.5 621.2,866.1 621.9,865.7 622.6,865.6 624.0,865.9 625.4,866.0 626.8,866.1 628.2,865.7 629.6,866.0 630.8,866.1" stroke="#2a2a2a" stroke-width="1.05"/>
<polyline points="464.2,866.0 464.2,980.8 464.2,980.8 464.5,934.9 464.8,909.6 465.1,895.6 465.4,887.8" stroke="#a6a6a6" stroke-width="0.8"/>
<polyline points="614.2,876.0 614.2,719.0 614.2,719.0 614.5,784.5 614.8,820.5 615.1,840.3 615.4,851.3 615.7,857.3" stroke="#a6a6a6" stroke-width="0.8"/>
<rect x="656.1" y="855" width="147.89999999999998" height="9.5" fill="#555"/>
<polyline points="642.0,861.8 644.0,861.9 646.0,862.2 648.0,862.3 650.0,861.7 652.0,862.2 663.4,850.5 664.8,850.7 666.2,851.6 667.6,852.1 669.0,852.3 670.4,852.6 671.8,852.6 673.2,852.9 674.6,852.8 676.0,852.6 677.4,853.2 678.8,853.0 680.8,852.7 682.8,852.4 684.8,853.5 686.8,853.7 688.8,853.5 690.8,853.5 692.8,853.7 694.8,853.8 696.8,853.5 698.8,853.8 700.8,853.4 702.8,853.4 704.8,853.9 706.8,853.9 708.8,854.1 710.8,853.4 712.8,853.9 714.8,854.1 716.8,853.9 718.8,853.2 720.8,853.3 722.8,854.0 724.8,853.7 726.8,853.3 728.8,854.2 730.8,853.3 732.8,853.2 734.8,853.6 736.8,853.5 738.8,854.2 740.8,853.6 742.8,853.9 744.8,854.3 746.8,853.3 748.8,853.4 750.8,854.1 752.8,854.3 754.8,853.7 756.8,854.4 758.8,854.0 760.8,854.0 762.8,853.4 764.8,854.2 766.8,853.8 768.8,853.5 770.8,853.5 772.8,853.6 774.8,853.9 776.8,853.4 778.8,853.5 780.8,854.2 782.8,854.3 784.8,854.3 786.8,854.1 788.8,854.1 790.8,853.5 792.8,854.3 794.8,854.3 796.8,854.1 798.8,854.0 800.8,853.4 802.8,853.4 804.5,854.0" stroke="#000" stroke-width="1.0"/>
<polyline points="654.8,830.6 655.1,835.9 655.4,839.2 655.7,841.2 656.4,843.7 657.1,845.1 657.8,846.1 658.5,847.0 659.2,847.7 659.9,848.3 660.6,848.9 661.3,849.3 662.0,849.8 663.4,850.5" stroke="#555" stroke-width="0.7"/>
<polyline points="805.7,880.6 806.0,874.8 806.3,871.5 806.6,869.5 807.3,867.3 808.0,866.3 808.7,865.7 809.4,865.2 810.1,864.7 810.8,864.4 811.5,864.1 812.2,863.7 812.9,863.8 814.3,863.1 815.7,863.1 817.1,862.9 818.5,862.4 819.9,862.4 821.3,862.5 822.7,862.3" stroke="#000" stroke-width="1.0"/>
<polyline points="653.6,862.0 653.6,722.3 653.6,722.3 653.9,775.3 654.2,804.8 654.5,821.2 654.8,830.6" stroke="#a6a6a6" stroke-width="0.8"/>
<polyline points="804.5,854.0 804.5,1002.8 804.5,1002.8 804.8,942.6 805.1,909.3 805.4,890.9 805.7,880.6" stroke="#a6a6a6" stroke-width="0.8"/>
<polyline points="642.0,862.0 644.0,861.9 646.0,861.8 648.0,862.0 650.0,862.0 652.0,862.1 663.4,852.0 664.8,852.1 666.2,852.7 667.6,852.6 669.0,853.4 670.4,853.6 671.8,853.3 673.2,853.3 674.6,853.2 676.0,853.2 677.4,854.4 678.8,854.2 680.8,854.0 682.8,854.5 684.8,853.7 686.8,854.8 688.8,853.9 690.8,854.4 692.8,854.4 694.8,854.4 696.8,854.0 698.8,854.5 700.8,855.0 702.8,854.8 704.8,854.6 706.8,855.0 708.8,854.2 710.8,854.0 712.8,854.3 714.8,854.4 716.8,854.8 718.8,855.1 720.8,854.9 722.8,854.9 724.8,854.9 726.8,854.7 728.8,854.4 730.8,854.8 732.8,854.4 734.8,854.4 736.8,854.8 738.8,854.4 740.8,854.8 742.8,854.9 744.8,854.5 746.8,855.3 748.8,854.8 750.8,854.3 752.8,854.4 754.8,854.5 756.8,855.0 758.8,855.2 760.8,854.5 762.8,854.7 764.8,855.3 766.8,855.3 768.8,855.2 770.8,855.1 772.8,855.5 774.8,855.2 776.8,854.6 778.8,854.9 780.8,855.5 782.8,854.6 784.8,855.4 786.8,855.2 788.8,855.1 790.8,854.5 792.8,854.3 794.8,855.1 796.8,855.3 798.8,855.0 800.8,854.6 802.8,855.4 804.5,855.0" stroke="#000" stroke-width="1.0"/>
<polyline points="654.5,828.1 654.8,835.7 655.1,840.1 655.4,842.7 655.7,844.3 656.4,846.4 657.1,847.6 657.8,848.4 658.5,849.1 659.2,849.7 659.9,850.2 660.6,850.6 661.3,851.0 662.0,851.4 663.4,852.0" stroke="#555" stroke-width="0.7"/>
<polyline points="805.4,885.6 805.7,877.2 806.0,872.5 806.3,869.8 806.6,868.1 807.3,866.3 808.0,865.5 808.7,865.0 809.4,864.6 810.1,864.2 810.8,864.0 811.5,863.5 812.2,863.6 812.9,863.4 814.3,863.1 815.7,862.7 817.1,862.4 818.5,862.3 819.9,862.4 821.3,862.3 822.7,862.1" stroke="#000" stroke-width="1.0"/>
<polyline points="653.6,862.0 653.6,747.7 653.6,747.7 653.9,790.8 654.2,814.7 654.5,828.1" stroke="#a6a6a6" stroke-width="0.8"/>
<polyline points="804.5,855.0 804.5,977.2 804.5,977.2 804.8,927.9 805.1,900.7 805.4,885.6" stroke="#a6a6a6" stroke-width="0.8"/>
<polyline points="642.0,861.8 644.0,861.9 646.0,862.0 648.0,861.8 650.0,861.8 652.0,862.2 662.0,853.0 663.4,853.3 664.8,853.7 666.2,853.6 667.6,854.3 669.0,854.1 670.4,854.1 671.8,854.8 673.2,854.8 674.6,855.0 676.0,854.8 677.4,854.7 678.8,855.5 680.8,855.6 682.8,854.7 684.8,855.7 686.8,855.5 688.8,855.8 690.8,855.4 692.8,855.1 694.8,855.9 696.8,855.7 698.8,855.1 700.8,855.3 702.8,855.1 704.8,855.4 706.8,856.2 708.8,855.5 710.8,855.6 712.8,856.1 714.8,855.5 716.8,855.4 718.8,855.7 720.8,855.5 722.8,855.4 724.8,855.9 726.8,855.1 728.8,855.4 730.8,855.2 732.8,855.5 734.8,855.8 736.8,855.4 738.8,855.2 740.8,855.9 742.8,856.4 744.8,855.4 746.8,855.7 748.8,855.5 750.8,855.9 752.8,855.9 754.8,856.3 756.8,855.4 758.8,855.8 760.8,855.4 762.8,856.0 764.8,855.6 766.8,856.1 768.8,856.0 770.8,855.6 772.8,856.5 774.8,856.3 776.8,856.4 778.8,856.2 780.8,855.6 782.8,855.8 784.8,856.0 786.8,856.3 788.8,856.0 790.8,856.5 792.8,856.0 794.8,855.4 796.8,856.4 798.8,856.1 800.8,856.5 802.8,856.3 804.5,856.0" stroke="#000" stroke-width="1.0"/>
<polyline points="654.5,835.0 654.8,840.8 655.1,844.2 655.4,846.2 655.7,847.5 656.4,849.1 657.1,850.0 657.8,850.7 658.5,851.2 659.2,851.7 659.9,852.1 660.6,852.4 661.3,852.7 662.0,853.0" stroke="#555" stroke-width="0.7"/>
<polyline points="805.4,880.4 805.7,873.8 806.0,870.2 806.3,868.0 806.6,866.8 807.3,865.4 808.0,864.7 808.7,864.3 809.4,864.0 810.1,863.7 810.8,863.5 811.5,863.1 812.2,863.1 812.9,863.2 814.3,862.7 815.7,862.5 817.1,862.7 818.5,862.1 819.9,862.0 821.3,862.0 822.7,862.2" stroke="#000" stroke-width="1.0"/>
<polyline points="653.6,862.0 653.6,773.1 653.6,773.1 653.9,806.3 654.2,824.7 654.5,835.0" stroke="#a6a6a6" stroke-width="0.8"/>
<polyline points="804.5,856.0 804.5,951.6 804.5,951.6 804.8,913.3 805.1,892.1 805.4,880.4" stroke="#a6a6a6" stroke-width="0.8"/>
<polyline points="642.0,862.1 644.0,862.2 646.0,862.1 648.0,862.3 650.0,861.7 652.0,861.8 660.6,854.2 661.3,854.7 662.0,854.5 663.4,855.3 664.8,854.7 666.2,855.2 667.6,855.2 669.0,855.4 670.4,855.4 671.8,855.6 673.2,856.1 674.6,856.6 676.0,856.5 677.4,856.6 678.8,855.6 680.8,856.0 682.8,856.3 684.8,856.6 686.8,856.9 688.8,855.9 690.8,856.6 692.8,856.4 694.8,856.7 696.8,856.4 698.8,856.0 700.8,856.3 702.8,857.1 704.8,856.2 706.8,857.2 708.8,857.2 710.8,856.6 712.8,856.2 714.8,857.2 716.8,856.5 718.8,856.4 720.8,856.3 722.8,856.6 724.8,857.1 726.8,857.2 728.8,856.3 730.8,857.0 732.8,856.5 734.8,857.1 736.8,856.5 738.8,857.3 740.8,856.4 742.8,856.5 744.8,856.4 746.8,856.7 748.8,857.4 750.8,857.1 752.8,857.0 754.8,856.8 756.8,857.4 758.8,856.8 760.8,857.4 762.8,856.5 764.8,857.0 766.8,856.8 768.8,857.2 770.8,856.5 772.8,856.4 774.8,857.2 776.8,856.4 778.8,856.7 780.8,857.2 782.8,857.3 784.8,857.2 786.8,856.6 788.8,857.5 790.8,856.7 792.8,857.3 794.8,857.3 796.8,856.4 798.8,856.7 800.8,857.0 802.8,857.5 804.5,857.0" stroke="#000" stroke-width="1.0"/>
<polyline points="654.2,834.7 654.5,841.9 654.8,846.0 655.1,848.4 655.4,849.8 655.7,850.7 656.4,851.8 657.1,852.5 657.8,852.9 658.5,853.3 659.2,853.7 659.9,854.0 660.6,854.2" stroke="#555" stroke-width="0.7"/>
<polyline points="805.1,883.5 805.4,875.1 805.7,870.5 806.0,867.8 806.3,866.3 806.6,865.4 807.3,864.4 808.0,863.9 808.7,863.5 809.4,863.7 810.1,863.5 810.8,862.8 811.5,863.2 812.2,862.9 812.9,862.7 814.3,862.5 815.7,862.3 817.1,862.2 818.5,862.1 819.9,861.9 821.3,861.9 822.7,862.0" stroke="#000" stroke-width="1.0"/>
<polyline points="653.6,862.0 653.6,798.5 653.6,798.5 653.9,821.7 654.2,834.7" stroke="#a6a6a6" stroke-width="0.8"/>
<polyline points="804.5,857.0 804.5,926.0 804.5,926.0 804.8,898.6 805.1,883.5" stroke="#a6a6a6" stroke-width="0.8"/>
<polyline points="642.0,861.8 644.0,862.0 646.0,861.8 648.0,862.0 650.0,861.9 652.0,861.8 657.8,855.2 658.5,855.4 659.2,855.9 659.9,855.6 660.6,855.8 661.3,855.9 662.0,856.2 663.4,856.1 664.8,856.3 666.2,856.6 667.6,856.7 669.0,857.3 670.4,856.9 671.8,857.5 673.2,856.8 674.6,857.3 676.0,857.1 677.4,856.8 678.8,857.4 680.8,857.1 682.8,857.3 684.8,857.7 686.8,857.2 688.8,857.6 690.8,858.0 692.8,858.0 694.8,857.0 696.8,857.8 698.8,857.8 700.8,858.0 702.8,858.0 704.8,857.1 706.8,858.2 708.8,857.7 710.8,858.2 712.8,858.2 714.8,857.4 716.8,857.2 718.8,857.2 720.8,858.2 722.8,857.6 724.8,857.5 726.8,857.3 728.8,857.4 730.8,858.0 732.8,857.5 734.8,858.0 736.8,858.1 738.8,857.5 740.8,857.6 742.8,857.7 744.8,857.8 746.8,858.0 748.8,858.0 750.8,858.1 752.8,857.9 754.8,857.8 756.8,857.9 758.8,857.9 760.8,857.4 762.8,858.2 764.8,857.7 766.8,858.5 768.8,858.0 770.8,857.5 772.8,858.5 774.8,858.5 776.8,858.0 778.8,857.3 780.8,858.5 782.8,858.4 784.8,857.9 786.8,858.0 788.8,858.4 790.8,857.4 792.8,857.5 794.8,857.5 796.8,858.3 798.8,857.6 800.8,858.5 802.8,857.7 804.5,858.0" stroke="#000" stroke-width="1.0"/>
<polyline points="653.9,837.2 654.2,844.6 654.5,848.8 654.8,851.1 655.1,852.5 655.4,853.3 655.7,853.8 656.4,854.5 657.1,854.9 657.8,855.2" stroke="#555" stroke-width="0.7"/>
<polyline points="805.1,874.9 805.4,869.9 805.7,867.1 806.0,865.5 806.3,864.6 806.6,864.0 807.3,863.3 808.0,863.5 808.7,863.0 809.4,862.7 810.1,862.8 810.8,862.6 811.5,862.7 812.2,862.3 812.9,862.4 814.3,862.1 815.7,862.0 817.1,862.0 818.5,862.3 819.9,862.0 821.3,861.8 822.7,861.9" stroke="#000" stroke-width="1.0"/>
<polyline points="653.6,862.0 653.6,823.9 653.6,823.9 653.9,837.2" stroke="#a6a6a6" stroke-width="0.8"/>
<polyline points="804.5,858.0 804.5,900.4 804.5,900.4 804.8,884.0 805.1,874.9" stroke="#a6a6a6" stroke-width="0.8"/>
<polyline points="642.0,861.9 644.0,862.1 646.0,862.1 648.0,862.0 650.0,862.0 652.0,862.0 654.8,856.3 655.1,856.6 655.4,856.5 655.7,856.5 656.4,857.0 657.1,857.6 657.8,856.9 658.5,857.4 659.2,858.2 659.9,857.6 660.6,857.4 661.3,857.9 662.0,857.3 663.4,857.6 664.8,858.1 666.2,858.3 667.6,858.0 669.0,858.1 670.4,857.8 671.8,857.8 673.2,858.2 674.6,858.6 676.0,858.0 677.4,858.7 678.8,858.8 680.8,859.0 682.8,858.0 684.8,859.1 686.8,858.0 688.8,858.6 690.8,858.8 692.8,858.5 694.8,858.3 696.8,858.8 698.8,858.1 700.8,858.3 702.8,859.0 704.8,858.5 706.8,858.7 708.8,859.1 710.8,858.7 712.8,858.7 714.8,859.3 716.8,858.8 718.8,858.8 720.8,858.7 722.8,858.9 724.8,858.4 726.8,859.4 728.8,858.3 730.8,858.5 732.8,859.3 734.8,859.1 736.8,859.5 738.8,859.1 740.8,859.3 742.8,858.7 744.8,859.2 746.8,858.9 748.8,858.3 750.8,858.7 752.8,858.8 754.8,859.4 756.8,859.4 758.8,859.5 760.8,858.9 762.8,859.0 764.8,859.4 766.8,858.6 768.8,858.4 770.8,858.8 772.8,859.1 774.8,858.7 776.8,858.5 778.8,859.0 780.8,859.0 782.8,859.4 784.8,859.5 786.8,859.5 788.8,858.4 790.8,858.5 792.8,858.9 794.8,858.4 796.8,858.9 798.8,858.8 800.8,859.5 802.8,859.5 804.5,859.0" stroke="#000" stroke-width="1.0"/>
<polyline points="653.6,849.3 653.6,849.3 653.9,852.7 654.2,854.6 654.5,855.7 654.8,856.3" stroke="#555" stroke-width="0.7"/>
<polyline points="804.5,874.8 804.8,869.3 805.1,866.3 805.4,864.6 805.7,864.0 806.0,863.1 806.3,862.7 806.6,862.7 807.3,862.6 808.0,862.1 808.7,862.1 809.4,862.1 810.1,862.2 810.8,862.1 811.5,862.3 812.2,862.3 812.9,862.0 814.3,861.9 815.7,862.1 817.1,862.1 818.5,862.2 819.9,861.9 821.3,861.9 822.7,862.1" stroke="#000" stroke-width="1.0"/>
<polyline points="653.6,862.0 653.6,849.3" stroke="#a6a6a6" stroke-width="0.8"/>
<polyline points="804.5,859.0 804.5,874.8 804.5,874.8" stroke="#a6a6a6" stroke-width="0.8"/>
<polyline points="642.0,861.7 644.0,861.9 646.0,862.1 648.0,862.0 650.0,862.2 652.0,861.9 654.8,860.9 655.1,860.3 655.4,859.8 655.7,860.6 656.4,860.4 657.1,859.3 657.8,860.3 658.5,859.7 659.2,859.5 659.9,859.4 660.6,859.1 661.3,859.6 662.0,859.5 663.4,859.7 664.8,859.3 666.2,858.9 667.6,859.8 669.0,859.4 670.4,859.6 671.8,859.8 673.2,859.3 674.6,860.0 676.0,859.8 677.4,859.9 678.8,859.5 680.8,859.4 682.8,859.2 684.8,860.0 686.8,860.0 688.8,859.7 690.8,860.0 692.8,859.6 694.8,860.2 696.8,859.2 698.8,860.2 700.8,860.0 702.8,859.2 704.8,860.0 706.8,859.9 708.8,860.1 710.8,859.4 712.8,859.4 714.8,859.7 716.8,859.9 718.8,859.7 720.8,860.4 722.8,859.7 724.8,859.7 726.8,859.6 728.8,859.7 730.8,860.3 732.8,860.2 734.8,859.4 736.8,859.5 738.8,859.7 740.8,859.8 742.8,859.5 744.8,859.9 746.8,859.9 748.8,860.3 750.8,859.9 752.8,859.4 754.8,859.4 756.8,860.4 758.8,860.4 760.8,860.1 762.8,860.2 764.8,859.7 766.8,860.1 768.8,859.4 770.8,860.5 772.8,860.1 774.8,860.5 776.8,860.2 778.8,860.5 780.8,860.4 782.8,859.9 784.8,859.6 786.8,860.3 788.8,859.5 790.8,859.5 792.8,860.0 794.8,860.4 796.8,860.3 798.8,860.4 800.8,860.5 802.8,860.4 804.5,860.0" stroke="#000" stroke-width="1.0"/>
<polyline points="653.6,868.6 653.6,868.6 653.9,864.8 654.2,862.7 654.5,861.5 654.8,860.9" stroke="#555" stroke-width="0.7"/>
<polyline points="804.5,855.6 804.5,855.6 804.8,858.2 805.1,859.6 805.4,860.2 805.7,860.8 806.0,861.0 806.3,861.4 806.6,861.4 807.3,861.5 808.0,861.7 808.7,861.4 809.4,861.7 810.1,861.9 810.8,861.6 811.5,861.6 812.2,862.0 812.9,862.0 814.3,861.8 815.7,862.2 817.1,862.1 818.5,861.8 819.9,862.1 821.3,861.9 822.7,862.1" stroke="#000" stroke-width="1.0"/>
<polyline points="653.6,862.0 653.6,868.6" stroke="#a6a6a6" stroke-width="0.8"/>
<polyline points="804.5,860.0 804.5,855.6" stroke="#a6a6a6" stroke-width="0.8"/>
<polyline points="642.0,861.8 644.0,862.1 646.0,862.3 648.0,862.2 650.0,861.8 652.0,861.9 657.8,862.0 658.5,861.2 659.2,861.9 659.9,861.9 660.6,861.4 661.3,860.7 662.0,860.7 663.4,861.4 664.8,860.9 666.2,860.7 667.6,860.3 669.0,860.5 670.4,860.8 671.8,861.2 673.2,860.5 674.6,860.1 676.0,860.9 677.4,860.2 678.8,860.4 680.8,861.2 682.8,861.1 684.8,860.2 686.8,860.8 688.8,860.5 690.8,860.6 692.8,861.0 694.8,860.3 696.8,860.6 698.8,860.2 700.8,861.0 702.8,860.5 704.8,860.3 706.8,860.2 708.8,861.0 710.8,860.7 712.8,860.9 714.8,860.8 716.8,860.3 718.8,860.9 720.8,860.8 722.8,860.6 724.8,860.6 726.8,860.4 728.8,861.2 730.8,861.2 732.8,860.8 734.8,860.9 736.8,860.7 738.8,860.7 740.8,861.1 742.8,861.4 744.8,860.4 746.8,861.5 748.8,860.7 750.8,861.2 752.8,861.1 754.8,860.7 756.8,861.3 758.8,861.5 760.8,861.1 762.8,861.3 764.8,861.4 766.8,861.4 768.8,860.5 770.8,860.4 772.8,860.5 774.8,860.5 776.8,860.4 778.8,861.0 780.8,860.9 782.8,860.5 784.8,860.6 786.8,860.7 788.8,861.6 790.8,861.1 792.8,861.2 794.8,861.5 796.8,861.5 798.8,860.7 800.8,861.4 802.8,861.1 804.5,861.0" stroke="#000" stroke-width="1.0"/>
<polyline points="653.6,881.7 653.9,873.5 654.2,869.0 654.5,866.4 654.8,864.9 655.1,864.0 655.4,863.5 655.7,863.1 656.4,862.6 657.1,862.2 657.8,862.0" stroke="#555" stroke-width="0.7"/>
<polyline points="804.5,842.7 804.8,850.5 805.1,854.8 805.4,857.3 805.7,858.7 806.0,859.5 806.3,859.9 806.6,860.4 807.3,860.4 808.0,860.9 808.7,861.1 809.4,861.3 810.1,861.0 810.8,861.1 811.5,861.4 812.2,861.8 812.9,861.5 814.3,862.0 815.7,861.6 817.1,861.9 818.5,862.0 819.9,861.7 821.3,861.8 822.7,861.8" stroke="#000" stroke-width="1.0"/>
<polyline points="653.6,862.0 653.6,881.7 653.6,881.7" stroke="#a6a6a6" stroke-width="0.8"/>
<polyline points="804.5,861.0 804.5,842.7 804.5,842.7" stroke="#a6a6a6" stroke-width="0.8"/>
<polyline points="642.0,862.3 644.0,862.2 646.0,861.8 648.0,862.2 650.0,861.8 652.0,862.2 660.6,863.1 661.3,863.2 662.0,862.3 663.4,862.2 664.8,862.9 666.2,862.7 667.6,861.6 669.0,862.2 670.4,861.7 671.8,861.8 673.2,862.2 674.6,861.4 676.0,861.5 677.4,862.3 678.8,861.4 680.8,861.5 682.8,862.1 684.8,862.2 686.8,862.1 688.8,861.2 690.8,861.3 692.8,862.2 694.8,861.8 696.8,861.8 698.8,861.8 700.8,862.4 702.8,861.6 704.8,861.9 706.8,862.3 708.8,862.1 710.8,862.4 712.8,861.4 714.8,861.5 716.8,861.3 718.8,861.6 720.8,862.0 722.8,861.6 724.8,862.5 726.8,862.0 728.8,862.4 730.8,862.2 732.8,861.6 734.8,862.0 736.8,862.5 738.8,862.3 740.8,861.7 742.8,862.5 744.8,862.5 746.8,862.3 748.8,861.9 750.8,861.8 752.8,862.4 754.8,861.9 756.8,861.9 758.8,861.4 760.8,861.5 762.8,861.5 764.8,862.2 766.8,861.7 768.8,861.8 770.8,861.4 772.8,862.1 774.8,862.5 776.8,862.4 778.8,862.5 780.8,862.4 782.8,861.6 784.8,861.7 786.8,861.6 788.8,862.6 790.8,861.7 792.8,862.1 794.8,861.9 796.8,862.4 798.8,862.2 800.8,862.6 802.8,861.8 804.5,862.0" stroke="#000" stroke-width="1.0"/>
<polyline points="653.9,882.3 654.2,875.3 654.5,871.3 654.8,868.9 655.1,867.5 655.4,866.7 655.7,866.1 656.4,865.2 657.1,864.7 657.8,864.3 658.5,863.9 659.2,863.6 659.9,863.3 660.6,863.1" stroke="#555" stroke-width="0.7"/>
<polyline points="804.8,842.8 805.1,850.1 805.4,854.1 805.7,856.4 806.0,857.8 806.3,858.6 806.6,859.1 807.3,859.7 808.0,860.2 808.7,860.6 809.4,860.3 810.1,860.9 810.8,860.9 811.5,861.0 812.2,861.1 812.9,861.3 814.3,861.8 815.7,861.7 817.1,861.4 818.5,861.7 819.9,861.9 821.3,861.7 822.7,861.9" stroke="#000" stroke-width="1.0"/>
<polyline points="653.6,862.0 653.6,894.9 653.6,894.9 653.9,882.3" stroke="#a6a6a6" stroke-width="0.8"/>
<polyline points="804.5,862.0 804.5,829.8 804.5,829.8 804.8,842.8" stroke="#a6a6a6" stroke-width="0.8"/>
<polyline points="642.0,862.0 644.0,862.0 646.0,861.7 648.0,861.9 650.0,862.1 652.0,862.0 662.0,864.4 663.4,864.4 664.8,864.1 666.2,863.0 667.6,863.9 669.0,863.0 670.4,863.0 671.8,863.5 673.2,863.4 674.6,862.7 676.0,863.3 677.4,862.4 678.8,863.2 680.8,863.0 682.8,862.3 684.8,863.1 686.8,863.3 688.8,862.6 690.8,863.3 692.8,862.5 694.8,863.0 696.8,863.1 698.8,862.8 700.8,863.1 702.8,863.3 704.8,863.1 706.8,863.4 708.8,862.6 710.8,863.2 712.8,862.8 714.8,862.4 716.8,863.3 718.8,862.3 720.8,862.7 722.8,862.5 724.8,862.9 726.8,863.4 728.8,862.9 730.8,863.3 732.8,862.9 734.8,863.1 736.8,862.6 738.8,862.5 740.8,863.0 742.8,862.6 744.8,863.3 746.8,862.6 748.8,862.8 750.8,863.1 752.8,862.8 754.8,862.5 756.8,863.2 758.8,862.7 760.8,863.5 762.8,863.4 764.8,862.5 766.8,862.4 768.8,862.5 770.8,862.8 772.8,862.9 774.8,863.2 776.8,863.0 778.8,862.9 780.8,863.4 782.8,863.5 784.8,862.5 786.8,862.9 788.8,862.8 790.8,863.4 792.8,863.5 794.8,863.0 796.8,862.9 798.8,863.1 800.8,863.2 802.8,863.5 804.5,863.0" stroke="#000" stroke-width="1.0"/>
<polyline points="654.2,881.5 654.5,876.1 654.8,873.0 655.1,871.1 655.4,869.9 655.7,869.1 656.4,867.9 657.1,867.1 657.8,866.5 658.5,866.0 659.2,865.6 659.9,865.2 660.6,864.9 661.3,864.6 662.0,864.4" stroke="#555" stroke-width="0.7"/>
<polyline points="805.1,845.3 805.4,851.0 805.7,854.2 806.0,856.1 806.3,857.2 806.6,857.9 807.3,858.8 808.0,859.3 808.7,859.7 809.4,860.0 810.1,860.2 810.8,860.3 811.5,860.9 812.2,860.9 812.9,861.0 814.3,861.0 815.7,861.5 817.1,861.3 818.5,861.4 819.9,861.7 821.3,862.0 822.7,862.1" stroke="#000" stroke-width="1.0"/>
<polyline points="653.6,862.0 653.6,908.0 653.6,908.0 653.9,891.0 654.2,881.5" stroke="#a6a6a6" stroke-width="0.8"/>
<polyline points="804.5,863.0 804.5,816.9 804.5,816.9 804.8,835.2 805.1,845.3" stroke="#a6a6a6" stroke-width="0.8"/>
<polyline points="642.0,862.2 644.0,862.1 646.0,862.0 648.0,861.9 650.0,861.8 652.0,862.0 663.4,865.5 664.8,865.0 666.2,864.7 667.6,865.0 669.0,864.7 670.4,864.9 671.8,864.6 673.2,864.2 674.6,864.5 676.0,864.6 677.4,863.8 678.8,863.5 680.8,863.8 682.8,864.2 684.8,864.2 686.8,864.3 688.8,864.0 690.8,863.5 692.8,863.7 694.8,863.6 696.8,863.5 698.8,864.4 700.8,863.6 702.8,864.1 704.8,864.5 706.8,863.7 708.8,864.4 710.8,864.1 712.8,863.7 714.8,863.9 716.8,863.8 718.8,863.8 720.8,863.4 722.8,864.3 724.8,864.5 726.8,863.9 728.8,864.5 730.8,864.4 732.8,863.7 734.8,863.6 736.8,863.7 738.8,864.0 740.8,864.3 742.8,864.2 744.8,863.5 746.8,864.2 748.8,864.5 750.8,863.6 752.8,863.5 754.8,864.0 756.8,863.7 758.8,864.1 760.8,863.6 762.8,864.5 764.8,863.7 766.8,863.4 768.8,864.5 770.8,863.9 772.8,864.2 774.8,864.4 776.8,864.5 778.8,864.5 780.8,863.9 782.8,864.2 784.8,863.5 786.8,864.0 788.8,864.3 790.8,864.3 792.8,863.4 794.8,864.0 796.8,864.1 798.8,864.3 800.8,863.9 802.8,863.4 804.5,864.0" stroke="#000" stroke-width="1.0"/>
<polyline points="654.2,887.8 654.5,881.0 654.8,877.0 655.1,874.6 655.4,873.1 655.7,872.0 656.4,870.5 657.1,869.6 657.8,868.8 658.5,868.1 659.2,867.6 659.9,867.1 660.6,866.7 661.3,866.3 662.0,866.0 663.4,865.5" stroke="#555" stroke-width="0.7"/>
<polyline points="805.1,840.5 805.4,847.8 805.7,852.0 806.0,854.4 806.3,855.8 806.6,856.7 807.3,857.9 808.0,858.5 808.7,859.0 809.4,859.4 810.1,859.8 810.8,860.0 811.5,860.6 812.2,860.5 812.9,860.5 814.3,861.1 815.7,861.5 817.1,861.2 818.5,861.5 819.9,861.6 821.3,861.9 822.7,861.6" stroke="#000" stroke-width="1.0"/>
<polyline points="653.6,862.0 653.6,921.2 653.6,921.2 653.9,899.8 654.2,887.8" stroke="#a6a6a6" stroke-width="0.8"/>
<polyline points="804.5,864.0 804.5,804.1 804.5,804.1 804.8,827.5 805.1,840.5" stroke="#a6a6a6" stroke-width="0.8"/>
<polyline points="642.0,861.9 644.0,861.9 646.0,862.0 648.0,861.9 650.0,862.2 652.0,862.2 663.4,867.0 664.8,867.0 666.2,866.1 667.6,865.7 669.0,865.6 670.4,865.3 671.8,864.8 673.2,864.8 674.6,865.2 676.0,864.8 677.4,864.7 678.8,865.2 680.8,865.1 682.8,865.6 684.8,864.9 686.8,864.8 688.8,865.2 690.8,864.5 692.8,865.2 694.8,864.7 696.8,865.2 698.8,865.2 700.8,864.9 702.8,865.4 704.8,864.5 706.8,865.4 708.8,864.8 710.8,865.6 712.8,865.3 714.8,864.6 716.8,865.0 718.8,865.6 720.8,865.6 722.8,864.8 724.8,864.6 726.8,864.5 728.8,864.8 730.8,864.6 732.8,865.2 734.8,864.5 736.8,865.3 738.8,865.0 740.8,865.5 742.8,865.1 744.8,864.9 746.8,864.7 748.8,865.5 750.8,865.4 752.8,865.1 754.8,864.6 756.8,864.8 758.8,864.4 760.8,865.3 762.8,865.3 764.8,864.8 766.8,865.3 768.8,864.4 770.8,865.1 772.8,865.3 774.8,864.5 776.8,865.5 778.8,864.8 780.8,865.5 782.8,865.4 784.8,865.4 786.8,864.7 788.8,864.5 790.8,865.0 792.8,865.5 794.8,864.8 796.8,865.0 798.8,864.9 800.8,864.6 802.8,865.4 804.5,865.0" stroke="#000" stroke-width="1.0"/>
<polyline points="654.2,894.1 654.5,885.8 654.8,881.0 655.1,878.1 655.4,876.3 655.7,875.0 656.4,873.2 657.1,872.0 657.8,871.1 658.5,870.3 659.2,869.6 659.9,869.0 660.6,868.5 661.3,868.0 662.0,867.6 663.4,867.0" stroke="#555" stroke-width="0.7"/>
<polyline points="805.4,844.7 805.7,849.7 806.0,852.7 806.3,854.4 806.6,855.5 807.3,857.0 808.0,857.8 808.7,858.4 809.4,858.8 810.1,859.3 810.8,859.6 811.5,859.9 812.2,860.2 812.9,860.4 814.3,860.9 815.7,860.9 817.1,861.3 818.5,861.6 819.9,861.5 821.3,861.6 822.7,862.1" stroke="#000" stroke-width="1.0"/>
<polyline points="653.6,862.0 653.6,934.3 653.6,934.3 653.9,908.5 654.2,894.1" stroke="#a6a6a6" stroke-width="0.8"/>
<polyline points="804.5,865.0 804.5,791.2 804.5,791.2 804.8,819.8 805.1,835.8 805.4,844.7" stroke="#a6a6a6" stroke-width="0.8"/>
<rect x="897.1" y="859" width="147.39999999999998" height="5" fill="#000"/>
<polyline points="876.0,863.0 878.0,863.2 880.0,863.2 882.0,863.2 884.0,862.9 886.0,862.8 888.0,863.2 890.0,862.9 892.0,863.0 894.0,862.8 900.9,856.6 901.6,857.5 902.3,856.6 903.0,857.5 904.4,858.3 905.8,858.0 907.2,857.8 908.6,858.5 910.0,858.1 911.4,858.2 912.8,858.6 914.8,857.9 916.8,858.0 918.8,857.8 920.8,858.4 922.8,858.0 924.8,858.3 926.8,858.7 928.8,858.8 930.8,857.7 932.8,858.8 934.8,858.6 936.8,857.8 938.8,858.5 940.8,858.3 942.8,858.8 944.8,858.0 946.8,858.6 948.8,858.6 950.8,857.8 952.8,858.3 954.8,857.8 956.8,858.3 958.8,857.7 960.8,858.0 962.8,857.9 964.8,858.3 966.8,858.6 968.8,858.4 970.8,857.9 972.8,857.8 974.8,857.7 976.8,858.8 978.8,858.4 980.8,858.4 982.8,858.0 984.8,858.8 986.8,858.8 988.8,858.1 990.8,858.1 992.8,858.4 994.8,857.9 996.8,857.8 998.8,858.3 1000.8,857.9 1002.8,857.8 1004.8,858.8 1006.8,858.7 1008.8,857.9 1010.8,858.6 1012.8,858.5 1014.8,858.7 1016.8,858.4 1018.8,858.8 1020.8,857.8 1022.8,857.9 1024.8,858.4 1026.8,857.9 1028.8,858.0 1030.8,858.6 1032.8,858.6 1034.8,858.0 1036.8,858.3 1038.8,857.7 1040.8,858.2 1042.8,858.8 1044.8,858.7 1045.0,858.3" stroke="#000" stroke-width="1.0"/>
<polyline points="894.9,835.9 895.2,842.6 895.5,846.6 895.8,849.0 896.1,850.6 896.4,851.7 896.7,852.5 897.4,853.7 898.1,854.6 898.8,855.3 899.5,855.8 900.2,856.3 900.9,856.6" stroke="#222" stroke-width="0.7"/>
<polyline points="1045.3,886.1 1045.6,877.7 1045.9,872.9 1046.2,870.2 1046.5,868.5 1046.8,867.5 1047.1,866.8 1047.8,865.8 1048.5,865.2 1049.2,864.5 1049.9,864.5 1050.6,864.0 1051.3,863.8 1052.0,864.1 1052.7,863.9 1053.4,863.3 1054.8,863.4 1056.2,863.3 1057.6,862.9 1059.0,863.1 1060.4,863.0 1061.8,862.8" stroke="#000" stroke-width="1.0"/>
<polyline points="894.6,863.0 894.6,824.2 894.6,824.2 894.9,835.9" stroke="#a6a6a6" stroke-width="0.8"/>
<polyline points="1045.0,858.3 1045.0,901.0 1045.0,901.0 1045.3,886.1" stroke="#a6a6a6" stroke-width="0.8"/>
<polyline points="876.0,863.0 878.0,862.9 880.0,863.0 882.0,863.0 884.0,862.7 886.0,863.3 888.0,863.1 890.0,862.8 892.0,862.9 894.0,862.8 900.2,857.6 900.9,858.1 901.6,857.9 902.3,858.7 903.0,858.2 904.4,858.6 905.8,858.6 907.2,858.4 908.6,858.8 910.0,859.5 911.4,858.8 912.8,859.4 914.8,858.6 916.8,859.0 918.8,859.2 920.8,859.4 922.8,858.6 924.8,859.0 926.8,858.8 928.8,859.5 930.8,859.5 932.8,858.6 934.8,859.4 936.8,858.9 938.8,858.7 940.8,858.7 942.8,859.2 944.8,858.6 946.8,858.8 948.8,858.6 950.8,859.7 952.8,858.9 954.8,859.3 956.8,858.9 958.8,859.3 960.8,858.7 962.8,859.5 964.8,858.8 966.8,858.8 968.8,859.4 970.8,859.3 972.8,859.3 974.8,859.2 976.8,858.7 978.8,858.8 980.8,858.7 982.8,858.6 984.8,858.8 986.8,858.9 988.8,859.5 990.8,859.2 992.8,858.8 994.8,858.8 996.8,858.7 998.8,859.4 1000.8,859.2 1002.8,859.6 1004.8,859.3 1006.8,859.1 1008.8,859.0 1010.8,858.7 1012.8,858.5 1014.8,859.2 1016.8,858.9 1018.8,859.2 1020.8,858.8 1022.8,858.7 1024.8,858.9 1026.8,858.6 1028.8,859.2 1030.8,859.2 1032.8,859.6 1034.8,859.0 1036.8,859.0 1038.8,859.1 1040.8,859.1 1042.8,859.6 1044.8,859.3 1045.0,859.1" stroke="#000" stroke-width="1.0"/>
<polyline points="894.6,833.9 894.9,842.5 895.2,847.5 895.5,850.4 895.8,852.2 896.1,853.3 896.4,854.1 896.7,854.7 897.4,855.7 898.1,856.3 898.8,856.8 899.5,857.3 900.2,857.6" stroke="#222" stroke-width="0.7"/>
<polyline points="1045.3,880.3 1045.6,874.0 1045.9,870.4 1046.2,868.4 1046.5,867.1 1046.8,866.3 1047.1,865.8 1047.8,865.1 1048.5,864.5 1049.2,864.3 1049.9,864.2 1050.6,863.8 1051.3,864.0 1052.0,863.5 1052.7,863.7 1053.4,863.5 1054.8,863.0 1056.2,863.0 1057.6,863.2 1059.0,863.2 1060.4,863.0 1061.8,862.9" stroke="#000" stroke-width="1.0"/>
<polyline points="894.6,863.0 894.6,833.9 894.6,833.9" stroke="#a6a6a6" stroke-width="0.8"/>
<polyline points="1045.0,859.1 1045.0,891.5 1045.0,891.5 1045.3,880.3" stroke="#a6a6a6" stroke-width="0.8"/>
<polyline points="876.0,863.0 878.0,862.8 880.0,862.9 882.0,863.2 884.0,862.7 886.0,863.0 888.0,863.0 890.0,862.7 892.0,863.0 894.0,863.1 898.8,858.4 899.5,858.8 900.2,859.4 900.9,858.8 901.6,859.6 902.3,858.9 903.0,859.6 904.4,859.0 905.8,860.1 907.2,860.3 908.6,859.6 910.0,859.3 911.4,859.5 912.8,859.9 914.8,860.4 916.8,860.4 918.8,860.4 920.8,859.5 922.8,860.2 924.8,859.7 926.8,859.4 928.8,860.1 930.8,859.8 932.8,860.5 934.8,859.8 936.8,859.7 938.8,859.8 940.8,859.5 942.8,859.9 944.8,860.5 946.8,860.4 948.8,860.3 950.8,859.5 952.8,859.7 954.8,859.7 956.8,859.4 958.8,859.6 960.8,860.4 962.8,859.9 964.8,859.8 966.8,859.5 968.8,860.2 970.8,860.5 972.8,859.6 974.8,859.8 976.8,860.2 978.8,860.3 980.8,859.4 982.8,860.1 984.8,859.5 986.8,859.4 988.8,860.3 990.8,859.6 992.8,859.7 994.8,859.5 996.8,860.0 998.8,859.6 1000.8,860.5 1002.8,859.5 1004.8,860.2 1006.8,859.5 1008.8,860.4 1010.8,860.0 1012.8,860.1 1014.8,860.4 1016.8,860.3 1018.8,859.3 1020.8,859.5 1022.8,859.4 1024.8,859.5 1026.8,860.3 1028.8,860.2 1030.8,859.5 1032.8,859.8 1034.8,860.2 1036.8,859.9 1038.8,860.5 1040.8,860.4 1042.8,860.4 1044.8,859.9 1045.0,859.9" stroke="#000" stroke-width="1.0"/>
<polyline points="894.6,843.6 894.9,849.1 895.2,852.3 895.5,854.2 895.8,855.3 896.1,856.1 896.4,856.6 896.7,857.0 897.4,857.6 898.1,858.1 898.8,858.4" stroke="#222" stroke-width="0.7"/>
<polyline points="1045.0,882.0 1045.3,874.5 1045.6,870.3 1045.9,868.0 1046.2,866.6 1046.5,865.8 1046.8,865.2 1047.1,864.7 1047.8,864.2 1048.5,864.1 1049.2,863.8 1049.9,863.5 1050.6,863.9 1051.3,863.3 1052.0,863.6 1052.7,863.1 1053.4,863.1 1054.8,862.9 1056.2,863.4 1057.6,863.0 1059.0,862.9 1060.4,862.7 1061.8,863.0" stroke="#000" stroke-width="1.0"/>
<polyline points="894.6,863.0 894.6,843.6 894.6,843.6" stroke="#a6a6a6" stroke-width="0.8"/>
<polyline points="1045.0,859.9 1045.0,882.0 1045.0,882.0" stroke="#a6a6a6" stroke-width="0.8"/>
<polyline points="876.0,862.8 878.0,862.9 880.0,862.8 882.0,862.9 884.0,862.8 886.0,863.0 888.0,862.8 890.0,863.1 892.0,863.2 894.0,862.8 896.4,859.1 896.7,859.8 897.4,859.4 898.1,859.6 898.8,859.9 899.5,860.6 900.2,860.5 900.9,860.3 901.6,860.0 902.3,860.6 903.0,860.4 904.4,860.1 905.8,860.9 907.2,860.7 908.6,860.9 910.0,861.2 911.4,860.8 912.8,860.6 914.8,860.9 916.8,860.7 918.8,860.3 920.8,860.2 922.8,861.0 924.8,860.2 926.8,861.0 928.8,860.5 930.8,861.3 932.8,861.1 934.8,860.4 936.8,860.6 938.8,860.8 940.8,860.9 942.8,861.3 944.8,860.5 946.8,860.3 948.8,860.7 950.8,860.4 952.8,860.8 954.8,861.3 956.8,860.8 958.8,860.3 960.8,861.0 962.8,861.0 964.8,860.8 966.8,860.4 968.8,860.5 970.8,860.9 972.8,861.0 974.8,860.3 976.8,860.5 978.8,860.2 980.8,860.1 982.8,860.9 984.8,860.4 986.8,861.2 988.8,861.3 990.8,860.6 992.8,860.8 994.8,860.1 996.8,860.4 998.8,860.6 1000.8,860.3 1002.8,861.3 1004.8,860.2 1006.8,860.8 1008.8,860.6 1010.8,861.3 1012.8,861.3 1014.8,861.3 1016.8,861.3 1018.8,860.3 1020.8,860.3 1022.8,860.7 1024.8,860.5 1026.8,861.2 1028.8,860.8 1030.8,860.9 1032.8,860.7 1034.8,861.3 1036.8,860.6 1038.8,860.3 1040.8,860.7 1042.8,860.8 1044.8,860.4 1045.0,860.7" stroke="#000" stroke-width="1.0"/>
<polyline points="894.6,853.3 894.6,853.3 894.9,855.7 895.2,857.1 895.5,858.0 895.8,858.5 896.1,858.9 896.4,859.1" stroke="#222" stroke-width="0.7"/>
<polyline points="1045.0,872.5 1045.0,872.5 1045.3,868.8 1045.6,866.7 1045.9,865.5 1046.2,864.7 1046.5,864.6 1046.8,864.3 1047.1,863.8 1047.8,863.5 1048.5,863.4 1049.2,863.6 1049.9,863.4 1050.6,863.0 1051.3,863.1 1052.0,862.9 1052.7,863.2 1053.4,863.2 1054.8,863.2 1056.2,863.0 1057.6,863.1 1059.0,862.9 1060.4,862.8 1061.8,863.2" stroke="#000" stroke-width="1.0"/>
<polyline points="894.6,863.0 894.6,853.3" stroke="#a6a6a6" stroke-width="0.8"/>
<polyline points="1045.0,860.7 1045.0,872.5" stroke="#a6a6a6" stroke-width="0.8"/>
<polyline points="876.0,863.2 878.0,862.8 880.0,863.1 882.0,863.1 884.0,862.7 886.0,863.2 888.0,862.9 890.0,862.8 892.0,863.0 894.0,863.2 894.6,863.0 894.6,863.0 894.9,862.9 895.2,861.6 895.5,862.1 895.8,861.3 896.1,862.1 896.4,862.1 896.7,861.3 897.4,861.8 898.1,861.2 898.8,861.0 899.5,861.0 900.2,861.8 900.9,861.0 901.6,861.6 902.3,861.5 903.0,861.1 904.4,861.6 905.8,861.3 907.2,862.0 908.6,861.2 910.0,861.6 911.4,862.0 912.8,861.9 914.8,861.2 916.8,861.8 918.8,861.2 920.8,862.1 922.8,861.1 924.8,861.0 926.8,861.5 928.8,861.5 930.8,861.5 932.8,861.4 934.8,861.0 936.8,861.8 938.8,861.7 940.8,861.3 942.8,862.0 944.8,861.3 946.8,861.1 948.8,861.1 950.8,861.0 952.8,861.8 954.8,861.0 956.8,861.1 958.8,861.9 960.8,861.8 962.8,861.1 964.8,861.4 966.8,862.1 968.8,862.0 970.8,861.5 972.8,861.7 974.8,862.0 976.8,861.5 978.8,861.6 980.8,861.8 982.8,861.4 984.8,862.1 986.8,861.6 988.8,861.6 990.8,861.7 992.8,861.3 994.8,862.1 996.8,861.1 998.8,862.0 1000.8,861.1 1002.8,861.5 1004.8,862.0 1006.8,861.8 1008.8,861.6 1010.8,861.2 1012.8,861.4 1014.8,861.2 1016.8,861.5 1018.8,861.7 1020.8,861.0 1022.8,861.2 1024.8,862.1 1026.8,862.1 1028.8,861.3 1030.8,861.8 1032.8,861.9 1034.8,861.9 1036.8,861.5 1038.8,861.0 1040.8,861.7 1042.8,861.5 1044.8,861.5 1045.0,861.5" stroke="#000" stroke-width="1.0"/>
<polyline points="1045.0,863.0 1045.0,863.1 1045.3,862.9 1045.6,863.0 1045.9,863.2 1046.2,863.1 1046.5,863.2 1046.8,862.8 1047.1,863.0 1047.8,863.0 1048.5,863.2 1049.2,863.0 1049.9,862.8 1050.6,863.2 1051.3,862.8 1052.0,862.8 1052.7,862.8 1053.4,862.9 1054.8,862.9 1056.2,862.9 1057.6,863.2 1059.0,863.1 1060.4,862.8 1061.8,863.2" stroke="#000" stroke-width="1.0"/>
<polyline points="894.6,863.0 894.6,863.0" stroke="#a6a6a6" stroke-width="0.8"/>
<polyline points="1045.0,861.5 1045.0,863.0" stroke="#a6a6a6" stroke-width="0.8"/>
<polyline points="876.0,863.2 878.0,862.7 880.0,863.2 882.0,863.0 884.0,862.9 886.0,863.2 888.0,863.3 890.0,862.8 892.0,863.2 894.0,862.7 896.4,864.0 896.7,863.8 897.4,863.1 898.1,862.8 898.8,863.3 899.5,862.5 900.2,862.4 900.9,862.7 901.6,862.6 902.3,862.9 903.0,862.1 904.4,862.7 905.8,862.9 907.2,862.9 908.6,862.5 910.0,862.1 911.4,862.9 912.8,862.7 914.8,862.3 916.8,862.2 918.8,862.0 920.8,862.7 922.8,862.7 924.8,861.8 926.8,861.8 928.8,862.2 930.8,862.1 932.8,862.7 934.8,862.0 936.8,862.7 938.8,862.7 940.8,862.2 942.8,862.5 944.8,861.9 946.8,862.7 948.8,862.8 950.8,862.6 952.8,861.9 954.8,862.7 956.8,862.5 958.8,862.9 960.8,862.7 962.8,862.8 964.8,861.8 966.8,862.2 968.8,862.1 970.8,862.4 972.8,862.2 974.8,862.0 976.8,862.4 978.8,862.9 980.8,862.5 982.8,862.8 984.8,862.2 986.8,861.9 988.8,862.4 990.8,862.6 992.8,862.7 994.8,862.3 996.8,862.4 998.8,862.8 1000.8,862.0 1002.8,861.9 1004.8,862.0 1006.8,862.4 1008.8,862.7 1010.8,862.8 1012.8,862.0 1014.8,862.2 1016.8,862.0 1018.8,862.5 1020.8,862.8 1022.8,861.9 1024.8,862.5 1026.8,862.7 1028.8,862.0 1030.8,862.5 1032.8,862.7 1034.8,861.9 1036.8,862.5 1038.8,861.9 1040.8,862.7 1042.8,862.1 1044.8,862.0 1045.0,862.4" stroke="#000" stroke-width="1.0"/>
<polyline points="894.6,871.7 894.6,871.7 894.9,868.4 895.2,866.5 895.5,865.4 895.8,864.8 896.1,864.3 896.4,864.0" stroke="#222" stroke-width="0.7"/>
<polyline points="1045.0,853.6 1045.0,853.6 1045.3,857.3 1045.6,859.3 1045.9,860.5 1046.2,861.0 1046.5,861.3 1046.8,862.1 1047.1,862.2 1047.8,862.0 1048.5,862.4 1049.2,862.4 1049.9,862.5 1050.6,862.8 1051.3,862.7 1052.0,862.8 1052.7,863.1 1053.4,863.1 1054.8,862.8 1056.2,863.1 1057.6,862.8 1059.0,863.2 1060.4,863.1 1061.8,862.9" stroke="#000" stroke-width="1.0"/>
<polyline points="894.6,863.0 894.6,871.7" stroke="#a6a6a6" stroke-width="0.8"/>
<polyline points="1045.0,862.4 1045.0,853.6" stroke="#a6a6a6" stroke-width="0.8"/>
<polyline points="876.0,863.3 878.0,863.1 880.0,862.8 882.0,863.1 884.0,862.7 886.0,863.2 888.0,863.1 890.0,863.1 892.0,863.0 894.0,863.0 898.8,864.7 899.5,864.8 900.2,864.6 900.9,864.1 901.6,863.3 902.3,864.0 903.0,864.2 904.4,863.4 905.8,863.3 907.2,862.8 908.6,862.9 910.0,863.6 911.4,863.3 912.8,863.3 914.8,863.6 916.8,863.7 918.8,863.7 920.8,863.4 922.8,863.0 924.8,863.6 926.8,863.4 928.8,863.4 930.8,863.4 932.8,862.6 934.8,862.7 936.8,863.3 938.8,862.7 940.8,863.4 942.8,862.8 944.8,862.7 946.8,863.7 948.8,862.6 950.8,862.9 952.8,863.1 954.8,863.4 956.8,862.7 958.8,862.7 960.8,862.8 962.8,863.3 964.8,863.7 966.8,863.7 968.8,862.6 970.8,862.7 972.8,863.3 974.8,862.6 976.8,863.0 978.8,863.0 980.8,862.8 982.8,863.7 984.8,863.2 986.8,863.5 988.8,862.9 990.8,863.8 992.8,863.6 994.8,862.6 996.8,863.4 998.8,863.4 1000.8,863.3 1002.8,863.6 1004.8,862.8 1006.8,863.6 1008.8,863.2 1010.8,863.7 1012.8,863.0 1014.8,862.8 1016.8,863.3 1018.8,863.7 1020.8,862.8 1022.8,863.2 1024.8,863.4 1026.8,863.7 1028.8,862.9 1030.8,863.0 1032.8,863.4 1034.8,862.9 1036.8,862.6 1038.8,862.7 1040.8,863.0 1042.8,863.6 1044.8,863.6 1045.0,863.2" stroke="#000" stroke-width="1.0"/>
<polyline points="894.6,880.4 894.9,874.5 895.2,871.1 895.5,869.1 895.8,867.8 896.1,867.0 896.4,866.5 896.7,866.1 897.4,865.5 898.1,865.0 898.8,864.7" stroke="#222" stroke-width="0.7"/>
<polyline points="1045.0,844.1 1045.3,851.5 1045.6,855.7 1045.9,858.1 1046.2,859.4 1046.5,860.3 1046.8,860.8 1047.1,861.0 1047.8,861.4 1048.5,862.1 1049.2,861.8 1049.9,862.6 1050.6,862.6 1051.3,862.4 1052.0,862.4 1052.7,862.5 1053.4,862.9 1054.8,862.7 1056.2,862.9 1057.6,863.1 1059.0,862.8 1060.4,862.9 1061.8,862.8" stroke="#000" stroke-width="1.0"/>
<polyline points="894.6,863.0 894.6,880.4 894.6,880.4" stroke="#a6a6a6" stroke-width="0.8"/>
<polyline points="1045.0,863.2 1045.0,844.1 1045.0,844.1" stroke="#a6a6a6" stroke-width="0.8"/>
<polyline points="876.0,863.0 878.0,863.2 880.0,862.8 882.0,863.2 884.0,862.8 886.0,863.0 888.0,862.9 890.0,862.8 892.0,862.8 894.0,863.1 900.2,865.5 900.9,865.8 901.6,864.6 902.3,864.5 903.0,864.7 904.4,863.9 905.8,864.5 907.2,864.6 908.6,863.6 910.0,863.9 911.4,864.5 912.8,863.8 914.8,863.5 916.8,863.9 918.8,864.0 920.8,864.3 922.8,863.9 924.8,863.5 926.8,864.2 928.8,864.1 930.8,864.0 932.8,863.9 934.8,863.5 936.8,863.9 938.8,863.5 940.8,864.4 942.8,864.3 944.8,863.7 946.8,864.2 948.8,863.8 950.8,864.2 952.8,863.8 954.8,864.3 956.8,864.1 958.8,863.7 960.8,864.5 962.8,863.9 964.8,864.6 966.8,863.9 968.8,863.5 970.8,864.1 972.8,863.5 974.8,864.5 976.8,863.7 978.8,864.0 980.8,863.6 982.8,864.0 984.8,863.6 986.8,863.5 988.8,863.6 990.8,864.3 992.8,864.2 994.8,863.6 996.8,864.1 998.8,863.9 1000.8,863.6 1002.8,863.6 1004.8,864.1 1006.8,863.4 1008.8,863.7 1010.8,864.4 1012.8,864.0 1014.8,864.5 1016.8,863.7 1018.8,864.2 1020.8,864.3 1022.8,864.0 1024.8,864.0 1026.8,864.0 1028.8,864.4 1030.8,864.0 1032.8,863.7 1034.8,864.0 1036.8,864.0 1038.8,864.0 1040.8,863.8 1042.8,864.4 1044.8,864.1 1045.0,864.0" stroke="#000" stroke-width="1.0"/>
<polyline points="894.6,889.1 894.9,880.5 895.2,875.6 895.5,872.7 895.8,870.9 896.1,869.8 896.4,869.0 896.7,868.4 897.4,867.4 898.1,866.8 898.8,866.3 899.5,865.8 900.2,865.5" stroke="#222" stroke-width="0.7"/>
<polyline points="1045.3,845.8 1045.6,852.0 1045.9,855.6 1046.2,857.6 1046.5,858.9 1046.8,859.7 1047.1,860.2 1047.8,860.9 1048.5,861.1 1049.2,861.4 1049.9,862.1 1050.6,862.4 1051.3,862.5 1052.0,862.3 1052.7,862.8 1053.4,862.4 1054.8,862.9 1056.2,862.6 1057.6,862.7 1059.0,863.2 1060.4,862.9 1061.8,862.8" stroke="#000" stroke-width="1.0"/>
<polyline points="894.6,863.0 894.6,889.1 894.6,889.1" stroke="#a6a6a6" stroke-width="0.8"/>
<polyline points="1045.0,864.0 1045.0,834.7 1045.0,834.7 1045.3,845.8" stroke="#a6a6a6" stroke-width="0.8"/>
<polyline points="876.0,862.8 878.0,863.2 880.0,862.9 882.0,862.8 884.0,863.0 886.0,863.1 888.0,863.1 890.0,863.1 892.0,862.9 894.0,862.8 900.9,866.5 901.6,866.3 902.3,865.8 903.0,865.9 904.4,865.0 905.8,865.6 907.2,865.0 908.6,865.4 910.0,864.7 911.4,865.4 912.8,865.4 914.8,865.3 916.8,864.9 918.8,865.2 920.8,864.3 922.8,865.0 924.8,864.7 926.8,864.4 928.8,864.7 930.8,865.0 932.8,865.2 934.8,865.3 936.8,865.2 938.8,864.7 940.8,864.7 942.8,864.5 944.8,865.0 946.8,864.5 948.8,865.0 950.8,864.3 952.8,864.4 954.8,864.7 956.8,865.0 958.8,864.7 960.8,865.3 962.8,864.3 964.8,865.2 966.8,864.3 968.8,864.7 970.8,864.8 972.8,864.7 974.8,864.7 976.8,865.2 978.8,864.9 980.8,864.6 982.8,864.6 984.8,865.2 986.8,864.5 988.8,864.4 990.8,864.7 992.8,864.3 994.8,865.0 996.8,864.7 998.8,864.6 1000.8,864.9 1002.8,864.8 1004.8,864.3 1006.8,864.2 1008.8,865.2 1010.8,865.4 1012.8,864.6 1014.8,864.4 1016.8,864.8 1018.8,864.5 1020.8,864.8 1022.8,865.2 1024.8,865.3 1026.8,864.3 1028.8,865.3 1030.8,864.4 1032.8,865.4 1034.8,864.3 1036.8,864.6 1038.8,865.3 1040.8,865.0 1042.8,864.8 1044.8,865.1 1045.0,864.8" stroke="#000" stroke-width="1.0"/>
<polyline points="894.9,886.6 895.2,880.2 895.5,876.3 895.8,874.0 896.1,872.5 896.4,871.4 896.7,870.6 897.4,869.4 898.1,868.5 898.8,867.8 899.5,867.3 900.2,866.8 900.9,866.5" stroke="#222" stroke-width="0.7"/>
<polyline points="1045.3,840.1 1045.6,848.4 1045.9,853.1 1046.2,855.9 1046.5,857.5 1046.8,858.5 1047.1,859.2 1047.8,860.2 1048.5,860.8 1049.2,861.4 1049.9,861.4 1050.6,862.0 1051.3,862.1 1052.0,862.1 1052.7,862.5 1053.4,862.3 1054.8,862.6 1056.2,862.8 1057.6,862.9 1059.0,863.1 1060.4,863.2 1061.8,863.1" stroke="#000" stroke-width="1.0"/>
<polyline points="894.6,863.0 894.6,897.8 894.6,897.8 894.9,886.6" stroke="#a6a6a6" stroke-width="0.8"/>
<polyline points="1045.0,864.8 1045.0,825.3 1045.0,825.3 1045.3,840.1" stroke="#a6a6a6" stroke-width="0.8"/>
<rect x="1101.4" y="859" width="148.0999999999999" height="6" fill="#000"/>
<polyline points="1080.0,864.1 1082.0,864.2 1084.0,864.1 1086.0,864.1 1088.0,863.9 1090.0,864.0 1092.0,864.0 1094.0,864.3 1096.0,863.9 1098.0,863.9 1108.7,856.2 1110.1,857.0 1111.5,857.5 1112.9,857.4 1114.3,857.7 1115.7,857.1 1117.1,857.8 1118.5,857.2 1119.9,858.1 1121.3,858.2 1122.7,857.9 1124.1,858.1 1126.1,857.8 1128.1,857.7 1130.1,857.8 1132.1,858.3 1134.1,858.4 1136.1,857.7 1138.1,857.8 1140.1,857.6 1142.1,858.0 1144.1,857.5 1146.1,857.4 1148.1,857.9 1150.1,858.4 1152.1,857.9 1154.1,858.6 1156.1,857.5 1158.1,857.7 1160.1,858.6 1162.1,858.5 1164.1,857.5 1166.1,857.8 1168.1,858.1 1170.1,858.1 1172.1,858.1 1174.1,858.4 1176.1,858.3 1178.1,858.1 1180.1,857.9 1182.1,857.6 1184.1,858.1 1186.1,858.4 1188.1,857.7 1190.1,857.5 1192.1,858.3 1194.1,857.5 1196.1,858.4 1198.1,857.9 1200.1,857.7 1202.1,857.8 1204.1,858.5 1206.1,858.3 1208.1,858.4 1210.1,857.9 1212.1,857.8 1214.1,857.7 1216.1,857.7 1218.1,858.1 1220.1,857.7 1222.1,858.5 1224.1,857.6 1226.1,858.3 1228.1,857.8 1230.1,857.7 1232.1,858.1 1234.1,857.7 1236.1,858.5 1238.1,858.2 1240.1,858.3 1242.1,858.3 1244.1,858.3 1246.1,858.0 1248.1,857.6 1250.0,858.0" stroke="#000" stroke-width="1.0"/>
<polyline points="1099.2,830.9 1099.5,838.3 1099.8,842.7 1100.1,845.3 1100.4,847.0 1100.7,848.2 1101.0,849.1 1101.7,850.5 1102.4,851.5 1103.1,852.4 1103.8,853.1 1104.5,853.8 1105.2,854.3 1105.9,854.8 1106.6,855.2 1107.3,855.6 1108.7,856.2" stroke="#222" stroke-width="0.7"/>
<polyline points="1250.6,882.2 1250.9,876.7 1251.2,873.5 1251.5,871.6 1251.8,870.5 1252.1,869.7 1252.8,868.6 1253.5,867.9 1254.2,867.4 1254.9,866.9 1255.6,866.5 1256.3,866.2 1257.0,865.9 1257.7,865.6 1258.4,865.4 1259.8,865.2 1261.2,865.0 1262.6,864.8 1264.0,864.7 1265.4,864.3 1266.8,864.4" stroke="#000" stroke-width="1.0"/>
<polyline points="1098.9,864.0 1098.9,818.0 1098.9,818.0 1099.2,830.9" stroke="#a6a6a6" stroke-width="0.8"/>
<polyline points="1250.0,858.0 1250.0,909.2 1250.0,909.2 1250.3,891.9 1250.6,882.2" stroke="#a6a6a6" stroke-width="0.8"/>
<polyline points="1080.0,864.2 1082.0,863.9 1084.0,864.1 1086.0,863.8 1088.0,864.0 1090.0,864.0 1092.0,863.9 1094.0,864.3 1096.0,864.2 1098.0,864.2 1107.3,856.8 1108.7,857.0 1110.1,857.4 1111.5,857.5 1112.9,858.0 1114.3,858.4 1115.7,859.0 1117.1,858.4 1118.5,858.8 1119.9,858.8 1121.3,858.2 1122.7,858.3 1124.1,858.9 1126.1,858.3 1128.1,858.9 1130.1,858.3 1132.1,858.2 1134.1,859.3 1136.1,858.6 1138.1,859.0 1140.1,859.0 1142.1,859.0 1144.1,859.3 1146.1,859.3 1148.1,858.6 1150.1,858.3 1152.1,859.3 1154.1,858.9 1156.1,859.3 1158.1,859.0 1160.1,858.9 1162.1,858.4 1164.1,858.8 1166.1,858.5 1168.1,859.3 1170.1,859.1 1172.1,858.3 1174.1,858.3 1176.1,859.0 1178.1,858.2 1180.1,859.3 1182.1,858.3 1184.1,858.8 1186.1,859.3 1188.1,858.7 1190.1,859.3 1192.1,858.9 1194.1,858.3 1196.1,859.2 1198.1,859.0 1200.1,858.9 1202.1,858.9 1204.1,858.2 1206.1,858.3 1208.1,858.5 1210.1,858.4 1212.1,859.2 1214.1,859.2 1216.1,859.1 1218.1,858.4 1220.1,858.6 1222.1,858.2 1224.1,858.9 1226.1,859.3 1228.1,859.3 1230.1,858.7 1232.1,859.2 1234.1,858.8 1236.1,858.2 1238.1,858.5 1240.1,859.3 1242.1,858.8 1244.1,858.9 1246.1,859.0 1248.1,858.5 1250.0,858.8" stroke="#000" stroke-width="1.0"/>
<polyline points="1099.2,837.3 1099.5,843.2 1099.8,846.6 1100.1,848.7 1100.4,850.0 1100.7,850.9 1101.0,851.6 1101.7,852.7 1102.4,853.6 1103.1,854.3 1103.8,854.8 1104.5,855.4 1105.2,855.8 1105.9,856.2 1106.6,856.5 1107.3,856.8" stroke="#222" stroke-width="0.7"/>
<polyline points="1250.3,886.3 1250.6,878.5 1250.9,874.2 1251.2,871.6 1251.5,870.1 1251.8,869.2 1252.1,868.5 1252.8,867.7 1253.5,867.1 1254.2,866.7 1254.9,866.3 1255.6,866.0 1256.3,865.6 1257.0,865.5 1257.7,865.3 1258.4,865.4 1259.8,864.9 1261.2,864.6 1262.6,864.3 1264.0,864.1 1265.4,864.1 1266.8,864.3" stroke="#000" stroke-width="1.0"/>
<polyline points="1098.9,864.0 1098.9,827.2 1098.9,827.2 1099.2,837.3" stroke="#a6a6a6" stroke-width="0.8"/>
<polyline points="1250.0,858.8 1250.0,900.2 1250.0,900.2 1250.3,886.3" stroke="#a6a6a6" stroke-width="0.8"/>
<polyline points="1080.0,863.8 1082.0,863.8 1084.0,864.0 1086.0,863.8 1088.0,864.0 1090.0,864.2 1092.0,863.9 1094.0,863.7 1096.0,863.9 1098.0,863.8 1106.6,857.8 1107.3,858.1 1108.7,857.9 1110.1,858.8 1111.5,858.3 1112.9,859.4 1114.3,859.3 1115.7,859.5 1117.1,859.4 1118.5,859.9 1119.9,859.5 1121.3,859.0 1122.7,859.1 1124.1,859.4 1126.1,859.1 1128.1,859.7 1130.1,859.9 1132.1,859.2 1134.1,859.1 1136.1,859.4 1138.1,859.5 1140.1,859.5 1142.1,859.9 1144.1,859.1 1146.1,859.0 1148.1,859.9 1150.1,860.1 1152.1,859.3 1154.1,859.8 1156.1,859.9 1158.1,859.3 1160.1,859.2 1162.1,859.6 1164.1,859.1 1166.1,859.6 1168.1,860.0 1170.1,859.8 1172.1,858.9 1174.1,859.6 1176.1,859.2 1178.1,859.1 1180.1,859.5 1182.1,859.1 1184.1,859.6 1186.1,859.4 1188.1,859.6 1190.1,860.1 1192.1,859.0 1194.1,859.1 1196.1,859.2 1198.1,859.3 1200.1,860.0 1202.1,859.2 1204.1,859.7 1206.1,859.5 1208.1,859.3 1210.1,859.8 1212.1,859.7 1214.1,859.9 1216.1,859.9 1218.1,860.1 1220.1,859.2 1222.1,859.9 1224.1,859.3 1226.1,859.2 1228.1,859.0 1230.1,859.5 1232.1,859.2 1234.1,859.9 1236.1,859.2 1238.1,859.2 1240.1,859.1 1242.1,859.8 1244.1,859.6 1246.1,859.7 1248.1,859.3 1250.0,859.5" stroke="#000" stroke-width="1.0"/>
<polyline points="1098.9,836.4 1099.2,843.8 1099.5,848.0 1099.8,850.5 1100.1,852.0 1100.4,853.0 1100.7,853.6 1101.0,854.1 1101.7,855.0 1102.4,855.6 1103.1,856.1 1103.8,856.6 1104.5,857.0 1105.2,857.3 1105.9,857.6 1106.6,857.8" stroke="#222" stroke-width="0.7"/>
<polyline points="1250.3,880.7 1250.6,874.9 1250.9,871.6 1251.2,869.7 1251.5,868.6 1251.8,867.9 1252.1,867.4 1252.8,866.8 1253.5,866.3 1254.2,866.0 1254.9,865.9 1255.6,865.5 1256.3,865.5 1257.0,865.2 1257.7,865.2 1258.4,864.9 1259.8,864.5 1261.2,864.3 1262.6,864.2 1264.0,864.5 1265.4,864.3 1266.8,864.3" stroke="#000" stroke-width="1.0"/>
<polyline points="1098.9,864.0 1098.9,836.4 1098.9,836.4" stroke="#a6a6a6" stroke-width="0.8"/>
<polyline points="1250.0,859.5 1250.0,891.1 1250.0,891.1 1250.3,880.7" stroke="#a6a6a6" stroke-width="0.8"/>
<polyline points="1080.0,863.9 1082.0,864.1 1084.0,864.0 1086.0,863.9 1088.0,863.8 1090.0,863.9 1092.0,863.8 1094.0,864.0 1096.0,864.0 1098.0,864.0 1104.5,858.6 1105.2,858.8 1105.9,858.9 1106.6,859.2 1107.3,859.5 1108.7,859.3 1110.1,860.1 1111.5,859.5 1112.9,860.4 1114.3,859.7 1115.7,859.5 1117.1,859.7 1118.5,860.2 1119.9,860.3 1121.3,859.9 1122.7,860.7 1124.1,860.3 1126.1,860.5 1128.1,860.4 1130.1,860.3 1132.1,860.4 1134.1,860.3 1136.1,859.8 1138.1,860.7 1140.1,860.6 1142.1,860.5 1144.1,859.8 1146.1,860.0 1148.1,859.7 1150.1,860.4 1152.1,860.2 1154.1,860.1 1156.1,860.8 1158.1,860.0 1160.1,860.6 1162.1,860.4 1164.1,860.4 1166.1,860.1 1168.1,860.5 1170.1,860.1 1172.1,859.7 1174.1,860.3 1176.1,860.8 1178.1,860.6 1180.1,859.8 1182.1,860.8 1184.1,859.8 1186.1,859.7 1188.1,860.4 1190.1,860.3 1192.1,860.3 1194.1,860.6 1196.1,860.1 1198.1,859.9 1200.1,859.9 1202.1,860.2 1204.1,859.8 1206.1,860.1 1208.1,859.9 1210.1,860.3 1212.1,860.8 1214.1,860.5 1216.1,859.8 1218.1,860.7 1220.1,860.7 1222.1,860.6 1224.1,860.2 1226.1,860.3 1228.1,860.4 1230.1,860.3 1232.1,860.6 1234.1,859.7 1236.1,860.8 1238.1,860.6 1240.1,860.5 1242.1,860.3 1244.1,860.8 1246.1,860.2 1248.1,860.3 1250.0,860.2" stroke="#000" stroke-width="1.0"/>
<polyline points="1098.9,845.6 1098.9,845.6 1099.2,850.2 1099.5,852.8 1099.8,854.3 1100.1,855.3 1100.4,855.9 1100.7,856.4 1101.0,856.7 1101.7,857.2 1102.4,857.7 1103.1,858.0 1103.8,858.3 1104.5,858.6" stroke="#222" stroke-width="0.7"/>
<polyline points="1250.0,882.1 1250.3,875.1 1250.6,871.3 1250.9,869.1 1251.2,867.8 1251.5,867.1 1251.8,866.6 1252.1,866.3 1252.8,865.9 1253.5,865.6 1254.2,865.6 1254.9,865.4 1255.6,864.8 1256.3,864.8 1257.0,865.0 1257.7,865.0 1258.4,864.6 1259.8,864.3 1261.2,864.6 1262.6,864.0 1264.0,863.9 1265.4,864.2 1266.8,864.1" stroke="#000" stroke-width="1.0"/>
<polyline points="1098.9,864.0 1098.9,845.6" stroke="#a6a6a6" stroke-width="0.8"/>
<polyline points="1250.0,860.2 1250.0,882.1 1250.0,882.1" stroke="#a6a6a6" stroke-width="0.8"/>
<polyline points="1080.0,864.0 1082.0,863.7 1084.0,864.1 1086.0,863.9 1088.0,864.0 1090.0,863.9 1092.0,863.9 1094.0,863.7 1096.0,864.1 1098.0,863.8 1101.0,859.2 1101.7,859.4 1102.4,859.2 1103.1,860.2 1103.8,860.6 1104.5,860.7 1105.2,860.2 1105.9,860.5 1106.6,860.1 1107.3,860.3 1108.7,860.1 1110.1,861.2 1111.5,860.4 1112.9,860.7 1114.3,860.9 1115.7,861.1 1117.1,860.6 1118.5,861.0 1119.9,860.5 1121.3,860.7 1122.7,861.4 1124.1,860.7 1126.1,861.0 1128.1,860.9 1130.1,860.7 1132.1,860.5 1134.1,861.6 1136.1,860.8 1138.1,861.3 1140.1,861.0 1142.1,861.4 1144.1,861.5 1146.1,861.2 1148.1,860.5 1150.1,860.8 1152.1,860.9 1154.1,860.7 1156.1,861.4 1158.1,861.3 1160.1,861.1 1162.1,861.6 1164.1,861.1 1166.1,860.6 1168.1,861.3 1170.1,860.5 1172.1,861.4 1174.1,860.9 1176.1,860.8 1178.1,861.4 1180.1,861.3 1182.1,861.0 1184.1,860.7 1186.1,861.5 1188.1,860.9 1190.1,861.3 1192.1,861.6 1194.1,861.5 1196.1,861.5 1198.1,860.7 1200.1,861.3 1202.1,860.9 1204.1,861.3 1206.1,861.1 1208.1,860.8 1210.1,861.0 1212.1,861.1 1214.1,860.6 1216.1,860.5 1218.1,860.4 1220.1,860.8 1222.1,861.0 1224.1,861.0 1226.1,861.1 1228.1,861.5 1230.1,860.8 1232.1,860.7 1234.1,861.0 1236.1,860.7 1238.1,861.5 1240.1,860.6 1242.1,860.8 1244.1,860.8 1246.1,860.6 1248.1,860.7 1250.0,861.0" stroke="#000" stroke-width="1.0"/>
<polyline points="1098.9,854.8 1098.9,854.8 1099.2,856.6 1099.5,857.6 1099.8,858.2 1100.1,858.6 1100.4,858.9 1100.7,859.1 1101.0,859.2" stroke="#222" stroke-width="0.7"/>
<polyline points="1250.0,873.0 1250.0,873.0 1250.3,869.6 1250.6,867.6 1250.9,866.5 1251.2,865.9 1251.5,865.5 1251.8,865.5 1252.1,865.0 1252.8,864.7 1253.5,864.7 1254.2,864.6 1254.9,864.6 1255.6,864.3 1256.3,864.5 1257.0,864.4 1257.7,864.5 1258.4,864.1 1259.8,864.3 1261.2,863.9 1262.6,863.8 1264.0,864.0 1265.4,864.2 1266.8,863.8" stroke="#000" stroke-width="1.0"/>
<polyline points="1098.9,864.0 1098.9,854.8" stroke="#a6a6a6" stroke-width="0.8"/>
<polyline points="1250.0,861.0 1250.0,873.0" stroke="#a6a6a6" stroke-width="0.8"/>
<polyline points="1080.0,863.9 1082.0,864.2 1084.0,863.9 1086.0,863.7 1088.0,864.1 1090.0,864.2 1092.0,864.0 1094.0,863.8 1096.0,864.1 1098.0,864.3 1098.9,864.0 1099.2,863.1 1099.5,862.5 1099.8,862.6 1100.1,862.3 1100.4,861.7 1100.7,862.1 1101.0,862.0 1101.7,862.1 1102.4,861.4 1103.1,861.7 1103.8,861.6 1104.5,861.6 1105.2,861.9 1105.9,861.9 1106.6,861.3 1107.3,861.5 1108.7,862.1 1110.1,861.3 1111.5,861.3 1112.9,862.0 1114.3,861.3 1115.7,861.8 1117.1,862.1 1118.5,861.2 1119.9,862.0 1121.3,861.3 1122.7,861.4 1124.1,862.1 1126.1,861.9 1128.1,862.3 1130.1,861.4 1132.1,861.4 1134.1,861.4 1136.1,862.2 1138.1,861.3 1140.1,861.9 1142.1,862.0 1144.1,861.3 1146.1,862.3 1148.1,862.2 1150.1,862.3 1152.1,861.8 1154.1,861.3 1156.1,861.6 1158.1,861.5 1160.1,861.9 1162.1,861.9 1164.1,862.2 1166.1,861.9 1168.1,861.8 1170.1,861.6 1172.1,861.2 1174.1,861.4 1176.1,862.0 1178.1,861.2 1180.1,861.5 1182.1,861.3 1184.1,862.2 1186.1,862.3 1188.1,862.1 1190.1,862.0 1192.1,862.2 1194.1,862.3 1196.1,861.5 1198.1,861.5 1200.1,861.2 1202.1,861.3 1204.1,861.9 1206.1,861.2 1208.1,861.7 1210.1,862.0 1212.1,861.5 1214.1,862.0 1216.1,861.4 1218.1,861.3 1220.1,861.5 1222.1,861.5 1224.1,862.0 1226.1,861.5 1228.1,862.0 1230.1,861.3 1232.1,861.4 1234.1,861.5 1236.1,862.1 1238.1,861.5 1240.1,861.3 1242.1,861.2 1244.1,861.9 1246.1,861.3 1248.1,862.0 1250.0,861.8" stroke="#000" stroke-width="1.0"/>
<polyline points="1098.9,864.0 1098.9,864.0" stroke="#222" stroke-width="0.7"/>
<polyline points="1250.0,864.0 1250.0,863.8 1250.3,863.9 1250.6,864.2 1250.9,864.1 1251.2,863.7 1251.5,864.1 1251.8,864.2 1252.1,863.9 1252.8,864.1 1253.5,863.9 1254.2,864.0 1254.9,864.1 1255.6,863.8 1256.3,863.9 1257.0,864.2 1257.7,863.9 1258.4,863.9 1259.8,863.9 1261.2,864.2 1262.6,863.9 1264.0,863.7 1265.4,864.2 1266.8,864.1" stroke="#000" stroke-width="1.0"/>
<polyline points="1098.9,864.0 1098.9,864.0" stroke="#a6a6a6" stroke-width="0.8"/>
<polyline points="1250.0,861.8 1250.0,864.0" stroke="#a6a6a6" stroke-width="0.8"/>
<polyline points="1080.0,863.8 1082.0,864.0 1084.0,864.3 1086.0,863.8 1088.0,863.9 1090.0,864.1 1092.0,864.2 1094.0,864.1 1096.0,863.8 1098.0,863.8 1101.7,864.0 1102.4,863.4 1103.1,863.6 1103.8,863.9 1104.5,863.5 1105.2,863.5 1105.9,863.2 1106.6,863.3 1107.3,863.3 1108.7,863.2 1110.1,863.0 1111.5,862.7 1112.9,862.7 1114.3,862.2 1115.7,862.2 1117.1,862.9 1118.5,862.8 1119.9,862.0 1121.3,862.5 1122.7,863.0 1124.1,862.6 1126.1,862.7 1128.1,862.4 1130.1,863.0 1132.1,862.6 1134.1,862.2 1136.1,862.7 1138.1,862.5 1140.1,863.0 1142.1,862.2 1144.1,862.3 1146.1,862.4 1148.1,862.0 1150.1,862.6 1152.1,862.7 1154.1,861.9 1156.1,863.1 1158.1,862.7 1160.1,862.1 1162.1,861.9 1164.1,862.2 1166.1,862.7 1168.1,862.4 1170.1,862.2 1172.1,862.9 1174.1,862.9 1176.1,862.8 1178.1,862.9 1180.1,863.0 1182.1,862.6 1184.1,862.7 1186.1,862.2 1188.1,862.1 1190.1,862.5 1192.1,862.9 1194.1,862.2 1196.1,862.1 1198.1,862.5 1200.1,862.3 1202.1,862.0 1204.1,862.5 1206.1,862.6 1208.1,862.0 1210.1,863.0 1212.1,863.0 1214.1,862.4 1216.1,862.1 1218.1,862.0 1220.1,862.5 1222.1,862.0 1224.1,862.1 1226.1,862.4 1228.1,862.5 1230.1,862.6 1232.1,862.8 1234.1,862.4 1236.1,862.1 1238.1,862.6 1240.1,863.0 1242.1,862.5 1244.1,862.3 1246.1,862.7 1248.1,862.9 1250.0,862.5" stroke="#000" stroke-width="1.0"/>
<polyline points="1098.9,872.7 1098.9,872.7 1099.2,869.1 1099.5,867.1 1099.8,865.9 1100.1,865.2 1100.4,864.8 1100.7,864.5 1101.0,864.3 1101.7,864.0" stroke="#222" stroke-width="0.7"/>
<polyline points="1250.0,854.5 1250.0,854.5 1250.3,858.2 1250.6,860.2 1250.9,861.4 1251.2,861.8 1251.5,862.5 1251.8,862.8 1252.1,862.6 1252.8,863.4 1253.5,863.1 1254.2,863.4 1254.9,863.5 1255.6,863.3 1256.3,863.4 1257.0,863.3 1257.7,863.7 1258.4,864.0 1259.8,864.0 1261.2,863.7 1262.6,864.0 1264.0,863.8 1265.4,864.0 1266.8,863.9" stroke="#000" stroke-width="1.0"/>
<polyline points="1098.9,864.0 1098.9,872.7" stroke="#a6a6a6" stroke-width="0.8"/>
<polyline points="1250.0,862.5 1250.0,854.5" stroke="#a6a6a6" stroke-width="0.8"/>
<polyline points="1080.0,864.3 1082.0,863.8 1084.0,864.2 1086.0,864.2 1088.0,864.2 1090.0,864.1 1092.0,864.1 1094.0,863.7 1096.0,864.3 1098.0,863.8 1104.5,864.9 1105.2,864.8 1105.9,864.9 1106.6,864.9 1107.3,864.6 1108.7,864.2 1110.1,863.2 1111.5,863.6 1112.9,863.8 1114.3,863.2 1115.7,863.1 1117.1,863.3 1118.5,863.8 1119.9,862.9 1121.3,863.9 1122.7,863.5 1124.1,863.5 1126.1,863.5 1128.1,863.4 1130.1,863.2 1132.1,863.1 1134.1,863.6 1136.1,863.0 1138.1,863.7 1140.1,862.9 1142.1,863.5 1144.1,863.6 1146.1,863.4 1148.1,863.6 1150.1,863.2 1152.1,863.0 1154.1,863.7 1156.1,862.8 1158.1,863.8 1160.1,863.5 1162.1,862.9 1164.1,863.4 1166.1,862.7 1168.1,862.8 1170.1,863.5 1172.1,862.8 1174.1,862.7 1176.1,863.3 1178.1,863.8 1180.1,863.2 1182.1,863.6 1184.1,862.8 1186.1,862.8 1188.1,862.7 1190.1,862.7 1192.1,862.7 1194.1,862.8 1196.1,863.8 1198.1,862.9 1200.1,862.7 1202.1,862.7 1204.1,863.2 1206.1,863.6 1208.1,863.3 1210.1,863.5 1212.1,862.9 1214.1,863.5 1216.1,863.2 1218.1,862.8 1220.1,863.8 1222.1,863.2 1224.1,863.8 1226.1,863.7 1228.1,863.7 1230.1,862.8 1232.1,862.8 1234.1,863.6 1236.1,863.8 1238.1,862.7 1240.1,863.7 1242.1,863.0 1244.1,863.3 1246.1,863.6 1248.1,863.3 1250.0,863.2" stroke="#000" stroke-width="1.0"/>
<polyline points="1098.9,881.4 1099.2,875.2 1099.5,871.8 1099.8,869.7 1100.1,868.5 1100.4,867.7 1100.7,867.2 1101.0,866.9 1101.7,866.3 1102.4,865.8 1103.1,865.5 1103.8,865.2 1104.5,864.9" stroke="#222" stroke-width="0.7"/>
<polyline points="1250.0,845.0 1250.3,852.3 1250.6,856.4 1250.9,858.8 1251.2,860.1 1251.5,860.9 1251.8,861.4 1252.1,861.7 1252.8,862.1 1253.5,862.2 1254.2,862.8 1254.9,862.9 1255.6,862.8 1256.3,862.8 1257.0,863.2 1257.7,863.1 1258.4,863.7 1259.8,863.3 1261.2,863.4 1262.6,863.9 1264.0,864.1 1265.4,863.8 1266.8,863.7" stroke="#000" stroke-width="1.0"/>
<polyline points="1098.9,864.0 1098.9,881.4 1098.9,881.4" stroke="#a6a6a6" stroke-width="0.8"/>
<polyline points="1250.0,863.2 1250.0,845.0 1250.0,845.0" stroke="#a6a6a6" stroke-width="0.8"/>
<polyline points="1080.0,863.9 1082.0,864.1 1084.0,863.9 1086.0,863.8 1088.0,864.3 1090.0,863.9 1092.0,864.0 1094.0,863.8 1096.0,863.8 1098.0,863.8 1106.6,865.7 1107.3,865.5 1108.7,865.5 1110.1,864.3 1111.5,865.0 1112.9,864.6 1114.3,864.9 1115.7,864.8 1117.1,863.9 1118.5,863.7 1119.9,864.0 1121.3,864.2 1122.7,864.6 1124.1,864.4 1126.1,864.2 1128.1,864.5 1130.1,863.6 1132.1,864.4 1134.1,863.9 1136.1,864.0 1138.1,864.5 1140.1,863.8 1142.1,863.4 1144.1,863.7 1146.1,863.5 1148.1,864.1 1150.1,863.9 1152.1,864.0 1154.1,863.8 1156.1,864.4 1158.1,864.5 1160.1,863.5 1162.1,864.1 1164.1,863.4 1166.1,863.6 1168.1,864.1 1170.1,863.9 1172.1,864.0 1174.1,864.0 1176.1,864.5 1178.1,864.5 1180.1,864.0 1182.1,863.5 1184.1,863.8 1186.1,863.5 1188.1,863.6 1190.1,864.4 1192.1,864.3 1194.1,863.8 1196.1,864.4 1198.1,863.9 1200.1,863.4 1202.1,864.4 1204.1,864.1 1206.1,864.5 1208.1,863.8 1210.1,863.4 1212.1,864.4 1214.1,863.9 1216.1,864.2 1218.1,864.3 1220.1,864.5 1222.1,863.7 1224.1,863.6 1226.1,864.0 1228.1,863.8 1230.1,864.4 1232.1,864.4 1234.1,864.0 1236.1,864.4 1238.1,863.9 1240.1,864.4 1242.1,863.7 1244.1,864.6 1246.1,864.5 1248.1,863.9 1250.0,864.0" stroke="#000" stroke-width="1.0"/>
<polyline points="1099.2,881.4 1099.5,876.4 1099.8,873.5 1100.1,871.8 1100.4,870.7 1100.7,869.9 1101.0,869.4 1101.7,868.5 1102.4,867.9 1103.1,867.4 1103.8,866.9 1104.5,866.5 1105.2,866.2 1105.9,865.9 1106.6,865.7" stroke="#222" stroke-width="0.7"/>
<polyline points="1250.3,846.5 1250.6,852.7 1250.9,856.1 1251.2,858.2 1251.5,859.3 1251.8,860.1 1252.1,860.6 1252.8,861.2 1253.5,861.7 1254.2,862.0 1254.9,862.4 1255.6,862.2 1256.3,862.9 1257.0,863.0 1257.7,863.1 1258.4,863.1 1259.8,863.2 1261.2,863.8 1262.6,863.5 1264.0,863.9 1265.4,863.9 1266.8,864.1" stroke="#000" stroke-width="1.0"/>
<polyline points="1098.9,864.0 1098.9,890.0 1098.9,890.0 1099.2,881.4" stroke="#a6a6a6" stroke-width="0.8"/>
<polyline points="1250.0,864.0 1250.0,835.4 1250.0,835.4 1250.3,846.5" stroke="#a6a6a6" stroke-width="0.8"/>
<polyline points="1080.0,864.0 1082.0,863.8 1084.0,864.0 1086.0,863.8 1088.0,864.3 1090.0,864.2 1092.0,863.9 1094.0,863.9 1096.0,863.8 1098.0,863.7 1107.3,866.7 1108.7,866.2 1110.1,865.9 1111.5,865.1 1112.9,865.1 1114.3,865.0 1115.7,865.4 1117.1,864.6 1118.5,865.3 1119.9,865.3 1121.3,864.8 1122.7,864.8 1124.1,864.5 1126.1,864.5 1128.1,864.5 1130.1,865.2 1132.1,865.1 1134.1,865.1 1136.1,865.1 1138.1,864.9 1140.1,864.6 1142.1,864.3 1144.1,865.0 1146.1,865.0 1148.1,864.3 1150.1,864.8 1152.1,865.0 1154.1,864.2 1156.1,865.1 1158.1,864.6 1160.1,864.3 1162.1,864.3 1164.1,865.3 1166.1,865.0 1168.1,865.3 1170.1,865.3 1172.1,865.2 1174.1,864.3 1176.1,864.8 1178.1,865.2 1180.1,865.1 1182.1,865.0 1184.1,864.4 1186.1,864.2 1188.1,865.0 1190.1,864.2 1192.1,864.8 1194.1,864.8 1196.1,864.8 1198.1,864.9 1200.1,865.3 1202.1,864.8 1204.1,865.2 1206.1,865.1 1208.1,864.8 1210.1,864.7 1212.1,864.3 1214.1,865.1 1216.1,864.2 1218.1,864.2 1220.1,865.2 1222.1,864.3 1224.1,864.5 1226.1,865.2 1228.1,865.0 1230.1,864.7 1232.1,864.9 1234.1,864.7 1236.1,865.2 1238.1,864.9 1240.1,864.2 1242.1,864.9 1244.1,865.0 1246.1,864.3 1248.1,864.6 1250.0,864.8" stroke="#000" stroke-width="1.0"/>
<polyline points="1099.2,887.5 1099.5,881.1 1099.8,877.3 1100.1,875.1 1100.4,873.6 1100.7,872.6 1101.0,871.9 1101.7,870.8 1102.4,869.9 1103.1,869.2 1103.8,868.7 1104.5,868.1 1105.2,867.7 1105.9,867.3 1106.6,867.0 1107.3,866.7" stroke="#222" stroke-width="0.7"/>
<polyline points="1250.3,840.6 1250.6,848.9 1250.9,853.5 1251.2,856.2 1251.5,857.8 1251.8,858.8 1252.1,859.4 1252.8,860.3 1253.5,860.9 1254.2,861.3 1254.9,861.7 1255.6,862.0 1256.3,862.1 1257.0,862.3 1257.7,862.5 1258.4,862.7 1259.8,863.2 1261.2,863.5 1262.6,863.3 1264.0,863.4 1265.4,863.5 1266.8,863.6" stroke="#000" stroke-width="1.0"/>
<polyline points="1098.9,864.0 1098.9,898.7 1098.9,898.7 1099.2,887.5" stroke="#a6a6a6" stroke-width="0.8"/>
<polyline points="1250.0,864.8 1250.0,825.9 1250.0,825.9 1250.3,840.6" stroke="#a6a6a6" stroke-width="0.8"/>
<polyline points="1080.0,864.2 1082.0,864.3 1084.0,864.1 1086.0,864.1 1088.0,864.2 1090.0,864.1 1092.0,864.3 1094.0,863.8 1096.0,863.8 1098.0,864.0 1108.7,867.3 1110.1,867.2 1111.5,866.6 1112.9,866.3 1114.3,865.9 1115.7,865.9 1117.1,866.1 1118.5,865.8 1119.9,866.2 1121.3,865.6 1122.7,865.4 1124.1,866.2 1126.1,865.9 1128.1,866.1 1130.1,865.5 1132.1,865.9 1134.1,865.5 1136.1,865.0 1138.1,865.4 1140.1,865.0 1142.1,865.6 1144.1,865.9 1146.1,865.7 1148.1,865.4 1150.1,865.6 1152.1,865.6 1154.1,865.3 1156.1,865.8 1158.1,865.0 1160.1,865.3 1162.1,865.5 1164.1,866.0 1166.1,865.5 1168.1,865.5 1170.1,865.8 1172.1,865.2 1174.1,865.4 1176.1,865.4 1178.1,865.0 1180.1,865.9 1182.1,865.5 1184.1,865.4 1186.1,865.4 1188.1,865.7 1190.1,865.5 1192.1,865.8 1194.1,865.5 1196.1,865.5 1198.1,865.4 1200.1,865.4 1202.1,866.0 1204.1,866.0 1206.1,865.9 1208.1,865.6 1210.1,865.8 1212.1,865.7 1214.1,865.8 1216.1,865.8 1218.1,865.1 1220.1,866.1 1222.1,865.5 1224.1,865.6 1226.1,865.6 1228.1,865.6 1230.1,865.6 1232.1,865.5 1234.1,865.3 1236.1,866.0 1238.1,865.2 1240.1,865.1 1242.1,865.9 1244.1,865.7 1246.1,865.6 1248.1,865.3 1250.0,865.5" stroke="#000" stroke-width="1.0"/>
<polyline points="1099.2,893.6 1099.5,885.7 1099.8,881.1 1100.1,878.3 1100.4,876.6 1100.7,875.4 1101.0,874.5 1101.7,873.0 1102.4,872.0 1103.1,871.1 1103.8,870.4 1104.5,869.7 1105.2,869.2 1105.9,868.7 1106.6,868.3 1107.3,867.9 1108.7,867.3" stroke="#222" stroke-width="0.7"/>
<polyline points="1250.6,845.1 1250.9,850.9 1251.2,854.3 1251.5,856.2 1251.8,857.5 1252.1,858.3 1252.8,859.4 1253.5,860.1 1254.2,860.6 1254.9,861.1 1255.6,861.5 1256.3,861.8 1257.0,862.3 1257.7,862.5 1258.4,862.7 1259.8,863.0 1261.2,863.0 1262.6,863.2 1264.0,863.6 1265.4,863.7 1266.8,863.6" stroke="#000" stroke-width="1.0"/>
<polyline points="1098.9,864.0 1098.9,907.4 1098.9,907.4 1099.2,893.6" stroke="#a6a6a6" stroke-width="0.8"/>
<polyline points="1250.0,865.5 1250.0,816.4 1250.0,816.4 1250.3,834.8 1250.6,845.1" stroke="#a6a6a6" stroke-width="0.8"/>
</g>
<line x1="29.5" y1="404.3" x2="1293" y2="404.3" stroke="#848484" stroke-width="5" stroke-dasharray="20 16.07" stroke-dashoffset="18.95"/>
<line x1="29.3" y1="861.3" x2="1297.4" y2="861.3" stroke="#848484" stroke-width="5" stroke-dasharray="20 16.05" stroke-dashoffset="13.65"/>
<text transform="translate(52.06,73.00) scale(0.9727,1)" font-size="55.71" fill="#000" >A</text>
<rect x="107.6" y="44.7" width="212.4" height="39.8" fill="#95b3d7" stroke="#000" stroke-width="2"/>
<text transform="translate(125.47,76.76) scale(0.9842,1)" font-size="33.64" fill="#000" >HEK 293 WT</text>
<rect x="880" y="45" width="380.8" height="39" fill="#95b3d7" stroke="#000" stroke-width="2"/>
<text transform="translate(888.46,77.07) scale(0.9940,1)" font-size="33.36" fill="#000" >HEK 293 LRRC8A KO</text>
<text transform="translate(148.42,141.03) scale(0.9834,1)" font-size="26.80" fill="#000" >140 NMDGCl</text>
<path d="M305.8,107.4 L344.5,150.9 L351.2,153.2 A39.5,39.5 0 1 1 322.3,198.9 L315.9,192.7 L262.0,171.0" fill="none" stroke="#000" stroke-width="2.9" stroke-linejoin="round"/>
<path d="M302.1,519.7 L340.8,563.2 L347.5,565.5 A39.5,39.5 0 1 1 318.6,611.2 L312.2,605.0 L258.3,583.3" fill="none" stroke="#000" stroke-width="2.9" stroke-linejoin="round"/>
<text transform="translate(118.66,271.67) scale(1.0286,1)" font-size="32.97" fill="#000" >Iso</text>
<text transform="translate(322.54,271.67) scale(1.0032,1)" font-size="32.97" fill="#000" >Iso+</text>
<text transform="translate(303.46,311.07) scale(1.0199,1)" font-size="32.51" fill="#000" >DCPIB</text>
<text transform="translate(500.69,187.54) scale(0.9947,1)" font-size="33.07" fill="#000" >Hypo</text>
<text transform="translate(683.09,187.54) scale(0.9925,1)" font-size="33.07" fill="#000" >Hypo+</text>
<text transform="translate(680.79,226.68) scale(1.0433,1)" font-size="31.52" fill="#000" >DCPIB</text>
<text transform="translate(949.98,271.47) scale(1.0103,1)" font-size="33.41" fill="#000" >Iso</text>
<text transform="translate(1125.77,271.62) scale(0.9835,1)" font-size="33.63" fill="#000" >Hypo</text>
<text transform="translate(979.55,504.57) scale(0.9807,1)" font-size="33.36" fill="#000" >100 ms</text>
<text transform="translate(876.29,570.67) scale(0.9924,1)" font-size="32.93" fill="#000" >500 pA</text>
<text transform="translate(51.70,559.60) scale(1.0091,1)" font-size="55.27" fill="#000" >B</text>
<text transform="translate(188.70,567.53) scale(0.9737,1)" font-size="27.42" fill="#000" >140 GSH</text>
<text transform="translate(118.66,674.96) scale(0.9982,1)" font-size="33.98" fill="#000" >Iso</text>
<text transform="translate(324.41,674.96) scale(0.9835,1)" font-size="33.98" fill="#000" >Iso+</text>
<text transform="translate(305.47,713.47) scale(1.0189,1)" font-size="32.51" fill="#000" >DCPIB</text>
<text transform="translate(500.59,674.48) scale(0.9577,1)" font-size="34.30" fill="#000" >Hypo</text>
<text transform="translate(696.68,674.48) scale(0.9622,1)" font-size="34.30" fill="#000" >Hypo+</text>
<text transform="translate(694.27,713.47) scale(1.0189,1)" font-size="32.51" fill="#000" >DCPIB</text>
<text transform="translate(950.94,675.25) scale(0.9807,1)" font-size="34.84" fill="#000" >Iso</text>
<text transform="translate(1145.59,674.88) scale(0.9590,1)" font-size="34.30" fill="#000" >Hypo</text>
<rect x="1008.9" y="518.1" width="41.2" height="5.8" fill="#000"/>
<rect x="993.1" y="529.5" width="4.9" height="58.1" fill="#000"/>
<text transform="translate(51.36,1045.24) scale(0.9826,1)" font-size="55.83" fill="#000" >C</text>
<text transform="translate(148.50,1079.37) scale(1.0164,1)" font-size="32.92" fill="#000" >I [pA]</text>
<text transform="translate(494.03,1425.92) scale(1.0605,1)" font-size="31.21" fill="#000" >V [mV]</text>
<line x1="31" y1="1320.5" x2="611.5" y2="1320.5" stroke="#000" stroke-width="2.6"/>
<line x1="353.6" y1="970.2" x2="353.6" y2="1586" stroke="#000" stroke-width="2.8"/>
<line x1="31.9" y1="1320.5" x2="31.9" y2="1332.2" stroke="#000" stroke-width="2.6"/>
<line x1="96.6" y1="1320.5" x2="96.6" y2="1332.2" stroke="#000" stroke-width="2.6"/>
<line x1="160.5" y1="1320.5" x2="160.5" y2="1332.2" stroke="#000" stroke-width="2.6"/>
<line x1="223.3" y1="1320.5" x2="223.3" y2="1332.2" stroke="#000" stroke-width="2.6"/>
<line x1="288" y1="1320.5" x2="288" y2="1332.2" stroke="#000" stroke-width="2.6"/>
<line x1="418.3" y1="1320.5" x2="418.3" y2="1332.2" stroke="#000" stroke-width="2.6"/>
<line x1="480.4" y1="1320.5" x2="480.4" y2="1332.2" stroke="#000" stroke-width="2.6"/>
<line x1="545.5" y1="1320.5" x2="545.5" y2="1332.2" stroke="#000" stroke-width="2.6"/>
<line x1="610.5" y1="1320.5" x2="610.5" y2="1332.2" stroke="#000" stroke-width="2.6"/>
<line x1="341.7" y1="971.5" x2="353.6" y2="971.5" stroke="#000" stroke-width="2.8"/>
<line x1="341.7" y1="1059.3" x2="353.6" y2="1059.3" stroke="#000" stroke-width="2.8"/>
<line x1="341.7" y1="1147.5" x2="353.6" y2="1147.5" stroke="#000" stroke-width="2.8"/>
<line x1="341.7" y1="1234.6" x2="353.6" y2="1234.6" stroke="#000" stroke-width="2.8"/>
<line x1="341.7" y1="1408.2" x2="353.6" y2="1408.2" stroke="#000" stroke-width="2.8"/>
<line x1="341.7" y1="1496.4" x2="353.6" y2="1496.4" stroke="#000" stroke-width="2.8"/>
<line x1="341.7" y1="1584.7" x2="353.6" y2="1584.7" stroke="#000" stroke-width="2.8"/>
<line x1="94" y1="1525.2" x2="94" y2="1508" stroke="#555555" stroke-width="2.6"/><line x1="85.3" y1="1508" x2="102.7" y2="1508" stroke="#555555" stroke-width="2.8"/>
<line x1="147.4" y1="1490" x2="147.4" y2="1475.2" stroke="#555555" stroke-width="2.6"/><line x1="138.70000000000002" y1="1475.2" x2="156.1" y2="1475.2" stroke="#555555" stroke-width="2.8"/>
<line x1="197.3" y1="1451.9" x2="197.3" y2="1436.7" stroke="#555555" stroke-width="2.6"/><line x1="188.60000000000002" y1="1436.7" x2="206.0" y2="1436.7" stroke="#555555" stroke-width="2.8"/>
<line x1="456.9" y1="1196.2" x2="456.9" y2="1180.3" stroke="#555555" stroke-width="2.6"/><line x1="448.2" y1="1180.3" x2="465.59999999999997" y2="1180.3" stroke="#555555" stroke-width="2.8"/>
<line x1="507.7" y1="1137.9" x2="507.7" y2="1112" stroke="#555555" stroke-width="2.6"/><line x1="499.0" y1="1112" x2="516.4" y2="1112" stroke="#555555" stroke-width="2.8"/>
<line x1="560.7" y1="1087.7" x2="560.7" y2="1058" stroke="#555555" stroke-width="2.6"/><line x1="552.0" y1="1058" x2="569.4000000000001" y2="1058" stroke="#555555" stroke-width="2.8"/>
<line x1="610.9" y1="1055.3" x2="610.9" y2="1006.6" stroke="#555555" stroke-width="2.6"/><line x1="602.1999999999999" y1="1006.6" x2="619.6" y2="1006.6" stroke="#555555" stroke-width="2.8"/>
<polyline points="94.0,1525.2 147.4,1490.0 197.3,1451.9 250.2,1410.6 301.0,1363.6 353.9,1313.7 403.8,1254.7 456.9,1196.2 507.7,1137.9 560.7,1087.7 610.9,1055.3" fill="none" stroke="#828282" stroke-width="6"/>
<circle cx="94" cy="1525.2" r="16" fill="#828282"/>
<circle cx="147.4" cy="1490" r="16" fill="#828282"/>
<circle cx="197.3" cy="1451.9" r="16" fill="#828282"/>
<circle cx="250.2" cy="1410.6" r="16" fill="#828282"/>
<circle cx="301" cy="1363.6" r="16" fill="#828282"/>
<circle cx="353.9" cy="1313.7" r="16" fill="#828282"/>
<circle cx="403.8" cy="1254.7" r="16" fill="#828282"/>
<circle cx="456.9" cy="1196.2" r="16" fill="#828282"/>
<circle cx="507.7" cy="1137.9" r="16" fill="#828282"/>
<circle cx="560.7" cy="1087.7" r="16" fill="#828282"/>
<circle cx="610.9" cy="1055.3" r="16" fill="#828282"/>
<line x1="401.2" y1="1190.3" x2="401.2" y2="1171.2" stroke="#555555" stroke-width="2.6"/><line x1="392.5" y1="1171.2" x2="409.9" y2="1171.2" stroke="#555555" stroke-width="2.8"/>
<line x1="451.2" y1="1143.5" x2="451.2" y2="1115.7" stroke="#555555" stroke-width="2.6"/><line x1="442.5" y1="1115.7" x2="459.9" y2="1115.7" stroke="#555555" stroke-width="2.8"/>
<line x1="504.4" y1="1093.8" x2="504.4" y2="1050.7" stroke="#555555" stroke-width="2.6"/><line x1="495.7" y1="1050.7" x2="513.1" y2="1050.7" stroke="#555555" stroke-width="2.8"/>
<line x1="555" y1="1049.7" x2="555" y2="991.8" stroke="#555555" stroke-width="2.6"/><line x1="546.3" y1="991.8" x2="563.7" y2="991.8" stroke="#555555" stroke-width="2.8"/>
<polyline points="40.4,1349.0 90.5,1337.0 144.0,1325.0 194.3,1311.0 247.7,1293.2 297.6,1267.0 351.0,1234.7 401.2,1190.3 451.2,1143.5 504.4,1093.8 555.0,1049.7" fill="none" stroke="#dc2626" stroke-width="6"/>
<rect x="24.599999999999998" y="1333.4" width="31.6" height="31.2" fill="#dc2626"/>
<rect x="74.7" y="1321.4" width="31.6" height="31.2" fill="#dc2626"/>
<rect x="128.2" y="1309.4" width="31.6" height="31.2" fill="#dc2626"/>
<rect x="178.5" y="1295.4" width="31.6" height="31.2" fill="#dc2626"/>
<rect x="231.89999999999998" y="1277.6000000000001" width="31.6" height="31.2" fill="#dc2626"/>
<rect x="281.8" y="1251.4" width="31.6" height="31.2" fill="#dc2626"/>
<rect x="335.2" y="1219.1000000000001" width="31.6" height="31.2" fill="#dc2626"/>
<rect x="385.4" y="1174.7" width="31.6" height="31.2" fill="#dc2626"/>
<rect x="435.4" y="1127.9" width="31.6" height="31.2" fill="#dc2626"/>
<rect x="488.59999999999997" y="1078.2" width="31.6" height="31.2" fill="#dc2626"/>
<rect x="539.2" y="1034.1000000000001" width="31.6" height="31.2" fill="#dc2626"/>
<text transform="translate(266.58,983.25) scale(0.9602,1)" font-size="34.77" fill="#000" >800</text>
<text transform="translate(266.32,1070.36) scale(0.9766,1)" font-size="34.35" fill="#000" >600</text>
<text transform="translate(266.76,1157.76) scale(0.9716,1)" font-size="34.06" fill="#000" >400</text>
<text transform="translate(266.44,1244.47) scale(0.9938,1)" font-size="33.50" fill="#000" >200</text>
<text transform="translate(255.80,1419.46) scale(0.9648,1)" font-size="34.49" fill="#000" >-200</text>
<text transform="translate(255.80,1506.86) scale(0.9808,1)" font-size="33.92" fill="#000" >-400</text>
<text transform="translate(255.80,1594.56) scale(0.9648,1)" font-size="34.49" fill="#000" >-600</text>
<text transform="translate(-0.99,1377.87) scale(0.9925,1)" font-size="33.36" fill="#000" >-125</text>
<text transform="translate(63.42,1377.87) scale(0.9834,1)" font-size="33.36" fill="#000" >-100</text>
<text transform="translate(136.17,1377.86) scale(1.0040,1)" font-size="33.84" fill="#000" >-75</text>
<text transform="translate(201.14,1377.87) scale(0.9725,1)" font-size="33.36" fill="#000" >-50</text>
<text transform="translate(399.69,1377.97) scale(1.0228,1)" font-size="33.36" fill="#000" >25</text>
<text transform="translate(464.99,1377.97) scale(0.9814,1)" font-size="33.36" fill="#000" >50</text>
<text transform="translate(528.85,1377.96) scale(0.9876,1)" font-size="33.84" fill="#000" >75</text>
<text transform="translate(585.13,1377.97) scale(0.9871,1)" font-size="33.36" fill="#000" >100</text>
<line x1="396" y1="1489.1" x2="471" y2="1489.1" stroke="#828282" stroke-width="6" stroke-linecap="round"/>
<circle cx="436.6" cy="1487.2" r="14.8" fill="#828282"/>
<text transform="translate(480.19,1498.44) scale(1.0091,1)" font-size="32.60" fill="#000" >Hypo Cl</text>
<rect x="599.3" y="1483.2" width="4.1" height="2.2" fill="#000"/>
<text transform="translate(604.33,1498.40) scale(1.1429,1)" font-size="32.00" fill="#000" >i</text>
<line x1="396" y1="1536.4" x2="471" y2="1536.4" stroke="#dc2626" stroke-width="6" stroke-linecap="round"/>
<rect x="423.8" y="1523" width="28.2" height="27.6" fill="#dc2626"/>
<text transform="translate(480.17,1541.65) scale(1.0328,1)" font-size="32.06" fill="#000" >Hypo GSHi</text>
<text transform="translate(687.59,1045.00) scale(1.0669,1)" font-size="52.36" fill="#000" >D</text>
<line x1="794" y1="1068.6" x2="794" y2="1546.5" stroke="#000" stroke-width="3.1"/>
<line x1="785.4" y1="1070.2" x2="794" y2="1070.2" stroke="#000" stroke-width="3.1"/>
<line x1="785.4" y1="1227.7" x2="794" y2="1227.7" stroke="#000" stroke-width="3.1"/>
<line x1="785.4" y1="1386.5" x2="794" y2="1386.5" stroke="#000" stroke-width="3.1"/>
<line x1="785.4" y1="1545" x2="794" y2="1545" stroke="#000" stroke-width="3.1"/>
<text transform="translate(765.99,1084.77) scale(0.9753,1)" font-size="33.50" fill="#000" >0</text>
<text transform="translate(736.10,1242.77) scale(0.9925,1)" font-size="33.50" fill="#000" >-50</text>
<text transform="translate(717.61,1400.27) scale(1.0175,1)" font-size="32.65" fill="#000" >-100</text>
<text transform="translate(717.30,1559.27) scale(1.0223,1)" font-size="32.65" fill="#000" >-150</text>
<text transform="translate(705.01,1419.44) rotate(-90) scale(1.0038,1)" font-size="32.71">I [pA] at -120 mV</text>
<line x1="842.4" y1="1140.6" x2="842.4" y2="1483.2" stroke="#000" stroke-width="3.1"/>
<line x1="827.1" y1="1140.6" x2="858.4" y2="1140.6" stroke="#000" stroke-width="3.1"/>
<line x1="827.1" y1="1483.2" x2="858.1" y2="1483.2" stroke="#000" stroke-width="3.1"/>
<rect x="810.55" y="1155.45" width="64.6" height="123" fill="#dc2626" stroke="#000" stroke-width="2.9" stroke-linejoin="round"/>
<line x1="812" y1="1199.2" x2="874" y2="1199.2" stroke="#000" stroke-width="3.1"/>
<line x1="941.4" y1="1108.5" x2="941.4" y2="1205.5" stroke="#000" stroke-width="2.9"/>
<line x1="924.8" y1="1108.5" x2="955.9" y2="1108.5" stroke="#000" stroke-width="2.9"/>
<line x1="925.6" y1="1205.5" x2="955.9" y2="1205.5" stroke="#000" stroke-width="2.9"/>
<rect x="908.35" y="1114.65" width="65.7" height="20.2" fill="#ed7f22" stroke="#000" stroke-width="2.9" stroke-linejoin="round"/>
<line x1="909" y1="1120.5" x2="973.5" y2="1120.5" stroke="#000" stroke-width="2.8"/>
<line x1="846.2" y1="1506.5" x2="930.1" y2="1506.5" stroke="#000" stroke-width="3.2"/>
<text transform="translate(871.90,1553.19) scale(1.0525,1)" font-size="36.78" font-weight="bold" fill="#000" >***</text>
<text transform="translate(807.10,1075.83) scale(0.9600,1)" font-size="34.08" fill="#000" >Hypo</text>
<text transform="translate(902.91,1035.83) scale(0.9569,1)" font-size="34.08" fill="#000" >Hypo+</text>
<text transform="translate(900.18,1076.26) scale(0.9653,1)" font-size="34.20" fill="#000" >DCPIB</text>
<text transform="translate(1031.42,1047.10) scale(1.0054,1)" font-size="52.80" fill="#000" >E</text>
<line x1="1131.7" y1="1040.6" x2="1131.7" y2="1519" stroke="#000" stroke-width="3.1"/>
<line x1="1125" y1="1042.1" x2="1131.7" y2="1042.1" stroke="#000" stroke-width="3.1"/>
<line x1="1125" y1="1160.9" x2="1131.7" y2="1160.9" stroke="#000" stroke-width="3.1"/>
<line x1="1125" y1="1280.1" x2="1131.7" y2="1280.1" stroke="#000" stroke-width="3.1"/>
<line x1="1125" y1="1398.9" x2="1131.7" y2="1398.9" stroke="#000" stroke-width="3.1"/>
<line x1="1125" y1="1517.7" x2="1131.7" y2="1517.7" stroke="#000" stroke-width="3.1"/>
<text transform="translate(1099.27,1055.10) scale(0.9582,1)" font-size="33.89" fill="#000" >4</text>
<text transform="translate(1099.98,1174.06) scale(0.9620,1)" font-size="33.92" fill="#000" >3</text>
<text transform="translate(1099.15,1293.80) scale(1.0198,1)" font-size="34.27" fill="#000" >2</text>
<text transform="translate(1100.59,1411.70) scale(0.7537,1)" font-size="33.75" fill="#000" >1</text>
<text transform="translate(1099.53,1531.47) scale(1.0190,1)" font-size="33.50" fill="#000" >0</text>
<text transform="translate(1069.41,1324.54) rotate(-90) scale(1.0011,1)" font-size="32.71">G [nS]</text>
<line x1="1179.4" y1="1205.1" x2="1179.4" y2="1460.5" stroke="#000" stroke-width="3"/>
<line x1="1165" y1="1205.1" x2="1197.1" y2="1205.1" stroke="#000" stroke-width="3.2"/>
<line x1="1165.1" y1="1460.5" x2="1197" y2="1460.5" stroke="#000" stroke-width="3.2"/>
<rect x="1146.95" y="1288.45" width="64.5" height="140.8" fill="#dc2626" stroke="#000" stroke-width="2.9" stroke-linejoin="round"/>
<line x1="1150" y1="1383.6" x2="1211" y2="1383.6" stroke="#000" stroke-width="2.9"/>
<rect x="1239.65" y="1467.65" width="64.4" height="14.6" fill="#ed7f22" stroke="#000" stroke-width="2.9" stroke-linejoin="round"/>
<line x1="1240.5" y1="1477.7" x2="1303.5" y2="1477.7" stroke="#000" stroke-width="2.5"/>
<line x1="1270.4" y1="1429" x2="1270.4" y2="1489.5" stroke="#000" stroke-width="2.8"/>
<line x1="1254.5" y1="1429" x2="1286" y2="1429" stroke="#000" stroke-width="3"/>
<line x1="1254.2" y1="1487.2" x2="1286.6" y2="1487.2" stroke="#000" stroke-width="2.8"/>
<line x1="1183.2" y1="1164.4" x2="1266.6" y2="1164.4" stroke="#000" stroke-width="3.2"/>
<text transform="translate(1201.81,1163.51) scale(1.1466,1)" font-size="39.43" fill="#000" >***</text>
<text transform="translate(1134.68,1549.79) scale(0.9893,1)" font-size="33.30" fill="#000" >Hypo</text>
<text transform="translate(1222.41,1549.79) scale(0.9794,1)" font-size="33.30" fill="#000" >Hypo+</text>
<text transform="translate(1222.38,1589.37) scale(1.0157,1)" font-size="32.51" fill="#000" >DCPIB</text>
</svg></body></html>
